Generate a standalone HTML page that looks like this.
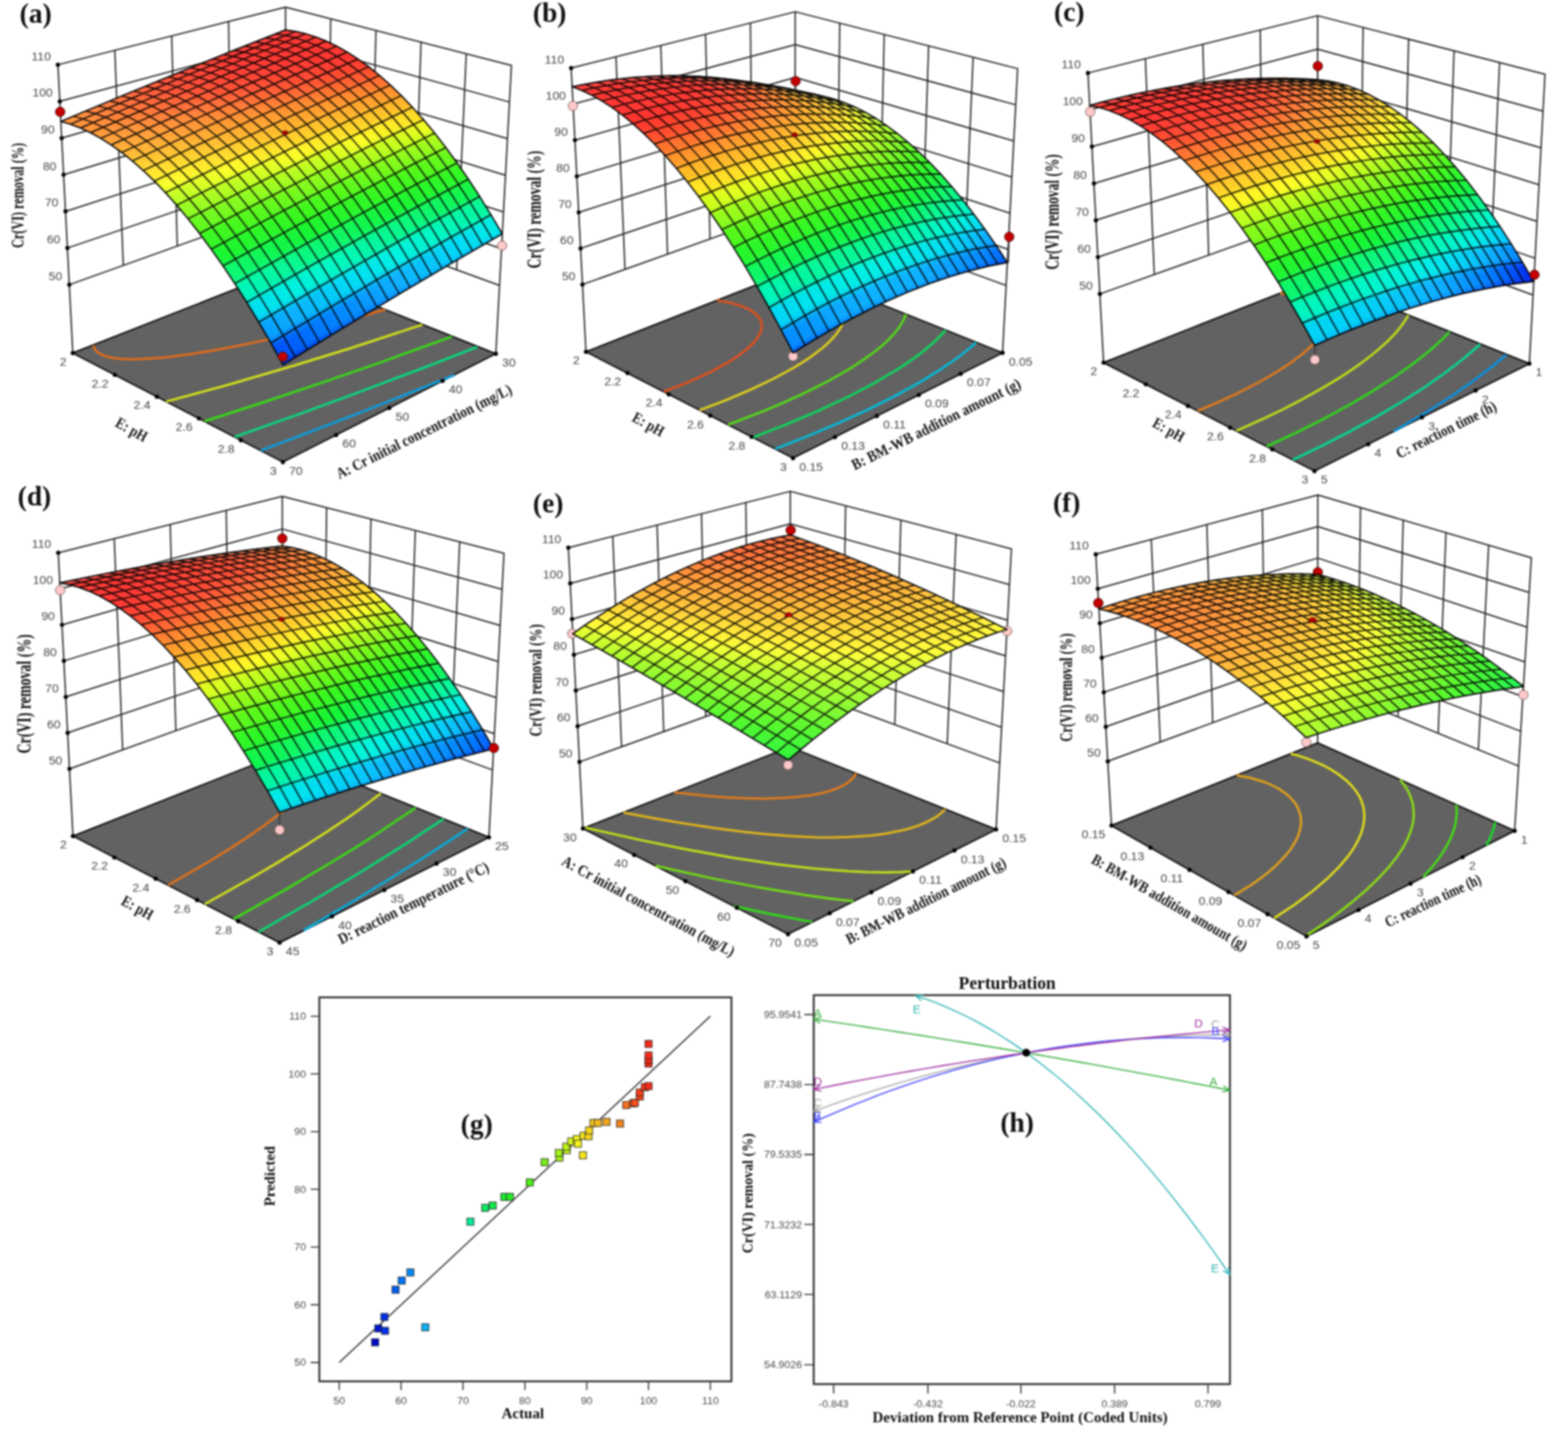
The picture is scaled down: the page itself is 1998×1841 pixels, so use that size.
<!DOCTYPE html>
<html lang="en"><head><meta charset="utf-8"><title>Response surface plots</title>
<style>html,body{margin:0;padding:0;background:#fff}body{width:1998px;height:1841px;overflow:hidden}svg{display:block}</style>
</head><body>
<svg xmlns="http://www.w3.org/2000/svg" width="1998" height="1841" viewBox="0 0 1998 1841">
<defs><filter id="sm" x="-5%" y="-5%" width="110%" height="110%" color-interpolation-filters="sRGB"><feGaussianBlur stdDeviation="4.6"/></filter><filter id="gb" x="0" y="0" width="100%" height="100%" filterUnits="userSpaceOnUse" color-interpolation-filters="sRGB"><feGaussianBlur stdDeviation="0.8"/></filter></defs>
<rect width="1998" height="1841" fill="#fff"/>
<g filter="url(#gb)">
<rect width="1998" height="1841" fill="#fff"/>
<g id="p_a">
<path d="M88.3 362.7L363.4 264.2M363.4 264.2L636.5 363.6M85.9 316L363.5 221.7M363.5 221.7L639 316.9M83.5 269.3L363.5 179.2M363.5 179.2L641.6 270.2M81 222.6L363.6 136.7M363.6 136.7L644.1 223.4M78.6 175.9L363.7 94.2M363.7 94.2L646.6 176.7M76.2 129.2L363.7 51.7M363.7 51.7L649.2 130M73.8 82.5L363.8 9.2M363.8 9.2L651.7 83.3M157.1 338.1L146.3 64.2M225.9 313.5L218.8 45.9M294.6 288.9L291.3 27.5M418 284.1L421.4 24M472.7 304L479 38.8M527.3 323.8L536.5 53.7M581.9 343.7L594.1 68.5M92.8 449.8L73.8 82.5M363.3 343.5L363.8 9.2M631.8 450.7L651.7 83.3" fill="none" stroke="#262626" stroke-width="1.75" stroke-linecap="round"/>
<polygon points="92.8,449.8 360.5,588.7 631.8,450.7 363.3,343.5" fill="#626262" stroke="#111" stroke-width="2" stroke-linejoin="round"/>
<path d="M119 439.9L120.2 443.9L121.2 445.4L122.7 447.4L126.6 450.4L132.1 453L138.2 454.8L145.9 456.3L154.9 457.2L165.2 457.7L176.6 457.6L203.2 456L218.2 454.5L246.6 450.6L270.1 446.8L302.4 440.8L332.1 434.6L368.7 426.3L403.9 417.7L457.3 403.7L490.9 394.4" fill="none" stroke="#e06c1b" stroke-width="3" stroke-linecap="butt" stroke-linejoin="round"/>
<path d="M211.8 511.6L288.1 491L373.1 466.3L446.3 443.7L538.3 413.6" fill="none" stroke="#d3e01a" stroke-width="3" stroke-linecap="butt" stroke-linejoin="round"/>
<path d="M260.6 536.7L333.6 513.2L415.9 485.7L488.9 460.3L575.8 428.8" fill="none" stroke="#38da17" stroke-width="3" stroke-linecap="butt" stroke-linejoin="round"/>
<path d="M299.2 556.6L384.6 526.3L451.4 501.9L538.8 469L608.3 441.9" fill="none" stroke="#06da7e" stroke-width="3" stroke-linecap="butt" stroke-linejoin="round"/>
<path d="M332.7 573.8L403.3 547.2L464.2 523.7L579.1 477.9" fill="none" stroke="#0a9ee0" stroke-width="3" stroke-linecap="butt" stroke-linejoin="round"/>
<g fill="#000"><circle cx="88.3" cy="362.7" r="2.7"/><circle cx="85.9" cy="316" r="2.7"/><circle cx="83.5" cy="269.3" r="2.7"/><circle cx="81" cy="222.6" r="2.7"/><circle cx="78.6" cy="175.9" r="2.7"/><circle cx="76.2" cy="129.2" r="2.7"/><circle cx="73.8" cy="82.5" r="2.7"/><circle cx="92.8" cy="449.8" r="2.7"/><circle cx="146.3" cy="477.6" r="2.7"/><circle cx="199.9" cy="505.4" r="2.7"/><circle cx="253.4" cy="533.1" r="2.7"/><circle cx="307" cy="560.9" r="2.7"/><circle cx="360.5" cy="588.7" r="2.7"/><circle cx="428.3" cy="554.2" r="2.7"/><circle cx="496.1" cy="519.7" r="2.7"/><circle cx="564" cy="485.2" r="2.7"/><circle cx="631.8" cy="450.7" r="2.7"/></g>
<line x1="639.7" y1="313" x2="639.7" y2="296" stroke="#333" stroke-width="1.4"/><circle cx="639.7" cy="313" r="6" fill="#ffc9c9" stroke="#7d6060" stroke-width="1"/>
<clipPath id="cp_a"><path d="M77.5 154.7L89.9 158.3L102.5 163.1L115.3 169.1L128.4 176.2L141.6 184.6L155.1 194.2L168.7 205.1L182.6 217.3L196.6 230.7L210.8 245.4L225.1 261.4L239.6 278.8L254.3 297.4L269.1 317.4L284.1 338.7L299.2 361.3L314.4 385.2L329.7 410.5L345.2 437.1L360.7 465L437.1 417.9L508.9 374.6L576.4 334.7L640 298L625.6 273.6L611.2 250.3L596.8 228.3L582.4 207.5L568.1 187.9L553.8 169.5L539.6 152.4L525.4 136.5L511.4 121.8L497.4 108.3L483.5 96.1L469.7 85L456 75.1L442.5 66.4L429 58.8L415.7 52.4L402.5 47.2L389.5 43L376.6 40L363.8 38.1L298 64.1L228.6 92.1L155.2 122.2Z"/></clipPath>
<g clip-path="url(#cp_a)"><g filter="url(#sm)">
<path d="M351.2 37.2l12.6 0.9 12.7 -5 -12.6 -0.8z" fill="#ff332e"/>
<path d="M338.3 42.2l12.6 0.9 12.9 -5 -12.6 -0.9z" fill="#ff332e"/>
<path d="M363.8 38.1l12.8 1.9 12.7 -5 -12.8 -1.9z" fill="#ff332e"/>
<path d="M325.3 47.2l12.6 1 13 -5.1 -12.6 -0.9z" fill="#ff332e"/>
<path d="M376.6 40l12.9 3 12.7 -5.1 -12.9 -2.9z" fill="#ff332e"/>
<path d="M312.2 52.4l12.6 1 13.1 -5.2 -12.6 -1z" fill="#ff332e"/>
<path d="M389.5 43l13 4.2 12.8 -5.2 -13.1 -4.1z" fill="#ff332e"/>
<path d="M298.9 57.6l12.6 1.1 13.3 -5.3 -12.6 -1z" fill="#ff332e"/>
<path d="M402.5 47.2l13.2 5.2 12.8 -5.2 -13.2 -5.2z" fill="#ff332e"/>
<path d="M285.5 62.9l12.5 1.2 13.5 -5.4 -12.6 -1.1z" fill="#ff332e"/>
<path d="M415.7 52.4l13.3 6.4 12.8 -5.3 -13.3 -6.3z" fill="#ff332e"/>
<path d="M271.9 68.2l12.5 1.3 13.6 -5.4 -12.5 -1.2z" fill="#ff352f"/>
<path d="M429 58.8l13.5 7.6 12.7 -5.5 -13.4 -7.4z" fill="#ff332e"/>
<path d="M258.2 73.7l12.5 1.3 13.7 -5.5 -12.5 -1.3z" fill="#ff392f"/>
<path d="M442.5 66.4l13.6 8.7 12.7 -5.5 -13.6 -8.7z" fill="#ff312c"/>
<path d="M244.3 79.2l12.5 1.4 13.9 -5.6 -12.5 -1.3z" fill="#ff3e30"/>
<path d="M456.1 75.1l13.6 9.9 12.7 -5.7 -13.6 -9.7z" fill="#ff382b"/>
<path d="M469.7 85l13.8 11.1 12.7 -5.8 -13.8 -11z" fill="#ff462b"/>
<path d="M230.3 84.8l12.5 1.5 14 -5.7 -12.5 -1.4z" fill="#ff4231"/>
<path d="M483.5 96.1l13.9 12.2 12.7 -5.8 -13.9 -12.2z" fill="#ff682d"/>
<path d="M216.1 90.5l12.5 1.6 14.2 -5.8 -12.5 -1.5z" fill="#ff4631"/>
<path d="M497.4 108.3l14 13.5 12.6 -5.9 -13.9 -13.4z" fill="#ff8e2a"/>
<path d="M201.8 96.3l12.4 1.7 14.4 -5.9 -12.5 -1.6z" fill="#ff4b32"/>
<path d="M511.4 121.8l14 14.7 12.7 -6 -14.1 -14.6z" fill="#ffae27"/>
<path d="M525.4 136.5l14.2 15.9 12.6 -6.1 -14.1 -15.8z" fill="#ffd524"/>
<path d="M187.3 102.1l12.4 1.8 14.5 -5.9 -12.4 -1.7z" fill="#ff5133"/>
<path d="M539.6 152.4l14.2 17.1 12.5 -6.2 -14.1 -17z" fill="#faff20"/>
<path d="M172.7 108.1l12.4 1.8 14.6 -6 -12.4 -1.8z" fill="#ff5a34"/>
<path d="M553.8 169.5l14.3 18.4 12.5 -6.4 -14.3 -18.2z" fill="#acfc1a"/>
<path d="M568.1 187.9l14.3 19.6 12.5 -6.5 -14.3 -19.5z" fill="#6ef91a"/>
<path d="M157.8 114.1l12.4 1.9 14.9 -6.1 -12.4 -1.8z" fill="#ff6336"/>
<path d="M582.4 207.5l14.4 20.8 12.4 -6.6 -14.3 -20.7z" fill="#36f71f"/>
<path d="M596.8 228.3l14.4 22 12.3 -6.7 -14.3 -21.9z" fill="#13f53d"/>
<path d="M142.9 120.2l12.3 2 15 -6.2 -12.4 -1.9z" fill="#ff6c37"/>
<path d="M611.2 250.3l14.4 23.3 12.3 -6.9 -14.4 -23.1z" fill="#07f792"/>
<path d="M625.6 273.6l14.4 24.4 12.3 -7 -14.4 -24.3z" fill="#00efe3"/>
<path d="M127.7 126.4l12.3 2.2 15.2 -6.4 -12.3 -2z" fill="#ff7537"/>
<path d="M640 298l14.5 25.7 12.2 -7.1 -14.4 -25.6z" fill="#0dafff"/>
<path d="M112.4 132.8l12.2 2.1 15.4 -6.3 -12.3 -2.2z" fill="#ff7e37"/>
<path d="M627.6 305.1l14.5 25.9 12.4 -7.3 -14.5 -25.7z" fill="#0ba9ff"/>
<path d="M96.9 139.2l12.2 2.2 15.5 -6.5 -12.2 -2.1z" fill="#ff8737"/>
<path d="M615.1 312.3l14.5 26 12.5 -7.3 -14.5 -25.9z" fill="#0aa3ff"/>
<path d="M81.2 145.7l12.2 2.3 15.7 -6.6 -12.2 -2.2z" fill="#ff9037"/>
<path d="M602.3 319.7l14.7 26.1 12.6 -7.5 -14.5 -26z" fill="#089cff"/>
<path d="M65.3 152.3l12.2 2.4 15.9 -6.7 -12.2 -2.3z" fill="#ff9637"/>
<path d="M589.5 327.1l14.7 26.3 12.8 -7.6 -14.7 -26.1z" fill="#0796ff"/>
<path d="M49.2 159l12.2 2.5 16.1 -6.8 -12.2 -2.4z" fill="#ff9d37"/>
<path d="M576.4 334.7l14.8 26.4 13 -7.7 -14.7 -26.3z" fill="#058fff"/>
<path d="M61.4 161.5l12.4 3.7 16.1 -6.9 -12.4 -3.6z" fill="#ff9837"/>
<path d="M563.3 342.4l14.8 26.6 13.1 -7.9 -14.8 -26.4z" fill="#0489ff"/>
<path d="M73.8 165.2l12.6 4.9 16.1 -7 -12.6 -4.8z" fill="#ff9737"/>
<path d="M549.9 350.3l14.9 26.7 13.3 -8 -14.8 -26.6z" fill="#0282ff"/>
<path d="M86.4 170.1l12.8 6.1 16.1 -7.1 -12.8 -6z" fill="#ff9937"/>
<path d="M536.4 358.2l14.9 26.9 13.5 -8.1 -14.9 -26.7z" fill="#017bff"/>
<path d="M99.2 176.2l13 7.2 16.2 -7.2 -13.1 -7.1z" fill="#ff9f37"/>
<path d="M522.7 366.4l15 27 13.6 -8.3 -14.9 -26.9z" fill="#0071fe"/>
<path d="M112.2 183.4l13.2 8.5 16.2 -7.3 -13.2 -8.4z" fill="#ffa837"/>
<path d="M508.9 374.6l15 27.2 13.8 -8.4 -15 -27z" fill="#0066fc"/>
<path d="M125.4 191.9l13.5 9.8 16.2 -7.5 -13.5 -9.6z" fill="#ffb436"/>
<path d="M494.9 383l15.1 27.4 13.9 -8.6 -15 -27.2z" fill="#005afa"/>
<path d="M138.9 201.7l13.6 11 16.2 -7.6 -13.6 -10.9z" fill="#ffc234"/>
<path d="M480.7 391.5l15.2 27.6 14.1 -8.7 -15.1 -27.4z" fill="#004ff8"/>
<path d="M152.5 212.7l13.8 12.3 16.3 -7.7 -13.9 -12.2z" fill="#ffd631"/>
<path d="M466.4 400.1l15.2 27.8 14.3 -8.8 -15.2 -27.6z" fill="#0043f6"/>
<path d="M166.3 225l14.1 13.6 16.2 -7.9 -14 -13.4z" fill="#ffee2e"/>
<path d="M451.8 408.9l15.3 28 14.5 -9 -15.2 -27.8z" fill="#0036f3"/>
<path d="M180.4 238.6l14.2 14.8 16.2 -8 -14.2 -14.7z" fill="#eaff29"/>
<path d="M437.1 417.9l15.3 28.2 14.7 -9.2 -15.3 -28z" fill="#0029e7"/>
<path d="M194.6 253.4l14.3 16.2 16.2 -8.2 -14.3 -16z" fill="#b8fd24"/>
<path d="M208.9 269.6l14.6 17.5 16.1 -8.3 -14.5 -17.4z" fill="#8afa21"/>
<path d="M422.2 427l15.4 28.4 14.8 -9.3 -15.3 -28.2z" fill="#001bdc"/>
<path d="M223.5 287.1l14.7 18.8 16.1 -8.5 -14.7 -18.6z" fill="#5cf81e"/>
<path d="M407.1 436.3l15.5 28.5 15 -9.4 -15.4 -28.4z" fill="#000ed0"/>
<path d="M238.2 305.9l14.8 20.2 16.1 -8.7 -14.8 -20z" fill="#33f724"/>
<path d="M253 326.1l15 21.4 16.1 -8.8 -15 -21.3z" fill="#14f538"/>
<path d="M391.8 445.7l15.5 28.7 15.3 -9.6 -15.5 -28.5z" fill="#0007c7"/>
<path d="M268 347.5l15.1 22.8 16.1 -9 -15.1 -22.6z" fill="#0af77d"/>
<path d="M376.4 455.2l15.5 29 15.4 -9.8 -15.5 -28.7z" fill="#0000bf"/>
<path d="M283.1 370.3l15.3 24.2 16 -9.3 -15.2 -23.9z" fill="#00f6c4"/>
<path d="M298.4 394.5l15.4 25.4 15.9 -9.4 -15.3 -25.3z" fill="#01d8f5"/>
<path d="M360.7 465l15.6 29.2 15.6 -10 -15.5 -29z" fill="#0000bb"/>
<path d="M313.8 419.9l15.4 26.8 16 -9.6 -15.5 -26.6z" fill="#0899ff"/>
<path d="M329.2 446.7l15.6 28.1 15.9 -9.8 -15.5 -27.9z" fill="#0047f7"/>
<path d="M344.8 474.8l15.7 29.5 15.8 -10.1 -15.6 -29.2z" fill="#0000b6"/>
<path d="M350.9 43.1l12.8 2 12.9 -5.1 -12.8 -1.9z" fill="#ff332e"/>
<path d="M337.9 48.2l12.8 2.1 13 -5.2 -12.8 -2z" fill="#ff332e"/>
<path d="M363.7 45.1l12.9 3.1 12.9 -5.2 -12.9 -3z" fill="#ff332e"/>
<path d="M324.8 53.4l12.7 2.2 13.2 -5.3 -12.8 -2.1z" fill="#ff332e"/>
<path d="M350.7 50.3l12.9 3.2 13 -5.3 -12.9 -3.1z" fill="#ff332e"/>
<path d="M376.6 48.2l13 4.3 12.9 -5.3 -13 -4.2z" fill="#ff332e"/>
<path d="M311.5 58.7l12.7 2.3 13.3 -5.4 -12.7 -2.2z" fill="#ff332e"/>
<path d="M337.5 55.6l12.9 3.3 13.2 -5.4 -12.9 -3.2z" fill="#ff332e"/>
<path d="M363.6 53.5l13 4.3 13 -5.3 -13 -4.3z" fill="#ff332e"/>
<path d="M389.6 52.5l13.2 5.3 12.9 -5.4 -13.2 -5.2z" fill="#ff332e"/>
<path d="M298 64.1l12.7 2.3 13.5 -5.4 -12.7 -2.3z" fill="#ff332e"/>
<path d="M324.2 61l12.9 3.3 13.3 -5.4 -12.9 -3.3z" fill="#ff332e"/>
<path d="M350.4 58.9l13 4.4 13.2 -5.5 -13 -4.3z" fill="#ff332e"/>
<path d="M402.8 57.8l13.4 6.5 12.8 -5.5 -13.3 -6.4z" fill="#ff332e"/>
<path d="M376.6 57.8l13.2 5.4 13 -5.4 -13.2 -5.3z" fill="#ff332e"/>
<path d="M284.4 69.5l12.8 2.4 13.5 -5.5 -12.7 -2.3z" fill="#ff332e"/>
<path d="M310.7 66.4l12.9 3.4 13.5 -5.5 -12.9 -3.3z" fill="#ff332e"/>
<path d="M416.2 64.3l13.4 7.6 12.9 -5.5 -13.5 -7.6z" fill="#ff332e"/>
<path d="M337.1 64.3l13 4.5 13.3 -5.5 -13 -4.4z" fill="#ff332e"/>
<path d="M389.8 63.2l13.3 6.6 13.1 -5.5 -13.4 -6.5z" fill="#ff332e"/>
<path d="M363.4 63.3l13.2 5.5 13.2 -5.6 -13.2 -5.4z" fill="#ff332e"/>
<path d="M270.7 75l12.7 2.5 13.8 -5.6 -12.8 -2.4z" fill="#ff352f"/>
<path d="M429.6 71.9l13.6 8.8 12.9 -5.6 -13.6 -8.7z" fill="#ff322c"/>
<path d="M297.2 71.9l12.8 3.5 13.6 -5.6 -12.9 -3.4z" fill="#ff332e"/>
<path d="M403.1 69.8l13.5 7.7 13 -5.6 -13.4 -7.6z" fill="#ff332e"/>
<path d="M323.6 69.8l13.1 4.6 13.4 -5.6 -13 -4.5z" fill="#ff332e"/>
<path d="M376.6 68.8l13.4 6.6 13.1 -5.6 -13.3 -6.6z" fill="#ff332e"/>
<path d="M350.1 68.8l13.2 5.6 13.3 -5.6 -13.2 -5.5z" fill="#ff332e"/>
<path d="M443.2 80.7l13.7 10 12.8 -5.7 -13.6 -9.9z" fill="#ff3d2c"/>
<path d="M256.8 80.6l12.7 2.6 13.9 -5.7 -12.7 -2.5z" fill="#ff392f"/>
<path d="M416.6 77.5l13.6 8.9 13 -5.7 -13.6 -8.8z" fill="#ff372d"/>
<path d="M283.4 77.5l12.9 3.6 13.7 -5.7 -12.8 -3.5z" fill="#ff332e"/>
<path d="M390 75.4l13.4 7.8 13.2 -5.7 -13.5 -7.7z" fill="#ff332e"/>
<path d="M310 75.4l13 4.7 13.7 -5.7 -13.1 -4.6z" fill="#ff332e"/>
<path d="M363.3 74.4l13.3 6.7 13.4 -5.7 -13.4 -6.6z" fill="#ff332e"/>
<path d="M336.7 74.4l13.1 5.7 13.5 -5.7 -13.2 -5.6z" fill="#ff332e"/>
<path d="M456.9 90.7l13.8 11.2 12.8 -5.8 -13.8 -11.1z" fill="#ff4e2c"/>
<path d="M430.2 86.4l13.7 10.1 13 -5.8 -13.7 -10z" fill="#ff412c"/>
<path d="M242.8 86.3l12.7 2.7 14 -5.8 -12.7 -2.6z" fill="#ff3e30"/>
<path d="M403.4 83.2l13.6 9 13.2 -5.8 -13.6 -8.9z" fill="#ff3b2e"/>
<path d="M269.5 83.2l12.9 3.7 13.9 -5.8 -12.9 -3.6z" fill="#ff382f"/>
<path d="M376.6 81.1l13.5 7.9 13.3 -5.8 -13.4 -7.8z" fill="#ff372f"/>
<path d="M296.3 81.1l13 4.7 13.7 -5.7 -13 -4.7z" fill="#ff342e"/>
<path d="M349.8 80.1l13.4 6.8 13.4 -5.8 -13.3 -6.7z" fill="#ff342e"/>
<path d="M323 80.1l13.2 5.7 13.6 -5.7 -13.1 -5.7z" fill="#ff332e"/>
<path d="M470.7 101.9l13.9 12.3 12.8 -5.9 -13.9 -12.2z" fill="#ff712d"/>
<path d="M443.9 96.5l13.8 11.3 13 -5.9 -13.8 -11.2z" fill="#ff572d"/>
<path d="M417 92.2l13.7 10.2 13.2 -5.9 -13.7 -10.1z" fill="#ff462d"/>
<path d="M228.6 92.1l12.6 2.7 14.3 -5.8 -12.7 -2.7z" fill="#ff4231"/>
<path d="M390.1 89l13.6 9.1 13.3 -5.9 -13.6 -9z" fill="#ff402e"/>
<path d="M255.5 89l12.8 3.7 14.1 -5.8 -12.9 -3.7z" fill="#ff3c30"/>
<path d="M363.2 86.9l13.5 8 13.4 -5.9 -13.5 -7.9z" fill="#ff3c30"/>
<path d="M282.4 86.9l13 4.8 13.9 -5.9 -13 -4.7z" fill="#ff382f"/>
<path d="M336.2 85.8l13.4 6.9 13.6 -5.8 -13.4 -6.8z" fill="#ff382f"/>
<path d="M309.3 85.8l13.2 5.9 13.7 -5.9 -13.2 -5.7z" fill="#ff372f"/>
<path d="M484.6 114.2l14 13.6 12.8 -6 -14 -13.5z" fill="#ff942a"/>
<path d="M457.7 107.8l13.9 12.4 13 -6 -13.9 -12.3z" fill="#ff7a2d"/>
<path d="M430.7 102.4l13.9 11.4 13.1 -6 -13.8 -11.3z" fill="#ff602e"/>
<path d="M403.7 98.1l13.8 10.3 13.2 -6 -13.7 -10.2z" fill="#ff4c2e"/>
<path d="M214.2 98l12.7 2.8 14.3 -6 -12.6 -2.7z" fill="#ff4732"/>
<path d="M376.7 94.9l13.6 9.2 13.4 -6 -13.6 -9.1z" fill="#ff442f"/>
<path d="M241.2 94.8l12.9 3.9 14.2 -6 -12.8 -3.7z" fill="#ff4131"/>
<path d="M498.6 127.8l14.1 14.8 12.7 -6.1 -14 -14.7z" fill="#ffb527"/>
<path d="M349.6 92.7l13.5 8.1 13.6 -5.9 -13.5 -8z" fill="#ff4030"/>
<path d="M268.3 92.7l13 4.9 14.1 -5.9 -13 -4.8z" fill="#ff3d30"/>
<path d="M322.5 91.7l13.3 7 13.8 -6 -13.4 -6.9z" fill="#ff3d30"/>
<path d="M295.4 91.7l13.1 5.9 14 -5.9 -13.2 -5.9z" fill="#ff3c30"/>
<path d="M471.6 120.2l14.1 13.7 12.9 -6.1 -14 -13.6z" fill="#ff9a2a"/>
<path d="M444.6 113.8l13.9 12.5 13.1 -6.1 -13.9 -12.4z" fill="#ff832c"/>
<path d="M417.5 108.4l13.8 11.4 13.3 -6 -13.9 -11.4z" fill="#ff692f"/>
<path d="M512.7 142.6l14.2 16 12.7 -6.2 -14.2 -15.9z" fill="#ffdc24"/>
<path d="M390.3 104.1l13.7 10.3 13.5 -6 -13.8 -10.3z" fill="#ff552f"/>
<path d="M199.7 103.9l12.6 2.9 14.6 -6 -12.7 -2.8z" fill="#ff4b32"/>
<path d="M363.1 100.8l13.6 9.3 13.6 -6 -13.6 -9.2z" fill="#ff4930"/>
<path d="M226.9 100.8l12.8 3.9 14.4 -6 -12.9 -3.9z" fill="#ff4531"/>
<path d="M485.7 133.9l14.1 14.9 12.9 -6.2 -14.1 -14.8z" fill="#ffbb27"/>
<path d="M335.8 98.7l13.5 8.2 13.8 -6.1 -13.5 -8.1z" fill="#ff4531"/>
<path d="M254.1 98.7l13 4.9 14.2 -6 -13 -4.9z" fill="#ff4231"/>
<path d="M308.5 97.6l13.4 7.1 13.9 -6 -13.3 -7z" fill="#ff4131"/>
<path d="M281.3 97.6l13.2 6 14 -6 -13.1 -5.9z" fill="#ff4030"/>
<path d="M458.5 126.3l14.1 13.8 13.1 -6.2 -14.1 -13.7z" fill="#ffa12a"/>
<path d="M526.9 158.6l14.2 17.3 12.7 -6.4 -14.2 -17.1z" fill="#edff1f"/>
<path d="M431.3 119.8l14 12.7 13.2 -6.2 -13.9 -12.5z" fill="#ff8b2c"/>
<path d="M404 114.4l13.9 11.6 13.4 -6.2 -13.8 -11.4z" fill="#ff732f"/>
<path d="M499.8 148.8l14.2 16.2 12.9 -6.4 -14.2 -16z" fill="#ffe324"/>
<path d="M376.7 110.1l13.7 10.5 13.6 -6.2 -13.7 -10.3z" fill="#ff5e30"/>
<path d="M185.1 109.9l12.5 3 14.7 -6.1 -12.6 -2.9z" fill="#ff5233"/>
<path d="M349.3 106.9l13.6 9.4 13.8 -6.2 -13.6 -9.3z" fill="#ff4f31"/>
<path d="M212.3 106.8l12.8 4 14.6 -6.1 -12.8 -3.9z" fill="#ff4a32"/>
<path d="M472.6 140.1l14.1 15 13.1 -6.3 -14.1 -14.9z" fill="#ffc227"/>
<path d="M321.9 104.7l13.5 8.3 13.9 -6.1 -13.5 -8.2z" fill="#ff4a32"/>
<path d="M541.1 175.9l14.3 18.4 12.7 -6.4 -14.3 -18.4z" fill="#a4fc1a"/>
<path d="M239.7 104.7l13 5 14.4 -6.1 -13 -4.9z" fill="#ff4631"/>
<path d="M294.5 103.6l13.3 7.3 14.1 -6.2 -13.4 -7.1z" fill="#ff4631"/>
<path d="M267.1 103.6l13.1 6.2 14.3 -6.2 -13.2 -6z" fill="#ff4531"/>
<path d="M445.3 132.5l14 13.9 13.3 -6.3 -14.1 -13.8z" fill="#ffa82a"/>
<path d="M514 165l14.3 17.3 12.8 -6.4 -14.2 -17.3z" fill="#dfff1e"/>
<path d="M417.9 126l14 12.8 13.4 -6.3 -14 -12.7z" fill="#ff922c"/>
<path d="M555.4 194.3l14.4 19.7 12.6 -6.5 -14.3 -19.6z" fill="#66f91a"/>
<path d="M390.4 120.6l13.9 11.7 13.6 -6.3 -13.9 -11.6z" fill="#ff7c2f"/>
<path d="M486.7 155.1l14.2 16.3 13.1 -6.4 -14.2 -16.2z" fill="#ffea24"/>
<path d="M362.9 116.3l13.8 10.5 13.7 -6.2 -13.7 -10.5z" fill="#ff6832"/>
<path d="M170.2 116l12.6 3.1 14.8 -6.2 -12.5 -3z" fill="#ff5b35"/>
<path d="M335.4 113l13.6 9.5 13.9 -6.2 -13.6 -9.4z" fill="#ff5932"/>
<path d="M197.6 112.9l12.8 4.1 14.7 -6.2 -12.8 -4z" fill="#ff4f33"/>
<path d="M459.3 146.4l14.2 15.1 13.2 -6.4 -14.1 -15z" fill="#ffc927"/>
<path d="M307.8 110.9l13.5 8.3 14.1 -6.2 -13.5 -8.3z" fill="#ff4f33"/>
<path d="M528.3 182.3l14.3 18.6 12.8 -6.6 -14.3 -18.4z" fill="#9bfb1a"/>
<path d="M225.1 110.8l13 5.2 14.6 -6.3 -13 -5z" fill="#ff4b32"/>
<path d="M280.2 109.8l13.4 7.3 14.2 -6.2 -13.3 -7.3z" fill="#ff4b32"/>
<path d="M252.7 109.7l13.1 6.3 14.4 -6.2 -13.1 -6.2z" fill="#ff4a32"/>
<path d="M569.8 214l14.4 21 12.6 -6.7 -14.4 -20.8z" fill="#32f722"/>
<path d="M431.9 138.8l14.1 14 13.3 -6.4 -14 -13.9z" fill="#ffae2a"/>
<path d="M500.9 171.4l14.4 17.5 13 -6.6 -14.3 -17.3z" fill="#d1ff1c"/>
<path d="M404.3 132.3l14 12.9 13.6 -6.4 -14 -12.8z" fill="#ff982c"/>
<path d="M542.6 200.9l14.4 19.8 12.8 -6.7 -14.4 -19.7z" fill="#5ff81a"/>
<path d="M376.7 126.8l13.9 11.8 13.7 -6.3 -13.9 -11.7z" fill="#ff862f"/>
<path d="M584.2 235l14.4 22.1 12.6 -6.8 -14.4 -22z" fill="#12f546"/>
<path d="M473.5 161.5l14.3 16.4 13.1 -6.5 -14.2 -16.3z" fill="#fff124"/>
<path d="M349 122.5l13.8 10.7 13.9 -6.4 -13.8 -10.5z" fill="#ff7132"/>
<path d="M155.2 122.2l12.5 3.2 15.1 -6.3 -12.6 -3.1z" fill="#ff6436"/>
<path d="M321.3 119.2l13.6 9.6 14.1 -6.3 -13.6 -9.5z" fill="#ff6233"/>
<path d="M182.8 119.1l12.7 4.2 14.9 -6.3 -12.8 -4.1z" fill="#ff5834"/>
<path d="M293.6 117.1l13.4 8.5 14.3 -6.4 -13.5 -8.3z" fill="#ff5834"/>
<path d="M446 152.8l14.2 15.3 13.3 -6.6 -14.2 -15.1z" fill="#ffd027"/>
<path d="M515.3 188.9l14.3 18.7 13 -6.7 -14.3 -18.6z" fill="#92fa1a"/>
<path d="M210.4 117l13 5.3 14.7 -6.3 -13 -5.2z" fill="#ff5133"/>
<path d="M265.8 116l13.3 7.4 14.5 -6.3 -13.4 -7.3z" fill="#ff5133"/>
<path d="M238.1 116l13.1 6.3 14.6 -6.3 -13.1 -6.3z" fill="#ff4f33"/>
<path d="M557 220.7l14.5 21.1 12.7 -6.8 -14.4 -21z" fill="#2df624"/>
<path d="M598.6 257.1l14.5 23.4 12.5 -6.9 -14.4 -23.3z" fill="#05f79a"/>
<path d="M418.3 145.2l14.1 14.1 13.6 -6.5 -14.1 -14z" fill="#ffb52a"/>
<path d="M487.8 177.9l14.3 17.6 13.2 -6.6 -14.4 -17.5z" fill="#c6ff1c"/>
<path d="M390.6 138.6l14 13 13.7 -6.4 -14 -12.9z" fill="#ff9f2c"/>
<path d="M529.6 207.6l14.5 19.9 12.9 -6.8 -14.4 -19.8z" fill="#57f81a"/>
<path d="M613.1 280.5l14.5 24.6 12.4 -7.1 -14.4 -24.4z" fill="#00eae7"/>
<path d="M362.8 133.2l13.9 11.9 13.9 -6.5 -13.9 -11.8z" fill="#ff8d2f"/>
<path d="M571.5 241.8l14.5 22.3 12.6 -7 -14.4 -22.1z" fill="#10f64f"/>
<path d="M460.2 168.1l14.2 16.4 13.4 -6.6 -14.3 -16.4z" fill="#fff824"/>
<path d="M334.9 128.8l13.8 10.8 14.1 -6.4 -13.8 -10.7z" fill="#ff7b32"/>
<path d="M140 128.6l12.5 3.2 15.2 -6.4 -12.5 -3.2z" fill="#ff6e37"/>
<path d="M307 125.6l13.7 9.7 14.2 -6.5 -13.6 -9.6z" fill="#ff6c34"/>
<path d="M167.7 125.4l12.8 4.3 15 -6.4 -12.7 -4.2z" fill="#ff6236"/>
<path d="M279.1 123.4l13.5 8.6 14.4 -6.4 -13.4 -8.5z" fill="#ff6235"/>
<path d="M432.4 159.3l14.2 15.4 13.6 -6.6 -14.2 -15.3z" fill="#ffd827"/>
<path d="M502.1 195.5l14.4 18.8 13.1 -6.7 -14.3 -18.7z" fill="#8afa1a"/>
<path d="M195.5 123.3l13 5.3 14.9 -6.3 -13 -5.3z" fill="#ff5b35"/>
<path d="M251.2 122.3l13.4 7.5 14.5 -6.4 -13.3 -7.4z" fill="#ff5b35"/>
<path d="M223.4 122.3l13.1 6.4 14.7 -6.4 -13.1 -6.3z" fill="#ff5834"/>
<path d="M544.1 227.5l14.5 21.2 12.9 -6.9 -14.5 -21.1z" fill="#29f627"/>
<path d="M586 264.1l14.5 23.5 12.6 -7.1 -14.5 -23.4z" fill="#04f7a3"/>
<path d="M404.6 151.6l14.1 14.3 13.7 -6.6 -14.1 -14.1z" fill="#ffbc2a"/>
<path d="M474.4 184.5l14.4 17.8 13.3 -6.8 -14.3 -17.6z" fill="#bdfe1c"/>
<path d="M376.7 145.1l14 13.1 13.9 -6.6 -14 -13z" fill="#ffa62c"/>
<path d="M516.5 214.3l14.5 20.1 13.1 -6.9 -14.5 -19.9z" fill="#4ff81a"/>
<path d="M600.5 287.6l14.6 24.7 12.5 -7.2 -14.5 -24.6z" fill="#00e6eb"/>
<path d="M348.7 139.6l13.9 12 14.1 -6.5 -13.9 -11.9z" fill="#ff942f"/>
<path d="M558.6 248.7l14.5 22.4 12.9 -7 -14.5 -22.3z" fill="#0ff658"/>
<path d="M446.6 174.7l14.4 16.6 13.4 -6.8 -14.2 -16.4z" fill="#fdff24"/>
<path d="M320.7 135.3l13.8 10.9 14.2 -6.6 -13.8 -10.8z" fill="#ff8432"/>
<path d="M124.6 134.9l12.5 3.4 15.4 -6.5 -12.5 -3.2z" fill="#ff7737"/>
<path d="M292.6 132l13.7 9.8 14.4 -6.5 -13.7 -9.7z" fill="#ff7534"/>
<path d="M152.5 131.8l12.7 4.4 15.3 -6.5 -12.8 -4.3z" fill="#ff6b37"/>
<path d="M264.6 129.8l13.5 8.7 14.5 -6.5 -13.5 -8.6z" fill="#ff6b37"/>
<path d="M418.7 165.9l14.3 15.5 13.6 -6.7 -14.2 -15.4z" fill="#ffdf27"/>
<path d="M488.8 202.3l14.5 18.9 13.2 -6.9 -14.4 -18.8z" fill="#81fa1a"/>
<path d="M180.5 129.7l12.9 5.4 15.1 -6.5 -13 -5.3z" fill="#ff6436"/>
<path d="M236.5 128.7l13.3 7.6 14.8 -6.5 -13.4 -7.5z" fill="#ff6436"/>
<path d="M208.5 128.6l13.1 6.6 14.9 -6.5 -13.1 -6.4z" fill="#ff6236"/>
<path d="M531 234.4l14.6 21.3 13 -7 -14.5 -21.2z" fill="#24f62a"/>
<path d="M573.1 271.1l14.6 23.7 12.8 -7.2 -14.5 -23.5z" fill="#02f7ac"/>
<path d="M390.7 158.2l14.2 14.4 13.8 -6.7 -14.1 -14.3z" fill="#ffc329"/>
<path d="M461 191.3l14.4 17.8 13.4 -6.8 -14.4 -17.8z" fill="#b4fd1c"/>
<path d="M362.6 151.6l14.1 13.3 14 -6.7 -14 -13.1z" fill="#ffad2c"/>
<path d="M503.3 221.2l14.5 20.2 13.2 -7 -14.5 -20.1z" fill="#46f81a"/>
<path d="M587.7 294.8l14.6 24.9 12.8 -7.4 -14.6 -24.7z" fill="#00e1ef"/>
<path d="M334.5 146.2l13.9 12.1 14.2 -6.7 -13.9 -12z" fill="#ff9b2f"/>
<path d="M433 181.4l14.3 16.7 13.7 -6.8 -14.4 -16.6z" fill="#efff22"/>
<path d="M545.6 255.7l14.6 22.6 12.9 -7.2 -14.5 -22.4z" fill="#0ef661"/>
<path d="M306.3 141.8l13.8 11 14.4 -6.6 -13.8 -10.9z" fill="#ff8d32"/>
<path d="M109.1 141.4l12.5 3.5 15.5 -6.6 -12.5 -3.4z" fill="#ff8037"/>
<path d="M278.1 138.5l13.6 9.9 14.6 -6.6 -13.7 -9.8z" fill="#ff7f34"/>
<path d="M137.1 138.3l12.7 4.5 15.4 -6.6 -12.7 -4.4z" fill="#ff7537"/>
<path d="M249.8 136.3l13.5 8.8 14.8 -6.6 -13.5 -8.7z" fill="#ff7437"/>
<path d="M404.9 172.6l14.2 15.6 13.9 -6.8 -14.3 -15.5z" fill="#ffe727"/>
<path d="M475.4 209.1l14.5 19.1 13.4 -7 -14.5 -18.9z" fill="#79f91a"/>
<path d="M165.2 136.2l13 5.5 15.2 -6.6 -12.9 -5.4z" fill="#ff6e37"/>
<path d="M221.6 135.2l13.3 7.7 14.9 -6.6 -13.3 -7.6z" fill="#ff6e37"/>
<path d="M193.4 135.1l13.1 6.7 15.1 -6.6 -13.1 -6.6z" fill="#ff6b37"/>
<path d="M517.8 241.4l14.6 21.5 13.2 -7.2 -14.6 -21.3z" fill="#20f52c"/>
<path d="M560.2 278.3l14.6 23.8 12.9 -7.3 -14.6 -23.7z" fill="#01f7b5"/>
<path d="M376.7 164.9l14.2 14.5 14 -6.8 -14.2 -14.4z" fill="#ffcb29"/>
<path d="M447.3 198.1l14.5 18 13.6 -7 -14.4 -17.8z" fill="#abfc1c"/>
<path d="M348.4 158.3l14.1 13.4 14.2 -6.8 -14.1 -13.3z" fill="#ffb42c"/>
<path d="M489.9 228.2l14.5 20.4 13.4 -7.2 -14.5 -20.2z" fill="#3ff71a"/>
<path d="M320.1 152.8l13.9 12.2 14.4 -6.7 -13.9 -12.1z" fill="#ffa22f"/>
<path d="M574.8 302.1l14.7 25 12.8 -7.4 -14.6 -24.9z" fill="#00ddf4"/>
<path d="M419.1 188.2l14.4 16.9 13.8 -7 -14.3 -16.7z" fill="#e0ff21"/>
<path d="M532.4 262.9l14.6 22.7 13.2 -7.3 -14.6 -22.6z" fill="#0cf66b"/>
<path d="M291.7 148.4l13.8 11.1 14.6 -6.7 -13.8 -11z" fill="#ff9432"/>
<path d="M93.4 148l12.4 3.5 15.8 -6.6 -12.5 -3.5z" fill="#ff8a37"/>
<path d="M263.3 145.1l13.7 10 14.7 -6.7 -13.6 -9.9z" fill="#ff8834"/>
<path d="M121.6 144.9l12.6 4.5 15.6 -6.6 -12.7 -4.5z" fill="#ff7e37"/>
<path d="M234.9 142.9l13.5 8.9 14.9 -6.7 -13.5 -8.8z" fill="#ff7e37"/>
<path d="M390.9 179.4l14.2 15.7 14 -6.9 -14.2 -15.6z" fill="#ffee27"/>
<path d="M149.8 142.8l12.9 5.6 15.5 -6.7 -13 -5.5z" fill="#ff7737"/>
<path d="M461.8 216.1l14.5 19.2 13.6 -7.1 -14.5 -19.1z" fill="#71f91a"/>
<path d="M206.5 141.8l13.3 7.8 15.1 -6.7 -13.3 -7.7z" fill="#ff7737"/>
<path d="M178.2 141.7l13.1 6.7 15.2 -6.6 -13.1 -6.7z" fill="#ff7537"/>
<path d="M504.4 248.6l14.7 21.6 13.3 -7.3 -14.6 -21.5z" fill="#1bf52f"/>
<path d="M547 285.6l14.7 23.9 13.1 -7.4 -14.6 -23.8z" fill="#00f7bd"/>
<path d="M362.5 171.7l14.2 14.6 14.2 -6.9 -14.2 -14.5z" fill="#ffd229"/>
<path d="M433.5 205.1l14.5 18.1 13.8 -7.1 -14.5 -18z" fill="#a2fc1c"/>
<path d="M334 165l14.1 13.5 14.4 -6.8 -14.1 -13.4z" fill="#ffbb2c"/>
<path d="M476.3 235.3l14.6 20.5 13.5 -7.2 -14.5 -20.4z" fill="#3af71d"/>
<path d="M305.5 159.5l14 12.4 14.5 -6.9 -13.9 -12.2z" fill="#ffa92f"/>
<path d="M561.7 309.5l14.7 25.2 13.1 -7.6 -14.7 -25z" fill="#01d6f6"/>
<path d="M405.1 195.1l14.4 17 14 -7 -14.4 -16.9z" fill="#d1ff1f"/>
<path d="M519.1 270.2l14.6 22.8 13.3 -7.4 -14.6 -22.7z" fill="#0bf774"/>
<path d="M277 155.1l13.8 11.3 14.7 -6.9 -13.8 -11.1z" fill="#ff9b32"/>
<path d="M77.5 154.7l12.4 3.6 15.9 -6.8 -12.4 -3.5z" fill="#ff9237"/>
<path d="M248.4 151.8l13.6 10.1 15 -6.8 -13.7 -10z" fill="#ff9034"/>
<path d="M105.8 151.5l12.7 4.7 15.7 -6.8 -12.6 -4.5z" fill="#ff8837"/>
<path d="M219.8 149.6l13.5 9 15.1 -6.8 -13.5 -8.9z" fill="#ff8837"/>
<path d="M376.7 186.3l14.3 15.8 14.1 -7 -14.2 -15.7z" fill="#fff627"/>
<path d="M134.2 149.4l12.9 5.8 15.6 -6.8 -12.9 -5.6z" fill="#ff8137"/>
<path d="M448 223.2l14.5 19.3 13.8 -7.2 -14.5 -19.2z" fill="#68f91a"/>
<path d="M191.3 148.4l13.3 8 15.2 -6.8 -13.3 -7.8z" fill="#ff8137"/>
<path d="M162.7 148.4l13.1 6.8 15.5 -6.8 -13.1 -6.7z" fill="#ff7f37"/>
<path d="M490.9 255.8l14.7 21.7 13.5 -7.3 -14.7 -21.6z" fill="#16f532"/>
<path d="M533.7 293l14.8 24.1 13.2 -7.6 -14.7 -23.9z" fill="#00f6c6"/>
<path d="M348.1 178.5l14.2 14.8 14.4 -7 -14.2 -14.6z" fill="#ffda29"/>
<path d="M419.5 212.1l14.5 18.3 14 -7.2 -14.5 -18.1z" fill="#98fb1c"/>
<path d="M319.5 171.9l14.1 13.6 14.5 -7 -14.1 -13.5z" fill="#ffc22c"/>
<path d="M462.5 242.5l14.7 20.7 13.7 -7.4 -14.6 -20.5z" fill="#35f720"/>
<path d="M290.8 166.4l13.9 12.5 14.8 -7 -14 -12.4z" fill="#ffb02f"/>
<path d="M548.5 317.1l14.8 25.3 13.1 -7.7 -14.7 -25.2z" fill="#04cff8"/>
<path d="M391 202.1l14.4 17.2 14.1 -7.2 -14.4 -17z" fill="#c6fe1f"/>
<path d="M505.6 277.5l14.7 23 13.4 -7.5 -14.6 -22.8z" fill="#0af77e"/>
<path d="M262 161.9l13.9 11.4 14.9 -6.9 -13.8 -11.3z" fill="#ffa232"/>
<path d="M233.3 158.6l13.7 10.3 15 -7 -13.6 -10.1z" fill="#ff9734"/>
<path d="M89.9 158.3l12.6 4.8 16 -6.9 -12.7 -4.7z" fill="#ff9037"/>
<path d="M204.6 156.4l13.4 9.1 15.3 -6.9 -13.5 -9z" fill="#ff9037"/>
<path d="M362.3 193.3l14.4 16 14.3 -7.2 -14.3 -15.8z" fill="#fffe27"/>
<path d="M118.5 156.2l12.8 5.9 15.8 -6.9 -12.9 -5.8z" fill="#ff8b37"/>
<path d="M434 230.4l14.6 19.5 13.9 -7.4 -14.5 -19.3z" fill="#5ff81a"/>
<path d="M175.8 155.2l13.3 8.1 15.5 -6.9 -13.3 -8z" fill="#ff8b37"/>
<path d="M147.1 155.2l13.1 6.9 15.6 -6.9 -13.1 -6.8z" fill="#ff8837"/>
<path d="M477.2 263.2l14.7 21.9 13.7 -7.6 -14.7 -21.7z" fill="#14f539"/>
<path d="M520.3 300.5l14.8 24.3 13.4 -7.7 -14.8 -24.1z" fill="#00f4cf"/>
<path d="M333.6 185.5l14.2 14.9 14.5 -7.1 -14.2 -14.8z" fill="#ffe129"/>
<path d="M405.4 219.3l14.5 18.4 14.1 -7.3 -14.5 -18.3z" fill="#8efa1c"/>
<path d="M304.7 178.9l14.2 13.7 14.7 -7.1 -14.1 -13.6z" fill="#ffca2c"/>
<path d="M448.6 249.9l14.7 20.7 13.9 -7.4 -14.7 -20.7z" fill="#30f623"/>
<path d="M275.9 173.3l13.9 12.6 14.9 -7 -13.9 -12.5z" fill="#ffb72f"/>
<path d="M535.1 324.8l14.8 25.5 13.4 -7.9 -14.8 -25.3z" fill="#06c7f9"/>
<path d="M376.7 209.3l14.4 17.2 14.3 -7.2 -14.4 -17.2z" fill="#bdfe1f"/>
<path d="M491.9 285.1l14.8 23.1 13.6 -7.7 -14.7 -23z" fill="#08f788"/>
<path d="M247 168.9l13.8 11.5 15.1 -7.1 -13.9 -11.4z" fill="#ffa931"/>
<path d="M218 165.5l13.7 10.4 15.3 -7 -13.7 -10.3z" fill="#ff9e34"/>
<path d="M189.1 163.3l13.5 9.2 15.4 -7 -13.4 -9.1z" fill="#ff9737"/>
<path d="M347.8 200.4l14.4 16.1 14.5 -7.2 -14.4 -16z" fill="#f2ff25"/>
<path d="M102.5 163.1l12.8 6 16 -7 -12.8 -5.9z" fill="#ff9237"/>
<path d="M419.9 237.7l14.7 19.6 14 -7.4 -14.6 -19.5z" fill="#57f81a"/>
<path d="M160.2 162.1l13.3 8.2 15.6 -7 -13.3 -8.1z" fill="#ff9337"/>
<path d="M131.3 162.1l13.1 7 15.8 -7 -13.1 -6.9z" fill="#ff9137"/>
<path d="M463.3 270.6l14.8 22.1 13.8 -7.6 -14.7 -21.9z" fill="#12f543"/>
<path d="M506.7 308.2l14.8 24.4 13.6 -7.8 -14.8 -24.3z" fill="#00f3d8"/>
<path d="M318.9 192.6l14.2 15 14.7 -7.2 -14.2 -14.9z" fill="#ffe929"/>
<path d="M391.1 226.5l14.6 18.6 14.2 -7.4 -14.5 -18.4z" fill="#86fa1c"/>
<path d="M289.8 185.9l14.2 13.9 14.9 -7.2 -14.2 -13.7z" fill="#ffd22c"/>
<path d="M434.6 257.3l14.7 20.9 14 -7.6 -14.7 -20.7z" fill="#2bf625"/>
<path d="M260.8 180.4l14 12.7 15 -7.2 -13.9 -12.6z" fill="#ffbf2f"/>
<path d="M521.5 332.6l14.9 25.6 13.5 -7.9 -14.8 -25.5z" fill="#08c0fb"/>
<path d="M362.2 216.5l14.4 17.4 14.5 -7.4 -14.4 -17.2z" fill="#b3fd1f"/>
<path d="M478.1 292.7l14.8 23.3 13.8 -7.8 -14.8 -23.1z" fill="#07f792"/>
<path d="M231.7 175.9l13.8 11.6 15.3 -7.1 -13.8 -11.5z" fill="#ffb031"/>
<path d="M202.6 172.5l13.6 10.5 15.5 -7.1 -13.7 -10.4z" fill="#ffa534"/>
<path d="M173.5 170.3l13.4 9.4 15.7 -7.2 -13.5 -9.2z" fill="#ff9e37"/>
<path d="M333.1 207.6l14.4 16.3 14.7 -7.4 -14.4 -16.1z" fill="#e3ff24"/>
<path d="M405.7 245.1l14.6 19.8 14.3 -7.6 -14.7 -19.6z" fill="#4ef81a"/>
<path d="M144.4 169.1l13.2 8.3 15.9 -7.1 -13.3 -8.2z" fill="#ff9a37"/>
<path d="M115.3 169.1l13.1 7.1 16 -7.1 -13.1 -7z" fill="#ff9837"/>
<path d="M449.3 278.2l14.8 22.2 14 -7.7 -14.8 -22.1z" fill="#11f64d"/>
<path d="M492.9 316l14.9 24.5 13.7 -7.9 -14.8 -24.4z" fill="#00f2e1"/>
<path d="M304 199.8l14.2 15.2 14.9 -7.4 -14.2 -15z" fill="#fff129"/>
<path d="M376.6 233.9l14.6 18.7 14.5 -7.5 -14.6 -18.6z" fill="#7df91c"/>
<path d="M274.8 193.1l14.1 14 15.1 -7.3 -14.2 -13.9z" fill="#ffd92c"/>
<path d="M420.3 264.9l14.8 21.1 14.2 -7.8 -14.7 -20.9z" fill="#26f628"/>
<path d="M245.5 187.5l14 12.9 15.3 -7.3 -14 -12.7z" fill="#ffc62f"/>
<path d="M507.8 340.5l14.9 25.9 13.7 -8.2 -14.9 -25.6z" fill="#0ab8fd"/>
<path d="M347.5 223.9l14.5 17.5 14.6 -7.5 -14.4 -17.4z" fill="#a9fc1f"/>
<path d="M464.1 300.4l14.9 23.5 13.9 -7.9 -14.8 -23.3z" fill="#05f79c"/>
<path d="M216.2 183l13.9 11.8 15.4 -7.3 -13.8 -11.6z" fill="#ffb731"/>
<path d="M186.9 179.7l13.7 10.6 15.6 -7.3 -13.6 -10.5z" fill="#ffac34"/>
<path d="M157.6 177.4l13.5 9.5 15.8 -7.2 -13.4 -9.4z" fill="#ffa537"/>
<path d="M318.2 215l14.4 16.4 14.9 -7.5 -14.4 -16.3z" fill="#d3ff22"/>
<path d="M391.2 252.6l14.7 20 14.4 -7.7 -14.6 -19.8z" fill="#45f81a"/>
<path d="M128.4 176.2l13.2 8.4 16 -7.2 -13.2 -8.3z" fill="#ffa137"/>
<path d="M435.1 286l14.8 22.3 14.2 -7.9 -14.8 -22.2z" fill="#0ff658"/>
<path d="M479 323.9l14.9 24.7 13.9 -8.1 -14.9 -24.5z" fill="#00ede5"/>
<path d="M288.9 207.1l14.3 15.3 15 -7.4 -14.2 -15.2z" fill="#fff929"/>
<path d="M362 241.4l14.6 18.9 14.6 -7.7 -14.6 -18.7z" fill="#74f91c"/>
<path d="M259.5 200.4l14.1 14.1 15.3 -7.4 -14.1 -14z" fill="#ffe12c"/>
<path d="M405.9 272.6l14.8 21.2 14.4 -7.8 -14.8 -21.1z" fill="#21f62b"/>
<path d="M230.1 194.8l13.9 13 15.5 -7.4 -14 -12.9z" fill="#ffce2f"/>
<path d="M493.9 348.6l15 26 13.8 -8.2 -14.9 -25.9z" fill="#0db0ff"/>
<path d="M332.6 231.4l14.6 17.7 14.8 -7.7 -14.5 -17.5z" fill="#9ffb1f"/>
<path d="M449.9 308.3l15 23.6 14.1 -8 -14.9 -23.5z" fill="#03f7a6"/>
<path d="M200.6 190.3l13.8 11.9 15.7 -7.4 -13.9 -11.8z" fill="#ffbf31"/>
<path d="M171.1 186.9l13.7 10.7 15.8 -7.3 -13.7 -10.6z" fill="#ffb434"/>
<path d="M141.6 184.6l13.5 9.6 16 -7.3 -13.5 -9.5z" fill="#ffac36"/>
<path d="M303.2 222.4l14.4 16.6 15 -7.6 -14.4 -16.4z" fill="#c7fe21"/>
<path d="M376.6 260.3l14.8 20.1 14.5 -7.8 -14.7 -20z" fill="#3ef71b"/>
<path d="M420.7 293.8l14.9 22.5 14.3 -8 -14.8 -22.3z" fill="#0ef662"/>
<path d="M464.9 331.9l15 24.9 14 -8.2 -14.9 -24.7z" fill="#00e7ea"/>
<path d="M273.6 214.5l14.3 15.5 15.3 -7.6 -14.3 -15.3z" fill="#fbff29"/>
<path d="M347.2 249.1l14.6 18.9 14.8 -7.7 -14.6 -18.9z" fill="#6bf91c"/>
<path d="M244 207.8l14.2 14.3 15.4 -7.6 -14.1 -14.1z" fill="#ffe92c"/>
<path d="M391.4 280.4l14.8 21.4 14.5 -8 -14.8 -21.2z" fill="#1cf52e"/>
<path d="M214.4 202.2l14 13.1 15.6 -7.5 -13.9 -13z" fill="#ffd62f"/>
<path d="M479.9 356.8l15 26.2 14 -8.4 -15 -26z" fill="#0ba9ff"/>
<path d="M317.6 239l14.6 17.8 15 -7.7 -14.6 -17.7z" fill="#95fb1f"/>
<path d="M435.6 316.3l15 23.8 14.3 -8.2 -15 -23.6z" fill="#01f7b0"/>
<path d="M184.8 197.6l13.8 12.1 15.8 -7.5 -13.8 -11.9z" fill="#ffc631"/>
<path d="M155.1 194.2l13.6 10.9 16.1 -7.5 -13.7 -10.7z" fill="#ffbb34"/>
<path d="M287.9 230l14.5 16.7 15.2 -7.7 -14.4 -16.6z" fill="#bdfe21"/>
<path d="M361.8 268l14.8 20.3 14.8 -7.9 -14.8 -20.1z" fill="#38f71e"/>
<path d="M406.2 301.8l14.9 22.6 14.5 -8.1 -14.9 -22.5z" fill="#0cf66d"/>
<path d="M450.6 340.1l15 25.1 14.3 -8.4 -15 -24.9z" fill="#00e2ef"/>
<path d="M258.2 222.1l14.3 15.6 15.4 -7.7 -14.3 -15.5z" fill="#ebff27"/>
<path d="M332.2 256.8l14.6 19.1 15 -7.9 -14.6 -18.9z" fill="#61f81c"/>
<path d="M228.4 215.3l14.2 14.4 15.6 -7.6 -14.2 -14.3z" fill="#fff12c"/>
<path d="M376.6 288.3l14.9 21.6 14.7 -8.1 -14.8 -21.4z" fill="#17f531"/>
<path d="M198.6 209.7l14 13.2 15.8 -7.6 -14 -13.1z" fill="#ffdd2e"/>
<path d="M465.6 365.2l15.1 26.3 14.2 -8.5 -15 -26.2z" fill="#09a2ff"/>
<path d="M302.4 246.7l14.6 18 15.2 -7.9 -14.6 -17.8z" fill="#8bfa1f"/>
<path d="M421.1 324.4l15 24 14.5 -8.3 -15 -23.8z" fill="#00f7ba"/>
<path d="M168.7 205.1l13.9 12.2 16 -7.6 -13.8 -12.1z" fill="#ffce31"/>
<path d="M272.5 237.7l14.5 16.8 15.4 -7.8 -14.5 -16.7z" fill="#b3fd21"/>
<path d="M346.8 275.9l14.8 20.5 15 -8.1 -14.8 -20.3z" fill="#33f721"/>
<path d="M391.5 309.9l14.9 22.8 14.7 -8.3 -14.9 -22.6z" fill="#0bf777"/>
<path d="M436.1 348.4l15.1 25.2 14.4 -8.4 -15 -25.1z" fill="#00ddf4"/>
<path d="M242.6 229.7l14.3 15.8 15.6 -7.8 -14.3 -15.6z" fill="#dbff25"/>
<path d="M317 264.7l14.7 19.3 15.1 -8.1 -14.6 -19.1z" fill="#58f81c"/>
<path d="M212.6 222.9l14.2 14.6 15.8 -7.8 -14.2 -14.4z" fill="#fff92c"/>
<path d="M361.6 296.4l15 21.7 14.9 -8.2 -14.9 -21.6z" fill="#14f539"/>
<path d="M182.6 217.3l14 13.4 16 -7.8 -14 -13.2z" fill="#ffe62e"/>
<path d="M451.2 373.6l15.2 26.5 14.3 -8.6 -15.1 -26.3z" fill="#089aff"/>
<path d="M287 254.5l14.6 18.2 15.4 -8 -14.6 -18z" fill="#82fa1e"/>
<path d="M406.4 332.7l15.1 24.1 14.6 -8.4 -15 -24z" fill="#00f6c4"/>
<path d="M256.9 245.5l14.5 17 15.6 -8 -14.5 -16.8z" fill="#a9fc21"/>
<path d="M331.7 284l14.8 20.6 15.1 -8.2 -14.8 -20.5z" fill="#2ef624"/>
<path d="M376.6 318.1l15 23 14.8 -8.4 -14.9 -22.8z" fill="#09f782"/>
<path d="M421.5 356.8l15.1 25.5 14.6 -8.7 -15.1 -25.2z" fill="#02d5f6"/>
<path d="M226.8 237.5l14.3 15.9 15.8 -7.9 -14.3 -15.8z" fill="#ccff24"/>
<path d="M301.6 272.7l14.7 19.4 15.4 -8.1 -14.7 -19.3z" fill="#4ff81c"/>
<path d="M196.6 230.7l14.2 14.7 16 -7.9 -14.2 -14.6z" fill="#faff2b"/>
<path d="M346.5 304.6l15 21.9 15.1 -8.4 -15 -21.7z" fill="#12f544"/>
<path d="M436.6 382.3l15.2 26.6 14.6 -8.8 -15.2 -26.5z" fill="#0692ff"/>
<path d="M271.4 262.5l14.6 18.3 15.6 -8.1 -14.6 -18.2z" fill="#79f91e"/>
<path d="M391.6 341.1l15.1 24.3 14.8 -8.6 -15.1 -24.1z" fill="#00f5ce"/>
<path d="M241.1 253.4l14.5 17.2 15.8 -8.1 -14.5 -17z" fill="#9ffb21"/>
<path d="M316.3 292.1l14.9 20.8 15.3 -8.3 -14.8 -20.6z" fill="#28f627"/>
<path d="M361.5 326.5l15 23.1 15.1 -8.5 -15 -23z" fill="#07f78d"/>
<path d="M406.7 365.4l15.2 25.6 14.7 -8.7 -15.1 -25.5z" fill="#04cdf8"/>
<path d="M210.8 245.4l14.3 16 16 -8 -14.3 -15.9z" fill="#c2fe24"/>
<path d="M286 280.8l14.8 19.6 15.5 -8.3 -14.7 -19.4z" fill="#45f81c"/>
<path d="M331.2 312.9l15 22.1 15.3 -8.5 -15 -21.9z" fill="#10f64f"/>
<path d="M421.9 391l15.2 26.9 14.7 -9 -15.2 -26.6z" fill="#048aff"/>
<path d="M255.6 270.6l14.7 18.4 15.7 -8.2 -14.6 -18.3z" fill="#6ff91e"/>
<path d="M376.5 349.6l15.2 24.5 15 -8.7 -15.1 -24.3z" fill="#00f3d8"/>
<path d="M225.1 261.4l14.5 17.4 16 -8.2 -14.5 -17.2z" fill="#94fa21"/>
<path d="M300.8 300.4l14.9 20.9 15.5 -8.4 -14.9 -20.8z" fill="#23f62b"/>
<path d="M346.2 335l15.1 23.3 15.2 -8.7 -15 -23.1z" fill="#06f798"/>
<path d="M391.7 374.1l15.2 25.8 15 -8.9 -15.2 -25.6z" fill="#07c4fa"/>
<path d="M270.3 289l14.8 19.8 15.7 -8.4 -14.8 -19.6z" fill="#3ef71e"/>
<path d="M315.7 321.3l15 22.3 15.5 -8.6 -15 -22.1z" fill="#0ff65a"/>
<path d="M239.6 278.8l14.7 18.6 16 -8.4 -14.7 -18.4z" fill="#65f91e"/>
<path d="M406.9 399.9l15.3 27.1 14.9 -9.1 -15.2 -26.9z" fill="#0282ff"/>
<path d="M361.3 358.3l15.2 24.7 15.2 -8.9 -15.2 -24.5z" fill="#00f1e1"/>
<path d="M285.1 308.8l14.9 21.1 15.7 -8.6 -14.9 -20.9z" fill="#1df52e"/>
<path d="M330.7 343.6l15.2 23.5 15.4 -8.8 -15.1 -23.3z" fill="#04f7a3"/>
<path d="M376.5 383l15.3 26 15.1 -9.1 -15.2 -25.8z" fill="#09bbfc"/>
<path d="M254.3 297.4l14.8 20 16 -8.6 -14.8 -19.8z" fill="#38f721"/>
<path d="M300 329.9l15.1 22.5 15.6 -8.8 -15 -22.3z" fill="#0df665"/>
<path d="M391.8 409l15.3 27.3 15.1 -9.3 -15.3 -27.1z" fill="#017aff"/>
<path d="M345.9 367.1l15.2 24.9 15.4 -9 -15.2 -24.7z" fill="#00ebe6"/>
<path d="M269.1 317.4l15 21.3 15.9 -8.8 -14.9 -21.1z" fill="#18f531"/>
<path d="M315.1 352.4l15.1 23.7 15.7 -9 -15.2 -23.5z" fill="#02f7ae"/>
<path d="M361.1 392l15.3 26.2 15.4 -9.2 -15.3 -26z" fill="#0cb2fe"/>
<path d="M284.1 338.7l15.1 22.6 15.9 -8.9 -15.1 -22.5z" fill="#0cf771"/>
<path d="M376.4 418.2l15.4 27.5 15.3 -9.4 -15.3 -27.3z" fill="#006ffe"/>
<path d="M330.2 376.1l15.3 25.1 15.6 -9.2 -15.2 -24.9z" fill="#00e6ec"/>
<path d="M299.2 361.3l15.2 23.9 15.8 -9.1 -15.1 -23.7z" fill="#00f7b9"/>
<path d="M345.5 401.2l15.4 26.3 15.5 -9.3 -15.3 -26.2z" fill="#0baaff"/>
<path d="M360.9 427.5l15.5 27.7 15.4 -9.5 -15.4 -27.5z" fill="#0062fb"/>
<path d="M314.4 385.2l15.3 25.3 15.8 -9.3 -15.3 -25.1z" fill="#00e0f1"/>
<path d="M329.7 410.5l15.5 26.6 15.7 -9.6 -15.4 -26.3z" fill="#09a2ff"/>
<path d="M345.2 437.1l15.5 27.9 15.7 -9.8 -15.5 -27.7z" fill="#0054f9"/>
</g></g>
<path d="M77.5 154.7L155.2 122.2L228.6 92.1L298 64.1L363.8 38.1M89.9 158.3L167.7 125.4L241.2 94.8L310.7 66.4L376.6 40M102.5 163.1L180.5 129.7L254.1 98.7L323.6 69.8L389.5 43M115.3 169.1L193.4 135.1L267.1 103.6L336.7 74.4L402.5 47.2M128.4 176.2L206.5 141.8L280.2 109.8L349.8 80.1L415.7 52.4M141.6 184.6L219.8 149.6L293.6 117.1L363.2 86.9L429 58.8M155.1 194.2L233.3 158.6L307 125.6L376.7 94.9L442.5 66.4M168.7 205.1L247 168.9L320.7 135.3L390.3 104.1L456.1 75.1M182.6 217.3L260.8 180.4L334.5 146.2L404 114.4L469.7 85M196.6 230.7L274.8 193.1L348.4 158.3L417.9 126L483.5 96.1M210.8 245.4L288.9 207.1L362.5 171.7L431.9 138.8L497.4 108.3M225.1 261.4L303.2 222.4L376.7 186.3L446 152.8L511.4 121.8M239.6 278.8L317.6 239L391 202.1L460.2 168.1L525.4 136.5M254.3 297.4L332.2 256.8L405.4 219.3L474.4 184.5L539.6 152.4M269.1 317.4L346.8 275.9L419.9 237.7L488.8 202.3L553.8 169.5M284.1 338.7L361.6 296.4L434.6 257.3L503.3 221.2L568.1 187.9M299.2 361.3L376.6 318.1L449.3 278.2L517.8 241.4L582.4 207.5M314.4 385.2L391.6 341.1L464.1 300.4L532.4 262.9L596.8 228.3M329.7 410.5L406.7 365.4L479 323.9L547 285.6L611.2 250.3M345.2 437.1L421.9 391L493.9 348.6L561.7 309.5L625.6 273.6M360.7 465L437.1 417.9L508.9 374.6L576.4 334.7L640 298M77.5 154.7L89.9 158.3L102.5 163.1L115.3 169.1L128.4 176.2L141.6 184.6L155.1 194.2L168.7 205.1L182.6 217.3L196.6 230.7L210.8 245.4L225.1 261.4L239.6 278.8L254.3 297.4L269.1 317.4L284.1 338.7L299.2 361.3L314.4 385.2L329.7 410.5L345.2 437.1L360.7 465M93.4 148L105.8 151.5L118.5 156.2L131.3 162.1L144.4 169.1L157.6 177.4L171.1 186.9L184.8 197.6L198.6 209.7L212.6 222.9L226.8 237.5L241.1 253.4L255.6 270.6L270.3 289L285.1 308.8L300 329.9L315.1 352.4L330.2 376.1L345.5 401.2L360.9 427.5L376.4 455.2M109.1 141.4L121.6 144.9L134.2 149.4L147.1 155.2L160.2 162.1L173.5 170.3L186.9 179.7L200.6 190.3L214.4 202.2L228.4 215.3L242.6 229.7L256.9 245.5L271.4 262.5L286 280.8L300.8 300.4L315.7 321.3L330.7 343.6L345.9 367.1L361.1 392L376.4 418.2L391.8 445.7M124.6 134.9L137.1 138.3L149.8 142.8L162.7 148.4L175.8 155.2L189.1 163.3L202.6 172.5L216.2 183L230.1 194.8L244 207.8L258.2 222.1L272.5 237.7L287 254.5L301.6 272.7L316.3 292.1L331.2 312.9L346.2 335L361.3 358.3L376.5 383L391.8 409L407.1 436.3M140 128.6L152.5 131.8L165.2 136.2L178.2 141.7L191.3 148.4L204.6 156.4L218 165.5L231.7 175.9L245.5 187.5L259.5 200.4L273.6 214.5L287.9 230L302.4 246.7L317 264.7L331.7 284L346.5 304.6L361.5 326.5L376.5 349.6L391.7 374.1L406.9 399.9L422.2 427M155.2 122.2L167.7 125.4L180.5 129.7L193.4 135.1L206.5 141.8L219.8 149.6L233.3 158.6L247 168.9L260.8 180.4L274.8 193.1L288.9 207.1L303.2 222.4L317.6 239L332.2 256.8L346.8 275.9L361.6 296.4L376.6 318.1L391.6 341.1L406.7 365.4L421.9 391L437.1 417.9M170.2 116L182.8 119.1L195.5 123.3L208.5 128.6L221.6 135.2L234.9 142.9L248.4 151.8L262 161.9L275.9 173.3L289.8 185.9L304 199.8L318.2 215L332.6 231.4L347.2 249.1L361.8 268L376.6 288.3L391.5 309.9L406.4 332.7L421.5 356.8L436.6 382.3L451.8 408.9M185.1 109.9L197.6 112.9L210.4 117L223.4 122.3L236.5 128.7L249.8 136.3L263.3 145.1L277 155.1L290.8 166.4L304.7 178.9L318.9 192.6L333.1 207.6L347.5 223.9L362 241.4L376.6 260.3L391.4 280.4L406.2 301.8L421.1 324.4L436.1 348.4L451.2 373.6L466.4 400.1M199.7 103.9L212.3 106.8L225.1 110.8L238.1 116L251.2 122.3L264.6 129.8L278.1 138.5L291.7 148.4L305.5 159.5L319.5 171.9L333.6 185.5L347.8 200.4L362.2 216.5L376.6 233.9L391.2 252.6L405.9 272.6L420.7 293.8L435.6 316.3L450.6 340.1L465.6 365.2L480.7 391.5M214.2 98L226.9 100.8L239.7 104.7L252.7 109.7L265.8 116L279.1 123.4L292.6 132L306.3 141.8L320.1 152.8L334 165L348.1 178.5L362.3 193.3L376.7 209.3L391.1 226.5L405.7 245.1L420.3 264.9L435.1 286L449.9 308.3L464.9 331.9L479.9 356.8L494.9 383M228.6 92.1L241.2 94.8L254.1 98.7L267.1 103.6L280.2 109.8L293.6 117.1L307 125.6L320.7 135.3L334.5 146.2L348.4 158.3L362.5 171.7L376.7 186.3L391 202.1L405.4 219.3L419.9 237.7L434.6 257.3L449.3 278.2L464.1 300.4L479 323.9L493.9 348.6L508.9 374.6M242.8 86.3L255.5 89L268.3 92.7L281.3 97.6L294.5 103.6L307.8 110.9L321.3 119.2L334.9 128.8L348.7 139.6L362.6 151.6L376.7 164.9L390.9 179.4L405.1 195.1L419.5 212.1L434 230.4L448.6 249.9L463.3 270.6L478.1 292.7L492.9 316L507.8 340.5L522.7 366.4M256.8 80.6L269.5 83.2L282.4 86.9L295.4 91.7L308.5 97.6L321.9 104.7L335.4 113L349 122.5L362.8 133.2L376.7 145.1L390.7 158.2L404.9 172.6L419.1 188.2L433.5 205.1L448 223.2L462.5 242.5L477.2 263.2L491.9 285.1L506.7 308.2L521.5 332.6L536.4 358.2M270.7 75L283.4 77.5L296.3 81.1L309.3 85.8L322.5 91.7L335.8 98.7L349.3 106.9L362.9 116.3L376.7 126.8L390.6 138.6L404.6 151.6L418.7 165.9L433 181.4L447.3 198.1L461.8 216.1L476.3 235.3L490.9 255.8L505.6 277.5L520.3 300.5L535.1 324.8L549.9 350.3M284.4 69.5L297.2 71.9L310 75.4L323 80.1L336.2 85.8L349.6 92.7L363.1 100.8L376.7 110.1L390.4 120.6L404.3 132.3L418.3 145.2L432.4 159.3L446.6 174.7L461 191.3L475.4 209.1L489.9 228.2L504.4 248.6L519.1 270.2L533.7 293L548.5 317.1L563.3 342.4M298 64.1L310.7 66.4L323.6 69.8L336.7 74.4L349.8 80.1L363.2 86.9L376.7 94.9L390.3 104.1L404 114.4L417.9 126L431.9 138.8L446 152.8L460.2 168.1L474.4 184.5L488.8 202.3L503.3 221.2L517.8 241.4L532.4 262.9L547 285.6L561.7 309.5L576.4 334.7M311.5 58.7L324.2 61L337.1 64.3L350.1 68.8L363.3 74.4L376.6 81.1L390.1 89L403.7 98.1L417.5 108.4L431.3 119.8L445.3 132.5L459.3 146.4L473.5 161.5L487.8 177.9L502.1 195.5L516.5 214.3L531 234.4L545.6 255.7L560.2 278.3L574.8 302.1L589.5 327.1M324.8 53.4L337.5 55.6L350.4 58.9L363.4 63.3L376.6 68.8L390 75.4L403.4 83.2L417 92.2L430.7 102.4L444.6 113.8L458.5 126.3L472.6 140.1L486.7 155.1L500.9 171.4L515.3 188.9L529.6 207.6L544.1 227.5L558.6 248.7L573.1 271.1L587.7 294.8L602.3 319.7M337.9 48.2L350.7 50.3L363.6 53.5L376.6 57.8L389.8 63.2L403.1 69.8L416.6 77.5L430.2 86.4L443.9 96.5L457.7 107.8L471.6 120.2L485.7 133.9L499.8 148.8L514 165L528.3 182.3L542.6 200.9L557 220.7L571.5 241.8L586 264.1L600.5 287.6L615.1 312.3M350.9 43.1L363.7 45.1L376.6 48.2L389.6 52.5L402.8 57.8L416.2 64.3L429.6 71.9L443.2 80.7L456.9 90.7L470.7 101.9L484.6 114.2L498.6 127.8L512.7 142.6L526.9 158.6L541.1 175.9L555.4 194.3L569.8 214L584.2 235L598.6 257.1L613.1 280.5L627.6 305.1M363.8 38.1L376.6 40L389.5 43L402.5 47.2L415.7 52.4L429 58.8L442.5 66.4L456.1 75.1L469.7 85L483.5 96.1L497.4 108.3L511.4 121.8L525.4 136.5L539.6 152.4L553.8 169.5L568.1 187.9L582.4 207.5L596.8 228.3L611.2 250.3L625.6 273.6L640 298" fill="none" stroke="#000" stroke-opacity="0.9" stroke-width="1.7" stroke-linejoin="round" stroke-linecap="round"/>
<path d="M77.5 154.7L89.9 158.3L102.5 163.1L115.3 169.1L128.4 176.2L141.6 184.6L155.1 194.2L168.7 205.1L182.6 217.3L196.6 230.7L210.8 245.4L225.1 261.4L239.6 278.8L254.3 297.4L269.1 317.4L284.1 338.7L299.2 361.3L314.4 385.2L329.7 410.5L345.2 437.1L360.7 465L437.1 417.9L508.9 374.6L576.4 334.7L640 298L625.6 273.6L611.2 250.3L596.8 228.3L582.4 207.5L568.1 187.9L553.8 169.5L539.6 152.4L525.4 136.5L511.4 121.8L497.4 108.3L483.5 96.1L469.7 85L456 75.1L442.5 66.4L429 58.8L415.7 52.4L402.5 47.2L389.5 43L376.6 40L363.8 38.1L298 64.1L228.6 92.1L155.2 122.2Z" fill="none" stroke="#000" stroke-opacity="0.7" stroke-width="1.3" stroke-linejoin="round"/>
<circle cx="76.7" cy="142.5" r="6" fill="#c40000" stroke="#4a0808" stroke-width="1"/>
<ellipse cx="363.5" cy="169.2" rx="3.6" ry="2.6" fill="#b00000" stroke="#4a0808" stroke-width="0.8"/>
<circle cx="360.5" cy="454.5" r="6" fill="#c40000" stroke="#4a0808" stroke-width="1"/>
<g font-family="'Liberation Sans',sans-serif" font-size="15.5" fill="#484848">
<text x="79.3" y="356.7" text-anchor="end">50</text>
<text x="76.9" y="310" text-anchor="end">60</text>
<text x="74.5" y="263.3" text-anchor="end">70</text>
<text x="72" y="216.6" text-anchor="end">80</text>
<text x="69.6" y="169.9" text-anchor="end">90</text>
<text x="67.2" y="123.2" text-anchor="end">100</text>
<text x="64.8" y="76.5" text-anchor="end">110</text>
<text x="84.8" y="465.8" text-anchor="end">2</text>
<text x="138.3" y="493.6" text-anchor="end">2.2</text>
<text x="191.9" y="521.4" text-anchor="end">2.4</text>
<text x="245.4" y="549.1" text-anchor="end">2.6</text>
<text x="299" y="576.9" text-anchor="end">2.8</text>
<text x="352.5" y="604.7" text-anchor="end">3</text>
<text x="368.5" y="604.7" text-anchor="start">70</text>
<text x="436.3" y="570.2" text-anchor="start">60</text>
<text x="504.1" y="535.7" text-anchor="start">50</text>
<text x="572" y="501.2" text-anchor="start">40</text>
<text x="639.8" y="466.7" text-anchor="start">30</text>
</g>
<g font-family="'Liberation Serif',serif" font-weight="bold" fill="#111" text-anchor="middle">
<text x="25" y="28.5" font-size="35" text-anchor="start">(a)</text>
<text transform="translate(23.5 249) rotate(-90)" font-size="22.5" textLength="134" lengthAdjust="spacingAndGlyphs" y="6.8">Cr(VI) removal (%)</text>
<text transform="translate(167.5 547.8) rotate(29)" font-size="20" textLength="43" lengthAdjust="spacingAndGlyphs" y="6">E: pH</text>
<text transform="translate(540.5 550.3) rotate(-26.4)" font-size="20" textLength="247" lengthAdjust="spacingAndGlyphs" y="6">A: Cr initial concentration (mg/L)</text>
</g>
</g>
<g id="p_b">
<path d="M742.2 362.5L1013.1 265.8M1013.1 265.8L1282.1 363.7M739.8 316.5L1013.1 224M1013.1 224L1284.5 317.6M737.4 270.6L1013.1 182.2M1013.1 182.2L1286.9 271.6M735 224.6L1013.2 140.4M1013.2 140.4L1289.4 225.6M732.6 178.6L1013.2 98.6M1013.2 98.6L1291.8 179.6M730.2 132.7L1013.3 56.8M1013.3 56.8L1294.3 133.5M727.8 86.7L1013.3 15M1013.3 15L1296.7 87.5M796.4 343.1L784.9 72.4M850.6 323.8L842 58M904.7 304.5L899.1 43.7M958.9 285.1L956.2 29.3M1066.9 285.3L1070 29.5M1120.7 304.9L1126.7 44M1174.5 324.5L1183.3 58.5M1228.3 344.1L1240 73M746.7 448.2L727.8 86.7M1013 343.7L1013.3 15M1277.5 449.5L1296.7 87.5" fill="none" stroke="#262626" stroke-width="1.75" stroke-linecap="round"/>
<polygon points="746.7,448.2 1010.5,583.7 1277.5,449.5 1013,343.7" fill="#626262" stroke="#111" stroke-width="2" stroke-linejoin="round"/>
<path d="M913.9 382.5L934 386.6L946.1 390.4L955.9 395L962.8 399.8L966.9 404.3L968.7 407.1L970.2 411.3L970.7 415.2L970.1 420L968.3 425L967 427.4L964.3 431.6L960.8 435.9L952.5 444.1L941.9 452.4L928 461.5L909.8 471.6L890 481.2L869.7 489.9L845.7 499.1" fill="none" stroke="#e0501b" stroke-width="3" stroke-linecap="butt" stroke-linejoin="round"/>
<path d="M988.5 353L1003 355.2L1013.7 357.4L1022.8 359.5L1034.6 362.9L1042.2 365.6L1050.2 369.1L1055.6 371.9L1062.8 376.6L1067.1 380.4L1071.8 385.9L1073.9 389.5L1075.9 395.6L1076.3 402L1075.6 406.8L1073.7 412.4L1070.8 418.2L1066 425.2L1062 429.9L1056.9 435.3L1048.9 442.6L1033.3 454.5L1022.5 461.7L1010.1 469.3L984.7 483L956 496.7L925 509.9L891.5 522.6" fill="none" stroke="#e0d01b" stroke-width="3" stroke-linecap="butt" stroke-linejoin="round"/>
<path d="M1154.3 400.2L1151.7 407L1146.4 416.1L1139.8 424.6L1132.5 432.5L1123.7 440.6L1112.8 449.4L1098.9 459.3L1086.3 467.6L1071.9 476.2L1056 485L1035.4 495.7L1017.8 504.1L994.1 514.8L974.9 522.9L927.9 541.2" fill="none" stroke="#53db16" stroke-width="3" stroke-linecap="butt" stroke-linejoin="round"/>
<path d="M1205 420.6L1196.2 430.1L1188.5 437.4L1179 445.5L1167.4 454.5L1154.8 463.3L1141.3 472L1114.4 487.8L1079.8 506L1042.6 523.4L1002.1 540.7L959.4 557.3" fill="none" stroke="#0bd95c" stroke-width="3" stroke-linecap="butt" stroke-linejoin="round"/>
<path d="M1243.9 436.3L1236.8 442.6L1224.8 452.2L1214 460.1L1199.9 469.8L1173.6 486.1L1141.1 504.1L1108.1 520.8L1070.9 537.9L1029.3 555.6L987.9 571.9" fill="none" stroke="#02bbd9" stroke-width="3" stroke-linecap="butt" stroke-linejoin="round"/>
<g fill="#000"><circle cx="742.2" cy="362.5" r="2.7"/><circle cx="739.8" cy="316.5" r="2.7"/><circle cx="737.4" cy="270.6" r="2.7"/><circle cx="735" cy="224.6" r="2.7"/><circle cx="732.6" cy="178.6" r="2.7"/><circle cx="730.2" cy="132.7" r="2.7"/><circle cx="727.8" cy="86.7" r="2.7"/><circle cx="746.7" cy="448.2" r="2.7"/><circle cx="799.5" cy="475.3" r="2.7"/><circle cx="852.2" cy="502.4" r="2.7"/><circle cx="905" cy="529.5" r="2.7"/><circle cx="957.7" cy="556.6" r="2.7"/><circle cx="1010.5" cy="583.7" r="2.7"/><circle cx="1063.9" cy="556.9" r="2.7"/><circle cx="1117.3" cy="530" r="2.7"/><circle cx="1170.7" cy="503.2" r="2.7"/><circle cx="1224.1" cy="476.3" r="2.7"/><circle cx="1277.5" cy="449.5" r="2.7"/></g>
<circle cx="730" cy="135" r="6" fill="#ffc9c9" stroke="#7d6060" stroke-width="1"/>
<line x1="1013.8" y1="103.3" x2="1013.8" y2="116" stroke="#333" stroke-width="1.4"/><circle cx="1013.8" cy="103.3" r="6" fill="#c40000" stroke="#4a0808" stroke-width="1"/>
<line x1="1010.5" y1="454" x2="1010.5" y2="447" stroke="#333" stroke-width="1.4"/><circle cx="1010.5" cy="454" r="6" fill="#ffc9c9" stroke="#7d6060" stroke-width="1"/>
<line x1="1286" y1="301.7" x2="1285" y2="335" stroke="#333" stroke-width="1.4"/>
<clipPath id="cp_b"><path d="M729.1 110.5L741.5 115.3L754.1 121.3L766.9 128.5L779.9 136.9L793.1 146.6L806.5 157.6L820.1 169.9L833.9 183.4L847.8 198.3L861.9 214.5L876.2 232L890.6 250.8L905.2 271L919.9 292.6L934.7 315.4L949.7 339.6L964.7 365.1L979.9 392L995.2 420.2L1010.5 449.7L1041.2 430.7L1056.3 421.9L1085.8 405.7L1114.6 391.1L1128.7 384.4L1156.3 372.3L1183.2 361.8L1196.4 357.1L1222.2 348.9L1247.3 342.1L1259.6 339.2L1283.6 334.5L1269.3 312.8L1255.1 292.2L1240.9 272.9L1226.8 254.7L1212.7 237.7L1198.7 221.8L1184.8 207.2L1170.9 193.7L1157.1 181.3L1143.4 170.1L1129.9 160.1L1116.4 151.1L1103 143.3L1089.8 136.7L1076.7 131L1063.7 126.5L1050.9 123.1L1038.4 120L1000.1 111.9L961.3 105.2L947.9 103.3L921.9 100L908.2 98.6L894.2 97.5L880.1 96.8L865.9 96.4L851.4 96.4L836.7 96.8L821.9 97.6L806.9 98.7L791.7 100.3L776.3 102.2L760.7 104.6L745 107.3Z"/></clipPath>
<g clip-path="url(#cp_b)"><g filter="url(#sm)">
<path d="M1000.9 119.5l12.3 -0.6 12.3 3.9 -12.2 0.8z" fill="#a1fb25"/>
<path d="M1013.2 118.9l12.4 0.4 12.3 3.7 -12.4 -0.2z" fill="#b5fd27"/>
<path d="M988.4 115.7l12.3 -0.4 12.5 3.6 -12.3 0.6z" fill="#c5fe26"/>
<path d="M1025.6 119.3l12.6 1.4 12.3 3.5 -12.6 -1.2z" fill="#c3fe28"/>
<path d="M975.7 112.2l12.3 -0.2 12.7 3.3 -12.3 0.4z" fill="#f6ff2b"/>
<path d="M1038.2 120.7l12.7 2.4 12.3 3.3 -12.7 -2.2z" fill="#ccff2a"/>
<path d="M962.8 109l12.3 -0.1 12.9 3.1 -12.3 0.2z" fill="#ffe92d"/>
<path d="M1050.9 123.1l12.8 3.4 12.3 3.1 -12.8 -3.2z" fill="#d2ff2b"/>
<path d="M949.8 106.1l12.3 0.1 13 2.7 -12.3 0.1z" fill="#ffd12e"/>
<path d="M1063.7 126.5l13 4.5 12.3 2.9 -13 -4.3z" fill="#d2ff2b"/>
<path d="M936.6 103.5l12.3 0.3 13.2 2.4 -12.3 -0.1z" fill="#ffba2f"/>
<path d="M1076.7 131l13.1 5.6 12.3 2.7 -13.1 -5.4z" fill="#cdff2b"/>
<path d="M1089.8 136.6l13.2 6.7 12.3 2.4 -13.2 -6.4z" fill="#c3fe2b"/>
<path d="M923.2 101.2l12.3 0.5 13.4 2.1 -12.3 -0.3z" fill="#ffa630"/>
<path d="M1103 143.3l13.4 7.8 12.2 2.2 -13.3 -7.6z" fill="#b5fd2a"/>
<path d="M909.6 99.3l12.3 0.7 13.6 1.7 -12.3 -0.5z" fill="#ff9232"/>
<path d="M1116.4 151.1l13.5 9 12.2 1.8 -13.5 -8.6z" fill="#a2fb29"/>
<path d="M895.9 97.7l12.3 0.9 13.7 1.4 -12.3 -0.7z" fill="#ff7c33"/>
<path d="M1129.9 160.1l13.5 10 12.2 1.6 -13.5 -9.8z" fill="#8bfa28"/>
<path d="M1143.4 170.1l13.7 11.2 12.1 1.3 -13.6 -10.9z" fill="#71f926"/>
<path d="M882 96.4l12.2 1.1 14 1.1 -12.3 -0.9z" fill="#ff6533"/>
<path d="M1157.1 181.3l13.8 12.4 12.1 0.9 -13.8 -12z" fill="#52f824"/>
<path d="M867.9 95.5l12.2 1.3 14.1 0.7 -12.2 -1.1z" fill="#ff4f31"/>
<path d="M1170.9 193.7l13.9 13.5 12 0.6 -13.8 -13.2z" fill="#38f72a"/>
<path d="M1184.8 207.2l13.9 14.6 12 0.3 -13.9 -14.3z" fill="#20f535"/>
<path d="M853.6 94.9l12.3 1.5 14.2 0.4 -12.2 -1.3z" fill="#ff4430"/>
<path d="M1198.7 221.8l14 15.9 12 -0.1 -14 -15.5z" fill="#12f65e"/>
<path d="M1212.7 237.7l14.1 17 11.9 -0.4 -14 -16.7z" fill="#07f795"/>
<path d="M839.1 94.7l12.3 1.7 14.5 0 -12.3 -1.5z" fill="#ff3b30"/>
<path d="M1226.8 254.7l14.1 18.2 11.9 -0.8 -14.1 -17.8z" fill="#00f4d0"/>
<path d="M824.5 94.9l12.2 1.9 14.7 -0.4 -12.3 -1.7z" fill="#ff332e"/>
<path d="M1240.9 272.9l14.2 19.3 11.9 -1.1 -14.2 -19z" fill="#01d7f6"/>
<path d="M1255.1 292.2l14.2 20.6 11.8 -1.5 -14.1 -20.2z" fill="#09a0ff"/>
<path d="M1269.3 312.8l14.3 21.7 11.8 -1.9 -14.3 -21.3z" fill="#005efb"/>
<path d="M809.7 95.4l12.2 2.2 14.8 -0.8 -12.2 -1.9z" fill="#ff332e"/>
<path d="M1283.6 334.5l14.3 22.9 11.7 -2.2 -14.2 -22.6z" fill="#0004c4"/>
<path d="M794.7 96.3l12.2 2.4 15 -1.1 -12.2 -2.2z" fill="#ff332e"/>
<path d="M1271.7 336.7l14.3 23.3 11.9 -2.6 -14.3 -22.9z" fill="#000fd1"/>
<path d="M779.5 97.6l12.2 2.7 15.2 -1.6 -12.2 -2.4z" fill="#ff332e"/>
<path d="M1259.6 339.2l14.4 23.7 12 -2.9 -14.3 -23.3z" fill="#0020e0"/>
<path d="M764.1 99.3l12.2 2.9 15.4 -1.9 -12.2 -2.7z" fill="#ff332e"/>
<path d="M1247.3 342.1l14.4 24.1 12.3 -3.3 -14.4 -23.7z" fill="#0030ee"/>
<path d="M748.5 101.5l12.2 3.1 15.6 -2.4 -12.2 -2.9z" fill="#ff332e"/>
<path d="M1234.9 345.3l14.4 24.5 12.4 -3.6 -14.4 -24.1z" fill="#003df6"/>
<path d="M732.8 104l12.2 3.3 15.7 -2.7 -12.2 -3.1z" fill="#ff332e"/>
<path d="M1222.2 348.9l14.6 24.9 12.5 -4 -14.4 -24.5z" fill="#0049f7"/>
<path d="M716.9 107l12.2 3.5 15.9 -3.2 -12.2 -3.3z" fill="#ff332e"/>
<path d="M1209.4 352.8l14.6 25.3 12.8 -4.3 -14.6 -24.9z" fill="#0052f9"/>
<path d="M700.8 110.3l12.1 3.9 16.2 -3.7 -12.2 -3.5z" fill="#ff332e"/>
<path d="M1196.4 357.1l14.7 25.7 12.9 -4.7 -14.6 -25.3z" fill="#005afa"/>
<path d="M712.9 114.2l12.4 5 16.2 -3.9 -12.4 -4.8z" fill="#ff332e"/>
<path d="M1183.2 361.8l14.8 26.1 13.1 -5.1 -14.7 -25.7z" fill="#0060fb"/>
<path d="M725.3 119.2l12.6 6.2 16.2 -4.1 -12.6 -6z" fill="#ff332e"/>
<path d="M1169.9 366.9l14.7 26.4 13.4 -5.4 -14.8 -26.1z" fill="#0064fc"/>
<path d="M737.9 125.4l12.8 7.5 16.2 -4.4 -12.8 -7.2z" fill="#ff332e"/>
<path d="M1156.3 372.3l14.9 26.9 13.4 -5.9 -14.7 -26.4z" fill="#0067fc"/>
<path d="M750.7 132.9l13 8.7 16.2 -4.7 -13 -8.4z" fill="#ff332e"/>
<path d="M1142.6 378.2l14.9 27.2 13.7 -6.2 -14.9 -26.9z" fill="#0068fc"/>
<path d="M763.7 141.6l13.3 10 16.1 -5 -13.2 -9.7z" fill="#ff322d"/>
<path d="M777 151.6l13.4 11.3 16.1 -5.3 -13.4 -11z" fill="#ff2f2a"/>
<path d="M1128.7 384.4l14.9 27.7 13.9 -6.7 -14.9 -27.2z" fill="#0068fc"/>
<path d="M790.4 162.9l13.6 12.5 16.1 -5.5 -13.6 -12.3z" fill="#ff3b2a"/>
<path d="M1114.6 391.1l15 28 14 -7 -14.9 -27.7z" fill="#0065fc"/>
<path d="M804 175.4l13.8 13.9 16.1 -5.9 -13.8 -13.5z" fill="#ff502a"/>
<path d="M1100.3 398.2l15 28.4 14.3 -7.5 -15 -28z" fill="#0061fb"/>
<path d="M817.8 189.3l13.9 15.2 16.1 -6.2 -13.9 -14.9z" fill="#ff782b"/>
<path d="M1085.8 405.7l15.1 28.8 14.4 -7.9 -15 -28.4z" fill="#005bfa"/>
<path d="M831.7 204.5l14.2 16.5 16 -6.5 -14.1 -16.2z" fill="#ff9c28"/>
<path d="M845.9 221l14.3 17.9 16 -6.9 -14.3 -17.5z" fill="#ffc025"/>
<path d="M1071.1 413.6l15.2 29.2 14.6 -8.3 -15.1 -28.8z" fill="#0054f9"/>
<path d="M860.2 238.9l14.4 19.2 16 -7.3 -14.4 -18.8z" fill="#ffeb22"/>
<path d="M1056.3 421.9l15.2 29.6 14.8 -8.7 -15.2 -29.2z" fill="#004af8"/>
<path d="M874.6 258.1l14.6 20.5 16 -7.6 -14.6 -20.2z" fill="#c9ff1a"/>
<path d="M889.2 278.6l14.8 21.9 15.9 -7.9 -14.7 -21.6z" fill="#89fa1a"/>
<path d="M1041.2 430.7l15.3 30 15 -9.2 -15.2 -29.6z" fill="#003ff6"/>
<path d="M904 300.5l14.8 23.2 15.9 -8.3 -14.8 -22.8z" fill="#4af81a"/>
<path d="M918.8 323.7l15 24.5 15.9 -8.6 -15 -24.2z" fill="#20f52c"/>
<path d="M1025.9 440l15.4 30.4 15.2 -9.7 -15.3 -30z" fill="#0032f0"/>
<path d="M933.8 348.2l15.1 25.9 15.8 -9 -15 -25.5z" fill="#0cf76f"/>
<path d="M948.9 374.1l15.3 27.3 15.7 -9.4 -15.2 -26.9z" fill="#00f6c4"/>
<path d="M1010.5 449.7l15.4 30.8 15.4 -10.1 -15.4 -30.4z" fill="#0023e2"/>
<path d="M964.2 401.4l15.3 28.5 15.7 -9.7 -15.3 -28.2z" fill="#04cdf8"/>
<path d="M979.5 429.9l15.4 29.9 15.6 -10.1 -15.3 -29.5z" fill="#0384ff"/>
<path d="M994.9 459.8l15.4 31.2 15.6 -10.5 -15.4 -30.8z" fill="#0012d3"/>
<path d="M1000.7 115.3l12.4 0.5 12.5 3.5 -12.4 -0.4z" fill="#dcff29"/>
<path d="M1013.1 115.8l12.6 1.6 12.5 3.3 -12.6 -1.4z" fill="#f1ff2d"/>
<path d="M988 112l12.4 0.7 12.7 3.1 -12.4 -0.5z" fill="#fff62e"/>
<path d="M1025.7 117.4l12.7 2.6 12.5 3.1 -12.7 -2.4z" fill="#feff2f"/>
<path d="M1000.4 112.7l12.6 1.8 12.7 2.9 -12.6 -1.6z" fill="#ffec2f"/>
<path d="M975.1 108.9l12.4 1 12.9 2.8 -12.4 -0.7z" fill="#ffdd2f"/>
<path d="M1038.4 120l12.8 3.7 12.5 2.8 -12.8 -3.4z" fill="#fffd30"/>
<path d="M1013 114.5l12.7 2.8 12.7 2.7 -12.7 -2.6z" fill="#ffe731"/>
<path d="M987.5 109.9l12.6 2 12.9 2.6 -12.6 -1.8z" fill="#ffd430"/>
<path d="M962.1 106.2l12.4 1.2 13 2.5 -12.4 -1z" fill="#ffc530"/>
<path d="M1051.2 123.7l13 4.8 12.5 2.5 -13 -4.5z" fill="#fffe31"/>
<path d="M1025.7 117.3l12.9 3.9 12.6 2.5 -12.8 -3.7z" fill="#ffe531"/>
<path d="M1000.1 111.9l12.8 3 12.8 2.4 -12.7 -2.8z" fill="#ffcf32"/>
<path d="M974.5 107.4l12.6 2.2 13 2.3 -12.6 -2z" fill="#ffbe31"/>
<path d="M948.9 103.8l12.4 1.4 13.2 2.2 -12.4 -1.2z" fill="#ffb031"/>
<path d="M1064.2 128.5l13.2 5.8 12.4 2.3 -13.1 -5.6z" fill="#f9ff30"/>
<path d="M1038.6 121.2l13 5 12.6 2.3 -13 -4.8z" fill="#ffe732"/>
<path d="M1012.9 114.9l12.9 4.2 12.8 2.1 -12.9 -3.9z" fill="#ffce32"/>
<path d="M987.1 109.6l12.8 3.2 13 2.1 -12.8 -3z" fill="#ffba33"/>
<path d="M961.3 105.2l12.6 2.4 13.2 2 -12.6 -2.2z" fill="#ffaa33"/>
<path d="M935.5 101.7l12.4 1.6 13.4 1.9 -12.4 -1.4z" fill="#ff9d32"/>
<path d="M1077.4 134.3l13.2 7 12.4 2 -13.2 -6.7z" fill="#e8ff2e"/>
<path d="M1051.6 126.2l13.2 6.1 12.6 2 -13.2 -5.8z" fill="#ffec32"/>
<path d="M1025.8 119.1l13 5.2 12.8 1.9 -13 -5z" fill="#ffd133"/>
<path d="M999.9 112.8l12.9 4.4 13 1.9 -12.9 -4.2z" fill="#ffba33"/>
<path d="M973.9 107.6l12.8 3.5 13.2 1.7 -12.8 -3.2z" fill="#ffa734"/>
<path d="M1090.6 141.3l13.4 8 12.4 1.8 -13.4 -7.8z" fill="#d1ff2b"/>
<path d="M947.9 103.3l12.6 2.6 13.4 1.7 -12.6 -2.4z" fill="#ff9734"/>
<path d="M921.9 100l12.5 1.8 13.5 1.5 -12.4 -1.6z" fill="#ff8a33"/>
<path d="M1064.8 132.3l13.2 7.2 12.6 1.8 -13.2 -7z" fill="#fff531"/>
<path d="M1038.8 124.3l13.2 6.3 12.8 1.7 -13.2 -6.1z" fill="#ffd732"/>
<path d="M1012.8 117.2l13 5.5 13 1.6 -13 -5.2z" fill="#ffbd33"/>
<path d="M1104 149.3l13.5 9.2 12.4 1.6 -13.5 -9z" fill="#bcfd2a"/>
<path d="M986.7 111.1l12.9 4.6 13.2 1.5 -12.9 -4.4z" fill="#ffa834"/>
<path d="M960.5 105.9l12.8 3.7 13.4 1.5 -12.8 -3.5z" fill="#ff9535"/>
<path d="M1078 139.5l13.4 8.4 12.6 1.4 -13.4 -8z" fill="#f9ff2f"/>
<path d="M934.4 101.8l12.6 2.8 13.5 1.3 -12.6 -2.6z" fill="#ff8335"/>
<path d="M908.2 98.6l12.4 2 13.8 1.2 -12.5 -1.8z" fill="#ff7235"/>
<path d="M1052 130.6l13.3 7.5 12.7 1.4 -13.2 -7.2z" fill="#ffe132"/>
<path d="M1117.5 158.5l13.6 10.4 12.3 1.2 -13.5 -10z" fill="#a4fc28"/>
<path d="M1025.8 122.7l13.2 6.6 13 1.3 -13.2 -6.3z" fill="#ffc433"/>
<path d="M999.6 115.7l13.1 5.7 13.1 1.3 -13 -5.5z" fill="#ffab34"/>
<path d="M1091.4 147.9l13.6 9.4 12.5 1.2 -13.5 -9.2z" fill="#d8ff2b"/>
<path d="M973.3 109.6l12.9 4.9 13.4 1.2 -12.9 -4.6z" fill="#ff9635"/>
<path d="M947 104.6l12.8 4 13.5 1 -12.8 -3.7z" fill="#ff8136"/>
<path d="M1065.3 138.1l13.4 8.6 12.7 1.2 -13.4 -8.4z" fill="#ffee30"/>
<path d="M920.6 100.6l12.6 3 13.8 1 -12.6 -2.8z" fill="#ff6c36"/>
<path d="M1131.1 168.9l13.7 11.5 12.3 0.9 -13.7 -11.2z" fill="#87fa26"/>
<path d="M894.2 97.5l12.5 2.2 13.9 0.9 -12.4 -2z" fill="#ff5b33"/>
<path d="M1039 129.3l13.3 7.7 13 1.1 -13.3 -7.5z" fill="#ffce32"/>
<path d="M1105 157.3l13.6 10.7 12.5 0.9 -13.6 -10.4z" fill="#bcfd28"/>
<path d="M1012.7 121.4l13.2 6.8 13.1 1.1 -13.2 -6.6z" fill="#ffb234"/>
<path d="M986.2 114.5l13.1 5.9 13.4 1 -13.1 -5.7z" fill="#ff9b35"/>
<path d="M1078.7 146.7l13.6 9.8 12.7 0.8 -13.6 -9.4z" fill="#feff2f"/>
<path d="M1144.8 180.4l13.8 12.6 12.3 0.7 -13.8 -12.4z" fill="#67f924"/>
<path d="M959.8 108.6l12.9 5 13.5 0.9 -12.9 -4.9z" fill="#ff8436"/>
<path d="M933.2 103.6l12.8 4.2 13.8 0.8 -12.8 -4z" fill="#ff6b36"/>
<path d="M1052.3 137l13.5 8.9 12.9 0.8 -13.4 -8.6z" fill="#ffdc31"/>
<path d="M906.7 99.7l12.6 3.3 13.9 0.6 -12.6 -3z" fill="#ff5734"/>
<path d="M1118.6 168l13.8 11.8 12.4 0.6 -13.7 -11.5z" fill="#9dfb26"/>
<path d="M880.1 96.8l12.5 2.4 14.1 0.5 -12.5 -2.2z" fill="#ff4a32"/>
<path d="M1025.9 128.2l13.3 8 13.1 0.8 -13.3 -7.7z" fill="#ffbd33"/>
<path d="M1158.6 193l13.9 13.9 12.3 0.3 -13.9 -13.5z" fill="#44f723"/>
<path d="M1092.3 156.5l13.6 10.9 12.7 0.6 -13.6 -10.7z" fill="#d3ff29"/>
<path d="M999.3 120.4l13.2 7.1 13.4 0.7 -13.2 -6.8z" fill="#ffa234"/>
<path d="M972.7 113.6l13.1 6.2 13.5 0.6 -13.1 -5.9z" fill="#ff8b36"/>
<path d="M1065.8 145.9l13.6 10 12.9 0.6 -13.6 -9.8z" fill="#ffee2f"/>
<path d="M1132.4 179.8l13.8 12.9 12.4 0.3 -13.8 -12.6z" fill="#7bf924"/>
<path d="M946 107.8l13 5.3 13.7 0.5 -12.9 -5z" fill="#ff6e37"/>
<path d="M919.3 103l12.8 4.4 13.9 0.4 -12.8 -4.2z" fill="#ff5634"/>
<path d="M1039.2 136.2l13.5 9.2 13.1 0.5 -13.5 -8.9z" fill="#ffcb31"/>
<path d="M1172.5 206.9l14 14.9 12.2 0 -13.9 -14.6z" fill="#2bf62e"/>
<path d="M892.6 99.2l12.6 3.5 14.1 0.3 -12.6 -3.3z" fill="#ff4832"/>
<path d="M1105.9 167.4l13.8 12.1 12.7 0.3 -13.8 -11.8z" fill="#b2fd26"/>
<path d="M865.9 96.4l12.4 2.7 14.3 0.1 -12.5 -2.4z" fill="#ff4131"/>
<path d="M1012.5 127.5l13.4 8.3 13.3 0.4 -13.3 -8z" fill="#ffad33"/>
<path d="M1146.2 192.7l13.9 14.2 12.4 0 -13.9 -13.9z" fill="#55f822"/>
<path d="M1079.4 155.9l13.7 11.2 12.8 0.3 -13.6 -10.9z" fill="#f5ff2c"/>
<path d="M985.8 119.8l13.2 7.4 13.5 0.3 -13.2 -7.1z" fill="#ff9335"/>
<path d="M1186.5 221.8l14.1 16.2 12.1 -0.3 -14 -15.9z" fill="#15f547"/>
<path d="M959 113.1l13.1 6.5 13.7 0.2 -13.1 -6.2z" fill="#ff7636"/>
<path d="M1052.7 145.4l13.6 10.3 13.1 0.2 -13.6 -10z" fill="#ffdd2f"/>
<path d="M1119.7 179.5l13.9 13.3 12.6 -0.1 -13.8 -12.9z" fill="#8efa24"/>
<path d="M932.1 107.4l13 5.6 13.9 0.1 -13 -5.3z" fill="#ff5b35"/>
<path d="M905.2 102.7l12.8 4.7 14.1 0 -12.8 -4.4z" fill="#ff4832"/>
<path d="M1025.9 135.8l13.5 9.4 13.3 0.2 -13.5 -9.2z" fill="#ffbc31"/>
<path d="M1160.1 206.9l14 15.3 12.4 -0.4 -14 -14.9z" fill="#35f728"/>
<path d="M878.3 99.1l12.6 3.7 14.3 -0.1 -12.6 -3.5z" fill="#ff3f30"/>
<path d="M851.4 96.4l12.4 2.9 14.5 -0.2 -12.4 -2.7z" fill="#ff372f"/>
<path d="M1093.1 167.1l13.8 12.4 12.8 0 -13.8 -12.1z" fill="#c6fe26"/>
<path d="M1200.6 238l14.1 17.4 12.1 -0.7 -14.1 -17z" fill="#0af780"/>
<path d="M999 127.2l13.4 8.5 13.5 0.1 -13.4 -8.3z" fill="#ff9f33"/>
<path d="M1133.6 192.8l13.9 14.4 12.6 -0.3 -13.9 -14.2z" fill="#67f921"/>
<path d="M1066.3 155.7l13.7 11.5 13.1 -0.1 -13.7 -11.2z" fill="#fff42d"/>
<path d="M972.1 119.6l13.2 7.6 13.7 0 -13.2 -7.4z" fill="#ff8335"/>
<path d="M1174.1 222.2l14.1 16.5 12.4 -0.7 -14.1 -16.2z" fill="#19f535"/>
<path d="M945.1 113l13.1 6.7 13.9 -0.1 -13.1 -6.5z" fill="#ff6335"/>
<path d="M1214.7 255.4l14.2 18.5 12 -1 -14.1 -18.2z" fill="#00f7bd"/>
<path d="M1039.4 145.2l13.6 10.7 13.3 -0.2 -13.6 -10.3z" fill="#ffce2f"/>
<path d="M1106.9 179.5l13.9 13.6 12.8 -0.3 -13.9 -13.3z" fill="#a0fb24"/>
<path d="M918 107.4l13 5.8 14.1 -0.2 -13 -5.6z" fill="#ff4b32"/>
<path d="M890.9 102.8l12.8 4.9 14.3 -0.3 -12.8 -4.7z" fill="#ff3f30"/>
<path d="M1012.4 135.7l13.5 9.7 13.5 -0.2 -13.5 -9.4z" fill="#ffae31"/>
<path d="M1147.5 207.2l14.1 15.7 12.5 -0.7 -14 -15.3z" fill="#3ff722"/>
<path d="M863.8 99.3l12.7 4 14.4 -0.5 -12.6 -3.7z" fill="#ff362f"/>
<path d="M836.7 96.8l12.5 3.1 14.6 -0.6 -12.4 -2.9z" fill="#ff332e"/>
<path d="M1080 167.2l13.9 12.7 13 -0.4 -13.8 -12.4z" fill="#dfff28"/>
<path d="M1188.2 238.7l14.2 17.7 12.3 -1 -14.1 -17.4z" fill="#0df66c"/>
<path d="M1228.9 273.9l14.2 19.8 12 -1.5 -14.2 -19.3z" fill="#00e3ee"/>
<path d="M985.3 127.2l13.4 8.8 13.7 -0.3 -13.4 -8.5z" fill="#ff9133"/>
<path d="M1120.8 193.1l14 14.8 12.7 -0.7 -13.9 -14.4z" fill="#78f921"/>
<path d="M1053 155.9l13.8 11.8 13.2 -0.5 -13.7 -11.5z" fill="#ffe62d"/>
<path d="M958.2 119.7l13.3 7.9 13.8 -0.4 -13.2 -7.6z" fill="#ff7135"/>
<path d="M1161.6 222.9l14.1 16.8 12.5 -1 -14.1 -16.5z" fill="#22f62f"/>
<path d="M931 113.2l13.1 7 14.1 -0.5 -13.1 -6.7z" fill="#ff5233"/>
<path d="M1243.1 293.7l14.3 20.9 11.9 -1.8 -14.2 -20.6z" fill="#0cadff"/>
<path d="M1202.4 256.4l14.2 18.9 12.3 -1.4 -14.2 -18.5z" fill="#02f7ab"/>
<path d="M1025.9 145.4l13.7 11 13.4 -0.5 -13.6 -10.7z" fill="#ffc02f"/>
<path d="M1093.9 179.9l13.9 13.9 13 -0.7 -13.9 -13.6z" fill="#b2fd23"/>
<path d="M903.7 107.7l13 6.1 14.3 -0.6 -13 -5.8z" fill="#ff4231"/>
<path d="M876.5 103.3l12.8 5.1 14.4 -0.7 -12.8 -4.9z" fill="#ff372f"/>
<path d="M998.7 136l13.6 10 13.6 -0.6 -13.5 -9.7z" fill="#ffa131"/>
<path d="M849.2 99.9l12.6 4.2 14.7 -0.8 -12.7 -4z" fill="#ff332e"/>
<path d="M1134.8 207.9l14.1 16 12.7 -1 -14.1 -15.7z" fill="#4bf81f"/>
<path d="M821.9 97.6l12.4 3.3 14.9 -1 -12.5 -3.1z" fill="#ff332e"/>
<path d="M1257.4 314.6l14.3 22.1 11.9 -2.2 -14.3 -21.7z" fill="#0072fe"/>
<path d="M1066.8 167.7l13.9 13 13.2 -0.8 -13.9 -12.7z" fill="#faff2a"/>
<path d="M1175.7 239.7l14.2 18.1 12.5 -1.4 -14.2 -17.7z" fill="#0ff659"/>
<path d="M1216.6 275.3l14.3 20.1 12.2 -1.7 -14.2 -19.8z" fill="#00ece6"/>
<path d="M971.5 127.6l13.4 9.1 13.8 -0.7 -13.4 -8.8z" fill="#ff8334"/>
<path d="M1107.8 193.8l14 15.2 13 -1.1 -14 -14.8z" fill="#87fa21"/>
<path d="M944.1 120.2l13.3 8.1 14.1 -0.7 -13.3 -7.9z" fill="#ff6034"/>
<path d="M1039.6 156.4l13.8 12.1 13.4 -0.8 -13.8 -11.8z" fill="#ffd82d"/>
<path d="M1148.9 223.9l14.2 17.2 12.6 -1.4 -14.1 -16.8z" fill="#2af62a"/>
<path d="M916.7 113.8l13.2 7.2 14.2 -0.8 -13.1 -7z" fill="#ff4832"/>
<path d="M1230.9 295.4l14.3 21.3 12.2 -2.1 -14.3 -20.9z" fill="#0abafd"/>
<path d="M1189.9 257.8l14.3 19.3 12.4 -1.8 -14.2 -18.9z" fill="#05f79a"/>
<path d="M1012.3 146l13.7 11.2 13.6 -0.8 -13.7 -11z" fill="#ffb42f"/>
<path d="M889.3 108.4l13 6.3 14.4 -0.9 -13 -6.1z" fill="#ff3b30"/>
<path d="M1080.7 180.7l13.9 14.2 13.2 -1.1 -13.9 -13.9z" fill="#c2fe23"/>
<path d="M861.8 104.1l12.8 5.4 14.7 -1.1 -12.8 -5.1z" fill="#ff332e"/>
<path d="M834.3 100.9l12.7 4.5 14.8 -1.3 -12.6 -4.2z" fill="#ff332e"/>
<path d="M984.9 136.7l13.6 10.2 13.8 -0.9 -13.6 -10z" fill="#ff9531"/>
<path d="M1121.8 209l14.2 16.3 12.9 -1.4 -14.1 -16z" fill="#59f81e"/>
<path d="M806.9 98.7l12.4 3.6 15 -1.4 -12.4 -3.3z" fill="#ff332e"/>
<path d="M1245.2 316.7l14.4 22.5 12.1 -2.5 -14.3 -22.1z" fill="#027fff"/>
<path d="M1053.4 168.5l13.9 13.3 13.4 -1.1 -13.9 -13z" fill="#fff52a"/>
<path d="M1163.1 241.1l14.2 18.4 12.6 -1.7 -14.2 -18.1z" fill="#11f548"/>
<path d="M1204.2 277.1l14.3 20.4 12.4 -2.1 -14.3 -20.1z" fill="#00f3dd"/>
<path d="M957.4 128.3l13.5 9.4 14 -1 -13.4 -9.1z" fill="#ff7334"/>
<path d="M1094.6 194.9l14.1 15.4 13.1 -1.3 -14 -15.2z" fill="#95fa21"/>
<path d="M929.9 121l13.3 8.4 14.2 -1.1 -13.3 -8.1z" fill="#ff5132"/>
<path d="M1026 157.2l13.8 12.4 13.6 -1.1 -13.8 -12.1z" fill="#ffcc2d"/>
<path d="M1136 225.3l14.2 17.5 12.9 -1.7 -14.2 -17.2z" fill="#32f725"/>
<path d="M902.3 114.7l13.1 7.5 14.5 -1.2 -13.2 -7.2z" fill="#ff4131"/>
<path d="M1218.5 297.5l14.4 21.7 12.3 -2.5 -14.3 -21.3z" fill="#06c5fa"/>
<path d="M1177.3 259.5l14.3 19.7 12.6 -2.1 -14.3 -19.3z" fill="#08f78b"/>
<path d="M998.5 146.9l13.7 11.5 13.8 -1.2 -13.7 -11.2z" fill="#ffa92f"/>
<path d="M874.6 109.5l13 6.6 14.7 -1.4 -13 -6.3z" fill="#ff342e"/>
<path d="M1067.3 181.8l14 14.5 13.3 -1.4 -13.9 -14.2z" fill="#d3ff24"/>
<path d="M847 105.4l12.8 5.6 14.8 -1.5 -12.8 -5.4z" fill="#ff332e"/>
<path d="M819.3 102.3l12.7 4.7 15 -1.6 -12.7 -4.5z" fill="#ff332e"/>
<path d="M970.9 137.7l13.5 10.5 14.1 -1.3 -13.6 -10.2z" fill="#ff8b31"/>
<path d="M1108.7 210.3l14.2 16.7 13.1 -1.7 -14.2 -16.3z" fill="#66f91e"/>
<path d="M791.7 100.3l12.4 3.7 15.2 -1.7 -12.4 -3.6z" fill="#ff332e"/>
<path d="M1232.9 319.2l14.4 22.9 12.3 -2.9 -14.4 -22.5z" fill="#0489ff"/>
<path d="M1039.8 169.6l13.9 13.7 13.6 -1.5 -13.9 -13.3z" fill="#ffe92a"/>
<path d="M1150.2 242.8l14.3 18.8 12.8 -2.1 -14.2 -18.4z" fill="#14f539"/>
<path d="M1191.6 279.2l14.4 20.8 12.5 -2.5 -14.3 -20.4z" fill="#00f4d0"/>
<path d="M943.2 129.4l13.4 9.7 14.3 -1.4 -13.5 -9.4z" fill="#ff6533"/>
<path d="M1081.3 196.3l14.1 15.8 13.3 -1.8 -14.1 -15.4z" fill="#a3fc20"/>
<path d="M915.4 122.2l13.3 8.7 14.5 -1.5 -13.3 -8.4z" fill="#ff4831"/>
<path d="M1012.2 158.4l13.8 12.8 13.8 -1.6 -13.8 -12.4z" fill="#ffc12d"/>
<path d="M1122.9 227l14.2 17.9 13.1 -2.1 -14.2 -17.5z" fill="#39f720"/>
<path d="M887.6 116.1l13.2 7.7 14.6 -1.6 -13.1 -7.5z" fill="#ff3a2f"/>
<path d="M1206 300l14.4 22.1 12.5 -2.9 -14.4 -21.7z" fill="#03d0f7"/>
<path d="M1164.5 261.6l14.3 20 12.8 -2.4 -14.3 -19.7z" fill="#0af77d"/>
<path d="M984.4 148.2l13.8 11.8 14 -1.6 -13.7 -11.5z" fill="#ff9f2f"/>
<path d="M859.8 111l13 6.8 14.8 -1.7 -13 -6.6z" fill="#ff332e"/>
<path d="M1053.7 183.3l14.1 14.8 13.5 -1.8 -14 -14.5z" fill="#e8ff25"/>
<path d="M832 107l12.8 5.9 15 -1.9 -12.8 -5.6z" fill="#ff332e"/>
<path d="M804.1 104l12.7 5 15.2 -2 -12.7 -4.7z" fill="#ff332e"/>
<path d="M956.6 139.1l13.6 10.8 14.2 -1.7 -13.5 -10.5z" fill="#ff7e31"/>
<path d="M776.3 102.2l12.4 4 15.4 -2.2 -12.4 -3.7z" fill="#ff332e"/>
<path d="M1095.4 212.1l14.2 17 13.3 -2.1 -14.2 -16.7z" fill="#72f91e"/>
<path d="M1220.4 322.1l14.5 23.2 12.4 -3.2 -14.4 -22.9z" fill="#0692ff"/>
<path d="M1026 171.2l14 13.9 13.7 -1.8 -13.9 -13.7z" fill="#ffde2a"/>
<path d="M1137.1 244.9l14.4 19.1 13 -2.4 -14.3 -18.8z" fill="#18f531"/>
<path d="M1178.8 281.6l14.5 21.2 12.7 -2.8 -14.4 -20.8z" fill="#00f6c4"/>
<path d="M928.7 130.9l13.5 10 14.4 -1.8 -13.4 -9.7z" fill="#ff5831"/>
<path d="M1067.8 198.1l14.1 16.1 13.5 -2.1 -14.1 -15.8z" fill="#b0fd20"/>
<path d="M900.8 123.8l13.3 9 14.6 -1.9 -13.3 -8.7z" fill="#ff4230"/>
<path d="M998.2 160l13.8 13.1 14 -1.9 -13.8 -12.8z" fill="#ffb82c"/>
<path d="M1109.6 229.1l14.3 18.2 13.2 -2.4 -14.2 -17.9z" fill="#3ff71c"/>
<path d="M872.8 117.8l13.2 8.1 14.8 -2.1 -13.2 -7.7z" fill="#ff352f"/>
<path d="M1193.3 302.8l14.4 22.4 12.7 -3.1 -14.4 -22.1z" fill="#01d9f5"/>
<path d="M1151.5 264l14.4 20.4 12.9 -2.8 -14.3 -20z" fill="#0cf770"/>
<path d="M970.2 149.9l13.8 12.1 14.2 -2 -13.8 -11.8z" fill="#ff962f"/>
<path d="M844.8 112.9l13 7.1 15 -2.2 -13 -6.8z" fill="#ff332e"/>
<path d="M1040 185.1l14 15.2 13.8 -2.2 -14.1 -14.8z" fill="#fbff27"/>
<path d="M816.8 109l12.8 6.1 15.2 -2.2 -12.8 -5.9z" fill="#ff332e"/>
<path d="M788.7 106.2l12.7 5.2 15.4 -2.4 -12.7 -5z" fill="#ff332e"/>
<path d="M760.7 104.6l12.5 4.2 15.5 -2.6 -12.4 -4z" fill="#ff332e"/>
<path d="M942.2 140.9l13.6 11.1 14.4 -2.1 -13.6 -10.8z" fill="#ff7231"/>
<path d="M1081.9 214.2l14.2 17.4 13.5 -2.5 -14.2 -17z" fill="#7cf91d"/>
<path d="M1207.7 325.2l14.5 23.7 12.7 -3.6 -14.5 -23.2z" fill="#089aff"/>
<path d="M1012 173.1l14 14.2 14 -2.2 -14 -13.9z" fill="#ffd52a"/>
<path d="M1123.9 247.3l14.4 19.5 13.2 -2.8 -14.4 -19.1z" fill="#1ef52d"/>
<path d="M1165.9 284.4l14.4 21.6 13 -3.2 -14.5 -21.2z" fill="#00f7b9"/>
<path d="M914.1 132.8l13.5 10.2 14.6 -2.1 -13.5 -10z" fill="#ff4d2f"/>
<path d="M886 125.9l13.3 9.2 14.8 -2.3 -13.3 -9z" fill="#ff3d2f"/>
<path d="M1054 200.3l14.2 16.4 13.7 -2.5 -14.1 -16.1z" fill="#bbfd20"/>
<path d="M984 162l13.9 13.3 14.1 -2.2 -13.8 -13.1z" fill="#ffaf2c"/>
<path d="M857.8 120l13.2 8.3 15 -2.4 -13.2 -8.1z" fill="#ff332e"/>
<path d="M1096.1 231.6l14.4 18.6 13.4 -2.9 -14.3 -18.2z" fill="#47f81a"/>
<path d="M1180.3 306l14.6 22.8 12.8 -3.6 -14.4 -22.4z" fill="#00dff1"/>
<path d="M1138.3 266.8l14.4 20.8 13.2 -3.2 -14.4 -20.4z" fill="#0df665"/>
<path d="M829.6 115.1l13 7.4 15.2 -2.5 -13 -7.1z" fill="#ff332e"/>
<path d="M955.8 152l13.8 12.4 14.4 -2.4 -13.8 -12.1z" fill="#ff8f2f"/>
<path d="M1026 187.3l14.1 15.5 13.9 -2.5 -14 -15.2z" fill="#fff827"/>
<path d="M801.4 111.4l12.8 6.4 15.4 -2.7 -12.8 -6.1z" fill="#ff332e"/>
<path d="M773.2 108.8l12.6 5.5 15.6 -2.9 -12.7 -5.2z" fill="#ff332e"/>
<path d="M745 107.3l12.4 4.6 15.8 -3.1 -12.5 -4.2z" fill="#ff332e"/>
<path d="M927.6 143l13.7 11.5 14.5 -2.5 -13.6 -11.1z" fill="#ff6831"/>
<path d="M1068.2 216.7l14.3 17.7 13.6 -2.8 -14.2 -17.4z" fill="#85fa1d"/>
<path d="M1194.9 328.8l14.5 24 12.8 -3.9 -14.5 -23.7z" fill="#09a1ff"/>
<path d="M997.9 175.3l14 14.6 14.1 -2.6 -14 -14.2z" fill="#ffcd29"/>
<path d="M1110.5 250.2l14.4 19.8 13.4 -3.2 -14.4 -19.5z" fill="#23f62a"/>
<path d="M1152.7 287.6l14.5 21.9 13.1 -3.5 -14.4 -21.6z" fill="#01f7b0"/>
<path d="M899.3 135.1l13.5 10.5 14.8 -2.6 -13.5 -10.2z" fill="#ff472e"/>
<path d="M871 128.3l13.3 9.5 15 -2.7 -13.3 -9.2z" fill="#ff392e"/>
<path d="M1040.1 202.8l14.2 16.8 13.9 -2.9 -14.2 -16.4z" fill="#c4fe1f"/>
<path d="M969.6 164.4l13.9 13.6 14.4 -2.7 -13.9 -13.3z" fill="#ffa82c"/>
<path d="M842.6 122.5l13.2 8.6 15.2 -2.8 -13.2 -8.3z" fill="#ff332e"/>
<path d="M1082.5 234.4l14.4 19 13.6 -3.2 -14.4 -18.6z" fill="#4ff81a"/>
<path d="M1167.2 309.5l14.6 23.2 13.1 -3.9 -14.6 -22.8z" fill="#00e4ed"/>
<path d="M1124.9 270l14.5 21.1 13.3 -3.5 -14.4 -20.8z" fill="#0ff65c"/>
<path d="M814.2 117.8l13 7.7 15.4 -3 -13 -7.4z" fill="#ff332e"/>
<path d="M941.3 154.5l13.8 12.7 14.5 -2.8 -13.8 -12.4z" fill="#ff882e"/>
<path d="M1011.9 189.9l14.1 15.9 14.1 -3 -14.1 -15.5z" fill="#fff127"/>
<path d="M785.8 114.3l12.8 6.7 15.6 -3.2 -12.8 -6.4z" fill="#ff332e"/>
<path d="M757.4 111.9l12.6 5.7 15.8 -3.3 -12.6 -5.5z" fill="#ff332e"/>
<path d="M729.1 110.5l12.4 4.8 15.9 -3.4 -12.4 -4.6z" fill="#ff332e"/>
<path d="M912.8 145.6l13.7 11.7 14.8 -2.8 -13.7 -11.5z" fill="#ff5f2f"/>
<path d="M1054.3 219.6l14.4 18 13.8 -3.2 -14.3 -17.7z" fill="#8dfa1c"/>
<path d="M1181.8 332.7l14.6 24.4 13 -4.3 -14.5 -24z" fill="#0ba6ff"/>
<path d="M983.5 178l14.1 14.9 14.3 -3 -14 -14.6z" fill="#ffc629"/>
<path d="M1096.9 253.4l14.4 20.2 13.6 -3.6 -14.4 -19.8z" fill="#28f628"/>
<path d="M1139.4 291.1l14.6 22.3 13.2 -3.9 -14.5 -21.9z" fill="#03f7a7"/>
<path d="M884.3 137.8l13.5 10.8 15 -3 -13.5 -10.5z" fill="#ff432d"/>
<path d="M855.8 131.1l13.3 9.8 15.2 -3.1 -13.3 -9.5z" fill="#ff352d"/>
<path d="M1026 205.8l14.3 17.1 14 -3.3 -14.2 -16.8z" fill="#ccff1f"/>
<path d="M955.1 167.2l13.9 13.9 14.5 -3.1 -13.9 -13.6z" fill="#ffa22b"/>
<path d="M827.2 125.5l13.2 8.8 15.4 -3.2 -13.2 -8.6z" fill="#ff332e"/>
<path d="M1068.7 237.6l14.4 19.3 13.8 -3.5 -14.4 -19z" fill="#56f81a"/>
<path d="M1154 313.4l14.6 23.6 13.2 -4.3 -14.6 -23.2z" fill="#00e8ea"/>
<path d="M1111.3 273.6l14.6 21.4 13.5 -3.9 -14.5 -21.1z" fill="#10f654"/>
<path d="M798.6 121l13 7.9 15.6 -3.4 -13 -7.7z" fill="#ff332e"/>
<path d="M926.5 157.3l13.8 13 14.8 -3.1 -13.8 -12.7z" fill="#ff802e"/>
<path d="M997.6 192.9l14.2 16.2 14.2 -3.3 -14.1 -15.9z" fill="#ffeb26"/>
<path d="M770 117.6l12.8 6.9 15.8 -3.5 -12.8 -6.7z" fill="#ff332e"/>
<path d="M741.5 115.3l12.6 6 15.9 -3.7 -12.6 -5.7z" fill="#ff332e"/>
<path d="M897.8 148.6l13.7 12 15 -3.3 -13.7 -11.7z" fill="#ff582e"/>
<path d="M1040.3 222.9l14.4 18.3 14 -3.6 -14.4 -18z" fill="#94fa1c"/>
<path d="M1168.6 337l14.6 24.8 13.2 -4.7 -14.6 -24.4z" fill="#0cabff"/>
<path d="M969 181.1l14.1 15.2 14.5 -3.4 -14.1 -14.9z" fill="#ffc129"/>
<path d="M1083.1 256.9l14.5 20.6 13.7 -3.9 -14.4 -20.2z" fill="#2bf626"/>
<path d="M1125.9 295l14.6 22.7 13.5 -4.3 -14.6 -22.3z" fill="#04f7a1"/>
<path d="M869.1 140.9l13.6 11.1 15.1 -3.4 -13.5 -10.8z" fill="#ff402c"/>
<path d="M840.4 134.3l13.4 10.1 15.3 -3.5 -13.3 -9.8z" fill="#ff322c"/>
<path d="M1011.8 209.1l14.2 17.4 14.3 -3.6 -14.3 -17.1z" fill="#d6ff1f"/>
<path d="M940.3 170.3l14 14.3 14.7 -3.5 -13.9 -13.9z" fill="#ff9d2b"/>
<path d="M811.6 128.9l13.2 9.1 15.6 -3.7 -13.2 -8.8z" fill="#ff332e"/>
<path d="M1054.7 241.2l14.4 19.7 14 -4 -14.4 -19.3z" fill="#5cf81a"/>
<path d="M1140.5 317.7l14.7 24 13.4 -4.7 -14.6 -23.6z" fill="#00ebe7"/>
<path d="M1097.6 277.5l14.6 21.8 13.7 -4.3 -14.6 -21.4z" fill="#11f64d"/>
<path d="M782.8 124.5l13 8.2 15.8 -3.8 -13 -7.9z" fill="#ff332e"/>
<path d="M911.5 160.6l13.9 13.3 14.9 -3.6 -13.8 -13z" fill="#ff7a2e"/>
<path d="M754.1 121.3l12.8 7.2 15.9 -4 -12.8 -6.9z" fill="#ff332e"/>
<path d="M983.1 196.3l14.2 16.5 14.5 -3.7 -14.2 -16.2z" fill="#ffe626"/>
<path d="M882.7 152l13.7 12.3 15.1 -3.7 -13.7 -12z" fill="#ff532d"/>
<path d="M1155.2 341.7l14.7 25.2 13.3 -5.1 -14.6 -24.8z" fill="#0cafff"/>
<path d="M1026 226.5l14.4 18.8 14.3 -4.1 -14.4 -18.3z" fill="#9afb1b"/>
<path d="M954.3 184.6l14.1 15.5 14.7 -3.8 -14.1 -15.2z" fill="#ffbd28"/>
<path d="M1112.2 299.3l14.7 23.1 13.6 -4.7 -14.6 -22.7z" fill="#05f79b"/>
<path d="M1069.1 260.9l14.6 20.9 13.9 -4.3 -14.5 -20.6z" fill="#2ef624"/>
<path d="M853.8 144.4l13.5 11.4 15.4 -3.8 -13.6 -11.1z" fill="#ff3d2c"/>
<path d="M824.8 138l13.4 10.4 15.6 -4 -13.4 -10.1z" fill="#ff302c"/>
<path d="M997.3 212.8l14.3 17.8 14.4 -4.1 -14.2 -17.4z" fill="#deff20"/>
<path d="M925.4 173.9l14 14.6 14.9 -3.9 -14 -14.3z" fill="#ff9a2b"/>
<path d="M795.8 132.7l13.2 9.4 15.8 -4.1 -13.2 -9.1z" fill="#ff332e"/>
<path d="M1126.9 322.4l14.7 24.3 13.6 -5 -14.7 -24z" fill="#00ede5"/>
<path d="M1040.4 245.3l14.6 20 14.1 -4.4 -14.4 -19.7z" fill="#60f81a"/>
<path d="M1083.7 281.8l14.6 22.2 13.9 -4.7 -14.6 -21.8z" fill="#11f549"/>
<path d="M766.9 128.5l13 8.4 15.9 -4.2 -13 -8.2z" fill="#ff332e"/>
<path d="M896.4 164.3l13.8 13.6 15.2 -4 -13.9 -13.3z" fill="#ff752d"/>
<path d="M968.4 200.1l14.2 16.9 14.7 -4.2 -14.2 -16.5z" fill="#ffe225"/>
<path d="M867.3 155.8l13.7 12.6 15.4 -4.1 -13.7 -12.3z" fill="#ff4f2c"/>
<path d="M1141.6 346.7l14.7 25.6 13.6 -5.4 -14.7 -25.2z" fill="#0cb1ff"/>
<path d="M1011.6 230.6l14.5 19.1 14.3 -4.4 -14.4 -18.8z" fill="#9efb1b"/>
<path d="M939.4 188.5l14.1 15.9 14.9 -4.3 -14.1 -15.5z" fill="#ffba28"/>
<path d="M1098.3 304l14.7 23.5 13.9 -5.1 -14.7 -23.1z" fill="#06f798"/>
<path d="M1055 265.3l14.5 21.2 14.2 -4.7 -14.6 -20.9z" fill="#30f623"/>
<path d="M838.2 148.4l13.6 11.6 15.5 -4.2 -13.5 -11.4z" fill="#ff3b2b"/>
<path d="M809 142.1l13.4 10.7 15.8 -4.4 -13.4 -10.4z" fill="#ff302b"/>
<path d="M982.6 217l14.4 18.1 14.6 -4.5 -14.3 -17.8z" fill="#e4ff20"/>
<path d="M910.2 177.9l14.1 14.9 15.1 -4.3 -14 -14.6z" fill="#ff972a"/>
<path d="M779.9 136.9l13.2 9.7 15.9 -4.5 -13.2 -9.4z" fill="#ff322e"/>
<path d="M1113 327.5l14.8 24.7 13.8 -5.5 -14.7 -24.3z" fill="#00efe4"/>
<path d="M1026.1 249.7l14.5 20.3 14.4 -4.7 -14.6 -20z" fill="#63f91a"/>
<path d="M1069.5 286.5l14.7 22.6 14.1 -5.1 -14.6 -22.2z" fill="#12f545"/>
<path d="M881 168.4l13.9 14 15.3 -4.5 -13.8 -13.6z" fill="#ff732d"/>
<path d="M953.5 204.4l14.3 17.1 14.8 -4.5 -14.2 -16.9z" fill="#ffe025"/>
<path d="M851.8 160l13.7 13 15.5 -4.6 -13.7 -12.6z" fill="#ff4d2b"/>
<path d="M1127.8 352.2l14.8 26 13.7 -5.9 -14.7 -25.6z" fill="#0cb3fe"/>
<path d="M997 235.1l14.5 19.4 14.6 -4.8 -14.5 -19.1z" fill="#a0fb1a"/>
<path d="M924.3 192.8l14.1 16.2 15.1 -4.6 -14.1 -15.9z" fill="#ffb827"/>
<path d="M1084.2 309.1l14.8 23.8 14 -5.4 -14.7 -23.5z" fill="#06f795"/>
<path d="M1040.6 270l14.6 21.7 14.3 -5.2 -14.5 -21.2z" fill="#31f722"/>
<path d="M822.4 152.8l13.6 11.9 15.8 -4.7 -13.6 -11.6z" fill="#ff3a2a"/>
<path d="M793.1 146.6l13.4 11 15.9 -4.8 -13.4 -10.7z" fill="#ff2f2b"/>
<path d="M967.8 221.5l14.4 18.5 14.8 -4.9 -14.4 -18.1z" fill="#e7ff20"/>
<path d="M894.9 182.4l14.1 15.2 15.3 -4.8 -14.1 -14.9z" fill="#ff962a"/>
<path d="M1099 332.9l14.8 25.2 14 -5.9 -14.8 -24.7z" fill="#00efe3"/>
<path d="M1011.5 254.5l14.6 20.7 14.5 -5.2 -14.5 -20.3z" fill="#65f91a"/>
<path d="M1055.2 291.7l14.8 22.9 14.2 -5.5 -14.7 -22.6z" fill="#12f544"/>
<path d="M865.5 173l13.9 14.2 15.5 -4.8 -13.9 -14z" fill="#ff712c"/>
<path d="M938.4 209l14.3 17.5 15.1 -5 -14.3 -17.1z" fill="#ffde24"/>
<path d="M836 164.7l13.8 13.3 15.7 -5 -13.7 -13z" fill="#ff4c2b"/>
<path d="M1113.8 358.1l14.9 26.3 13.9 -6.2 -14.8 -26z" fill="#0cb3fe"/>
<path d="M982.2 240l14.5 19.8 14.8 -5.3 -14.5 -19.4z" fill="#a1fc1a"/>
<path d="M909 197.6l14.2 16.5 15.2 -5.1 -14.1 -16.2z" fill="#ffb727"/>
<path d="M1070 314.6l14.8 24.2 14.2 -5.9 -14.8 -23.8z" fill="#06f795"/>
<path d="M1026.1 275.2l14.6 22 14.5 -5.5 -14.6 -21.7z" fill="#32f722"/>
<path d="M806.5 157.6l13.6 12.3 15.9 -5.2 -13.6 -11.9z" fill="#ff3a2a"/>
<path d="M952.7 226.5l14.5 18.8 15 -5.3 -14.4 -18.5z" fill="#e8ff1f"/>
<path d="M879.4 187.2l14.1 15.6 15.5 -5.2 -14.1 -15.2z" fill="#ff9529"/>
<path d="M1084.8 338.8l14.9 25.5 14.1 -6.2 -14.8 -25.2z" fill="#00efe3"/>
<path d="M996.7 259.8l14.6 21 14.8 -5.6 -14.6 -20.7z" fill="#65f91a"/>
<path d="M1040.7 297.2l14.8 23.3 14.5 -5.9 -14.8 -22.9z" fill="#12f544"/>
<path d="M849.8 178l13.9 14.5 15.7 -5.3 -13.9 -14.2z" fill="#ff722c"/>
<path d="M923.2 214.1l14.3 17.8 15.2 -5.4 -14.3 -17.5z" fill="#ffdf24"/>
<path d="M820.1 169.9l13.8 13.5 15.9 -5.4 -13.8 -13.3z" fill="#ff4d2a"/>
<path d="M1099.7 364.3l14.9 26.8 14.1 -6.7 -14.9 -26.3z" fill="#0cb2ff"/>
<path d="M967.2 245.3l14.5 20.1 15 -5.6 -14.5 -19.8z" fill="#a1fc1a"/>
<path d="M893.5 202.8l14.2 16.8 15.5 -5.5 -14.2 -16.5z" fill="#ffb826"/>
<path d="M1055.5 320.5l14.9 24.6 14.4 -6.3 -14.8 -24.2z" fill="#06f796"/>
<path d="M1011.3 280.8l14.7 22.4 14.7 -6 -14.6 -22z" fill="#32f722"/>
<path d="M937.5 231.9l14.5 19.2 15.2 -5.8 -14.5 -18.8z" fill="#e6ff1e"/>
<path d="M863.7 192.5l14.1 15.9 15.7 -5.6 -14.1 -15.6z" fill="#ff9629"/>
<path d="M1070.4 345.1l14.9 25.9 14.4 -6.7 -14.9 -25.5z" fill="#00eee4"/>
<path d="M981.7 265.4l14.7 21.5 14.9 -6.1 -14.6 -21z" fill="#64f91a"/>
<path d="M1026 303.2l14.9 23.7 14.6 -6.4 -14.8 -23.3z" fill="#12f545"/>
<path d="M833.9 183.4l13.9 14.9 15.9 -5.8 -13.9 -14.5z" fill="#ff742b"/>
<path d="M907.7 219.6l14.4 18.2 15.4 -5.9 -14.3 -17.8z" fill="#ffe023"/>
<path d="M1085.3 371l15 27.2 14.3 -7.1 -14.9 -26.8z" fill="#0db0ff"/>
<path d="M952 251.1l14.6 20.4 15.1 -6.1 -14.5 -20.1z" fill="#9ffb1a"/>
<path d="M877.8 208.4l14.2 17.2 15.7 -6 -14.2 -16.8z" fill="#ffb926"/>
<path d="M1040.9 326.9l14.9 24.9 14.6 -6.7 -14.9 -24.6z" fill="#06f798"/>
<path d="M996.4 286.9l14.8 22.7 14.8 -6.4 -14.7 -22.4z" fill="#31f622"/>
<path d="M847.8 198.3l14.1 16.2 15.9 -6.1 -14.1 -15.9z" fill="#ff9828"/>
<path d="M922.1 237.8l14.5 19.5 15.4 -6.2 -14.5 -19.2z" fill="#e2ff1e"/>
<path d="M1055.8 351.8l15 26.3 14.5 -7.1 -14.9 -25.9z" fill="#00ede5"/>
<path d="M966.6 271.5l14.7 21.8 15.1 -6.4 -14.7 -21.5z" fill="#62f81a"/>
<path d="M1011.2 309.6l14.8 24 14.9 -6.7 -14.9 -23.7z" fill="#11f548"/>
<path d="M892 225.6l14.4 18.5 15.7 -6.3 -14.4 -18.2z" fill="#ffe223"/>
<path d="M1070.8 378.1l15 27.6 14.5 -7.5 -15 -27.2z" fill="#0cadff"/>
<path d="M936.6 257.3l14.6 20.8 15.4 -6.6 -14.6 -20.4z" fill="#9cfb1a"/>
<path d="M861.9 214.5l14.3 17.5 15.8 -6.4 -14.2 -17.2z" fill="#ffbc25"/>
<path d="M1026 333.6l15 25.4 14.8 -7.2 -14.9 -24.9z" fill="#05f79c"/>
<path d="M981.3 293.3l14.8 23.1 15.1 -6.8 -14.8 -22.7z" fill="#2ff624"/>
<path d="M906.4 244.1l14.6 19.8 15.6 -6.6 -14.5 -19.5z" fill="#dbff1c"/>
<path d="M1041 359l15 26.6 14.8 -7.5 -15 -26.3z" fill="#00eae8"/>
<path d="M951.2 278.1l14.7 22.1 15.4 -6.9 -14.7 -21.8z" fill="#5ef81a"/>
<path d="M996.1 316.4l14.9 24.4 15 -7.2 -14.8 -24z" fill="#11f64d"/>
<path d="M876.2 232l14.4 18.8 15.8 -6.7 -14.4 -18.5z" fill="#ffe622"/>
<path d="M1056 385.6l15.1 28 14.7 -7.9 -15 -27.6z" fill="#0ba9ff"/>
<path d="M921 263.9l14.6 21.2 15.6 -7 -14.6 -20.8z" fill="#97fb1a"/>
<path d="M1011 340.8l15 25.8 15 -7.6 -15 -25.4z" fill="#04f7a1"/>
<path d="M965.9 300.2l14.9 23.5 15.3 -7.3 -14.8 -23.1z" fill="#2cf625"/>
<path d="M890.6 250.8l14.6 20.2 15.8 -7.1 -14.6 -19.8z" fill="#d2ff1b"/>
<path d="M1026 366.6l15.1 27 14.9 -8 -15 -26.6z" fill="#00e7eb"/>
<path d="M935.6 285.1l14.8 22.5 15.5 -7.4 -14.7 -22.1z" fill="#59f81a"/>
<path d="M980.8 323.7l15 24.8 15.2 -7.7 -14.9 -24.4z" fill="#10f653"/>
<path d="M1041.1 393.6l15.2 28.3 14.8 -8.3 -15.1 -28z" fill="#0aa4ff"/>
<path d="M905.2 271l14.7 21.6 15.7 -7.5 -14.6 -21.2z" fill="#90fa1a"/>
<path d="M995.8 348.5l15 26.1 15.2 -8 -15 -25.8z" fill="#03f7a8"/>
<path d="M950.4 307.6l14.9 23.8 15.5 -7.7 -14.9 -23.5z" fill="#29f627"/>
<path d="M1010.8 374.6l15.2 27.4 15.1 -8.4 -15.1 -27z" fill="#00e3ee"/>
<path d="M919.9 292.6l14.8 22.8 15.7 -7.8 -14.8 -22.5z" fill="#52f81a"/>
<path d="M965.3 331.4l15.1 25.2 15.4 -8.1 -15 -24.8z" fill="#0ff65a"/>
<path d="M1026 402l15.2 28.7 15.1 -8.8 -15.2 -28.3z" fill="#099dff"/>
<path d="M980.4 356.6l15.1 26.5 15.3 -8.5 -15 -26.1z" fill="#01f7b0"/>
<path d="M934.7 315.4l15 24.2 15.6 -8.2 -14.9 -23.8z" fill="#25f629"/>
<path d="M995.5 383.1l15.2 27.8 15.3 -8.9 -15.2 -27.4z" fill="#00def2"/>
<path d="M949.7 339.6l15 25.5 15.7 -8.5 -15.1 -25.2z" fill="#0df664"/>
<path d="M1010.7 410.9l15.2 29.1 15.3 -9.3 -15.2 -28.7z" fill="#0796ff"/>
<path d="M964.7 365.1l15.2 26.9 15.6 -8.9 -15.1 -26.5z" fill="#00f7ba"/>
<path d="M979.9 392l15.3 28.2 15.5 -9.3 -15.2 -27.8z" fill="#01d7f6"/>
<path d="M995.2 420.2l15.3 29.5 15.4 -9.7 -15.2 -29.1z" fill="#058dff"/>
</g></g>
<path d="M729.1 110.5L745 107.3L760.7 104.6L776.3 102.2L791.7 100.3L806.9 98.7L821.9 97.6L836.7 96.8L851.4 96.4L865.9 96.4L880.1 96.8L894.2 97.5L908.2 98.6L921.9 100L935.5 101.7M741.5 115.3L757.4 111.9L773.2 108.8L788.7 106.2L804.1 104L819.3 102.3L834.3 100.9L849.2 99.9L863.8 99.3L878.3 99.1L892.6 99.2L906.7 99.7L920.6 100.6L934.4 101.8L947.9 103.3L961.3 105.2L974.5 107.4M754.1 121.3L770 117.6L785.8 114.3L801.4 111.4L816.8 109L832 107L847 105.4L861.8 104.1L876.5 103.3L890.9 102.8L905.2 102.7L919.3 103L933.2 103.6L947 104.6L960.5 105.9L973.9 107.6L987.1 109.6L1000.1 111.9L1013 114.5M766.9 128.5L782.8 124.5L798.6 121L814.2 117.8L829.6 115.1L844.8 112.9L859.8 111L874.6 109.5L889.3 108.4L903.7 107.7L918 107.4L932.1 107.4L946 107.8L959.8 108.6L973.3 109.6L986.7 111.1L999.9 112.8L1012.9 114.9L1025.7 117.3L1038.4 120L1050.9 123.1M779.9 136.9L795.8 132.7L811.6 128.9L827.2 125.5L842.6 122.5L857.8 120L872.8 117.8L887.6 116.1L902.3 114.7L916.7 113.8L931 113.2L945.1 113L959 113.1L972.7 113.6L986.2 114.5L999.6 115.7L1012.8 117.2L1025.8 119.1L1038.6 121.2L1051.2 123.7L1063.7 126.5M793.1 146.6L809 142.1L824.8 138L840.4 134.3L855.8 131.1L871 128.3L886 125.9L900.8 123.8L915.4 122.2L929.9 121L944.1 120.2L958.2 119.7L972.1 119.6L985.8 119.8L999.3 120.4L1012.7 121.4L1025.8 122.7L1038.8 124.3L1051.6 126.2L1064.2 128.5L1076.7 131M806.5 157.6L822.4 152.8L838.2 148.4L853.8 144.4L869.1 140.9L884.3 137.8L899.3 135.1L914.1 132.8L928.7 130.9L943.2 129.4L957.4 128.3L971.5 127.6L985.3 127.2L999 127.2L1012.5 127.5L1025.9 128.2L1039 129.3L1052 130.6L1064.8 132.3L1077.4 134.3L1089.8 136.6M820.1 169.9L836 164.7L851.8 160L867.3 155.8L882.7 152L897.8 148.6L912.8 145.6L927.6 143L942.2 140.9L956.6 139.1L970.9 137.7L984.9 136.7L998.7 136L1012.4 135.7L1025.9 135.8L1039.2 136.2L1052.3 137L1065.3 138.1L1078 139.5L1090.6 141.3L1103 143.3M833.9 183.4L849.8 178L865.5 173L881 168.4L896.4 164.3L911.5 160.6L926.5 157.3L941.3 154.5L955.8 152L970.2 149.9L984.4 148.2L998.5 146.9L1012.3 146L1025.9 145.4L1039.4 145.2L1052.7 145.4L1065.8 145.9L1078.7 146.7L1091.4 147.9L1104 149.3L1116.4 151.1M847.8 198.3L863.7 192.5L879.4 187.2L894.9 182.4L910.2 177.9L925.4 173.9L940.3 170.3L955.1 167.2L969.6 164.4L984 162L998.2 160L1012.2 158.4L1026 157.2L1039.6 156.4L1053 155.9L1066.3 155.7L1079.4 155.9L1092.3 156.5L1105 157.3L1117.5 158.5L1129.9 160.1M861.9 214.5L877.8 208.4L893.5 202.8L909 197.6L924.3 192.8L939.4 188.5L954.3 184.6L969 181.1L983.5 178L997.9 175.3L1012 173.1L1026 171.2L1039.8 169.6L1053.4 168.5L1066.8 167.7L1080 167.2L1093.1 167.1L1105.9 167.4L1118.6 168L1131.1 168.9L1143.4 170.1M876.2 232L892 225.6L907.7 219.6L923.2 214.1L938.4 209L953.5 204.4L968.4 200.1L983.1 196.3L997.6 192.9L1011.9 189.9L1026 187.3L1040 185.1L1053.7 183.3L1067.3 181.8L1080.7 180.7L1093.9 179.9L1106.9 179.5L1119.7 179.5L1132.4 179.8L1144.8 180.4L1157.1 181.3M890.6 250.8L906.4 244.1L922.1 237.8L937.5 231.9L952.7 226.5L967.8 221.5L982.6 217L997.3 212.8L1011.8 209.1L1026 205.8L1040.1 202.8L1054 200.3L1067.8 198.1L1081.3 196.3L1094.6 194.9L1107.8 193.8L1120.8 193.1L1133.6 192.8L1146.2 192.7L1158.6 193L1170.9 193.7M905.2 271L921 263.9L936.6 257.3L952 251.1L967.2 245.3L982.2 240L997 235.1L1011.6 230.6L1026 226.5L1040.3 222.9L1054.3 219.6L1068.2 216.7L1081.9 214.2L1095.4 212.1L1108.7 210.3L1121.8 209L1134.8 207.9L1147.5 207.2L1160.1 206.9L1172.5 206.9L1184.8 207.2M919.9 292.6L935.6 285.1L951.2 278.1L966.6 271.5L981.7 265.4L996.7 259.8L1011.5 254.5L1026.1 249.7L1040.4 245.3L1054.7 241.2L1068.7 237.6L1082.5 234.4L1096.1 231.6L1109.6 229.1L1122.9 227L1136 225.3L1148.9 223.9L1161.6 222.9L1174.1 222.2L1186.5 221.8L1198.7 221.8M934.7 315.4L950.4 307.6L965.9 300.2L981.3 293.3L996.4 286.9L1011.3 280.8L1026.1 275.2L1040.6 270L1055 265.3L1069.1 260.9L1083.1 256.9L1096.9 253.4L1110.5 250.2L1123.9 247.3L1137.1 244.9L1150.2 242.8L1163.1 241.1L1175.7 239.7L1188.2 238.7L1200.6 238L1212.7 237.7M949.7 339.6L965.3 331.4L980.8 323.7L996.1 316.4L1011.2 309.6L1026 303.2L1040.7 297.2L1055.2 291.7L1069.5 286.5L1083.7 281.8L1097.6 277.5L1111.3 273.6L1124.9 270L1138.3 266.8L1151.5 264L1164.5 261.6L1177.3 259.5L1189.9 257.8L1202.4 256.4L1214.7 255.4L1226.8 254.7M964.7 365.1L980.4 356.6L995.8 348.5L1011 340.8L1026 333.6L1040.9 326.9L1055.5 320.5L1070 314.6L1084.2 309.1L1098.3 304L1112.2 299.3L1125.9 295L1139.4 291.1L1152.7 287.6L1165.9 284.4L1178.8 281.6L1191.6 279.2L1204.2 277.1L1216.6 275.3L1228.9 273.9L1240.9 272.9M979.9 392L995.5 383.1L1010.8 374.6L1026 366.6L1041 359L1055.8 351.8L1070.4 345.1L1084.8 338.8L1099 332.9L1113 327.5L1126.9 322.4L1140.5 317.7L1154 313.4L1167.2 309.5L1180.3 306L1193.3 302.8L1206 300L1218.5 297.5L1230.9 295.4L1243.1 293.7L1255.1 292.2M995.2 420.2L1010.7 410.9L1026 402L1041.1 393.6L1056 385.6L1070.8 378.1L1085.3 371L1099.7 364.3L1113.8 358.1L1127.8 352.2L1141.6 346.7L1155.2 341.7L1168.6 337L1181.8 332.7L1194.9 328.8L1207.7 325.2L1220.4 322.1L1232.9 319.2L1245.2 316.7L1257.4 314.6L1269.3 312.8M1010.5 449.7L1025.9 440L1041.2 430.7L1056.3 421.9L1071.1 413.6L1085.8 405.7L1100.3 398.2L1114.6 391.1L1128.7 384.4L1142.6 378.2L1156.3 372.3L1169.9 366.9L1183.2 361.8L1196.4 357.1L1209.4 352.8L1222.2 348.9L1234.9 345.3L1247.3 342.1L1259.6 339.2L1271.7 336.7L1283.6 334.5M729.1 110.5L741.5 115.3L754.1 121.3L766.9 128.5L779.9 136.9L793.1 146.6L806.5 157.6L820.1 169.9L833.9 183.4L847.8 198.3L861.9 214.5L876.2 232L890.6 250.8L905.2 271L919.9 292.6L934.7 315.4L949.7 339.6L964.7 365.1L979.9 392L995.2 420.2L1010.5 449.7M745 107.3L757.4 111.9L770 117.6L782.8 124.5L795.8 132.7L809 142.1L822.4 152.8L836 164.7L849.8 178L863.7 192.5L877.8 208.4L892 225.6L906.4 244.1L921 263.9L935.6 285.1L950.4 307.6L965.3 331.4L980.4 356.6L995.5 383.1L1010.7 410.9L1025.9 440M760.7 104.6L773.2 108.8L785.8 114.3L798.6 121L811.6 128.9L824.8 138L838.2 148.4L851.8 160L865.5 173L879.4 187.2L893.5 202.8L907.7 219.6L922.1 237.8L936.6 257.3L951.2 278.1L965.9 300.2L980.8 323.7L995.8 348.5L1010.8 374.6L1026 402L1041.2 430.7M776.3 102.2L788.7 106.2L801.4 111.4L814.2 117.8L827.2 125.5L840.4 134.3L853.8 144.4L867.3 155.8L881 168.4L894.9 182.4L909 197.6L923.2 214.1L937.5 231.9L952 251.1L966.6 271.5L981.3 293.3L996.1 316.4L1011 340.8L1026 366.6L1041.1 393.6L1056.3 421.9M791.7 100.3L804.1 104L816.8 109L829.6 115.1L842.6 122.5L855.8 131.1L869.1 140.9L882.7 152L896.4 164.3L910.2 177.9L924.3 192.8L938.4 209L952.7 226.5L967.2 245.3L981.7 265.4L996.4 286.9L1011.2 309.6L1026 333.6L1041 359L1056 385.6L1071.1 413.6M806.9 98.7L819.3 102.3L832 107L844.8 112.9L857.8 120L871 128.3L884.3 137.8L897.8 148.6L911.5 160.6L925.4 173.9L939.4 188.5L953.5 204.4L967.8 221.5L982.2 240L996.7 259.8L1011.3 280.8L1026 303.2L1040.9 326.9L1055.8 351.8L1070.8 378.1L1085.8 405.7M821.9 97.6L834.3 100.9L847 105.4L859.8 111L872.8 117.8L886 125.9L899.3 135.1L912.8 145.6L926.5 157.3L940.3 170.3L954.3 184.6L968.4 200.1L982.6 217L997 235.1L1011.5 254.5L1026.1 275.2L1040.7 297.2L1055.5 320.5L1070.4 345.1L1085.3 371L1100.3 398.2M836.7 96.8L849.2 99.9L861.8 104.1L874.6 109.5L887.6 116.1L900.8 123.8L914.1 132.8L927.6 143L941.3 154.5L955.1 167.2L969 181.1L983.1 196.3L997.3 212.8L1011.6 230.6L1026.1 249.7L1040.6 270L1055.2 291.7L1070 314.6L1084.8 338.8L1099.7 364.3L1114.6 391.1M851.4 96.4L863.8 99.3L876.5 103.3L889.3 108.4L902.3 114.7L915.4 122.2L928.7 130.9L942.2 140.9L955.8 152L969.6 164.4L983.5 178L997.6 192.9L1011.8 209.1L1026 226.5L1040.4 245.3L1055 265.3L1069.5 286.5L1084.2 309.1L1099 332.9L1113.8 358.1L1128.7 384.4M865.9 96.4L878.3 99.1L890.9 102.8L903.7 107.7L916.7 113.8L929.9 121L943.2 129.4L956.6 139.1L970.2 149.9L984 162L997.9 175.3L1011.9 189.9L1026 205.8L1040.3 222.9L1054.7 241.2L1069.1 260.9L1083.7 281.8L1098.3 304L1113 327.5L1127.8 352.2L1142.6 378.2M880.1 96.8L892.6 99.2L905.2 102.7L918 107.4L931 113.2L944.1 120.2L957.4 128.3L970.9 137.7L984.4 148.2L998.2 160L1012 173.1L1026 187.3L1040.1 202.8L1054.3 219.6L1068.7 237.6L1083.1 256.9L1097.6 277.5L1112.2 299.3L1126.9 322.4L1141.6 346.7L1156.3 372.3M894.2 97.5L906.7 99.7L919.3 103L932.1 107.4L945.1 113L958.2 119.7L971.5 127.6L984.9 136.7L998.5 146.9L1012.2 158.4L1026 171.2L1040 185.1L1054 200.3L1068.2 216.7L1082.5 234.4L1096.9 253.4L1111.3 273.6L1125.9 295L1140.5 317.7L1155.2 341.7L1169.9 366.9M908.2 98.6L920.6 100.6L933.2 103.6L946 107.8L959 113.1L972.1 119.6L985.3 127.2L998.7 136L1012.3 146L1026 157.2L1039.8 169.6L1053.7 183.3L1067.8 198.1L1081.9 214.2L1096.1 231.6L1110.5 250.2L1124.9 270L1139.4 291.1L1154 313.4L1168.6 337L1183.2 361.8M921.9 100L934.4 101.8L947 104.6L959.8 108.6L972.7 113.6L985.8 119.8L999 127.2L1012.4 135.7L1025.9 145.4L1039.6 156.4L1053.4 168.5L1067.3 181.8L1081.3 196.3L1095.4 212.1L1109.6 229.1L1123.9 247.3L1138.3 266.8L1152.7 287.6L1167.2 309.5L1181.8 332.7L1196.4 357.1M935.5 101.7L947.9 103.3L960.5 105.9L973.3 109.6L986.2 114.5L999.3 120.4L1012.5 127.5L1025.9 135.8L1039.4 145.2L1053 155.9L1066.8 167.7L1080.7 180.7L1094.6 194.9L1108.7 210.3L1122.9 227L1137.1 244.9L1151.5 264L1165.9 284.4L1180.3 306L1194.9 328.8L1209.4 352.8M961.3 105.2L973.9 107.6L986.7 111.1L999.6 115.7L1012.7 121.4L1025.9 128.2L1039.2 136.2L1052.7 145.4L1066.3 155.7L1080 167.2L1093.9 179.9L1107.8 193.8L1121.8 209L1136 225.3L1150.2 242.8L1164.5 261.6L1178.8 281.6L1193.3 302.8L1207.7 325.2L1222.2 348.9M974.5 107.4L987.1 109.6L999.9 112.8L1012.8 117.2L1025.8 122.7L1039 129.3L1052.3 137L1065.8 145.9L1079.4 155.9L1093.1 167.1L1106.9 179.5L1120.8 193.1L1134.8 207.9L1148.9 223.9L1163.1 241.1L1177.3 259.5L1191.6 279.2L1206 300L1220.4 322.1L1234.9 345.3M1000.1 111.9L1012.9 114.9L1025.8 119.1L1038.8 124.3L1052 130.6L1065.3 138.1L1078.7 146.7L1092.3 156.5L1105.9 167.4L1119.7 179.5L1133.6 192.8L1147.5 207.2L1161.6 222.9L1175.7 239.7L1189.9 257.8L1204.2 277.1L1218.5 297.5L1232.9 319.2L1247.3 342.1M1013 114.5L1025.7 117.3L1038.6 121.2L1051.6 126.2L1064.8 132.3L1078 139.5L1091.4 147.9L1105 157.3L1118.6 168L1132.4 179.8L1146.2 192.7L1160.1 206.9L1174.1 222.2L1188.2 238.7L1202.4 256.4L1216.6 275.3L1230.9 295.4L1245.2 316.7L1259.6 339.2M1038.4 120L1051.2 123.7L1064.2 128.5L1077.4 134.3L1090.6 141.3L1104 149.3L1117.5 158.5L1131.1 168.9L1144.8 180.4L1158.6 193L1172.5 206.9L1186.5 221.8L1200.6 238L1214.7 255.4L1228.9 273.9L1243.1 293.7L1257.4 314.6L1271.7 336.7M1050.9 123.1L1063.7 126.5L1076.7 131L1089.8 136.6L1103 143.3L1116.4 151.1L1129.9 160.1L1143.4 170.1L1157.1 181.3L1170.9 193.7L1184.8 207.2L1198.7 221.8L1212.7 237.7L1226.8 254.7L1240.9 272.9L1255.1 292.2L1269.3 312.8L1283.6 334.5" fill="none" stroke="#000" stroke-opacity="0.9" stroke-width="1.7" stroke-linejoin="round" stroke-linecap="round"/>
<path d="M729.1 110.5L741.5 115.3L754.1 121.3L766.9 128.5L779.9 136.9L793.1 146.6L806.5 157.6L820.1 169.9L833.9 183.4L847.8 198.3L861.9 214.5L876.2 232L890.6 250.8L905.2 271L919.9 292.6L934.7 315.4L949.7 339.6L964.7 365.1L979.9 392L995.2 420.2L1010.5 449.7L1041.2 430.7L1056.3 421.9L1085.8 405.7L1114.6 391.1L1128.7 384.4L1156.3 372.3L1183.2 361.8L1196.4 357.1L1222.2 348.9L1247.3 342.1L1259.6 339.2L1283.6 334.5L1269.3 312.8L1255.1 292.2L1240.9 272.9L1226.8 254.7L1212.7 237.7L1198.7 221.8L1184.8 207.2L1170.9 193.7L1157.1 181.3L1143.4 170.1L1129.9 160.1L1116.4 151.1L1103 143.3L1089.8 136.7L1076.7 131L1063.7 126.5L1050.9 123.1L1038.4 120L1000.1 111.9L961.3 105.2L947.9 103.3L921.9 100L908.2 98.6L894.2 97.5L880.1 96.8L865.9 96.4L851.4 96.4L836.7 96.8L821.9 97.6L806.9 98.7L791.7 100.3L776.3 102.2L760.7 104.6L745 107.3Z" fill="none" stroke="#000" stroke-opacity="0.7" stroke-width="1.3" stroke-linejoin="round"/>
<ellipse cx="1012.5" cy="171.7" rx="3.6" ry="2.6" fill="#b00000" stroke="#4a0808" stroke-width="0.8"/>
<circle cx="1286" cy="301.7" r="6" fill="#c40000" stroke="#4a0808" stroke-width="1"/>
<g font-family="'Liberation Sans',sans-serif" font-size="15.5" fill="#484848">
<text x="733.2" y="356.5" text-anchor="end">50</text>
<text x="730.8" y="310.5" text-anchor="end">60</text>
<text x="728.4" y="264.6" text-anchor="end">70</text>
<text x="726" y="218.6" text-anchor="end">80</text>
<text x="723.6" y="172.6" text-anchor="end">90</text>
<text x="721.2" y="126.7" text-anchor="end">100</text>
<text x="718.8" y="80.7" text-anchor="end">110</text>
<text x="738.7" y="464.2" text-anchor="end">2</text>
<text x="791.5" y="491.3" text-anchor="end">2.2</text>
<text x="844.2" y="518.4" text-anchor="end">2.4</text>
<text x="897" y="545.5" text-anchor="end">2.6</text>
<text x="949.7" y="572.6" text-anchor="end">2.8</text>
<text x="1002.5" y="599.7" text-anchor="end">3</text>
<text x="1018.5" y="599.7" text-anchor="start">0.15</text>
<text x="1071.9" y="572.9" text-anchor="start">0.13</text>
<text x="1125.3" y="546" text-anchor="start">0.11</text>
<text x="1178.7" y="519.2" text-anchor="start">0.09</text>
<text x="1232.1" y="492.3" text-anchor="start">0.07</text>
<text x="1285.5" y="465.5" text-anchor="start">0.05</text>
</g>
<g font-family="'Liberation Serif',serif" font-weight="bold" fill="#111" text-anchor="middle">
<text x="679" y="27.5" font-size="35" text-anchor="start">(b)</text>
<text transform="translate(681 267) rotate(-90)" font-size="25.2" textLength="150" lengthAdjust="spacingAndGlyphs" y="7.6">Cr(VI) removal (%)</text>
<text transform="translate(826 541) rotate(29)" font-size="20" textLength="43" lengthAdjust="spacingAndGlyphs" y="6">E: pH</text>
<text transform="translate(1193 541) rotate(-26.4)" font-size="20" textLength="238" lengthAdjust="spacingAndGlyphs" y="6">B: BM-WB addition amount (g)</text>
</g>
</g>
<g id="p_c">
<path d="M1401.5 374.5L1678.6 275.6M1678.6 275.6L1953.5 375.9M1399 327.6L1678.7 233M1678.7 233L1956 329M1396.4 280.7L1678.7 190.4M1678.7 190.4L1958.6 282.2M1393.9 233.8L1678.8 147.8M1678.8 147.8L1961.1 235.3M1391.4 186.8L1678.9 105.2M1678.9 105.2L1963.6 188.4M1388.8 139.9L1678.9 62.6M1678.9 62.6L1966.2 141.6M1386.3 93L1679 20M1679 20L1968.7 94.7M1470.8 349.8L1459.5 74.8M1540.1 325L1532.7 56.5M1609.3 300.3L1605.8 38.2M1733.6 295.6L1736.9 34.9M1788.6 315.7L1794.9 49.9M1843.6 335.8L1852.8 64.8M1898.5 355.8L1910.8 79.8M1406.2 462L1386.3 93M1678.5 355L1679 20M1948.8 463.3L1968.7 94.7" fill="none" stroke="#262626" stroke-width="1.75" stroke-linecap="round"/>
<polygon points="1406.2,462 1675,600.2 1948.8,463.3 1678.5,355" fill="#626262" stroke="#111" stroke-width="2" stroke-linejoin="round"/>
<path d="M1631.1 373.5L1647.5 375.3L1658.1 377.4L1667.1 379.9L1677.3 384.3L1681.4 386.9L1684.9 389.7L1687.8 392.9L1690 396.4L1691.3 400.2L1691.9 404.5L1691.6 409.1L1690.3 414.2L1687.8 419.9L1683.9 426.1L1678.3 433.2L1673.5 438.3L1660.3 450.4L1644.7 462.2L1624.8 475.2L1604.2 487L1576.1 501.4L1551.8 512.6L1525.9 523.5" fill="none" stroke="#e07a1b" stroke-width="3" stroke-linecap="butt" stroke-linejoin="round"/>
<path d="M1794.5 401.5L1790.6 408.2L1785.7 415.2L1777.5 425.2L1768 434.9L1757.5 444.4L1746.9 453.1L1734 462.9L1720.6 472.3L1706.7 481.4L1686.9 493.4L1654.9 511.2L1631.9 523L1613.8 531.7L1575.5 548.9" fill="none" stroke="#bae017" stroke-width="3" stroke-linecap="butt" stroke-linejoin="round"/>
<path d="M1847 422.7L1839.8 430.1L1829.3 440L1816.8 450.8L1805.1 460L1779.8 478.4L1751.9 496.6L1721.3 514.8L1688.2 532.8L1652.4 550.8L1614.2 568.7" fill="none" stroke="#2fd91c" stroke-width="3" stroke-linecap="butt" stroke-linejoin="round"/>
<path d="M1886.2 438.5L1864.9 456.9L1841 475.3L1814.7 493.7L1786 512L1755 530.4L1721.5 548.9L1685.7 567.3L1647.4 585.8" fill="none" stroke="#03da8f" stroke-width="3" stroke-linecap="butt" stroke-linejoin="round"/>
<path d="M1919.5 451.9L1904.8 464.2L1889.1 476.4L1872.5 488.7L1854.8 501L1836.1 513.4L1816.5 525.8L1775.9 549.8" fill="none" stroke="#0991e0" stroke-width="3" stroke-linecap="butt" stroke-linejoin="round"/>
<g fill="#000"><circle cx="1401.5" cy="374.5" r="2.7"/><circle cx="1399" cy="327.6" r="2.7"/><circle cx="1396.4" cy="280.7" r="2.7"/><circle cx="1393.9" cy="233.8" r="2.7"/><circle cx="1391.4" cy="186.8" r="2.7"/><circle cx="1388.8" cy="139.9" r="2.7"/><circle cx="1386.3" cy="93" r="2.7"/><circle cx="1406.2" cy="462" r="2.7"/><circle cx="1460" cy="489.6" r="2.7"/><circle cx="1513.7" cy="517.3" r="2.7"/><circle cx="1567.5" cy="544.9" r="2.7"/><circle cx="1621.2" cy="572.6" r="2.7"/><circle cx="1675" cy="600.2" r="2.7"/><circle cx="1743.5" cy="566" r="2.7"/><circle cx="1811.9" cy="531.8" r="2.7"/><circle cx="1880.3" cy="497.5" r="2.7"/><circle cx="1948.8" cy="463.3" r="2.7"/></g>
<circle cx="1389.2" cy="142.5" r="6" fill="#ffc9c9" stroke="#7d6060" stroke-width="1"/>
<line x1="1679.2" y1="84.2" x2="1679.2" y2="103" stroke="#333" stroke-width="1.4"/><circle cx="1679.2" cy="84.2" r="6" fill="#c40000" stroke="#4a0808" stroke-width="1"/>
<line x1="1675.5" y1="458.3" x2="1675.5" y2="439" stroke="#333" stroke-width="1.4"/><circle cx="1675.5" cy="458.3" r="6" fill="#ffc9c9" stroke="#7d6060" stroke-width="1"/>
<clipPath id="cp_c"><path d="M1388.5 134.3L1401 137L1413.8 141L1426.7 146.2L1439.9 152.6L1453.3 160.4L1466.9 169.5L1480.7 179.9L1494.7 191.6L1508.9 204.7L1523.3 219.1L1537.9 235L1552.6 252.2L1567.5 270.8L1582.5 290.8L1597.7 312.2L1612.9 335L1628.4 359.2L1643.9 384.8L1659.5 411.8L1675.3 440.1L1706.8 426.3L1722.3 419.9L1752.6 408.1L1782 397.6L1796.4 392.8L1824.7 384.3L1852.1 376.9L1865.5 373.7L1891.8 368.1L1917.4 363.5L1929.9 361.7L1954.3 358.7L1939.9 334L1925.6 310.6L1911.2 288.4L1896.9 267.5L1882.7 247.9L1868.5 229.5L1854.3 212.4L1840.2 196.5L1826.2 181.9L1812.2 168.5L1798.4 156.4L1784.6 145.6L1771 135.9L1757.4 127.5L1744 120.2L1730.7 114.2L1717.6 109.3L1704.5 105.6L1691.6 103L1678.9 101.5L1653 100.1L1626.4 99.6L1599.1 100.1L1585.3 100.7L1557 102.7L1528 105.9L1498.2 110.1L1483.1 112.6L1452.3 118.6L1436.6 122.1L1404.7 129.9Z"/></clipPath>
<g clip-path="url(#cp_c)"><g filter="url(#sm)">
<path d="M1666.3 101.2l12.6 0.3 12.7 1.1 -12.6 -0.3z" fill="#ffda33"/>
<path d="M1678.9 101.5l12.8 1.5 12.7 1 -12.8 -1.4z" fill="#ffd035"/>
<path d="M1653.5 100.3l12.5 0.4 12.9 0.8 -12.6 -0.3z" fill="#ffc934"/>
<path d="M1691.7 103l12.8 2.6 12.7 0.9 -12.8 -2.5z" fill="#ffca36"/>
<path d="M1640.4 99.6l12.6 0.5 13 0.6 -12.5 -0.4z" fill="#ffba34"/>
<path d="M1704.5 105.6l13.1 3.7 12.7 0.9 -13.1 -3.7z" fill="#ffc837"/>
<path d="M1627.2 99.2l12.6 0.5 13.2 0.4 -12.6 -0.5z" fill="#ffad35"/>
<path d="M1717.6 109.3l13.1 4.9 12.7 0.8 -13.1 -4.8z" fill="#ffca36"/>
<path d="M1613.8 99l12.6 0.6 13.4 0.1 -12.6 -0.5z" fill="#ffa036"/>
<path d="M1730.7 114.2l13.3 6 12.7 0.8 -13.3 -6z" fill="#ffcf35"/>
<path d="M1600.3 99.1l12.6 0.6 13.5 -0.1 -12.6 -0.6z" fill="#ff9436"/>
<path d="M1744 120.2l13.4 7.3 12.7 0.6 -13.4 -7.1z" fill="#ffd834"/>
<path d="M1586.6 99.4l12.5 0.7 13.8 -0.4 -12.6 -0.6z" fill="#ff8637"/>
<path d="M1757.4 127.5l13.6 8.4 12.6 0.6 -13.5 -8.4z" fill="#ffe532"/>
<path d="M1771 135.9l13.6 9.7 12.6 0.4 -13.6 -9.5z" fill="#fff730"/>
<path d="M1572.7 100l12.6 0.7 13.8 -0.6 -12.5 -0.7z" fill="#ff7737"/>
<path d="M1784.6 145.6l13.8 10.8 12.5 0.4 -13.7 -10.8z" fill="#e5ff2b"/>
<path d="M1558.6 100.8l12.6 0.8 14.1 -0.9 -12.6 -0.7z" fill="#ff6937"/>
<path d="M1798.4 156.4l13.8 12.1 12.5 0.3 -13.8 -12z" fill="#bcfe26"/>
<path d="M1812.2 168.5l14 13.4 12.5 0.2 -14 -13.3z" fill="#96fb23"/>
<path d="M1544.4 101.9l12.6 0.8 14.2 -1.1 -12.6 -0.8z" fill="#ff5c35"/>
<path d="M1826.2 181.9l14 14.6 12.4 0.1 -13.9 -14.5z" fill="#6df920"/>
<path d="M1530 103.3l12.5 0.9 14.5 -1.5 -12.6 -0.8z" fill="#ff5033"/>
<path d="M1840.2 196.5l14.1 15.9 12.4 -0.1 -14.1 -15.7z" fill="#41f71f"/>
<path d="M1854.3 212.4l14.2 17.1 12.3 -0.2 -14.1 -17z" fill="#23f62c"/>
<path d="M1515.4 104.9l12.6 1 14.5 -1.7 -12.5 -0.9z" fill="#ff4a32"/>
<path d="M1868.5 229.5l14.2 18.4 12.3 -0.4 -14.2 -18.2z" fill="#0ff657"/>
<path d="M1882.7 247.9l14.2 19.6 12.3 -0.5 -14.2 -19.5z" fill="#05f79b"/>
<path d="M1500.7 106.8l12.5 1 14.8 -1.9 -12.6 -1z" fill="#ff4531"/>
<path d="M1896.9 267.5l14.3 20.9 12.2 -0.6 -14.2 -20.8z" fill="#00f2e1"/>
<path d="M1911.2 288.4l14.4 22.2 12.1 -0.8 -14.3 -22z" fill="#08bffb"/>
<path d="M1485.8 109l12.4 1.1 15 -2.3 -12.5 -1z" fill="#ff4030"/>
<path d="M1925.6 310.6l14.3 23.4 12.1 -0.9 -14.3 -23.3z" fill="#0281ff"/>
<path d="M1939.9 334l14.4 24.7 12 -1.1 -14.3 -24.5z" fill="#001ddd"/>
<path d="M1954.3 358.7l14.4 25.9 11.8 -1.3 -14.2 -25.7z" fill="#0000aa"/>
<path d="M1470.7 111.5l12.4 1.1 15.1 -2.5 -12.4 -1.1z" fill="#ff3d30"/>
<path d="M1455.4 114.3l12.4 1.2 15.3 -2.9 -12.4 -1.1z" fill="#ff3a2f"/>
<path d="M1942.2 360.1l14.4 26 12.1 -1.5 -14.4 -25.9z" fill="#0000b1"/>
<path d="M1439.9 117.4l12.4 1.2 15.5 -3.1 -12.4 -1.2z" fill="#ff372f"/>
<path d="M1929.9 361.7l14.5 26.2 12.2 -1.8 -14.4 -26z" fill="#0000b8"/>
<path d="M1424.3 120.8l12.3 1.3 15.7 -3.5 -12.4 -1.2z" fill="#ff352f"/>
<path d="M1917.4 363.5l14.6 26.5 12.4 -2.1 -14.5 -26.2z" fill="#0000be"/>
<path d="M1408.4 124.5l12.4 1.3 15.8 -3.7 -12.3 -1.3z" fill="#ff342e"/>
<path d="M1904.7 365.7l14.7 26.6 12.6 -2.3 -14.6 -26.5z" fill="#0009ca"/>
<path d="M1392.4 128.5l12.3 1.4 16.1 -4.1 -12.4 -1.3z" fill="#ff332e"/>
<path d="M1891.8 368.1l14.8 26.8 12.8 -2.6 -14.7 -26.6z" fill="#0019d9"/>
<path d="M1376.2 132.8l12.3 1.5 16.2 -4.4 -12.3 -1.4z" fill="#ff332e"/>
<path d="M1878.8 370.7l14.8 27 13 -2.8 -14.8 -26.8z" fill="#002cea"/>
<path d="M1359.8 137.5l12.3 1.5 16.4 -4.7 -12.3 -1.5z" fill="#ff342e"/>
<path d="M1865.5 373.7l14.9 27.2 13.2 -3.2 -14.8 -27z" fill="#003cf6"/>
<path d="M1372.1 139l12.5 2.8 16.4 -4.8 -12.5 -2.7z" fill="#ff332e"/>
<path d="M1852.1 376.9l15 27.4 13.3 -3.4 -14.9 -27.2z" fill="#004bf8"/>
<path d="M1384.6 141.8l12.7 4.1 16.5 -4.9 -12.8 -4z" fill="#ff332e"/>
<path d="M1838.5 380.4l15 27.6 13.6 -3.7 -15 -27.4z" fill="#0059fa"/>
<path d="M1397.3 145.9l12.9 5.2 16.5 -4.9 -12.9 -5.2z" fill="#ff332e"/>
<path d="M1824.7 384.3l15.1 27.7 13.7 -4 -15 -27.6z" fill="#0065fc"/>
<path d="M1410.2 151.1l13.2 6.6 16.5 -5.1 -13.2 -6.4z" fill="#ff332e"/>
<path d="M1810.7 388.4l15.1 27.9 14 -4.3 -15.1 -27.7z" fill="#0070fe"/>
<path d="M1423.4 157.7l13.4 7.9 16.5 -5.2 -13.4 -7.8z" fill="#ff342e"/>
<path d="M1436.8 165.6l13.6 9.1 16.5 -5.2 -13.6 -9.1z" fill="#ff3c30"/>
<path d="M1796.4 392.8l15.3 28.2 14.1 -4.7 -15.1 -27.9z" fill="#0079ff"/>
<path d="M1450.4 174.7l13.8 10.5 16.5 -5.3 -13.8 -10.4z" fill="#ff4630"/>
<path d="M1782 397.6l15.3 28.3 14.4 -4.9 -15.3 -28.2z" fill="#017eff"/>
<path d="M1464.2 185.2l14 11.9 16.5 -5.5 -14 -11.7z" fill="#ff5630"/>
<path d="M1767.4 402.7l15.4 28.5 14.5 -5.3 -15.3 -28.3z" fill="#0283ff"/>
<path d="M1478.2 197.1l14.2 13.2 16.5 -5.6 -14.2 -13.1z" fill="#ff7330"/>
<path d="M1752.6 408.1l15.4 28.7 14.8 -5.6 -15.4 -28.5z" fill="#0386ff"/>
<path d="M1492.4 210.3l14.4 14.6 16.5 -5.8 -14.4 -14.4z" fill="#ff922d"/>
<path d="M1506.8 224.9l14.6 16 16.5 -5.9 -14.6 -15.9z" fill="#ffae2a"/>
<path d="M1737.5 413.8l15.6 28.9 14.9 -5.9 -15.4 -28.7z" fill="#0489ff"/>
<path d="M1521.4 240.9l14.7 17.3 16.5 -6 -14.7 -17.2z" fill="#ffd027"/>
<path d="M1722.3 419.9l15.6 29.1 15.2 -6.3 -15.6 -28.9z" fill="#048bff"/>
<path d="M1536.1 258.2l14.9 18.8 16.5 -6.2 -14.9 -18.6z" fill="#fff824"/>
<path d="M1551 277l15.1 20.2 16.4 -6.4 -15 -20z" fill="#bdfe1c"/>
<path d="M1706.8 426.3l15.7 29.3 15.4 -6.6 -15.6 -29.1z" fill="#058cff"/>
<path d="M1566.1 297.2l15.2 21.5 16.4 -6.5 -15.2 -21.4z" fill="#81fa1a"/>
<path d="M1581.3 318.7l15.3 23 16.3 -6.7 -15.2 -22.8z" fill="#45f81a"/>
<path d="M1691.1 433l15.8 29.5 15.6 -6.9 -15.7 -29.3z" fill="#058dff"/>
<path d="M1596.6 341.7l15.5 24.4 16.3 -6.9 -15.5 -24.2z" fill="#1ff52d"/>
<path d="M1612.1 366.1l15.6 25.8 16.2 -7.1 -15.5 -25.6z" fill="#0cf66e"/>
<path d="M1675.3 440.1l15.8 29.8 15.8 -7.4 -15.8 -29.5z" fill="#058cff"/>
<path d="M1627.7 391.9l15.7 27.1 16.1 -7.2 -15.6 -27z" fill="#00f6c1"/>
<path d="M1643.4 419l15.8 28.6 16.1 -7.5 -15.8 -28.3z" fill="#03d2f7"/>
<path d="M1659.2 447.6l15.8 29.9 16.1 -7.6 -15.8 -29.8z" fill="#048bff"/>
<path d="M1666 100.7l12.8 1.5 12.9 0.8 -12.8 -1.5z" fill="#ffc035"/>
<path d="M1678.8 102.2l12.9 2.7 12.8 0.7 -12.8 -2.6z" fill="#ffbb37"/>
<path d="M1653 100.1l12.7 1.6 13.1 0.5 -12.8 -1.5z" fill="#ffb236"/>
<path d="M1691.7 104.9l13 3.7 12.9 0.7 -13.1 -3.7z" fill="#ffb937"/>
<path d="M1665.7 101.7l12.9 2.7 13.1 0.5 -12.9 -2.7z" fill="#ffad37"/>
<path d="M1639.8 99.7l12.7 1.7 13.2 0.3 -12.7 -1.6z" fill="#ffa437"/>
<path d="M1704.7 108.6l13.2 5 12.8 0.6 -13.1 -4.9z" fill="#ffbb37"/>
<path d="M1678.6 104.4l13.1 3.8 13 0.4 -13 -3.7z" fill="#ffab37"/>
<path d="M1652.5 101.4l12.9 2.7 13.2 0.3 -12.9 -2.7z" fill="#ff9f37"/>
<path d="M1626.4 99.6l12.8 1.7 13.3 0.1 -12.7 -1.7z" fill="#ff9837"/>
<path d="M1717.9 113.6l13.3 6.1 12.8 0.5 -13.3 -6z" fill="#ffc036"/>
<path d="M1691.7 108.2l13.2 5 13 0.4 -13.2 -5z" fill="#ffad37"/>
<path d="M1665.4 104.1l13.1 3.9 13.2 0.2 -13.1 -3.8z" fill="#ff9e37"/>
<path d="M1639.2 101.3l12.9 2.8 13.3 0 -12.9 -2.7z" fill="#ff9237"/>
<path d="M1612.9 99.7l12.7 1.8 13.6 -0.2 -12.8 -1.7z" fill="#ff8b37"/>
<path d="M1731.2 119.7l13.4 7.3 12.8 0.5 -13.4 -7.3z" fill="#ffc834"/>
<path d="M1704.9 113.2l13.3 6.2 13 0.3 -13.3 -6.1z" fill="#ffb237"/>
<path d="M1678.5 108l13.2 5.1 13.2 0.1 -13.2 -5z" fill="#ff9f37"/>
<path d="M1652.1 104.1l13 4 13.4 -0.1 -13.1 -3.9z" fill="#ff9137"/>
<path d="M1625.6 101.5l12.9 2.8 13.6 -0.2 -12.9 -2.8z" fill="#ff8337"/>
<path d="M1599.1 100.1l12.8 1.8 13.7 -0.4 -12.7 -1.8z" fill="#ff7a37"/>
<path d="M1744.6 127l13.6 8.6 12.8 0.3 -13.6 -8.4z" fill="#ffd632"/>
<path d="M1718.2 119.4l13.5 7.4 12.9 0.2 -13.4 -7.3z" fill="#ffbb35"/>
<path d="M1691.7 113.1l13.3 6.3 13.2 0 -13.3 -6.2z" fill="#ffa537"/>
<path d="M1665.1 108.1l13.2 5.1 13.4 -0.1 -13.2 -5.1z" fill="#ff9337"/>
<path d="M1638.5 104.3l13.1 4.1 13.5 -0.3 -13 -4z" fill="#ff8137"/>
<path d="M1758.2 135.6l13.7 9.7 12.7 0.3 -13.6 -9.7z" fill="#ffe730"/>
<path d="M1611.9 101.9l12.9 2.9 13.7 -0.5 -12.9 -2.8z" fill="#ff7337"/>
<path d="M1585.3 100.7l12.7 1.9 13.9 -0.7 -12.8 -1.8z" fill="#ff6b37"/>
<path d="M1731.7 126.8l13.6 8.6 12.9 0.2 -13.6 -8.6z" fill="#ffc733"/>
<path d="M1705 119.4l13.5 7.5 13.2 -0.1 -13.5 -7.4z" fill="#ffad35"/>
<path d="M1678.3 113.2l13.4 6.4 13.3 -0.2 -13.3 -6.3z" fill="#ff9937"/>
<path d="M1771.9 145.3l13.8 11 12.7 0.1 -13.8 -10.8z" fill="#fffd2e"/>
<path d="M1651.6 108.4l13.2 5.2 13.5 -0.4 -13.2 -5.1z" fill="#ff8537"/>
<path d="M1624.8 104.8l13.1 4.1 13.7 -0.5 -13.1 -4.1z" fill="#ff7237"/>
<path d="M1598 102.6l12.9 3 13.9 -0.8 -12.9 -2.9z" fill="#ff6436"/>
<path d="M1745.3 135.4l13.7 9.9 12.9 0 -13.7 -9.7z" fill="#ffd830"/>
<path d="M1571.2 101.6l12.7 1.9 14.1 -0.9 -12.7 -1.9z" fill="#ff5d35"/>
<path d="M1718.5 126.9l13.6 8.7 13.2 -0.2 -13.6 -8.6z" fill="#ffba33"/>
<path d="M1785.7 156.3l13.9 12.2 12.6 0 -13.8 -12.1z" fill="#d0ff26"/>
<path d="M1691.7 119.6l13.5 7.6 13.3 -0.3 -13.5 -7.5z" fill="#ffa136"/>
<path d="M1664.8 113.6l13.4 6.5 13.5 -0.5 -13.4 -6.4z" fill="#ff8d37"/>
<path d="M1759 145.3l13.8 11.1 12.9 -0.1 -13.8 -11z" fill="#ffee2e"/>
<path d="M1637.9 108.9l13.2 5.4 13.7 -0.7 -13.2 -5.2z" fill="#ff7537"/>
<path d="M1610.9 105.6l13.1 4.2 13.9 -0.9 -13.1 -4.1z" fill="#ff6336"/>
<path d="M1583.9 103.5l12.9 3.1 14.1 -1 -12.9 -3z" fill="#ff5734"/>
<path d="M1557 102.7l12.7 2 14.2 -1.2 -12.7 -1.9z" fill="#ff5133"/>
<path d="M1732.1 135.6l13.8 9.9 13.1 -0.2 -13.7 -9.9z" fill="#ffca31"/>
<path d="M1799.6 168.5l13.9 13.5 12.7 -0.1 -14 -13.4z" fill="#aafc23"/>
<path d="M1705.2 127.2l13.6 8.8 13.3 -0.4 -13.6 -8.7z" fill="#ffad34"/>
<path d="M1772.8 156.4l13.9 12.3 12.9 -0.2 -13.9 -12.2z" fill="#eeff2a"/>
<path d="M1678.2 120.1l13.5 7.6 13.5 -0.5 -13.5 -7.6z" fill="#ff9636"/>
<path d="M1651.1 114.3l13.4 6.5 13.7 -0.7 -13.4 -6.5z" fill="#ff7d37"/>
<path d="M1813.5 182l14.1 14.7 12.6 -0.2 -14 -14.6z" fill="#7ffa20"/>
<path d="M1745.9 145.5l13.8 11.2 13.1 -0.3 -13.8 -11.1z" fill="#ffe02e"/>
<path d="M1624 109.8l13.2 5.3 13.9 -0.8 -13.2 -5.4z" fill="#ff6636"/>
<path d="M1596.8 106.6l13.1 4.2 14.1 -1 -13.1 -4.2z" fill="#ff5534"/>
<path d="M1569.7 104.7l12.9 3.2 14.2 -1.3 -12.9 -3.1z" fill="#ff4c32"/>
<path d="M1542.5 104.2l12.8 2 14.4 -1.5 -12.7 -2z" fill="#ff4932"/>
<path d="M1718.8 136l13.8 10 13.3 -0.5 -13.8 -9.9z" fill="#ffbe31"/>
<path d="M1786.7 168.7l14 13.6 12.8 -0.3 -13.9 -13.5z" fill="#bcfe24"/>
<path d="M1691.7 127.7l13.7 8.9 13.4 -0.6 -13.6 -8.8z" fill="#ffa234"/>
<path d="M1827.6 196.7l14.1 16 12.6 -0.3 -14.1 -15.9z" fill="#51f81e"/>
<path d="M1759.7 156.7l14 12.4 13 -0.4 -13.9 -12.3z" fill="#fffa2b"/>
<path d="M1664.5 120.8l13.5 7.7 13.7 -0.8 -13.5 -7.6z" fill="#ff8b37"/>
<path d="M1637.2 115.1l13.4 6.6 13.9 -0.9 -13.4 -6.5z" fill="#ff6f37"/>
<path d="M1800.7 182.3l14.1 14.8 12.8 -0.4 -14.1 -14.7z" fill="#90fa21"/>
<path d="M1732.6 146l13.9 11.3 13.2 -0.6 -13.8 -11.2z" fill="#ffd32e"/>
<path d="M1609.9 110.8l13.3 5.5 14 -1.2 -13.2 -5.3z" fill="#ff5934"/>
<path d="M1841.7 212.7l14.3 17.2 12.5 -0.4 -14.2 -17.1z" fill="#2df626"/>
<path d="M1582.6 107.9l13.1 4.3 14.2 -1.4 -13.1 -4.2z" fill="#ff4b32"/>
<path d="M1555.3 106.2l12.9 3.2 14.4 -1.5 -12.9 -3.2z" fill="#ff4631"/>
<path d="M1528 105.9l12.7 2.1 14.6 -1.8 -12.8 -2z" fill="#ff4431"/>
<path d="M1705.4 136.6l13.7 10.1 13.5 -0.7 -13.8 -10z" fill="#ffb231"/>
<path d="M1773.7 169.1l14 13.7 13 -0.5 -14 -13.6z" fill="#cdff24"/>
<path d="M1678 128.5l13.7 9 13.7 -0.9 -13.7 -8.9z" fill="#ff9734"/>
<path d="M1814.8 197.1l14.2 16.1 12.7 -0.5 -14.1 -16z" fill="#62f91e"/>
<path d="M1856 229.9l14.2 18.5 12.5 -0.5 -14.2 -18.4z" fill="#12f542"/>
<path d="M1746.5 157.3l14 12.5 13.2 -0.7 -14 -12.4z" fill="#ffed2c"/>
<path d="M1650.6 121.7l13.6 7.9 13.8 -1.1 -13.5 -7.7z" fill="#ff7d37"/>
<path d="M1623.2 116.3l13.4 6.7 14 -1.3 -13.4 -6.6z" fill="#ff6236"/>
<path d="M1787.7 182.8l14.2 15 12.9 -0.7 -14.1 -14.8z" fill="#a2fb21"/>
<path d="M1719.1 146.7l13.9 11.4 13.5 -0.8 -13.9 -11.3z" fill="#ffc62f"/>
<path d="M1595.7 112.2l13.2 5.5 14.3 -1.4 -13.3 -5.5z" fill="#ff4d33"/>
<path d="M1568.2 109.4l13 4.4 14.5 -1.6 -13.1 -4.3z" fill="#ff4531"/>
<path d="M1829 213.2l14.3 17.4 12.7 -0.7 -14.3 -17.2z" fill="#37f721"/>
<path d="M1870.2 248.4l14.4 19.8 12.3 -0.7 -14.2 -19.6z" fill="#08f787"/>
<path d="M1540.7 108l12.9 3.2 14.6 -1.8 -12.9 -3.2z" fill="#ff4131"/>
<path d="M1513.2 107.8l12.7 2.2 14.8 -2 -12.7 -2.1z" fill="#ff3f30"/>
<path d="M1691.7 137.5l13.8 10.2 13.6 -1 -13.7 -10.1z" fill="#ffa732"/>
<path d="M1760.5 169.8l14.1 13.8 13.1 -0.8 -14 -13.7z" fill="#e7ff26"/>
<path d="M1664.2 129.6l13.7 9 13.8 -1.1 -13.7 -9z" fill="#ff8e35"/>
<path d="M1801.9 197.8l14.2 16.2 12.9 -0.8 -14.2 -16.1z" fill="#72f91e"/>
<path d="M1884.6 268.2l14.3 21.1 12.3 -0.9 -14.3 -20.9z" fill="#00f5ce"/>
<path d="M1843.3 230.6l14.3 18.7 12.6 -0.9 -14.2 -18.5z" fill="#17f532"/>
<path d="M1733 158.1l14.1 12.7 13.4 -1 -14 -12.5z" fill="#ffe02c"/>
<path d="M1636.6 123l13.5 7.9 14.1 -1.3 -13.6 -7.9z" fill="#ff7037"/>
<path d="M1608.9 117.7l13.4 6.8 14.3 -1.5 -13.4 -6.7z" fill="#ff5634"/>
<path d="M1774.6 183.6l14.1 15.1 13.2 -0.9 -14.2 -15z" fill="#b2fd21"/>
<path d="M1581.2 113.8l13.3 5.6 14.4 -1.7 -13.2 -5.5z" fill="#ff4832"/>
<path d="M1705.5 147.7l13.9 11.5 13.6 -1.1 -13.9 -11.4z" fill="#ffbb2f"/>
<path d="M1898.9 289.3l14.4 22.3 12.3 -1 -14.4 -22.2z" fill="#03d0f8"/>
<path d="M1553.6 111.2l13 4.5 14.6 -1.9 -13 -4.4z" fill="#ff4030"/>
<path d="M1525.9 110l12.9 3.3 14.8 -2.1 -12.9 -3.2z" fill="#ff3c30"/>
<path d="M1498.2 110.1l12.7 2.2 15 -2.3 -12.7 -2.2z" fill="#ff3b30"/>
<path d="M1816.1 214l14.3 17.5 12.9 -0.9 -14.3 -17.4z" fill="#40f71b"/>
<path d="M1857.6 249.3l14.4 19.9 12.6 -1 -14.4 -19.8z" fill="#0bf773"/>
<path d="M1677.9 138.6l13.8 10.4 13.8 -1.3 -13.8 -10.2z" fill="#ff9d32"/>
<path d="M1747.1 170.8l14.1 13.9 13.4 -1.1 -14.1 -13.8z" fill="#ffff29"/>
<path d="M1913.3 311.6l14.4 23.6 12.2 -1.2 -14.3 -23.4z" fill="#0590ff"/>
<path d="M1650.1 130.9l13.7 9.2 14.1 -1.5 -13.7 -9z" fill="#ff8135"/>
<path d="M1788.7 198.7l14.3 16.4 13.1 -1.1 -14.2 -16.2z" fill="#81fa1e"/>
<path d="M1872 269.2l14.4 21.2 12.5 -1.1 -14.3 -21.1z" fill="#00f7bc"/>
<path d="M1830.4 231.5l14.4 18.8 12.8 -1 -14.3 -18.7z" fill="#20f52c"/>
<path d="M1622.3 124.5l13.6 8 14.2 -1.6 -13.5 -7.9z" fill="#ff6436"/>
<path d="M1719.4 159.2l14.1 12.8 13.6 -1.2 -14.1 -12.7z" fill="#ffd52c"/>
<path d="M1927.7 335.2l14.5 24.9 12.1 -1.4 -14.4 -24.7z" fill="#0036f3"/>
<path d="M1594.5 119.4l13.4 6.9 14.4 -1.8 -13.4 -6.8z" fill="#ff4c32"/>
<path d="M1566.6 115.7l13.3 5.7 14.6 -2 -13.3 -5.6z" fill="#ff4231"/>
<path d="M1761.2 184.7l14.2 15.2 13.3 -1.2 -14.1 -15.1z" fill="#c1fe21"/>
<path d="M1691.7 149l13.9 11.6 13.8 -1.4 -13.9 -11.5z" fill="#ffb12f"/>
<path d="M1538.8 113.3l13 4.6 14.8 -2.2 -13 -4.5z" fill="#ff3c30"/>
<path d="M1886.4 290.4l14.5 22.5 12.4 -1.3 -14.4 -22.3z" fill="#00def3"/>
<path d="M1510.9 112.3l12.9 3.4 15 -2.4 -12.9 -3.3z" fill="#ff382f"/>
<path d="M1483.1 112.6l12.7 2.3 15.1 -2.6 -12.7 -2.2z" fill="#ff372f"/>
<path d="M1803 215.1l14.4 17.6 13 -1.2 -14.3 -17.5z" fill="#4ef81b"/>
<path d="M1844.8 250.3l14.4 20.1 12.8 -1.2 -14.4 -19.9z" fill="#0ef660"/>
<path d="M1663.8 140.1l13.9 10.4 14 -1.5 -13.8 -10.4z" fill="#ff9432"/>
<path d="M1733.5 172l14.2 14 13.5 -1.3 -14.1 -13.9z" fill="#fff329"/>
<path d="M1900.9 312.9l14.5 23.7 12.3 -1.4 -14.4 -23.6z" fill="#099eff"/>
<path d="M1635.9 132.5l13.7 9.3 14.2 -1.7 -13.7 -9.2z" fill="#ff7635"/>
<path d="M1775.4 199.9l14.3 16.5 13.3 -1.3 -14.3 -16.4z" fill="#8ffa1e"/>
<path d="M1859.2 270.4l14.5 21.4 12.7 -1.4 -14.4 -21.2z" fill="#02f7aa"/>
<path d="M1607.9 126.3l13.6 8.1 14.4 -1.9 -13.6 -8z" fill="#ff5934"/>
<path d="M1817.4 232.7l14.4 19 13 -1.4 -14.4 -18.8z" fill="#28f627"/>
<path d="M1705.6 160.6l14.1 12.8 13.8 -1.4 -14.1 -12.8z" fill="#ffca2c"/>
<path d="M1915.4 336.6l14.5 25.1 12.3 -1.6 -14.5 -24.9z" fill="#004df8"/>
<path d="M1579.9 121.4l13.4 6.9 14.6 -2 -13.4 -6.9z" fill="#ff4732"/>
<path d="M1551.8 117.9l13.3 5.8 14.8 -2.3 -13.3 -5.7z" fill="#ff3e30"/>
<path d="M1677.7 150.5l14 11.7 13.9 -1.6 -13.9 -11.6z" fill="#ffa82f"/>
<path d="M1523.8 115.7l13.1 4.7 14.9 -2.5 -13 -4.6z" fill="#ff382f"/>
<path d="M1747.7 186l14.2 15.3 13.5 -1.4 -14.2 -15.2z" fill="#d1ff22"/>
<path d="M1467.8 115.5l12.7 2.3 15.3 -2.9 -12.7 -2.3z" fill="#ff342e"/>
<path d="M1495.8 114.9l12.8 3.5 15.2 -2.7 -12.9 -3.4z" fill="#ff342e"/>
<path d="M1873.7 291.8l14.5 22.6 12.7 -1.5 -14.5 -22.5z" fill="#00e7ea"/>
<path d="M1789.7 216.4l14.5 17.8 13.2 -1.5 -14.4 -17.6z" fill="#5cf81b"/>
<path d="M1831.8 251.7l14.5 20.2 12.9 -1.5 -14.4 -20.1z" fill="#10f64f"/>
<path d="M1649.6 141.8l13.9 10.5 14.2 -1.8 -13.9 -10.4z" fill="#ff8c32"/>
<path d="M1719.7 173.4l14.2 14.2 13.8 -1.6 -14.2 -14z" fill="#ffe829"/>
<path d="M1621.5 134.4l13.7 9.3 14.4 -1.9 -13.7 -9.3z" fill="#ff6b35"/>
<path d="M1888.2 314.4l14.6 23.9 12.6 -1.7 -14.5 -23.7z" fill="#0cacff"/>
<path d="M1761.9 201.3l14.4 16.7 13.4 -1.6 -14.3 -16.5z" fill="#9efb1e"/>
<path d="M1593.3 128.3l13.6 8.2 14.6 -2.1 -13.6 -8.1z" fill="#ff4f33"/>
<path d="M1846.3 271.9l14.5 21.5 12.9 -1.6 -14.5 -21.4z" fill="#05f799"/>
<path d="M1691.7 162.2l14.1 13 13.9 -1.8 -14.1 -12.8z" fill="#ffc12c"/>
<path d="M1804.2 234.2l14.4 19.1 13.2 -1.6 -14.4 -19z" fill="#30f622"/>
<path d="M1565.1 123.7l13.4 7 14.8 -2.4 -13.4 -6.9z" fill="#ff4331"/>
<path d="M1902.8 338.3l14.6 25.2 12.5 -1.8 -14.5 -25.1z" fill="#0062fc"/>
<path d="M1536.9 120.4l13.2 5.8 15 -2.5 -13.3 -5.8z" fill="#ff3a2f"/>
<path d="M1508.6 118.4l13.1 4.7 15.2 -2.7 -13.1 -4.7z" fill="#ff342e"/>
<path d="M1452.3 118.6l12.6 2.4 15.6 -3.2 -12.7 -2.3z" fill="#ff332e"/>
<path d="M1663.5 152.3l14 11.8 14.2 -1.9 -14 -11.7z" fill="#ffa02f"/>
<path d="M1480.5 117.8l12.8 3.6 15.3 -3 -12.8 -3.5z" fill="#ff332e"/>
<path d="M1733.9 187.6l14.3 15.4 13.7 -1.7 -14.2 -15.3z" fill="#e6ff24"/>
<path d="M1860.8 293.4l14.6 22.8 12.8 -1.8 -14.5 -22.6z" fill="#00f0e2"/>
<path d="M1776.3 218l14.4 17.9 13.5 -1.7 -14.5 -17.8z" fill="#6af91b"/>
<path d="M1818.6 253.3l14.6 20.3 13.1 -1.7 -14.5 -20.2z" fill="#13f53e"/>
<path d="M1635.2 143.7l13.9 10.7 14.4 -2.1 -13.9 -10.5z" fill="#ff8232"/>
<path d="M1705.8 175.2l14.2 14.3 13.9 -1.9 -14.2 -14.2z" fill="#ffdf2a"/>
<path d="M1606.9 136.5l13.8 9.5 14.5 -2.3 -13.7 -9.3z" fill="#ff6134"/>
<path d="M1875.4 316.2l14.6 24.1 12.8 -2 -14.6 -23.9z" fill="#0ab9fd"/>
<path d="M1748.2 203l14.4 16.8 13.7 -1.8 -14.4 -16.7z" fill="#abfc1e"/>
<path d="M1578.5 130.7l13.6 8.3 14.8 -2.5 -13.6 -8.2z" fill="#ff4a32"/>
<path d="M1833.2 273.6l14.6 21.7 13 -1.9 -14.5 -21.5z" fill="#08f789"/>
<path d="M1677.5 164.1l14.2 13.1 14.1 -2 -14.1 -13z" fill="#ffb82d"/>
<path d="M1790.7 235.9l14.6 19.2 13.3 -1.8 -14.4 -19.1z" fill="#38f71e"/>
<path d="M1550.1 126.2l13.4 7.1 15 -2.6 -13.4 -7z" fill="#ff3f30"/>
<path d="M1521.7 123.1l13.2 6 15.2 -2.9 -13.2 -5.8z" fill="#ff362f"/>
<path d="M1890 340.3l14.7 25.4 12.7 -2.2 -14.6 -25.2z" fill="#0076ff"/>
<path d="M1493.3 121.4l13 4.8 15.4 -3.1 -13.1 -4.7z" fill="#ff332e"/>
<path d="M1436.6 122.1l12.6 2.5 15.7 -3.6 -12.6 -2.4z" fill="#ff332e"/>
<path d="M1464.9 121l12.9 3.7 15.5 -3.3 -12.8 -3.6z" fill="#ff332e"/>
<path d="M1649.1 154.4l14.1 11.9 14.3 -2.2 -14 -11.8z" fill="#ff9830"/>
<path d="M1720 189.5l14.4 15.5 13.8 -2 -14.3 -15.4z" fill="#f9ff26"/>
<path d="M1847.8 295.3l14.6 23 13 -2.1 -14.6 -22.8z" fill="#00f4d5"/>
<path d="M1762.6 219.8l14.5 18.1 13.6 -2 -14.4 -17.9z" fill="#76f91b"/>
<path d="M1620.7 146l13.9 10.7 14.5 -2.3 -13.9 -10.7z" fill="#ff7833"/>
<path d="M1805.3 255.1l14.6 20.5 13.3 -2 -14.6 -20.3z" fill="#16f532"/>
<path d="M1691.7 177.2l14.2 14.4 14.1 -2.1 -14.2 -14.3z" fill="#ffd62a"/>
<path d="M1592.1 139l13.8 9.5 14.8 -2.5 -13.8 -9.5z" fill="#ff5933"/>
<path d="M1862.4 318.3l14.7 24.2 12.9 -2.2 -14.6 -24.1z" fill="#06c6fa"/>
<path d="M1563.5 133.3l13.6 8.4 15 -2.7 -13.6 -8.3z" fill="#ff4631"/>
<path d="M1734.4 205l14.4 16.9 13.8 -2.1 -14.4 -16.8z" fill="#b7fd1f"/>
<path d="M1663.2 166.3l14.1 13.2 14.4 -2.3 -14.2 -13.1z" fill="#ffb02d"/>
<path d="M1819.9 275.6l14.6 21.9 13.3 -2.2 -14.6 -21.7z" fill="#0af779"/>
<path d="M1777.1 237.9l14.6 19.3 13.6 -2.1 -14.6 -19.2z" fill="#3ff71a"/>
<path d="M1534.9 129.1l13.5 7.2 15.1 -3 -13.4 -7.1z" fill="#ff3b30"/>
<path d="M1506.3 126.2l13.3 6 15.3 -3.1 -13.2 -6z" fill="#ff342e"/>
<path d="M1420.8 125.8l12.6 2.6 15.8 -3.8 -12.6 -2.5z" fill="#ff332e"/>
<path d="M1477.8 124.7l13 4.9 15.5 -3.4 -13 -4.8z" fill="#ff332e"/>
<path d="M1449.2 124.6l12.9 3.7 15.7 -3.6 -12.9 -3.7z" fill="#ff332e"/>
<path d="M1877.1 342.5l14.7 25.6 12.9 -2.4 -14.7 -25.4z" fill="#0283ff"/>
<path d="M1634.6 156.7l14 12 14.6 -2.4 -14.1 -11.9z" fill="#ff9230"/>
<path d="M1705.9 191.6l14.4 15.7 14.1 -2.3 -14.4 -15.5z" fill="#fff927"/>
<path d="M1834.5 297.5l14.7 23.1 13.2 -2.3 -14.6 -23z" fill="#00f5c7"/>
<path d="M1748.8 221.9l14.6 18.2 13.7 -2.2 -14.5 -18.1z" fill="#81fa1c"/>
<path d="M1605.9 148.5l13.9 10.9 14.8 -2.7 -13.9 -10.7z" fill="#ff7033"/>
<path d="M1791.7 257.2l14.7 20.7 13.5 -2.3 -14.6 -20.5z" fill="#1df52e"/>
<path d="M1677.3 179.5l14.3 14.5 14.3 -2.4 -14.2 -14.4z" fill="#ffce2a"/>
<path d="M1577.1 141.7l13.8 9.7 15 -2.9 -13.8 -9.5z" fill="#ff5232"/>
<path d="M1849.2 320.6l14.8 24.4 13.1 -2.5 -14.7 -24.2z" fill="#03d1f7"/>
<path d="M1548.4 136.3l13.6 8.4 15.1 -3 -13.6 -8.4z" fill="#ff4331"/>
<path d="M1720.3 207.3l14.5 17 14 -2.4 -14.4 -16.9z" fill="#c3fe1f"/>
<path d="M1648.6 168.7l14.2 13.4 14.5 -2.6 -14.1 -13.2z" fill="#ffaa2d"/>
<path d="M1519.6 132.2l13.4 7.3 15.4 -3.2 -13.5 -7.2z" fill="#ff392f"/>
<path d="M1806.4 277.9l14.7 22 13.4 -2.4 -14.6 -21.9z" fill="#0cf66b"/>
<path d="M1763.4 240.1l14.6 19.5 13.7 -2.4 -14.6 -19.3z" fill="#49f81a"/>
<path d="M1490.8 129.6l13.2 6.1 15.6 -3.5 -13.3 -6z" fill="#ff332e"/>
<path d="M1404.7 129.9l12.6 2.7 16.1 -4.2 -12.6 -2.6z" fill="#ff332e"/>
<path d="M1462.1 128.3l13 4.9 15.7 -3.6 -13 -4.9z" fill="#ff332e"/>
<path d="M1433.4 128.4l12.7 3.8 16 -3.9 -12.9 -3.7z" fill="#ff332e"/>
<path d="M1864 345l14.8 25.7 13 -2.6 -14.7 -25.6z" fill="#058eff"/>
<path d="M1619.8 159.4l14.1 12.1 14.7 -2.8 -14 -12z" fill="#ff8c30"/>
<path d="M1691.6 194l14.4 15.9 14.3 -2.6 -14.4 -15.7z" fill="#fff127"/>
<path d="M1821.1 299.9l14.8 23.3 13.3 -2.6 -14.7 -23.1z" fill="#00f7ba"/>
<path d="M1590.9 151.4l14 10.9 14.9 -2.9 -13.9 -10.9z" fill="#ff6833"/>
<path d="M1734.8 224.3l14.6 18.4 14 -2.6 -14.6 -18.2z" fill="#8bfa1c"/>
<path d="M1778 259.6l14.7 20.9 13.7 -2.6 -14.7 -20.7z" fill="#24f62a"/>
<path d="M1662.8 182.1l14.3 14.6 14.5 -2.7 -14.3 -14.5z" fill="#ffc62a"/>
<path d="M1562 144.7l13.8 9.8 15.1 -3.1 -13.8 -9.7z" fill="#ff4c31"/>
<path d="M1533 139.5l13.6 8.6 15.4 -3.4 -13.6 -8.4z" fill="#ff4030"/>
<path d="M1835.9 323.2l14.8 24.6 13.3 -2.8 -14.8 -24.4z" fill="#00dcf4"/>
<path d="M1706 209.9l14.6 17.1 14.2 -2.7 -14.5 -17z" fill="#cdff1f"/>
<path d="M1504 135.7l13.5 7.3 15.5 -3.5 -13.4 -7.3z" fill="#ff362f"/>
<path d="M1633.9 171.5l14.2 13.5 14.7 -2.9 -14.2 -13.4z" fill="#ffa42d"/>
<path d="M1792.7 280.5l14.8 22.1 13.6 -2.7 -14.7 -22z" fill="#0ef65e"/>
<path d="M1475.1 133.2l13.2 6.2 15.7 -3.7 -13.2 -6.1z" fill="#ff332e"/>
<path d="M1388.5 134.3l12.5 2.7 16.3 -4.4 -12.6 -2.7z" fill="#ff332e"/>
<path d="M1749.4 242.7l14.7 19.6 13.9 -2.7 -14.6 -19.5z" fill="#53f81a"/>
<path d="M1446.1 132.2l13.1 5 15.9 -4 -13 -4.9z" fill="#ff332e"/>
<path d="M1417.3 132.6l12.8 3.8 16 -4.2 -12.7 -3.8z" fill="#ff332e"/>
<path d="M1604.9 162.3l14.1 12.3 14.9 -3.1 -14.1 -12.1z" fill="#ff8530"/>
<path d="M1850.7 347.8l14.8 25.9 13.3 -3 -14.8 -25.7z" fill="#0798ff"/>
<path d="M1677.1 196.7l14.5 16 14.4 -2.8 -14.4 -15.9z" fill="#ffe927"/>
<path d="M1575.8 154.5l13.9 11 15.2 -3.2 -14 -10.9z" fill="#ff6232"/>
<path d="M1807.5 302.6l14.8 23.5 13.6 -2.9 -14.8 -23.3z" fill="#02f7ad"/>
<path d="M1720.6 227l14.6 18.5 14.2 -2.8 -14.6 -18.4z" fill="#95fb1c"/>
<path d="M1764.1 262.3l14.7 21 13.9 -2.8 -14.7 -20.9z" fill="#29f627"/>
<path d="M1648.1 185l14.4 14.7 14.6 -3 -14.3 -14.6z" fill="#ffc02a"/>
<path d="M1546.6 148.1l13.8 9.8 15.4 -3.4 -13.8 -9.8z" fill="#ff4931"/>
<path d="M1517.5 143l13.6 8.7 15.5 -3.6 -13.6 -8.6z" fill="#ff3e30"/>
<path d="M1822.3 326.1l14.9 24.8 13.5 -3.1 -14.8 -24.6z" fill="#00e3ee"/>
<path d="M1488.3 139.4l13.4 7.5 15.8 -3.9 -13.5 -7.3z" fill="#ff352f"/>
<path d="M1691.6 212.7l14.6 17.3 14.4 -3 -14.6 -17.1z" fill="#dbff20"/>
<path d="M1619 174.6l14.2 13.5 14.9 -3.1 -14.2 -13.5z" fill="#ff9e2d"/>
<path d="M1459.2 137.2l13.2 6.3 15.9 -4.1 -13.2 -6.2z" fill="#ff332e"/>
<path d="M1401 137l12.8 4 16.3 -4.6 -12.8 -3.8z" fill="#ff332e"/>
<path d="M1430.1 136.4l12.9 5.1 16.2 -4.3 -13.1 -5z" fill="#ff332e"/>
<path d="M1778.8 283.3l14.9 22.3 13.8 -3 -14.8 -22.1z" fill="#10f653"/>
<path d="M1735.2 245.5l14.7 19.8 14.2 -3 -14.7 -19.6z" fill="#5df81a"/>
<path d="M1589.7 165.5l14.1 12.4 15.2 -3.3 -14.1 -12.3z" fill="#ff7f30"/>
<path d="M1837.2 350.9l14.9 26 13.4 -3.2 -14.8 -25.9z" fill="#09a1ff"/>
<path d="M1662.5 199.7l14.5 16.1 14.6 -3.1 -14.5 -16z" fill="#ffe327"/>
<path d="M1560.4 157.9l14 11.2 15.3 -3.6 -13.9 -11z" fill="#ff5d31"/>
<path d="M1793.7 305.6l14.9 23.7 13.7 -3.2 -14.8 -23.5z" fill="#04f7a2"/>
<path d="M1706.2 230l14.6 18.6 14.4 -3.1 -14.6 -18.5z" fill="#9efb1c"/>
<path d="M1749.9 265.3l14.9 21.2 14 -3.2 -14.7 -21z" fill="#2ef624"/>
<path d="M1531.1 151.7l13.8 10 15.5 -3.8 -13.8 -9.8z" fill="#ff4731"/>
<path d="M1633.2 188.1l14.4 14.9 14.9 -3.3 -14.4 -14.7z" fill="#ffbb2a"/>
<path d="M1501.7 146.9l13.6 8.8 15.8 -4 -13.6 -8.7z" fill="#ff3d30"/>
<path d="M1472.4 143.5l13.4 7.6 15.9 -4.2 -13.4 -7.5z" fill="#ff342e"/>
<path d="M1808.6 329.3l14.9 24.9 13.7 -3.3 -14.9 -24.8z" fill="#00e9e9"/>
<path d="M1677 215.8l14.6 17.5 14.6 -3.3 -14.6 -17.3z" fill="#e7ff22"/>
<path d="M1603.8 177.9l14.3 13.7 15.1 -3.5 -14.2 -13.5z" fill="#ff9a2d"/>
<path d="M1443 141.5l13.2 6.4 16.2 -4.4 -13.2 -6.3z" fill="#ff332e"/>
<path d="M1413.8 141l12.9 5.2 16.3 -4.7 -12.9 -5.1z" fill="#ff332e"/>
<path d="M1764.8 286.5l14.8 22.4 14.1 -3.3 -14.9 -22.3z" fill="#11f548"/>
<path d="M1720.8 248.6l14.8 20 14.3 -3.3 -14.7 -19.8z" fill="#65f91a"/>
<path d="M1574.4 169.1l14.1 12.5 15.3 -3.7 -14.1 -12.4z" fill="#ff7a30"/>
<path d="M1647.6 203l14.5 16.3 14.9 -3.5 -14.5 -16.1z" fill="#ffdd27"/>
<path d="M1823.5 354.2l15 26.2 13.6 -3.5 -14.9 -26z" fill="#0baaff"/>
<path d="M1544.9 161.7l14 11.2 15.5 -3.8 -14 -11.2z" fill="#ff5931"/>
<path d="M1691.6 233.3l14.7 18.7 14.5 -3.4 -14.6 -18.6z" fill="#a6fc1c"/>
<path d="M1779.6 308.9l15 23.8 14 -3.4 -14.9 -23.7z" fill="#06f798"/>
<path d="M1735.6 268.6l14.9 21.3 14.3 -3.4 -14.9 -21.2z" fill="#33f721"/>
<path d="M1515.3 155.7l13.9 10 15.7 -4 -13.8 -10z" fill="#ff4630"/>
<path d="M1618.1 191.6l14.4 15 15.1 -3.6 -14.4 -14.9z" fill="#ffb72a"/>
<path d="M1485.8 151.1l13.6 8.8 15.9 -4.2 -13.6 -8.8z" fill="#ff3c30"/>
<path d="M1456.2 147.9l13.5 7.7 16.1 -4.5 -13.4 -7.6z" fill="#ff332e"/>
<path d="M1426.7 146.2l13.2 6.4 16.3 -4.7 -13.2 -6.4z" fill="#ff332e"/>
<path d="M1662.1 219.3l14.7 17.5 14.8 -3.5 -14.6 -17.5z" fill="#f2ff23"/>
<path d="M1588.5 181.6l14.3 13.8 15.3 -3.8 -14.3 -13.7z" fill="#ff972d"/>
<path d="M1794.6 332.7l15 25.1 13.9 -3.6 -14.9 -24.9z" fill="#00eee4"/>
<path d="M1706.3 252l14.8 20.2 14.5 -3.6 -14.8 -20z" fill="#6cf91a"/>
<path d="M1750.5 289.9l14.9 22.6 14.2 -3.6 -14.8 -22.4z" fill="#13f53e"/>
<path d="M1558.9 172.9l14.1 12.6 15.5 -3.9 -14.1 -12.5z" fill="#ff7630"/>
<path d="M1632.5 206.6l14.6 16.4 15 -3.7 -14.5 -16.3z" fill="#ffd927"/>
<path d="M1809.6 357.8l15.1 26.5 13.8 -3.9 -15 -26.2z" fill="#0cb1ff"/>
<path d="M1529.2 165.7l13.9 11.4 15.8 -4.2 -14 -11.2z" fill="#ff5630"/>
<path d="M1676.8 236.8l14.7 19 14.8 -3.8 -14.7 -18.7z" fill="#adfc1c"/>
<path d="M1765.4 312.5l15 24 14.2 -3.8 -15 -23.8z" fill="#07f78e"/>
<path d="M1499.4 159.9l13.8 10.2 16 -4.4 -13.9 -10z" fill="#ff4530"/>
<path d="M1721.1 272.2l14.9 21.4 14.5 -3.7 -14.9 -21.3z" fill="#37f71f"/>
<path d="M1602.8 195.4l14.5 15.1 15.2 -3.9 -14.4 -15z" fill="#ffb32a"/>
<path d="M1469.7 155.6l13.6 8.9 16.1 -4.6 -13.6 -8.8z" fill="#ff3b30"/>
<path d="M1439.9 152.6l13.4 7.8 16.4 -4.8 -13.5 -7.7z" fill="#ff342e"/>
<path d="M1573 185.5l14.3 14 15.5 -4.1 -14.3 -13.8z" fill="#ff942d"/>
<path d="M1647.1 223l14.7 17.7 15 -3.9 -14.7 -17.5z" fill="#fbff24"/>
<path d="M1780.4 336.5l15.1 25.3 14.1 -4 -15 -25.1z" fill="#00f2df"/>
<path d="M1691.5 255.8l14.9 20.2 14.7 -3.8 -14.8 -20.2z" fill="#72f91a"/>
<path d="M1736 293.6l15 22.8 14.4 -3.9 -14.9 -22.6z" fill="#14f536"/>
<path d="M1543.1 177.1l14.2 12.7 15.7 -4.3 -14.1 -12.6z" fill="#ff7330"/>
<path d="M1617.3 210.5l14.5 16.6 15.3 -4.1 -14.6 -16.4z" fill="#ffd527"/>
<path d="M1795.5 361.8l15.2 26.6 14 -4.1 -15.1 -26.5z" fill="#0ab9fd"/>
<path d="M1513.2 170.1l14 11.5 15.9 -4.5 -13.9 -11.4z" fill="#ff5430"/>
<path d="M1661.8 240.7l14.8 19.1 14.9 -4 -14.7 -19z" fill="#b3fd1c"/>
<path d="M1483.3 164.5l13.8 10.3 16.1 -4.7 -13.8 -10.2z" fill="#ff4530"/>
<path d="M1751 316.4l15.1 24.2 14.3 -4.1 -15 -24z" fill="#09f786"/>
<path d="M1706.4 276l15 21.7 14.6 -4.1 -14.9 -21.4z" fill="#3bf71c"/>
<path d="M1587.3 199.5l14.5 15.3 15.5 -4.3 -14.5 -15.1z" fill="#ffb02a"/>
<path d="M1453.3 160.4l13.6 9.1 16.4 -5 -13.6 -8.9z" fill="#ff3b30"/>
<path d="M1557.3 189.8l14.3 14.1 15.7 -4.4 -14.3 -14z" fill="#ff922d"/>
<path d="M1631.8 227.1l14.8 17.8 15.2 -4.2 -14.7 -17.7z" fill="#fffd24"/>
<path d="M1766.1 340.6l15.1 25.4 14.3 -4.2 -15.1 -25.3z" fill="#00f3d7"/>
<path d="M1676.6 259.8l14.9 20.4 14.9 -4.2 -14.9 -20.2z" fill="#77f91a"/>
<path d="M1721.4 297.7l15 22.9 14.6 -4.2 -15 -22.8z" fill="#16f532"/>
<path d="M1527.2 181.6l14.2 12.9 15.9 -4.7 -14.2 -12.7z" fill="#ff7130"/>
<path d="M1601.8 214.8l14.6 16.6 15.4 -4.3 -14.5 -16.6z" fill="#ffd227"/>
<path d="M1497.1 174.8l14 11.6 16.1 -4.8 -14 -11.5z" fill="#ff5430"/>
<path d="M1781.2 366l15.2 26.8 14.3 -4.4 -15.2 -26.6z" fill="#08bffb"/>
<path d="M1466.9 169.5l13.8 10.4 16.4 -5.1 -13.8 -10.3z" fill="#ff4530"/>
<path d="M1646.6 244.9l14.8 19.2 15.2 -4.3 -14.8 -19.1z" fill="#b7fd1c"/>
<path d="M1736.4 320.6l15.1 24.3 14.6 -4.3 -15.1 -24.2z" fill="#0af77f"/>
<path d="M1571.6 203.9l14.5 15.4 15.7 -4.5 -14.5 -15.3z" fill="#ffae2a"/>
<path d="M1691.5 280.2l15 21.8 14.9 -4.3 -15 -21.7z" fill="#3ef71b"/>
<path d="M1541.4 194.5l14.3 14.2 15.9 -4.8 -14.3 -14.1z" fill="#ff912d"/>
<path d="M1616.4 231.4l14.7 18 15.5 -4.5 -14.8 -17.8z" fill="#fffa24"/>
<path d="M1751.5 344.9l15.3 25.7 14.4 -4.6 -15.1 -25.4z" fill="#00f4d0"/>
<path d="M1661.4 264.1l15 20.6 15.1 -4.5 -14.9 -20.4z" fill="#7cf91a"/>
<path d="M1511.1 186.4l14.2 13 16.1 -4.9 -14.2 -12.9z" fill="#ff7130"/>
<path d="M1706.5 302l15.1 23.2 14.8 -4.6 -15 -22.9z" fill="#19f530"/>
<path d="M1586.1 219.3l14.7 16.8 15.6 -4.7 -14.6 -16.6z" fill="#ffd027"/>
<path d="M1480.7 179.9l14 11.7 16.4 -5.2 -14 -11.6z" fill="#ff5430"/>
<path d="M1766.8 370.6l15.2 27 14.4 -4.8 -15.2 -26.8z" fill="#07c5fa"/>
<path d="M1631.1 249.4l14.9 19.4 15.4 -4.7 -14.8 -19.2z" fill="#bbfe1c"/>
<path d="M1721.6 325.2l15.2 24.4 14.7 -4.7 -15.1 -24.3z" fill="#0af779"/>
<path d="M1555.7 208.7l14.5 15.5 15.9 -4.9 -14.5 -15.4z" fill="#ffad2a"/>
<path d="M1676.4 284.7l15 22 15.1 -4.7 -15 -21.8z" fill="#40f71a"/>
<path d="M1525.3 199.4l14.3 14.3 16.1 -5 -14.3 -14.2z" fill="#ff902d"/>
<path d="M1600.8 236.1l14.7 18.2 15.6 -4.9 -14.7 -18z" fill="#fff824"/>
<path d="M1736.8 349.6l15.3 25.9 14.7 -4.9 -15.3 -25.7z" fill="#00f5cb"/>
<path d="M1494.7 191.6l14.2 13.1 16.4 -5.3 -14.2 -13z" fill="#ff7130"/>
<path d="M1646 268.8l15 20.8 15.4 -4.9 -15 -20.6z" fill="#7ff91a"/>
<path d="M1691.4 306.7l15.2 23.3 15 -4.8 -15.1 -23.2z" fill="#1cf52f"/>
<path d="M1570.2 224.2l14.7 16.9 15.9 -5 -14.7 -16.8z" fill="#ffcf27"/>
<path d="M1752.1 375.5l15.3 27.2 14.6 -5.1 -15.2 -27z" fill="#05caf9"/>
<path d="M1615.5 254.3l15 19.5 15.5 -5 -14.9 -19.4z" fill="#befe1c"/>
<path d="M1539.6 213.7l14.6 15.7 16 -5.2 -14.5 -15.5z" fill="#ffad2a"/>
<path d="M1706.6 330l15.2 24.7 15 -5.1 -15.2 -24.4z" fill="#0bf774"/>
<path d="M1661 289.6l15.1 22.1 15.3 -5 -15 -22z" fill="#44f71a"/>
<path d="M1508.9 204.7l14.4 14.4 16.3 -5.4 -14.3 -14.3z" fill="#ff912d"/>
<path d="M1584.9 241.1l14.8 18.3 15.8 -5.1 -14.7 -18.2z" fill="#fff724"/>
<path d="M1721.8 354.7l15.4 26 14.9 -5.2 -15.3 -25.9z" fill="#00f6c6"/>
<path d="M1630.5 273.8l15 20.9 15.5 -5.1 -15 -20.8z" fill="#81fa1a"/>
<path d="M1676.1 311.7l15.3 23.5 15.2 -5.2 -15.2 -23.3z" fill="#1ef52e"/>
<path d="M1554.2 229.4l14.6 17.1 16.1 -5.4 -14.7 -16.9z" fill="#ffce27"/>
<path d="M1737.2 380.7l15.4 27.4 14.8 -5.4 -15.3 -27.2z" fill="#04cef8"/>
<path d="M1599.7 259.4l15 19.7 15.8 -5.3 -15 -19.5z" fill="#bffe1c"/>
<path d="M1523.3 219.1l14.6 15.9 16.3 -5.6 -14.6 -15.7z" fill="#ffad2a"/>
<path d="M1691.4 335.2l15.3 24.8 15.1 -5.3 -15.2 -24.7z" fill="#0cf770"/>
<path d="M1645.5 294.7l15.2 22.3 15.4 -5.3 -15.1 -22.1z" fill="#46f81a"/>
<path d="M1568.8 246.5l14.9 18.4 16 -5.5 -14.8 -18.3z" fill="#fff624"/>
<path d="M1706.7 360l15.4 26.2 15.1 -5.5 -15.4 -26z" fill="#00f6c3"/>
<path d="M1614.7 279.1l15.1 21.1 15.7 -5.5 -15 -20.9z" fill="#83fa1a"/>
<path d="M1660.7 317l15.2 23.7 15.5 -5.5 -15.3 -23.5z" fill="#1ff52d"/>
<path d="M1537.9 235l14.7 17.2 16.2 -5.7 -14.6 -17.1z" fill="#ffcf27"/>
<path d="M1722.1 386.2l15.4 27.6 15.1 -5.7 -15.4 -27.4z" fill="#03d1f7"/>
<path d="M1583.7 264.9l15 19.9 16 -5.7 -15 -19.7z" fill="#bffe1c"/>
<path d="M1675.9 340.7l15.4 25 15.4 -5.7 -15.3 -24.8z" fill="#0cf66d"/>
<path d="M1629.8 300.2l15.2 22.5 15.7 -5.7 -15.2 -22.3z" fill="#47f81a"/>
<path d="M1552.6 252.2l14.9 18.6 16.2 -5.9 -14.9 -18.4z" fill="#fff724"/>
<path d="M1691.3 365.7l15.5 26.4 15.3 -5.9 -15.4 -26.2z" fill="#00f6c0"/>
<path d="M1598.7 284.8l15.1 21.2 16 -5.8 -15.1 -21.1z" fill="#83fa1a"/>
<path d="M1645 322.7l15.3 23.8 15.6 -5.8 -15.2 -23.7z" fill="#20f52c"/>
<path d="M1706.8 392.1l15.5 27.8 15.2 -6.1 -15.4 -27.6z" fill="#02d3f7"/>
<path d="M1567.5 270.8l15 20 16.2 -6 -15 -19.9z" fill="#bffe1c"/>
<path d="M1660.3 346.5l15.4 25.2 15.6 -6 -15.4 -25z" fill="#0cf66c"/>
<path d="M1613.8 306l15.3 22.6 15.9 -5.9 -15.2 -22.5z" fill="#47f81a"/>
<path d="M1675.7 371.7l15.5 26.6 15.6 -6.2 -15.5 -26.4z" fill="#00f6bf"/>
<path d="M1582.5 290.8l15.2 21.4 16.1 -6.2 -15.1 -21.2z" fill="#82fa1a"/>
<path d="M1629.1 328.6l15.3 24.1 15.9 -6.2 -15.3 -23.8z" fill="#20f52c"/>
<path d="M1691.2 398.3l15.6 28 15.5 -6.4 -15.5 -27.8z" fill="#02d4f7"/>
<path d="M1644.4 352.7l15.5 25.4 15.8 -6.4 -15.4 -25.2z" fill="#0cf66b"/>
<path d="M1597.7 312.2l15.2 22.8 16.2 -6.4 -15.3 -22.6z" fill="#47f81a"/>
<path d="M1659.9 378.1l15.6 26.8 15.7 -6.6 -15.5 -26.6z" fill="#00f6bf"/>
<path d="M1612.9 335l15.5 24.2 16 -6.5 -15.3 -24.1z" fill="#20f52c"/>
<path d="M1675.5 404.9l15.6 28.1 15.7 -6.7 -15.6 -28z" fill="#02d4f6"/>
<path d="M1628.4 359.2l15.5 25.6 16 -6.7 -15.5 -25.4z" fill="#0cf66c"/>
<path d="M1643.9 384.8l15.6 27 16 -6.9 -15.6 -26.8z" fill="#00f6bf"/>
<path d="M1659.5 411.8l15.8 28.3 15.8 -7.1 -15.6 -28.1z" fill="#02d4f7"/>
</g></g>
<path d="M1388.5 134.3L1404.7 129.9L1420.8 125.8L1436.6 122.1L1452.3 118.6L1467.8 115.5L1483.1 112.6L1498.2 110.1L1513.2 107.8L1528 105.9L1542.5 104.2L1557 102.7L1571.2 101.6L1585.3 100.7L1599.1 100.1L1612.9 99.7L1626.4 99.6L1639.8 99.7L1653 100.1L1666 100.7L1678.9 101.5M1401 137L1417.3 132.6L1433.4 128.4L1449.2 124.6L1464.9 121L1480.5 117.8L1495.8 114.9L1510.9 112.3L1525.9 110L1540.7 108L1555.3 106.2L1569.7 104.7L1583.9 103.5L1598 102.6L1611.9 101.9L1625.6 101.5L1639.2 101.3L1652.5 101.4L1665.7 101.7L1678.8 102.2L1691.7 103M1413.8 141L1430.1 136.4L1446.1 132.2L1462.1 128.3L1477.8 124.7L1493.3 121.4L1508.6 118.4L1523.8 115.7L1538.8 113.3L1553.6 111.2L1568.2 109.4L1582.6 107.9L1596.8 106.6L1610.9 105.6L1624.8 104.8L1638.5 104.3L1652.1 104.1L1665.4 104.1L1678.6 104.4L1691.7 104.9L1704.5 105.6M1426.7 146.2L1443 141.5L1459.2 137.2L1475.1 133.2L1490.8 129.6L1506.3 126.2L1521.7 123.1L1536.9 120.4L1551.8 117.9L1566.6 115.7L1581.2 113.8L1595.7 112.2L1609.9 110.8L1624 109.8L1637.9 108.9L1651.6 108.4L1665.1 108.1L1678.5 108L1691.7 108.2L1704.7 108.6L1717.6 109.3M1439.9 152.6L1456.2 147.9L1472.4 143.5L1488.3 139.4L1504 135.7L1519.6 132.2L1534.9 129.1L1550.1 126.2L1565.1 123.7L1579.9 121.4L1594.5 119.4L1608.9 117.7L1623.2 116.3L1637.2 115.1L1651.1 114.3L1664.8 113.6L1678.3 113.2L1691.7 113.1L1704.9 113.2L1717.9 113.6L1730.7 114.2M1453.3 160.4L1469.7 155.6L1485.8 151.1L1501.7 146.9L1517.5 143L1533 139.5L1548.4 136.3L1563.5 133.3L1578.5 130.7L1593.3 128.3L1607.9 126.3L1622.3 124.5L1636.6 123L1650.6 121.7L1664.5 120.8L1678.2 120.1L1691.7 119.6L1705 119.4L1718.2 119.4L1731.2 119.7L1744 120.2M1466.9 169.5L1483.3 164.5L1499.4 159.9L1515.3 155.7L1531.1 151.7L1546.6 148.1L1562 144.7L1577.1 141.7L1592.1 139L1606.9 136.5L1621.5 134.4L1635.9 132.5L1650.1 130.9L1664.2 129.6L1678 128.5L1691.7 127.7L1705.2 127.2L1718.5 126.9L1731.7 126.8L1744.6 127L1757.4 127.5M1480.7 179.9L1497.1 174.8L1513.2 170.1L1529.2 165.7L1544.9 161.7L1560.4 157.9L1575.8 154.5L1590.9 151.4L1605.9 148.5L1620.7 146L1635.2 143.7L1649.6 141.8L1663.8 140.1L1677.9 138.6L1691.7 137.5L1705.4 136.6L1718.8 136L1732.1 135.6L1745.3 135.4L1758.2 135.6L1771 135.9M1494.7 191.6L1511.1 186.4L1527.2 181.6L1543.1 177.1L1558.9 172.9L1574.4 169.1L1589.7 165.5L1604.9 162.3L1619.8 159.4L1634.6 156.7L1649.1 154.4L1663.5 152.3L1677.7 150.5L1691.7 149L1705.5 147.7L1719.1 146.7L1732.6 146L1745.9 145.5L1759 145.3L1771.9 145.3L1784.6 145.6M1508.9 204.7L1525.3 199.4L1541.4 194.5L1557.3 189.8L1573 185.5L1588.5 181.6L1603.8 177.9L1619 174.6L1633.9 171.5L1648.6 168.7L1663.2 166.3L1677.5 164.1L1691.7 162.2L1705.6 160.6L1719.4 159.2L1733 158.1L1746.5 157.3L1759.7 156.7L1772.8 156.4L1785.7 156.3L1798.4 156.4M1523.3 219.1L1539.6 213.7L1555.7 208.7L1571.6 203.9L1587.3 199.5L1602.8 195.4L1618.1 191.6L1633.2 188.1L1648.1 185L1662.8 182.1L1677.3 179.5L1691.7 177.2L1705.8 175.2L1719.7 173.4L1733.5 172L1747.1 170.8L1760.5 169.8L1773.7 169.1L1786.7 168.7L1812.2 168.5M1537.9 235L1554.2 229.4L1570.2 224.2L1586.1 219.3L1601.8 214.8L1617.3 210.5L1632.5 206.6L1647.6 203L1662.5 199.7L1677.1 196.7L1691.6 194L1705.9 191.6L1720 189.5L1733.9 187.6L1747.7 186L1761.2 184.7L1774.6 183.6L1787.7 182.8L1800.7 182.3L1826.2 181.9M1552.6 252.2L1568.8 246.5L1584.9 241.1L1600.8 236.1L1616.4 231.4L1631.8 227.1L1647.1 223L1662.1 219.3L1677 215.8L1691.6 212.7L1706 209.9L1720.3 207.3L1734.4 205L1748.2 203L1761.9 201.3L1775.4 199.9L1788.7 198.7L1801.9 197.8L1814.8 197.1L1840.2 196.5M1567.5 270.8L1583.7 264.9L1599.7 259.4L1615.5 254.3L1631.1 249.4L1646.6 244.9L1661.8 240.7L1676.8 236.8L1691.6 233.3L1706.2 230L1720.6 227L1734.8 224.3L1748.8 221.9L1762.6 219.8L1776.3 218L1789.7 216.4L1803 215.1L1816.1 214L1829 213.2L1854.3 212.4M1582.5 290.8L1598.7 284.8L1614.7 279.1L1630.5 273.8L1646 268.8L1661.4 264.1L1676.6 259.8L1691.5 255.8L1706.3 252L1720.8 248.6L1735.2 245.5L1749.4 242.7L1763.4 240.1L1777.1 237.9L1790.7 235.9L1804.2 234.2L1817.4 232.7L1830.4 231.5L1843.3 230.6L1868.5 229.5M1597.7 312.2L1613.8 306L1629.8 300.2L1645.5 294.7L1661 289.6L1676.4 284.7L1691.5 280.2L1706.4 276L1721.1 272.2L1735.6 268.6L1749.9 265.3L1764.1 262.3L1778 259.6L1791.7 257.2L1805.3 255.1L1818.6 253.3L1844.8 250.3L1857.6 249.3L1882.7 247.9M1612.9 335L1629.1 328.6L1645 322.7L1660.7 317L1676.1 311.7L1691.4 306.7L1706.5 302L1721.4 297.7L1736 293.6L1750.5 289.9L1764.8 286.5L1778.8 283.3L1792.7 280.5L1806.4 277.9L1819.9 275.6L1833.2 273.6L1859.2 270.4L1872 269.2L1896.9 267.5M1628.4 359.2L1644.4 352.7L1660.3 346.5L1675.9 340.7L1691.4 335.2L1706.6 330L1721.6 325.2L1736.4 320.6L1751 316.4L1765.4 312.5L1779.6 308.9L1793.7 305.6L1807.5 302.6L1821.1 299.9L1847.8 295.3L1873.7 291.8L1886.4 290.4L1911.2 288.4M1643.9 384.8L1659.9 378.1L1675.7 371.7L1691.3 365.7L1706.7 360L1721.8 354.7L1736.8 349.6L1751.5 344.9L1766.1 340.6L1780.4 336.5L1794.6 332.7L1822.3 326.1L1835.9 323.2L1862.4 318.3L1888.2 314.4L1900.9 312.9L1925.6 310.6M1659.5 411.8L1675.5 404.9L1691.2 398.3L1706.8 392.1L1722.1 386.2L1737.2 380.7L1766.8 370.6L1781.2 366L1809.6 357.8L1837.2 350.9L1850.7 347.8L1877.1 342.5L1902.8 338.3L1915.4 336.6L1939.9 334M1675.3 440.1L1706.8 426.3L1722.3 419.9L1752.6 408.1L1782 397.6L1796.4 392.8L1824.7 384.3L1852.1 376.9L1865.5 373.7L1891.8 368.1L1917.4 363.5L1929.9 361.7L1954.3 358.7M1388.5 134.3L1401 137L1413.8 141L1426.7 146.2L1439.9 152.6L1453.3 160.4L1466.9 169.5L1480.7 179.9L1494.7 191.6L1508.9 204.7L1523.3 219.1L1537.9 235L1552.6 252.2L1567.5 270.8L1582.5 290.8L1597.7 312.2L1612.9 335L1628.4 359.2L1643.9 384.8L1659.5 411.8L1675.3 440.1M1404.7 129.9L1417.3 132.6L1430.1 136.4L1443 141.5L1456.2 147.9L1469.7 155.6L1483.3 164.5L1497.1 174.8L1511.1 186.4L1525.3 199.4L1539.6 213.7L1554.2 229.4L1568.8 246.5L1583.7 264.9L1598.7 284.8L1613.8 306L1629.1 328.6L1644.4 352.7L1659.9 378.1L1675.5 404.9L1691.1 433M1420.8 125.8L1433.4 128.4L1446.1 132.2L1459.2 137.2L1472.4 143.5L1485.8 151.1L1499.4 159.9L1513.2 170.1L1527.2 181.6L1541.4 194.5L1555.7 208.7L1570.2 224.2L1584.9 241.1L1599.7 259.4L1614.7 279.1L1629.8 300.2L1645 322.7L1660.3 346.5L1675.7 371.7L1691.2 398.3L1706.8 426.3M1436.6 122.1L1449.2 124.6L1462.1 128.3L1475.1 133.2L1488.3 139.4L1501.7 146.9L1515.3 155.7L1529.2 165.7L1543.1 177.1L1557.3 189.8L1571.6 203.9L1586.1 219.3L1600.8 236.1L1615.5 254.3L1630.5 273.8L1645.5 294.7L1660.7 317L1675.9 340.7L1691.3 365.7L1706.8 392.1L1722.3 419.9M1452.3 118.6L1464.9 121L1477.8 124.7L1490.8 129.6L1504 135.7L1517.5 143L1531.1 151.7L1544.9 161.7L1558.9 172.9L1573 185.5L1587.3 199.5L1601.8 214.8L1616.4 231.4L1631.1 249.4L1646 268.8L1661 289.6L1676.1 311.7L1691.4 335.2L1706.7 360L1722.1 386.2L1737.5 413.8M1467.8 115.5L1480.5 117.8L1493.3 121.4L1506.3 126.2L1519.6 132.2L1533 139.5L1546.6 148.1L1560.4 157.9L1574.4 169.1L1588.5 181.6L1602.8 195.4L1617.3 210.5L1631.8 227.1L1646.6 244.9L1661.4 264.1L1676.4 284.7L1691.4 306.7L1706.6 330L1721.8 354.7L1737.2 380.7L1752.6 408.1M1483.1 112.6L1495.8 114.9L1508.6 118.4L1521.7 123.1L1534.9 129.1L1548.4 136.3L1562 144.7L1575.8 154.5L1589.7 165.5L1603.8 177.9L1618.1 191.6L1632.5 206.6L1647.1 223L1661.8 240.7L1676.6 259.8L1691.5 280.2L1706.5 302L1721.6 325.2L1736.8 349.6L1752.1 375.5L1767.4 402.7M1498.2 110.1L1510.9 112.3L1523.8 115.7L1536.9 120.4L1550.1 126.2L1563.5 133.3L1577.1 141.7L1590.9 151.4L1604.9 162.3L1619 174.6L1633.2 188.1L1647.6 203L1662.1 219.3L1676.8 236.8L1691.5 255.8L1706.4 276L1721.4 297.7L1736.4 320.6L1751.5 344.9L1766.8 370.6L1782 397.6M1513.2 107.8L1525.9 110L1538.8 113.3L1551.8 117.9L1565.1 123.7L1578.5 130.7L1592.1 139L1605.9 148.5L1619.8 159.4L1633.9 171.5L1648.1 185L1662.5 199.7L1677 215.8L1691.6 233.3L1706.3 252L1721.1 272.2L1736 293.6L1751 316.4L1766.1 340.6L1781.2 366L1796.4 392.8M1528 105.9L1540.7 108L1553.6 111.2L1566.6 115.7L1579.9 121.4L1593.3 128.3L1606.9 136.5L1620.7 146L1634.6 156.7L1648.6 168.7L1662.8 182.1L1677.1 196.7L1691.6 212.7L1706.2 230L1720.8 248.6L1735.6 268.6L1750.5 289.9L1765.4 312.5L1780.4 336.5L1795.5 361.8L1810.7 388.4M1542.5 104.2L1555.3 106.2L1568.2 109.4L1581.2 113.8L1594.5 119.4L1607.9 126.3L1621.5 134.4L1635.2 143.7L1649.1 154.4L1663.2 166.3L1677.3 179.5L1691.6 194L1706 209.9L1720.6 227L1735.2 245.5L1749.9 265.3L1764.8 286.5L1779.6 308.9L1794.6 332.7L1809.6 357.8L1824.7 384.3M1557 102.7L1569.7 104.7L1582.6 107.9L1595.7 112.2L1608.9 117.7L1622.3 124.5L1635.9 132.5L1649.6 141.8L1663.5 152.3L1677.5 164.1L1691.7 177.2L1705.9 191.6L1720.3 207.3L1734.8 224.3L1749.4 242.7L1764.1 262.3L1778.8 283.3L1793.7 305.6L1808.6 329.3L1823.5 354.2L1838.5 380.4M1571.2 101.6L1583.9 103.5L1596.8 106.6L1609.9 110.8L1623.2 116.3L1636.6 123L1650.1 130.9L1663.8 140.1L1677.7 150.5L1691.7 162.2L1705.8 175.2L1720 189.5L1734.4 205L1748.8 221.9L1763.4 240.1L1778 259.6L1792.7 280.5L1807.5 302.6L1822.3 326.1L1837.2 350.9L1852.1 376.9M1585.3 100.7L1598 102.6L1610.9 105.6L1624 109.8L1637.2 115.1L1650.6 121.7L1664.2 129.6L1677.9 138.6L1691.7 149L1705.6 160.6L1719.7 173.4L1733.9 187.6L1748.2 203L1762.6 219.8L1777.1 237.9L1791.7 257.2L1806.4 277.9L1821.1 299.9L1835.9 323.2L1850.7 347.8L1865.5 373.7M1599.1 100.1L1611.9 101.9L1624.8 104.8L1637.9 108.9L1651.1 114.3L1664.5 120.8L1678 128.5L1691.7 137.5L1705.5 147.7L1719.4 159.2L1733.5 172L1747.7 186L1761.9 201.3L1776.3 218L1790.7 235.9L1805.3 255.1L1819.9 275.6L1834.5 297.5L1849.2 320.6L1864 345L1878.8 370.7M1612.9 99.7L1625.6 101.5L1638.5 104.3L1651.6 108.4L1664.8 113.6L1678.2 120.1L1691.7 127.7L1705.4 136.6L1719.1 146.7L1733 158.1L1747.1 170.8L1761.2 184.7L1775.4 199.9L1789.7 216.4L1804.2 234.2L1818.6 253.3L1833.2 273.6L1847.8 295.3L1862.4 318.3L1877.1 342.5L1891.8 368.1M1626.4 99.6L1639.2 101.3L1652.1 104.1L1665.1 108.1L1678.3 113.2L1691.7 119.6L1705.2 127.2L1718.8 136L1732.6 146L1746.5 157.3L1760.5 169.8L1774.6 183.6L1788.7 198.7L1803 215.1L1817.4 232.7L1831.8 251.7L1846.3 271.9L1860.8 293.4L1875.4 316.2L1890 340.3L1904.7 365.7M1639.8 99.7L1652.5 101.4L1665.4 104.1L1678.5 108L1691.7 113.1L1705 119.4L1718.5 126.9L1732.1 135.6L1745.9 145.5L1759.7 156.7L1773.7 169.1L1787.7 182.8L1801.9 197.8L1816.1 214L1830.4 231.5L1844.8 250.3L1859.2 270.4L1873.7 291.8L1888.2 314.4L1902.8 338.3L1917.4 363.5M1653 100.1L1665.7 101.7L1678.6 104.4L1691.7 108.2L1704.9 113.2L1718.2 119.4L1731.7 126.8L1745.3 135.4L1759 145.3L1772.8 156.4L1786.7 168.7L1800.7 182.3L1814.8 197.1L1829 213.2L1843.3 230.6L1857.6 249.3L1872 269.2L1886.4 290.4L1900.9 312.9L1915.4 336.6L1929.9 361.7M1666 100.7L1678.8 102.2L1691.7 104.9L1704.7 108.6L1717.9 113.6L1731.2 119.7L1744.6 127L1758.2 135.6L1771.9 145.3L1785.7 156.3L1799.6 168.5L1813.5 182L1827.6 196.7L1841.7 212.7L1856 229.9L1870.2 248.4L1884.6 268.2L1898.9 289.3L1913.3 311.6L1927.7 335.2L1942.2 360.1M1678.9 101.5L1691.7 103L1704.5 105.6L1717.6 109.3L1730.7 114.2L1744 120.2L1757.4 127.5L1771 135.9L1784.6 145.6L1798.4 156.4L1812.2 168.5L1826.2 181.9L1840.2 196.5L1854.3 212.4L1868.5 229.5L1882.7 247.9L1896.9 267.5L1911.2 288.4L1925.6 310.6L1939.9 334L1954.3 358.7" fill="none" stroke="#000" stroke-opacity="0.9" stroke-width="1.7" stroke-linejoin="round" stroke-linecap="round"/>
<path d="M1388.5 134.3L1401 137L1413.8 141L1426.7 146.2L1439.9 152.6L1453.3 160.4L1466.9 169.5L1480.7 179.9L1494.7 191.6L1508.9 204.7L1523.3 219.1L1537.9 235L1552.6 252.2L1567.5 270.8L1582.5 290.8L1597.7 312.2L1612.9 335L1628.4 359.2L1643.9 384.8L1659.5 411.8L1675.3 440.1L1706.8 426.3L1722.3 419.9L1752.6 408.1L1782 397.6L1796.4 392.8L1824.7 384.3L1852.1 376.9L1865.5 373.7L1891.8 368.1L1917.4 363.5L1929.9 361.7L1954.3 358.7L1939.9 334L1925.6 310.6L1911.2 288.4L1896.9 267.5L1882.7 247.9L1868.5 229.5L1854.3 212.4L1840.2 196.5L1826.2 181.9L1812.2 168.5L1798.4 156.4L1784.6 145.6L1771 135.9L1757.4 127.5L1744 120.2L1730.7 114.2L1717.6 109.3L1704.5 105.6L1691.6 103L1678.9 101.5L1653 100.1L1626.4 99.6L1599.1 100.1L1585.3 100.7L1557 102.7L1528 105.9L1498.2 110.1L1483.1 112.6L1452.3 118.6L1436.6 122.1L1404.7 129.9Z" fill="none" stroke="#000" stroke-opacity="0.7" stroke-width="1.3" stroke-linejoin="round"/>
<ellipse cx="1678.3" cy="180" rx="3.6" ry="2.6" fill="#b00000" stroke="#4a0808" stroke-width="0.8"/>
<circle cx="1955.3" cy="350" r="6" fill="#c40000" stroke="#4a0808" stroke-width="1"/>
<g font-family="'Liberation Sans',sans-serif" font-size="15.5" fill="#484848">
<text x="1392.5" y="368.5" text-anchor="end">50</text>
<text x="1390" y="321.6" text-anchor="end">60</text>
<text x="1387.4" y="274.7" text-anchor="end">70</text>
<text x="1384.9" y="227.8" text-anchor="end">80</text>
<text x="1382.4" y="180.8" text-anchor="end">90</text>
<text x="1379.8" y="133.9" text-anchor="end">100</text>
<text x="1377.3" y="87" text-anchor="end">110</text>
<text x="1398.2" y="478" text-anchor="end">2</text>
<text x="1452" y="505.6" text-anchor="end">2.2</text>
<text x="1505.7" y="533.3" text-anchor="end">2.4</text>
<text x="1559.5" y="560.9" text-anchor="end">2.6</text>
<text x="1613.2" y="588.6" text-anchor="end">2.8</text>
<text x="1667" y="616.2" text-anchor="end">3</text>
<text x="1683" y="616.2" text-anchor="start">5</text>
<text x="1751.5" y="582" text-anchor="start">4</text>
<text x="1819.9" y="547.8" text-anchor="start">3</text>
<text x="1888.3" y="513.5" text-anchor="start">2</text>
<text x="1956.8" y="479.3" text-anchor="start">1</text>
</g>
<g font-family="'Liberation Serif',serif" font-weight="bold" fill="#111" text-anchor="middle">
<text x="1343" y="26.7" font-size="35" text-anchor="start">(c)</text>
<text transform="translate(1342 270) rotate(-90)" font-size="24.7" textLength="147" lengthAdjust="spacingAndGlyphs" y="7.4">Cr(VI) removal (%)</text>
<text transform="translate(1489 548) rotate(29)" font-size="20" textLength="43" lengthAdjust="spacingAndGlyphs" y="6">E: pH</text>
<text transform="translate(1843 548) rotate(-26.4)" font-size="20" textLength="140" lengthAdjust="spacingAndGlyphs" y="6">C: reaction time (h)</text>
</g>
</g>
<g id="p_d">
<path d="M88.5 979.6L359.5 882.2M359.5 882.2L627.6 981M86.2 933.7L359.6 840.6M359.6 840.6L630 934.9M83.8 887.9L359.6 798.9M359.6 798.9L632.4 888.9M81.4 842L359.6 757.3M359.6 757.3L634.9 842.9M79 796.1L359.6 715.6M359.6 715.6L637.3 796.9M76.6 750.2L359.7 674M359.7 674L639.8 750.8M74.2 704.3L359.7 632.3M359.7 632.3L642.2 704.8M156.3 955.3L145.6 686.3M224 930.9L216.9 668.3M291.8 906.6L288.3 650.3M413.1 902L416.2 646.8M466.7 921.7L472.7 661.3M520.4 941.5L529.2 675.8M574 961.2L585.7 690.3M93 1065.2L74.2 704.3M359.5 959.9L359.7 632.3M623 1066.8L642.2 704.8" fill="none" stroke="#262626" stroke-width="1.75" stroke-linecap="round"/>
<polygon points="93,1065.2 356.3,1201 623,1066.8 359.5,959.9" fill="#626262" stroke="#111" stroke-width="2" stroke-linejoin="round"/>
<path d="M351.8 962.8L369.1 963.8M396.3 974.8L397.7 976.7L398.9 980.4L399.1 984.5L398.1 989.2L395.6 995.2L392.7 1000.1L388.9 1005.2L381.8 1013.5L374 1021.3L364.3 1030L352.5 1039.7L338.1 1050.6L320.7 1063L299.4 1077.1L262.4 1100L214.1 1127.8" fill="none" stroke="#e0721b" stroke-width="3" stroke-linecap="butt" stroke-linejoin="round"/>
<path d="M485.3 1010.8L459.3 1030.4L439.4 1044.4L416.9 1059.5L390.1 1076.7L357.6 1096.6L327 1114.7L261 1152" fill="none" stroke="#d3e01a" stroke-width="3" stroke-linecap="butt" stroke-linejoin="round"/>
<path d="M529.8 1028.9L484.9 1059.3L458.4 1076.4L424.2 1097.6L364.7 1132.9L297.8 1170.9" fill="none" stroke="#3cda16" stroke-width="3" stroke-linecap="butt" stroke-linejoin="round"/>
<path d="M565.3 1043.3L518 1074.5L458.6 1111.7L397 1148.5L329.5 1187.3" fill="none" stroke="#08d973" stroke-width="3" stroke-linecap="butt" stroke-linejoin="round"/>
<path d="M596 1055.7L549 1086.7L502.6 1116L452.5 1146.7L387 1185.4" fill="none" stroke="#06acdc" stroke-width="3" stroke-linecap="butt" stroke-linejoin="round"/>
<g fill="#000"><circle cx="88.5" cy="979.6" r="2.7"/><circle cx="86.2" cy="933.7" r="2.7"/><circle cx="83.8" cy="887.9" r="2.7"/><circle cx="81.4" cy="842" r="2.7"/><circle cx="79" cy="796.1" r="2.7"/><circle cx="76.6" cy="750.2" r="2.7"/><circle cx="74.2" cy="704.3" r="2.7"/><circle cx="93" cy="1065.2" r="2.7"/><circle cx="145.7" cy="1092.4" r="2.7"/><circle cx="198.3" cy="1119.5" r="2.7"/><circle cx="251" cy="1146.7" r="2.7"/><circle cx="303.6" cy="1173.8" r="2.7"/><circle cx="356.3" cy="1201" r="2.7"/><circle cx="423" cy="1167.5" r="2.7"/><circle cx="489.6" cy="1133.9" r="2.7"/><circle cx="556.3" cy="1100.3" r="2.7"/><circle cx="623" cy="1066.8" r="2.7"/></g>
<circle cx="76.7" cy="752" r="6" fill="#ffc9c9" stroke="#7d6060" stroke-width="1"/>
<line x1="359.7" y1="686" x2="359.7" y2="698" stroke="#333" stroke-width="1.4"/><circle cx="359.7" cy="686" r="6" fill="#c40000" stroke="#4a0808" stroke-width="1"/>
<line x1="356.3" y1="1057.3" x2="356.3" y2="1034" stroke="#333" stroke-width="1.4"/><circle cx="356.3" cy="1057.3" r="6" fill="#ffc9c9" stroke="#7d6060" stroke-width="1"/>
<clipPath id="cp_d"><path d="M76.3 742.6L88.5 744.9L100.9 748.4L113.5 753.1L126.3 759.1L139.4 766.4L152.6 774.9L166.1 784.7L179.7 795.8L193.6 808.2L207.6 822L221.8 837.2L236.2 853.6L250.7 871.5L265.3 890.7L280.2 911.3L295.1 933.3L310.2 956.7L325.4 981.4L340.7 1007.5L356.1 1035L386.9 1024.6L431.6 1010.1L460.3 1001.1L502 988.6L528.8 980.8L567.7 969.9L592.8 963.3L629.1 954L615 929.8L600.9 906.8L586.9 885L572.8 864.3L558.9 844.9L545 826.7L531.1 809.8L517.3 794L503.6 779.4L489.9 766L476.4 753.8L462.9 742.7L449.6 732.9L436.4 724.2L423.2 716.6L410.2 710.2L397.4 704.9L384.6 700.7L372 697.6L359.6 695.6L347 697L308.3 701.9L281.7 705.6L240.6 711.8L212.4 716.4L168.7 724.2L138.6 729.9Z"/></clipPath>
<g clip-path="url(#cp_d)"><g filter="url(#sm)">
<path d="M347.3 694.6l12.3 1 12.4 -1.4 -12.3 -1z" fill="#ff9c37"/>
<path d="M334.7 696l12.3 1 12.6 -1.4 -12.3 -1z" fill="#ff9537"/>
<path d="M359.6 695.6l12.4 2 12.5 -1.4 -12.5 -2z" fill="#ff9537"/>
<path d="M372 697.6l12.6 3.1 12.5 -1.4 -12.6 -3.1z" fill="#ff9237"/>
<path d="M321.9 697.5l12.3 1 12.8 -1.5 -12.3 -1z" fill="#ff8e37"/>
<path d="M384.6 700.7l12.8 4.2 12.4 -1.4 -12.7 -4.2z" fill="#ff9237"/>
<path d="M309 699.2l12.3 1 12.9 -1.7 -12.3 -1z" fill="#ff8537"/>
<path d="M397.4 704.9l12.8 5.3 12.5 -1.4 -12.9 -5.3z" fill="#ff9637"/>
<path d="M296 700.9l12.3 1 13 -1.7 -12.3 -1z" fill="#ff7b37"/>
<path d="M410.2 710.2l13 6.4 12.4 -1.5 -12.9 -6.3z" fill="#ff9d37"/>
<path d="M282.8 702.6l12.3 1.1 13.2 -1.8 -12.3 -1z" fill="#ff7237"/>
<path d="M423.2 716.6l13.2 7.6 12.3 -1.5 -13.1 -7.6z" fill="#ffa837"/>
<path d="M269.4 704.5l12.3 1.1 13.4 -1.9 -12.3 -1.1z" fill="#ff6a37"/>
<path d="M436.4 724.2l13.2 8.7 12.4 -1.6 -13.3 -8.6z" fill="#ffb535"/>
<path d="M255.9 706.5l12.3 1 13.5 -1.9 -12.3 -1.1z" fill="#ff6236"/>
<path d="M449.6 732.9l13.3 9.8 12.4 -1.6 -13.3 -9.8z" fill="#ffc632"/>
<path d="M462.9 742.7l13.5 11.1 12.3 -1.7 -13.4 -11z" fill="#ffdd2f"/>
<path d="M242.2 708.6l12.3 1 13.7 -2.1 -12.3 -1z" fill="#ff5a34"/>
<path d="M476.4 753.8l13.5 12.2 12.3 -1.8 -13.5 -12.1z" fill="#fff82c"/>
<path d="M228.4 710.7l12.2 1.1 13.9 -2.2 -12.3 -1z" fill="#ff5233"/>
<path d="M489.9 766l13.7 13.4 12.2 -1.9 -13.6 -13.3z" fill="#ceff24"/>
<path d="M214.3 713l12.3 1.1 14 -2.3 -12.2 -1.1z" fill="#ff4c32"/>
<path d="M503.6 779.4l13.7 14.6 12.2 -2 -13.7 -14.5z" fill="#a1fb21"/>
<path d="M517.3 794l13.8 15.8 12.2 -2.1 -13.8 -15.7z" fill="#71f91e"/>
<path d="M200.2 715.4l12.2 1 14.2 -2.3 -12.3 -1.1z" fill="#ff4932"/>
<path d="M531.1 809.8l13.9 16.9 12.1 -2.1 -13.8 -16.9z" fill="#3ff71d"/>
<path d="M545 826.7l13.9 18.2 12.1 -2.2 -13.9 -18.1z" fill="#1ef52d"/>
<path d="M185.8 717.8l12.2 1.1 14.4 -2.5 -12.2 -1z" fill="#ff4531"/>
<path d="M558.9 844.9l13.9 19.4 12.1 -2.3 -13.9 -19.3z" fill="#0df665"/>
<path d="M572.8 864.3l14.1 20.7 11.9 -2.5 -13.9 -20.5z" fill="#02f7af"/>
<path d="M171.3 720.4l12.1 1.1 14.6 -2.6 -12.2 -1.1z" fill="#ff4231"/>
<path d="M586.9 885l14 21.8 11.9 -2.6 -14 -21.7z" fill="#00e4ed"/>
<path d="M600.9 906.8l14.1 23 11.9 -2.7 -14.1 -22.9z" fill="#0ba7ff"/>
<path d="M156.5 723.1l12.2 1.1 14.7 -2.7 -12.1 -1.1z" fill="#ff3f30"/>
<path d="M615 929.8l14.1 24.2 11.8 -2.9 -14 -24z" fill="#005bfa"/>
<path d="M629.1 954l14.1 25.4 11.7 -3 -14 -25.3z" fill="#0000bc"/>
<path d="M141.6 725.9l12.1 1.1 15 -2.8 -12.2 -1.1z" fill="#ff3c30"/>
<path d="M617.1 957l14.2 25.5 11.9 -3.1 -14.1 -25.4z" fill="#0001c1"/>
<path d="M126.5 728.7l12.1 1.2 15.1 -2.9 -12.1 -1.1z" fill="#ff3a2f"/>
<path d="M605 960.1l14.3 25.7 12 -3.3 -14.2 -25.5z" fill="#000aca"/>
<path d="M111.3 731.7l12 1.2 15.3 -3 -12.1 -1.2z" fill="#ff372f"/>
<path d="M592.8 963.3l14.3 25.8 12.2 -3.3 -14.3 -25.7z" fill="#0013d4"/>
<path d="M95.8 734.9l12 1.1 15.5 -3.1 -12 -1.2z" fill="#ff352f"/>
<path d="M580.3 966.5l14.4 26.1 12.4 -3.5 -14.3 -25.8z" fill="#0021e0"/>
<path d="M80.2 738.1l12 1.1 15.6 -3.2 -12 -1.1z" fill="#ff332e"/>
<path d="M567.7 969.9l14.4 26.2 12.6 -3.5 -14.4 -26.1z" fill="#002eec"/>
<path d="M64.3 741.4l12 1.2 15.9 -3.4 -12 -1.1z" fill="#ff332e"/>
<path d="M554.9 973.4l14.5 26.4 12.7 -3.7 -14.4 -26.2z" fill="#003bf5"/>
<path d="M48.3 744.9l11.9 1.1 16.1 -3.4 -12 -1.2z" fill="#ff332e"/>
<path d="M541.9 977l14.6 26.6 12.9 -3.8 -14.5 -26.4z" fill="#0047f7"/>
<path d="M60.2 746l12.1 2.4 16.2 -3.5 -12.2 -2.3z" fill="#ff332e"/>
<path d="M528.8 980.8l14.7 26.7 13 -3.9 -14.6 -26.6z" fill="#0053f9"/>
<path d="M72.3 748.4l12.4 3.5 16.2 -3.5 -12.4 -3.5z" fill="#ff332e"/>
<path d="M515.5 984.6l14.7 26.9 13.3 -4 -14.7 -26.7z" fill="#005efb"/>
<path d="M84.7 751.9l12.6 4.8 16.2 -3.6 -12.6 -4.7z" fill="#ff332e"/>
<path d="M502 988.6l14.8 27 13.4 -4.1 -14.7 -26.9z" fill="#0069fd"/>
<path d="M97.3 756.7l12.9 6 16.1 -3.6 -12.8 -6z" fill="#ff332e"/>
<path d="M110.2 762.7l13 7.3 16.2 -3.6 -13.1 -7.3z" fill="#ff332e"/>
<path d="M488.3 992.6l14.9 27.2 13.6 -4.2 -14.8 -27z" fill="#0073fe"/>
<path d="M123.2 770l13.2 8.6 16.2 -3.7 -13.2 -8.5z" fill="#ff332e"/>
<path d="M474.4 996.8l14.9 27.4 13.9 -4.4 -14.9 -27.2z" fill="#017bff"/>
<path d="M136.4 778.6l13.5 9.8 16.2 -3.7 -13.5 -9.8z" fill="#ff3c2f"/>
<path d="M460.3 1001.1l15 27.6 14 -4.5 -14.9 -27.4z" fill="#0281ff"/>
<path d="M149.9 788.4l13.6 11.2 16.3 -3.8 -13.7 -11.1z" fill="#ff452e"/>
<path d="M446.1 1005.6l15 27.7 14.2 -4.6 -15 -27.6z" fill="#0487ff"/>
<path d="M163.5 799.6l13.9 12.5 16.2 -3.9 -13.8 -12.4z" fill="#ff5b2f"/>
<path d="M177.4 812.1l14 13.9 16.2 -4 -14 -13.8z" fill="#ff7c2e"/>
<path d="M431.6 1010.1l15.1 27.9 14.4 -4.7 -15 -27.7z" fill="#058dff"/>
<path d="M191.4 826l14.2 15.2 16.2 -4 -14.2 -15.2z" fill="#ff9b2b"/>
<path d="M416.9 1014.8l15.2 28.1 14.6 -4.9 -15.1 -27.9z" fill="#0693ff"/>
<path d="M205.6 841.2l14.4 16.6 16.2 -4.2 -14.4 -16.4z" fill="#ffbb28"/>
<path d="M220 857.8l14.6 18 16.1 -4.3 -14.5 -17.9z" fill="#ffe125"/>
<path d="M402 1019.7l15.3 28.2 14.8 -5 -15.2 -28.1z" fill="#0798ff"/>
<path d="M234.6 875.8l14.7 19.4 16 -4.5 -14.6 -19.2z" fill="#e6ff1f"/>
<path d="M386.9 1024.6l15.4 28.5 15 -5.2 -15.3 -28.2z" fill="#089dff"/>
<path d="M249.3 895.2l14.8 20.7 16.1 -4.6 -14.9 -20.6z" fill="#a1fc1a"/>
<path d="M264.1 915.9l15 22.1 16 -4.7 -14.9 -22z" fill="#64f91a"/>
<path d="M371.6 1029.7l15.4 28.7 15.3 -5.3 -15.4 -28.5z" fill="#0aa2ff"/>
<path d="M279.1 938l15.1 23.5 16 -4.8 -15.1 -23.4z" fill="#31f622"/>
<path d="M294.2 961.5l15.3 24.9 15.9 -5 -15.2 -24.7z" fill="#12f546"/>
<path d="M356.1 1035l15.4 28.8 15.5 -5.4 -15.4 -28.7z" fill="#0ba7ff"/>
<path d="M309.5 986.4l15.3 26.3 15.9 -5.2 -15.3 -26.1z" fill="#05f799"/>
<path d="M324.8 1012.7l15.5 27.7 15.8 -5.4 -15.4 -27.5z" fill="#00ece6"/>
<path d="M340.3 1040.4l15.5 29 15.7 -5.6 -15.4 -28.8z" fill="#0cabff"/>
<path d="M347 697l12.4 2.1 12.6 -1.5 -12.4 -2z" fill="#ff8e37"/>
<path d="M359.4 699.1l12.6 3.1 12.6 -1.5 -12.6 -3.1z" fill="#ff8937"/>
<path d="M334.2 698.5l12.5 2.1 12.7 -1.5 -12.4 -2.1z" fill="#ff8437"/>
<path d="M372 702.2l12.8 4.2 12.6 -1.5 -12.8 -4.2z" fill="#ff8937"/>
<path d="M346.7 700.6l12.6 3.1 12.7 -1.5 -12.6 -3.1z" fill="#ff7f37"/>
<path d="M321.3 700.2l12.5 2 12.9 -1.6 -12.5 -2.1z" fill="#ff7b37"/>
<path d="M384.8 706.4l12.9 5.3 12.5 -1.5 -12.8 -5.3z" fill="#ff8e37"/>
<path d="M359.3 703.7l12.7 4.3 12.8 -1.6 -12.8 -4.2z" fill="#ff7f37"/>
<path d="M333.8 702.2l12.6 3.2 12.9 -1.7 -12.6 -3.1z" fill="#ff7637"/>
<path d="M308.3 701.9l12.4 2.1 13.1 -1.8 -12.5 -2z" fill="#ff7137"/>
<path d="M397.7 711.7l13 6.5 12.5 -1.6 -13 -6.4z" fill="#ff9637"/>
<path d="M372 708l12.9 5.4 12.8 -1.7 -12.9 -5.3z" fill="#ff8537"/>
<path d="M346.4 705.4l12.7 4.3 12.9 -1.7 -12.7 -4.3z" fill="#ff7637"/>
<path d="M320.7 704l12.6 3.1 13.1 -1.7 -12.6 -3.2z" fill="#ff6c37"/>
<path d="M295.1 703.7l12.4 2.1 13.2 -1.8 -12.4 -2.1z" fill="#ff6837"/>
<path d="M410.7 718.2l13.1 7.6 12.6 -1.6 -13.2 -7.6z" fill="#ffa037"/>
<path d="M384.9 713.4l13 6.4 12.8 -1.6 -13 -6.5z" fill="#ff8e37"/>
<path d="M359.1 709.7l12.9 5.4 12.9 -1.7 -12.9 -5.4z" fill="#ff7b37"/>
<path d="M333.3 707.1l12.8 4.3 13 -1.7 -12.7 -4.3z" fill="#ff6c37"/>
<path d="M307.5 705.8l12.6 3.2 13.2 -1.9 -12.6 -3.1z" fill="#ff6336"/>
<path d="M281.7 705.6l12.4 2.1 13.4 -1.9 -12.4 -2.1z" fill="#ff6035"/>
<path d="M423.8 725.8l13.3 8.7 12.5 -1.6 -13.2 -8.7z" fill="#ffad35"/>
<path d="M397.9 719.8l13.2 7.7 12.7 -1.7 -13.1 -7.6z" fill="#ff9937"/>
<path d="M372 715.1l13.1 6.5 12.8 -1.8 -13 -6.4z" fill="#ff8537"/>
<path d="M346.1 711.4l12.9 5.5 13 -1.8 -12.9 -5.4z" fill="#ff7137"/>
<path d="M320.1 709l12.8 4.3 13.2 -1.9 -12.8 -4.3z" fill="#ff6336"/>
<path d="M294.1 707.7l12.6 3.2 13.4 -1.9 -12.6 -3.2z" fill="#ff5b35"/>
<path d="M268.2 707.5l12.4 2.2 13.5 -2 -12.4 -2.1z" fill="#ff5734"/>
<path d="M437.1 734.5l13.3 10 12.5 -1.8 -13.3 -9.8z" fill="#ffbf32"/>
<path d="M411.1 727.5l13.3 8.8 12.7 -1.8 -13.3 -8.7z" fill="#ffa635"/>
<path d="M385.1 721.6l13.1 7.7 12.9 -1.8 -13.2 -7.7z" fill="#ff9237"/>
<path d="M359 716.9l13 6.5 13.1 -1.8 -13.1 -6.5z" fill="#ff7c37"/>
<path d="M332.9 713.3l12.9 5.4 13.2 -1.8 -12.9 -5.5z" fill="#ff6836"/>
<path d="M306.7 710.9l12.8 4.3 13.4 -1.9 -12.8 -4.3z" fill="#ff5a35"/>
<path d="M450.4 744.5l13.5 11.1 12.5 -1.8 -13.5 -11.1z" fill="#ffd52f"/>
<path d="M280.6 709.7l12.6 3.2 13.5 -2 -12.6 -3.2z" fill="#ff5233"/>
<path d="M254.5 709.6l12.4 2.2 13.7 -2.1 -12.4 -2.2z" fill="#ff4f33"/>
<path d="M424.4 736.3l13.4 10 12.6 -1.8 -13.3 -10z" fill="#ffb732"/>
<path d="M398.2 729.3l13.3 8.8 12.9 -1.8 -13.3 -8.8z" fill="#ff9f35"/>
<path d="M372 723.4l13.2 7.8 13 -1.9 -13.1 -7.7z" fill="#ff8b37"/>
<path d="M463.9 755.6l13.6 12.2 12.4 -1.8 -13.5 -12.2z" fill="#fff02c"/>
<path d="M345.8 718.7l13 6.6 13.2 -1.9 -13 -6.5z" fill="#ff7237"/>
<path d="M319.5 715.2l12.9 5.5 13.4 -2 -12.9 -5.4z" fill="#ff5f35"/>
<path d="M293.2 712.9l12.7 4.4 13.6 -2.1 -12.8 -4.3z" fill="#ff5233"/>
<path d="M437.8 746.3l13.5 11.1 12.6 -1.8 -13.5 -11.1z" fill="#ffcd2f"/>
<path d="M266.9 711.8l12.6 3.2 13.7 -2.1 -12.6 -3.2z" fill="#ff4c32"/>
<path d="M240.6 711.8l12.4 2.1 13.9 -2.1 -12.4 -2.2z" fill="#ff4b32"/>
<path d="M411.5 738.1l13.5 10.1 12.8 -1.9 -13.4 -10z" fill="#ffb032"/>
<path d="M477.5 767.8l13.7 13.5 12.4 -1.9 -13.7 -13.4z" fill="#dfff26"/>
<path d="M385.2 731.2l13.3 8.9 13 -2 -13.3 -8.8z" fill="#ff9935"/>
<path d="M358.8 725.3l13.2 7.8 13.2 -1.9 -13.2 -7.8z" fill="#ff8237"/>
<path d="M451.3 757.4l13.6 12.4 12.6 -2 -13.6 -12.2z" fill="#ffe82c"/>
<path d="M332.4 720.7l13.1 6.7 13.3 -2.1 -13 -6.6z" fill="#ff6a37"/>
<path d="M305.9 717.3l13 5.5 13.5 -2.1 -12.9 -5.5z" fill="#ff5734"/>
<path d="M279.5 715l12.7 4.4 13.7 -2.1 -12.7 -4.4z" fill="#ff4c32"/>
<path d="M253 713.9l12.6 3.3 13.9 -2.2 -12.6 -3.2z" fill="#ff4832"/>
<path d="M226.6 714.1l12.4 2.1 14 -2.3 -12.4 -2.1z" fill="#ff4732"/>
<path d="M425 748.2l13.5 11.2 12.8 -2 -13.5 -11.1z" fill="#ffc52f"/>
<path d="M491.2 781.3l13.7 14.7 12.4 -2 -13.7 -14.6z" fill="#acfc21"/>
<path d="M398.5 740.1l13.5 10.1 13 -2 -13.5 -10.1z" fill="#ffa932"/>
<path d="M464.9 769.8l13.7 13.5 12.6 -2 -13.7 -13.5z" fill="#efff28"/>
<path d="M372 733.1l13.4 9 13.1 -2 -13.3 -8.9z" fill="#ff9235"/>
<path d="M345.5 727.4l13.2 7.8 13.3 -2.1 -13.2 -7.8z" fill="#ff7937"/>
<path d="M504.9 796l13.9 15.9 12.3 -2.1 -13.8 -15.8z" fill="#7bf91e"/>
<path d="M438.5 759.4l13.6 12.4 12.8 -2 -13.6 -12.4z" fill="#ffe02c"/>
<path d="M318.9 722.8l13 6.7 13.6 -2.1 -13.1 -6.7z" fill="#ff6135"/>
<path d="M292.2 719.4l13 5.6 13.7 -2.2 -13 -5.5z" fill="#ff4f33"/>
<path d="M265.6 717.2l12.7 4.4 13.9 -2.2 -12.7 -4.4z" fill="#ff4832"/>
<path d="M212.4 716.4l12.3 2.2 14.3 -2.4 -12.4 -2.1z" fill="#ff4331"/>
<path d="M239 716.2l12.5 3.3 14.1 -2.3 -12.6 -3.3z" fill="#ff4431"/>
<path d="M412 750.2l13.5 11.2 13 -2 -13.5 -11.2z" fill="#ffbe2f"/>
<path d="M478.6 783.3l13.8 14.8 12.5 -2.1 -13.7 -14.7z" fill="#b6fd21"/>
<path d="M385.4 742.1l13.4 10.1 13.2 -2 -13.5 -10.1z" fill="#ffa332"/>
<path d="M518.8 811.9l13.9 17.1 12.3 -2.3 -13.9 -16.9z" fill="#47f81b"/>
<path d="M452.1 771.8l13.8 13.6 12.7 -2.1 -13.7 -13.5z" fill="#feff29"/>
<path d="M358.7 735.2l13.3 9 13.4 -2.1 -13.4 -9z" fill="#ff8c35"/>
<path d="M331.9 729.5l13.3 7.8 13.5 -2.1 -13.2 -7.8z" fill="#ff7037"/>
<path d="M492.4 798.1l13.9 16 12.5 -2.2 -13.9 -15.9z" fill="#84fa1e"/>
<path d="M425.5 761.4l13.7 12.5 12.9 -2.1 -13.6 -12.4z" fill="#ffd82c"/>
<path d="M305.2 725l13 6.7 13.7 -2.2 -13 -6.7z" fill="#ff5934"/>
<path d="M532.7 829l13.9 18.3 12.3 -2.4 -13.9 -18.2z" fill="#24f62a"/>
<path d="M278.3 721.6l13 5.6 13.9 -2.2 -13 -5.6z" fill="#ff4a32"/>
<path d="M251.5 719.5l12.8 4.5 14 -2.4 -12.7 -4.4z" fill="#ff4431"/>
<path d="M198 718.9l12.3 2.2 14.4 -2.5 -12.3 -2.2z" fill="#ff4030"/>
<path d="M224.7 718.6l12.6 3.3 14.2 -2.4 -12.5 -3.3z" fill="#ff4131"/>
<path d="M398.8 752.2l13.6 11.4 13.1 -2.2 -13.5 -11.2z" fill="#ffb72f"/>
<path d="M465.9 785.4l13.8 14.9 12.7 -2.2 -13.8 -14.8z" fill="#c0fe21"/>
<path d="M372 744.2l13.5 10.2 13.3 -2.2 -13.4 -10.1z" fill="#ff9c32"/>
<path d="M506.3 814.1l13.9 17.2 12.5 -2.3 -13.9 -17.1z" fill="#50f81b"/>
<path d="M546.6 847.3l14.1 19.5 12.1 -2.5 -13.9 -19.4z" fill="#0ff659"/>
<path d="M439.2 773.9l13.8 13.8 12.9 -2.3 -13.8 -13.6z" fill="#fff829"/>
<path d="M345.2 737.3l13.3 9.1 13.5 -2.2 -13.3 -9z" fill="#ff8335"/>
<path d="M318.2 731.7l13.3 7.9 13.7 -2.3 -13.3 -7.8z" fill="#ff6836"/>
<path d="M479.7 800.3l13.9 16.1 12.7 -2.3 -13.9 -16z" fill="#8dfa1e"/>
<path d="M412.4 763.6l13.7 12.6 13.1 -2.3 -13.7 -12.5z" fill="#ffd12c"/>
<path d="M291.3 727.2l13.1 6.8 13.8 -2.3 -13 -6.7z" fill="#ff5133"/>
<path d="M520.2 831.3l14 18.4 12.4 -2.4 -13.9 -18.3z" fill="#29f627"/>
<path d="M264.3 724l12.9 5.6 14.1 -2.4 -13 -5.6z" fill="#ff4631"/>
<path d="M560.7 866.8l14 20.7 12.2 -2.5 -14.1 -20.7z" fill="#04f7a3"/>
<path d="M237.3 721.9l12.8 4.5 14.2 -2.4 -12.8 -4.5z" fill="#ff4030"/>
<path d="M183.4 721.5l12.4 2.2 14.5 -2.6 -12.3 -2.2z" fill="#ff3d30"/>
<path d="M210.3 721.1l12.6 3.3 14.4 -2.5 -12.6 -3.3z" fill="#ff3d30"/>
<path d="M385.5 754.4l13.6 11.4 13.3 -2.2 -13.6 -11.4z" fill="#ffb12f"/>
<path d="M453 787.7l13.8 14.9 12.9 -2.3 -13.8 -14.9z" fill="#caff22"/>
<path d="M358.5 746.4l13.5 10.3 13.5 -2.3 -13.5 -10.2z" fill="#ff9632"/>
<path d="M493.6 816.4l14 17.3 12.6 -2.4 -13.9 -17.2z" fill="#5af81b"/>
<path d="M574.7 887.5l14.1 22 12.1 -2.7 -14 -21.8z" fill="#00ebe7"/>
<path d="M534.2 849.7l14.1 19.6 12.4 -2.5 -14.1 -19.5z" fill="#11f64e"/>
<path d="M426.1 776.2l13.8 13.8 13.1 -2.3 -13.8 -13.8z" fill="#fff02a"/>
<path d="M331.5 739.6l13.3 9.1 13.7 -2.3 -13.3 -9.1z" fill="#ff7a35"/>
<path d="M304.4 734l13.2 7.9 13.9 -2.3 -13.3 -7.9z" fill="#ff6035"/>
<path d="M466.8 802.6l14 16.2 12.8 -2.4 -13.9 -16.1z" fill="#97fb1f"/>
<path d="M399.1 765.8l13.7 12.7 13.3 -2.3 -13.7 -12.6z" fill="#ffca2d"/>
<path d="M277.2 729.6l13.1 6.8 14.1 -2.4 -13.1 -6.8z" fill="#ff4c32"/>
<path d="M588.8 909.5l14.2 23.1 12 -2.8 -14.1 -23z" fill="#0db0ff"/>
<path d="M250.1 726.4l12.9 5.7 14.2 -2.5 -12.9 -5.6z" fill="#ff4331"/>
<path d="M507.6 833.7l14.1 18.5 12.5 -2.5 -14 -18.4z" fill="#2ff624"/>
<path d="M548.3 869.3l14.1 20.9 12.3 -2.7 -14 -20.7z" fill="#06f798"/>
<path d="M222.9 724.4l12.7 4.5 14.5 -2.5 -12.8 -4.5z" fill="#ff3d30"/>
<path d="M168.7 724.2l12.3 2.2 14.8 -2.7 -12.4 -2.2z" fill="#ff3a2f"/>
<path d="M195.8 723.7l12.5 3.3 14.6 -2.6 -12.6 -3.3z" fill="#ff3a2f"/>
<path d="M372 756.7l13.6 11.5 13.5 -2.4 -13.6 -11.4z" fill="#ffaa30"/>
<path d="M439.9 790l13.9 15 13 -2.4 -13.8 -14.9z" fill="#d6ff22"/>
<path d="M603 932.6l14.1 24.4 12 -3 -14.1 -24.2z" fill="#0069fd"/>
<path d="M344.8 748.7l13.6 10.3 13.6 -2.3 -13.5 -10.3z" fill="#ff9033"/>
<path d="M480.8 818.8l14 17.4 12.8 -2.5 -14 -17.3z" fill="#63f91c"/>
<path d="M562.4 890.2l14.2 22.1 12.2 -2.8 -14.1 -22z" fill="#00f0e2"/>
<path d="M521.7 852.2l14.1 19.7 12.5 -2.6 -14.1 -19.6z" fill="#12f543"/>
<path d="M412.8 778.5l13.9 13.9 13.2 -2.4 -13.8 -13.8z" fill="#ffe92a"/>
<path d="M317.6 741.9l13.4 9.2 13.8 -2.4 -13.3 -9.1z" fill="#ff7235"/>
<path d="M290.3 736.4l13.2 8 14.1 -2.5 -13.2 -7.9z" fill="#ff5834"/>
<path d="M453.8 805l14 16.2 13 -2.4 -14 -16.2z" fill="#a1fb1f"/>
<path d="M385.6 768.2l13.8 12.7 13.4 -2.4 -13.7 -12.7z" fill="#ffc32d"/>
<path d="M263 732.1l13.1 6.8 14.2 -2.5 -13.1 -6.8z" fill="#ff4832"/>
<path d="M576.6 912.3l14.2 23.3 12.2 -3 -14.2 -23.1z" fill="#0ab9fd"/>
<path d="M235.6 728.9l13 5.7 14.4 -2.5 -12.9 -5.7z" fill="#ff3f30"/>
<path d="M494.8 836.2l14.1 18.6 12.8 -2.6 -14.1 -18.5z" fill="#34f721"/>
<path d="M208.3 727l12.7 4.6 14.6 -2.7 -12.7 -4.5z" fill="#ff3a2f"/>
<path d="M535.8 871.9l14.2 21 12.4 -2.7 -14.1 -20.9z" fill="#07f78d"/>
<path d="M153.7 727l12.4 2.2 14.9 -2.8 -12.3 -2.2z" fill="#ff372f"/>
<path d="M181 726.4l12.5 3.4 14.8 -2.8 -12.5 -3.3z" fill="#ff372f"/>
<path d="M358.4 759l13.6 11.6 13.6 -2.4 -13.6 -11.5z" fill="#ffa430"/>
<path d="M426.7 792.4l13.9 15.1 13.2 -2.5 -13.9 -15z" fill="#e4ff24"/>
<path d="M590.8 935.6l14.2 24.5 12.1 -3.1 -14.1 -24.4z" fill="#0076ff"/>
<path d="M331 751.1l13.5 10.4 13.9 -2.5 -13.6 -10.3z" fill="#ff8a33"/>
<path d="M467.8 821.2l14.1 17.6 12.9 -2.6 -14 -17.4z" fill="#6cf91c"/>
<path d="M550 892.9l14.2 22.3 12.4 -2.9 -14.2 -22.1z" fill="#00f3d9"/>
<path d="M508.9 854.8l14.2 19.9 12.7 -2.8 -14.1 -19.7z" fill="#14f538"/>
<path d="M399.4 780.9l13.9 14 13.4 -2.5 -13.9 -13.9z" fill="#ffe22a"/>
<path d="M303.5 744.4l13.4 9.2 14.1 -2.5 -13.4 -9.2z" fill="#ff6b35"/>
<path d="M276.1 738.9l13.2 8.1 14.2 -2.6 -13.2 -8z" fill="#ff5133"/>
<path d="M440.6 807.5l14 16.3 13.2 -2.6 -14 -16.2z" fill="#aafc1f"/>
<path d="M248.6 734.6l13 6.9 14.5 -2.6 -13.1 -6.8z" fill="#ff4431"/>
<path d="M372 770.6l13.8 12.8 13.6 -2.5 -13.8 -12.7z" fill="#ffbd2d"/>
<path d="M564.2 915.2l14.3 23.4 12.3 -3 -14.2 -23.3z" fill="#08c2fb"/>
<path d="M221 731.6l13 5.7 14.6 -2.7 -13 -5.7z" fill="#ff3c30"/>
<path d="M193.5 729.8l12.8 4.5 14.7 -2.7 -12.7 -4.6z" fill="#ff362f"/>
<path d="M481.9 838.8l14.1 18.7 12.9 -2.7 -14.1 -18.6z" fill="#39f71e"/>
<path d="M138.6 729.9l12.3 2.2 15.2 -2.9 -12.4 -2.2z" fill="#ff342e"/>
<path d="M166.1 729.2l12.5 3.4 14.9 -2.8 -12.5 -3.4z" fill="#ff342e"/>
<path d="M523.1 874.7l14.2 21.1 12.7 -2.9 -14.2 -21z" fill="#09f783"/>
<path d="M344.5 761.5l13.7 11.6 13.8 -2.5 -13.6 -11.6z" fill="#ff9e30"/>
<path d="M413.3 794.9l13.9 15.2 13.4 -2.6 -13.9 -15.1z" fill="#f2ff25"/>
<path d="M578.5 938.6l14.3 24.7 12.2 -3.2 -14.2 -24.5z" fill="#027fff"/>
<path d="M316.9 753.6l13.6 10.5 14 -2.6 -13.5 -10.4z" fill="#ff8233"/>
<path d="M454.6 823.8l14.2 17.6 13.1 -2.6 -14.1 -17.6z" fill="#74f91c"/>
<path d="M537.3 895.8l14.3 22.3 12.6 -2.9 -14.2 -22.3z" fill="#00f4cf"/>
<path d="M496 857.5l14.3 20 12.8 -2.8 -14.2 -19.9z" fill="#17f531"/>
<path d="M289.3 747l13.4 9.2 14.2 -2.6 -13.4 -9.2z" fill="#ff6334"/>
<path d="M385.8 783.4l13.9 14.1 13.6 -2.6 -13.9 -14z" fill="#ffdb2a"/>
<path d="M261.6 741.5l13.3 8.1 14.4 -2.6 -13.2 -8.1z" fill="#ff4c32"/>
<path d="M234 737.3l13 6.9 14.6 -2.7 -13 -6.9z" fill="#ff4131"/>
<path d="M427.2 810.1l14.1 16.4 13.3 -2.7 -14 -16.3z" fill="#b3fd1f"/>
<path d="M358.2 773.1l13.8 12.9 13.8 -2.6 -13.8 -12.8z" fill="#ffb72d"/>
<path d="M206.3 734.3l12.9 5.8 14.8 -2.8 -13 -5.7z" fill="#ff392f"/>
<path d="M551.6 918.1l14.4 23.6 12.5 -3.1 -14.3 -23.4z" fill="#05caf9"/>
<path d="M178.6 732.6l12.7 4.6 15 -2.9 -12.8 -4.5z" fill="#ff332e"/>
<path d="M123.3 732.9l12.3 2.2 15.3 -3 -12.3 -2.2z" fill="#ff332e"/>
<path d="M150.9 732.1l12.5 3.4 15.2 -2.9 -12.5 -3.4z" fill="#ff332e"/>
<path d="M468.8 841.4l14.2 18.9 13 -2.8 -14.1 -18.7z" fill="#3ef71b"/>
<path d="M510.3 877.5l14.3 21.3 12.7 -3 -14.2 -21.1z" fill="#0bf778"/>
<path d="M330.5 764.1l13.7 11.7 14 -2.7 -13.7 -11.6z" fill="#ff9930"/>
<path d="M399.7 797.5l14 15.3 13.5 -2.7 -13.9 -15.2z" fill="#fffe27"/>
<path d="M566 941.7l14.3 24.8 12.5 -3.2 -14.3 -24.7z" fill="#0387ff"/>
<path d="M302.7 756.2l13.6 10.6 14.2 -2.7 -13.6 -10.5z" fill="#ff7a33"/>
<path d="M441.3 826.5l14.2 17.7 13.3 -2.8 -14.2 -17.6z" fill="#7df91c"/>
<path d="M524.6 898.8l14.3 22.4 12.7 -3.1 -14.3 -22.3z" fill="#00f6c5"/>
<path d="M274.9 749.6l13.4 9.4 14.4 -2.8 -13.4 -9.2z" fill="#ff5c33"/>
<path d="M483 860.3l14.2 20.1 13.1 -2.9 -14.3 -20z" fill="#1cf52e"/>
<path d="M372 786l13.9 14.1 13.8 -2.6 -13.9 -14.1z" fill="#ffd42a"/>
<path d="M247 744.2l13.3 8.2 14.6 -2.8 -13.3 -8.1z" fill="#ff4832"/>
<path d="M219.2 740.1l13.1 6.9 14.7 -2.8 -13 -6.9z" fill="#ff3e30"/>
<path d="M344.2 775.8l13.8 12.9 14 -2.7 -13.8 -12.9z" fill="#ffb12d"/>
<path d="M413.7 812.8l14.1 16.5 13.5 -2.8 -14.1 -16.4z" fill="#bcfe1f"/>
<path d="M191.3 737.2l12.9 5.8 15 -2.9 -12.9 -5.8z" fill="#ff362f"/>
<path d="M538.9 921.2l14.4 23.8 12.7 -3.3 -14.4 -23.6z" fill="#03d3f7"/>
<path d="M107.8 736l12.3 2.3 15.5 -3.2 -12.3 -2.2z" fill="#ff332e"/>
<path d="M163.4 735.5l12.7 4.6 15.2 -2.9 -12.7 -4.6z" fill="#ff332e"/>
<path d="M135.6 735.1l12.5 3.5 15.3 -3.1 -12.5 -3.4z" fill="#ff332e"/>
<path d="M455.5 844.2l14.2 19 13.3 -2.9 -14.2 -18.9z" fill="#45f81a"/>
<path d="M497.2 880.4l14.4 21.4 13 -3 -14.3 -21.3z" fill="#0cf66e"/>
<path d="M316.3 766.8l13.7 11.7 14.2 -2.7 -13.7 -11.7z" fill="#ff9330"/>
<path d="M385.9 800.1l14.1 15.4 13.7 -2.7 -14 -15.3z" fill="#fff827"/>
<path d="M288.3 759l13.6 10.5 14.4 -2.7 -13.6 -10.6z" fill="#ff7333"/>
<path d="M553.3 945l14.4 24.9 12.6 -3.4 -14.3 -24.8z" fill="#058fff"/>
<path d="M427.8 829.3l14.2 17.8 13.5 -2.9 -14.2 -17.7z" fill="#85fa1c"/>
<path d="M511.6 901.8l14.4 22.6 12.9 -3.2 -14.3 -22.4z" fill="#00f7bc"/>
<path d="M260.3 752.4l13.4 9.4 14.6 -2.8 -13.4 -9.4z" fill="#ff5533"/>
<path d="M358 788.7l14 14.3 13.9 -2.9 -13.9 -14.1z" fill="#ffce2a"/>
<path d="M469.7 863.2l14.3 20.3 13.2 -3.1 -14.2 -20.1z" fill="#21f62c"/>
<path d="M232.3 747l13.2 8.3 14.8 -2.9 -13.3 -8.2z" fill="#ff4531"/>
<path d="M204.2 743l13.1 7 15 -3 -13.1 -6.9z" fill="#ff3a2f"/>
<path d="M330 778.5l13.9 13.1 14.1 -2.9 -13.8 -12.9z" fill="#ffab2d"/>
<path d="M400 815.5l14.1 16.7 13.7 -2.9 -14.1 -16.5z" fill="#c4fe1f"/>
<path d="M176.1 740.1l12.9 5.9 15.2 -3 -12.9 -5.8z" fill="#ff332e"/>
<path d="M92.2 739.2l12.2 2.3 15.7 -3.2 -12.3 -2.3z" fill="#ff332e"/>
<path d="M148.1 738.6l12.7 4.6 15.3 -3.1 -12.7 -4.6z" fill="#ff332e"/>
<path d="M526 924.4l14.4 23.9 12.9 -3.3 -14.4 -23.8z" fill="#00dbf5"/>
<path d="M120.1 738.3l12.4 3.4 15.6 -3.1 -12.5 -3.5z" fill="#ff332e"/>
<path d="M442 847.1l14.3 19.1 13.4 -3 -14.2 -19z" fill="#4df81a"/>
<path d="M484 883.5l14.4 21.5 13.2 -3.2 -14.4 -21.4z" fill="#0df664"/>
<path d="M301.9 769.5l13.7 11.9 14.4 -2.9 -13.7 -11.7z" fill="#ff8e30"/>
<path d="M372 803l14 15.4 14 -2.9 -14.1 -15.4z" fill="#fff127"/>
<path d="M273.7 761.8l13.6 10.6 14.6 -2.9 -13.6 -10.5z" fill="#ff6c33"/>
<path d="M540.4 948.3l14.5 25.1 12.8 -3.5 -14.4 -24.9z" fill="#0797ff"/>
<path d="M414.1 832.2l14.2 17.9 13.7 -3 -14.2 -17.8z" fill="#8cfa1c"/>
<path d="M245.5 755.3l13.5 9.4 14.7 -2.9 -13.4 -9.4z" fill="#ff4f32"/>
<path d="M498.4 905l14.5 22.7 13.1 -3.3 -14.4 -22.6z" fill="#01f7b2"/>
<path d="M343.9 791.6l13.9 14.3 14.2 -2.9 -14 -14.3z" fill="#ffc82a"/>
<path d="M456.3 866.2l14.4 20.4 13.3 -3.1 -14.3 -20.3z" fill="#26f629"/>
<path d="M217.3 750l13.2 8.2 15 -2.9 -13.2 -8.3z" fill="#ff4231"/>
<path d="M189 746l13.1 7 15.2 -3 -13.1 -7z" fill="#ff382f"/>
<path d="M315.6 781.4l13.9 13.1 14.4 -2.9 -13.9 -13.1z" fill="#ffa62d"/>
<path d="M386 818.4l14.2 16.8 13.9 -3 -14.1 -16.7z" fill="#ccff1f"/>
<path d="M160.8 743.2l12.8 5.9 15.4 -3.1 -12.9 -5.9z" fill="#ff332e"/>
<path d="M76.3 742.6l12.2 2.3 15.9 -3.4 -12.2 -2.3z" fill="#ff332e"/>
<path d="M132.5 741.7l12.7 4.7 15.6 -3.2 -12.7 -4.6z" fill="#ff332e"/>
<path d="M104.4 741.5l12.4 3.5 15.7 -3.3 -12.4 -3.4z" fill="#ff332e"/>
<path d="M512.9 927.7l14.5 24.1 13 -3.5 -14.4 -23.9z" fill="#00e0f0"/>
<path d="M428.3 850.1l14.4 19.3 13.6 -3.2 -14.3 -19.1z" fill="#55f81a"/>
<path d="M470.7 886.6l14.4 21.6 13.3 -3.2 -14.4 -21.5z" fill="#0ff65a"/>
<path d="M287.3 772.4l13.8 11.9 14.5 -2.9 -13.7 -11.9z" fill="#ff8930"/>
<path d="M357.8 805.9l14.1 15.5 14.1 -3 -14 -15.4z" fill="#ffeb27"/>
<path d="M259 764.7l13.6 10.7 14.7 -3 -13.6 -10.6z" fill="#ff6632"/>
<path d="M527.4 951.8l14.5 25.2 13 -3.6 -14.5 -25.1z" fill="#099eff"/>
<path d="M400.2 835.2l14.3 18.1 13.8 -3.2 -14.2 -17.9z" fill="#95fb1c"/>
<path d="M230.5 758.2l13.5 9.5 15 -3 -13.5 -9.4z" fill="#ff4b31"/>
<path d="M485.1 908.2l14.5 23 13.3 -3.5 -14.5 -22.7z" fill="#03f7a9"/>
<path d="M329.5 794.5l14 14.4 14.3 -3 -13.9 -14.3z" fill="#ffc22a"/>
<path d="M442.7 869.4l14.4 20.5 13.6 -3.3 -14.4 -20.4z" fill="#2af626"/>
<path d="M202.1 753l13.3 8.3 15.1 -3.1 -13.2 -8.2z" fill="#ff3f30"/>
<path d="M173.6 749.1l13.1 7.1 15.4 -3.2 -13.1 -7z" fill="#ff352f"/>
<path d="M301.1 784.3l13.9 13.2 14.5 -3 -13.9 -13.1z" fill="#ffa12d"/>
<path d="M371.9 821.4l14.3 16.9 14 -3.1 -14.2 -16.8z" fill="#d8ff20"/>
<path d="M145.2 746.4l12.9 5.9 15.5 -3.2 -12.8 -5.9z" fill="#ff332e"/>
<path d="M116.8 745l12.7 4.7 15.7 -3.3 -12.7 -4.7z" fill="#ff332e"/>
<path d="M88.5 744.9l12.4 3.5 15.9 -3.4 -12.4 -3.5z" fill="#ff332e"/>
<path d="M499.6 931.2l14.6 24.1 13.2 -3.5 -14.5 -24.1z" fill="#00e5ec"/>
<path d="M414.5 853.3l14.4 19.3 13.8 -3.2 -14.4 -19.3z" fill="#5cf81a"/>
<path d="M457.1 889.9l14.5 21.7 13.5 -3.4 -14.4 -21.6z" fill="#10f651"/>
<path d="M272.6 775.4l13.7 12 14.8 -3.1 -13.8 -11.9z" fill="#ff8230"/>
<path d="M343.5 808.9l14.2 15.7 14.2 -3.2 -14.1 -15.5z" fill="#ffe527"/>
<path d="M244 767.7l13.6 10.8 15 -3.1 -13.6 -10.7z" fill="#ff5f32"/>
<path d="M514.2 955.3l14.6 25.5 13.1 -3.8 -14.5 -25.2z" fill="#0aa5ff"/>
<path d="M386.2 838.3l14.3 18.2 14 -3.2 -14.3 -18.1z" fill="#9dfb1c"/>
<path d="M215.4 761.3l13.4 9.6 15.2 -3.2 -13.5 -9.5z" fill="#ff4831"/>
<path d="M315 797.5l14 14.5 14.5 -3.1 -14 -14.4z" fill="#ffbd2a"/>
<path d="M471.6 911.6l14.6 23.1 13.4 -3.5 -14.5 -23z" fill="#04f7a0"/>
<path d="M428.9 872.6l14.5 20.6 13.7 -3.3 -14.4 -20.5z" fill="#2ef624"/>
<path d="M186.7 756.2l13.3 8.3 15.4 -3.2 -13.3 -8.3z" fill="#ff3c30"/>
<path d="M158.1 752.3l13.1 7.2 15.5 -3.3 -13.1 -7.1z" fill="#ff332e"/>
<path d="M286.3 787.4l13.9 13.3 14.8 -3.2 -13.9 -13.2z" fill="#ff9c2d"/>
<path d="M129.5 749.7l12.8 6 15.8 -3.4 -12.9 -5.9z" fill="#ff332e"/>
<path d="M357.7 824.6l14.2 16.9 14.3 -3.2 -14.3 -16.9z" fill="#e4ff21"/>
<path d="M100.9 748.4l12.6 4.7 16 -3.4 -12.7 -4.7z" fill="#ff332e"/>
<path d="M486.2 934.7l14.6 24.3 13.4 -3.7 -14.6 -24.1z" fill="#00eae8"/>
<path d="M400.5 856.5l14.4 19.4 14 -3.3 -14.4 -19.3z" fill="#64f91a"/>
<path d="M443.4 893.2l14.5 21.9 13.7 -3.5 -14.5 -21.7z" fill="#11f548"/>
<path d="M257.6 778.5l13.8 12.1 14.9 -3.2 -13.7 -12z" fill="#ff7c30"/>
<path d="M329 812l14.2 15.8 14.5 -3.2 -14.2 -15.7z" fill="#ffdf27"/>
<path d="M228.8 770.9l13.6 10.8 15.2 -3.2 -13.6 -10.8z" fill="#ff5931"/>
<path d="M500.8 959l14.7 25.6 13.3 -3.8 -14.6 -25.5z" fill="#0cacff"/>
<path d="M371.9 841.5l14.4 18.3 14.2 -3.3 -14.3 -18.2z" fill="#a4fc1c"/>
<path d="M200 764.5l13.5 9.7 15.3 -3.3 -13.4 -9.6z" fill="#ff4530"/>
<path d="M300.2 800.7l14.1 14.5 14.7 -3.2 -14 -14.5z" fill="#ffb82a"/>
<path d="M457.9 915.1l14.7 23.2 13.6 -3.6 -14.6 -23.1z" fill="#06f797"/>
<path d="M414.9 875.9l14.6 20.8 13.9 -3.5 -14.5 -20.6z" fill="#33f721"/>
<path d="M171.2 759.5l13.2 8.4 15.6 -3.4 -13.3 -8.3z" fill="#ff392f"/>
<path d="M142.3 755.7l13.1 7.1 15.8 -3.3 -13.1 -7.2z" fill="#ff332e"/>
<path d="M113.5 753.1l12.8 6 16 -3.4 -12.8 -6z" fill="#ff332e"/>
<path d="M271.4 790.6l13.9 13.3 14.9 -3.2 -13.9 -13.3z" fill="#ff972d"/>
<path d="M343.2 827.8l14.3 17.1 14.4 -3.4 -14.2 -16.9z" fill="#efff23"/>
<path d="M472.6 938.3l14.6 24.5 13.6 -3.8 -14.6 -24.3z" fill="#00efe3"/>
<path d="M386.3 859.8l14.5 19.6 14.1 -3.5 -14.4 -19.4z" fill="#6bf91a"/>
<path d="M242.4 781.7l13.8 12.2 15.2 -3.3 -13.8 -12.1z" fill="#ff7530"/>
<path d="M429.5 896.7l14.6 22 13.8 -3.6 -14.5 -21.9z" fill="#13f53f"/>
<path d="M314.3 815.2l14.2 15.9 14.7 -3.3 -14.2 -15.8z" fill="#ffda27"/>
<path d="M213.5 774.2l13.6 10.9 15.3 -3.4 -13.6 -10.8z" fill="#ff5430"/>
<path d="M487.2 962.8l14.8 25.8 13.5 -4 -14.7 -25.6z" fill="#0cb3fe"/>
<path d="M357.5 844.9l14.4 18.4 14.4 -3.5 -14.4 -18.3z" fill="#acfc1c"/>
<path d="M184.4 767.9l13.5 9.6 15.6 -3.3 -13.5 -9.7z" fill="#ff4230"/>
<path d="M285.3 803.9l14.1 14.7 14.9 -3.4 -14.1 -14.5z" fill="#ffb32a"/>
<path d="M444.1 918.7l14.6 23.4 13.9 -3.8 -14.7 -23.2z" fill="#07f78e"/>
<path d="M400.8 879.4l14.5 20.9 14.2 -3.6 -14.6 -20.8z" fill="#37f71f"/>
<path d="M155.4 762.8l13.2 8.5 15.8 -3.4 -13.2 -8.4z" fill="#ff372f"/>
<path d="M126.3 759.1l13.1 7.3 16 -3.6 -13.1 -7.1z" fill="#ff332e"/>
<path d="M256.2 793.9l14 13.4 15.1 -3.4 -13.9 -13.3z" fill="#ff932d"/>
<path d="M328.5 831.1l14.3 17.2 14.7 -3.4 -14.3 -17.1z" fill="#faff24"/>
<path d="M458.7 942.1l14.8 24.6 13.7 -3.9 -14.6 -24.5z" fill="#00f3de"/>
<path d="M371.9 863.3l14.5 19.7 14.4 -3.6 -14.5 -19.6z" fill="#71f91a"/>
<path d="M227.1 785.1l13.8 12.2 15.3 -3.4 -13.8 -12.2z" fill="#ff6f30"/>
<path d="M415.3 900.3l14.7 22.2 14.1 -3.8 -14.6 -22z" fill="#14f536"/>
<path d="M299.4 818.6l14.2 16 14.9 -3.5 -14.2 -15.9z" fill="#ffd527"/>
<path d="M197.9 777.5l13.6 11 15.6 -3.4 -13.6 -10.9z" fill="#ff4e2f"/>
<path d="M473.5 966.7l14.8 25.9 13.7 -4 -14.8 -25.8z" fill="#0abafd"/>
<path d="M168.6 771.3l13.5 9.8 15.8 -3.6 -13.5 -9.6z" fill="#ff4030"/>
<path d="M342.8 848.3l14.5 18.5 14.6 -3.5 -14.4 -18.4z" fill="#b3fd1c"/>
<path d="M270.2 807.3l14.1 14.8 15.1 -3.5 -14.1 -14.7z" fill="#ffaf2a"/>
<path d="M430 922.5l14.7 23.4 14 -3.8 -14.6 -23.4z" fill="#09f786"/>
<path d="M386.4 883l14.6 21 14.3 -3.7 -14.5 -20.9z" fill="#3bf71d"/>
<path d="M139.4 766.4l13.2 8.5 16 -3.6 -13.2 -8.5z" fill="#ff352f"/>
<path d="M240.9 797.3l14 13.5 15.3 -3.5 -14 -13.4z" fill="#ff8f2d"/>
<path d="M313.6 834.6l14.4 17.3 14.8 -3.6 -14.3 -17.2z" fill="#fffc24"/>
<path d="M444.7 945.9l14.8 24.8 14 -4 -14.8 -24.6z" fill="#00f4d6"/>
<path d="M357.3 866.8l14.5 19.8 14.6 -3.6 -14.5 -19.7z" fill="#78f91a"/>
<path d="M211.5 788.5l13.8 12.3 15.6 -3.5 -13.8 -12.2z" fill="#ff6a31"/>
<path d="M401 904l14.7 22.3 14.3 -3.8 -14.7 -22.2z" fill="#17f532"/>
<path d="M284.3 822.1l14.3 16 15 -3.5 -14.2 -16z" fill="#ffd027"/>
<path d="M182.1 781.1l13.6 11 15.8 -3.6 -13.6 -11z" fill="#ff4a2f"/>
<path d="M459.5 970.7l14.9 26.1 13.9 -4.2 -14.8 -25.9z" fill="#08c1fb"/>
<path d="M152.6 774.9l13.5 9.8 16 -3.6 -13.5 -9.8z" fill="#ff3e2f"/>
<path d="M328 851.9l14.5 18.6 14.8 -3.7 -14.5 -18.5z" fill="#bafd1c"/>
<path d="M254.9 810.8l14.1 14.9 15.3 -3.6 -14.1 -14.8z" fill="#ffaa2b"/>
<path d="M415.7 926.3l14.8 23.6 14.2 -4 -14.7 -23.4z" fill="#0af77d"/>
<path d="M371.8 886.6l14.7 21.2 14.5 -3.8 -14.6 -21z" fill="#3ef71a"/>
<path d="M225.3 800.8l14 13.6 15.6 -3.6 -14 -13.5z" fill="#ff8b2e"/>
<path d="M298.6 838.1l14.3 17.4 15.1 -3.6 -14.4 -17.3z" fill="#fff724"/>
<path d="M430.5 949.9l14.9 25 14.1 -4.2 -14.8 -24.8z" fill="#00f5ce"/>
<path d="M342.5 870.5l14.6 19.9 14.7 -3.8 -14.5 -19.8z" fill="#7ef91a"/>
<path d="M195.7 792.1l13.9 12.4 15.7 -3.7 -13.8 -12.3z" fill="#ff6530"/>
<path d="M386.5 907.8l14.8 22.5 14.4 -4 -14.7 -22.3z" fill="#1bf52f"/>
<path d="M269 825.7l14.3 16.1 15.3 -3.7 -14.3 -16z" fill="#ffcb28"/>
<path d="M166.1 784.7l13.7 11.1 15.9 -3.7 -13.6 -11z" fill="#ff472e"/>
<path d="M445.4 974.9l14.9 26.2 14.1 -4.3 -14.9 -26.1z" fill="#06c8f9"/>
<path d="M312.9 855.5l14.6 18.8 15 -3.8 -14.5 -18.6z" fill="#c0fe1c"/>
<path d="M239.3 814.4l14.2 15 15.5 -3.7 -14.1 -14.9z" fill="#ffa62b"/>
<path d="M401.3 930.3l14.8 23.7 14.4 -4.1 -14.8 -23.6z" fill="#0bf775"/>
<path d="M357.1 890.4l14.7 21.3 14.7 -3.9 -14.7 -21.2z" fill="#44f71a"/>
<path d="M209.6 804.5l14 13.7 15.7 -3.8 -14 -13.6z" fill="#ff862e"/>
<path d="M283.3 841.8l14.4 17.5 15.2 -3.8 -14.3 -17.4z" fill="#fff225"/>
<path d="M416.1 954l15 25.1 14.3 -4.2 -14.9 -25z" fill="#00f5c7"/>
<path d="M179.8 795.8l13.8 12.4 16 -3.7 -13.9 -12.4z" fill="#ff602f"/>
<path d="M327.5 874.3l14.6 20.1 15 -4 -14.6 -19.9z" fill="#84fa1a"/>
<path d="M371.8 911.7l14.8 22.6 14.7 -4 -14.8 -22.5z" fill="#1ef52d"/>
<path d="M253.5 829.4l14.3 16.2 15.5 -3.8 -14.3 -16.1z" fill="#ffc628"/>
<path d="M431.1 979.1l15 26.5 14.2 -4.5 -14.9 -26.2z" fill="#04cef8"/>
<path d="M297.7 859.3l14.6 18.9 15.2 -3.9 -14.6 -18.8z" fill="#c6fe1d"/>
<path d="M223.6 818.2l14.1 15 15.8 -3.8 -14.2 -15z" fill="#ffa22b"/>
<path d="M386.6 934.3l14.9 24 14.6 -4.3 -14.8 -23.7z" fill="#0cf66e"/>
<path d="M342.1 894.4l14.8 21.4 14.9 -4.1 -14.7 -21.3z" fill="#4af81a"/>
<path d="M193.6 808.2l14 13.8 16 -3.8 -14 -13.7z" fill="#ff812e"/>
<path d="M267.8 845.6l14.4 17.7 15.5 -4 -14.4 -17.5z" fill="#ffed25"/>
<path d="M401.5 958.3l15 25.2 14.6 -4.4 -15 -25.1z" fill="#00f6c0"/>
<path d="M312.3 878.2l14.7 20.2 15.1 -4 -14.6 -20.1z" fill="#8afa1a"/>
<path d="M356.9 915.8l14.9 22.7 14.8 -4.2 -14.8 -22.6z" fill="#22f62b"/>
<path d="M237.7 833.2l14.4 16.4 15.7 -4 -14.3 -16.2z" fill="#ffc228"/>
<path d="M416.5 983.5l15.1 26.6 14.5 -4.5 -15 -26.5z" fill="#02d4f7"/>
<path d="M282.2 863.3l14.6 19 15.5 -4.1 -14.6 -18.9z" fill="#ccff1d"/>
<path d="M207.6 822l14.2 15.2 15.9 -4 -14.1 -15z" fill="#ff9e2b"/>
<path d="M371.8 938.5l14.9 24.1 14.8 -4.3 -14.9 -24z" fill="#0df666"/>
<path d="M327 898.4l14.8 21.6 15.1 -4.2 -14.8 -21.4z" fill="#50f81a"/>
<path d="M252.1 849.6l14.5 17.7 15.6 -4 -14.4 -17.7z" fill="#ffe925"/>
<path d="M386.7 962.6l15.1 25.5 14.7 -4.6 -15 -25.2z" fill="#00f7b9"/>
<path d="M296.8 882.3l14.8 20.3 15.4 -4.2 -14.7 -20.2z" fill="#90fa1a"/>
<path d="M341.8 920l14.9 22.9 15.1 -4.4 -14.9 -22.7z" fill="#25f629"/>
<path d="M221.8 837.2l14.4 16.4 15.9 -4 -14.4 -16.4z" fill="#ffbe28"/>
<path d="M401.8 988.1l15.1 26.7 14.7 -4.7 -15.1 -26.6z" fill="#00daf5"/>
<path d="M266.6 867.3l14.6 19.1 15.6 -4.1 -14.6 -19z" fill="#d5ff1e"/>
<path d="M356.7 942.9l15 24.2 15 -4.5 -14.9 -24.1z" fill="#0ef65f"/>
<path d="M311.6 902.6l14.8 21.7 15.4 -4.3 -14.8 -21.6z" fill="#55f81a"/>
<path d="M236.2 853.6l14.5 17.9 15.9 -4.2 -14.5 -17.7z" fill="#ffe425"/>
<path d="M281.2 886.4l14.8 20.5 15.6 -4.3 -14.8 -20.3z" fill="#96fb1a"/>
<path d="M371.7 967.1l15.1 25.6 15 -4.6 -15.1 -25.5z" fill="#01f7b2"/>
<path d="M326.4 924.3l15 23 15.3 -4.4 -14.9 -22.9z" fill="#28f627"/>
<path d="M250.7 871.5l14.6 19.2 15.9 -4.3 -14.6 -19.1z" fill="#ddff1f"/>
<path d="M386.8 992.7l15.2 27 14.9 -4.9 -15.1 -26.7z" fill="#00def2"/>
<path d="M296 906.9l14.9 21.8 15.5 -4.4 -14.8 -21.7z" fill="#5bf81a"/>
<path d="M341.4 947.3l15.1 24.5 15.2 -4.7 -15 -24.2z" fill="#0ff658"/>
<path d="M265.3 890.7l14.9 20.6 15.8 -4.4 -14.8 -20.5z" fill="#9bfb1a"/>
<path d="M356.5 971.8l15.2 25.7 15.1 -4.8 -15.1 -25.6z" fill="#02f7ab"/>
<path d="M310.9 928.7l15 23.2 15.5 -4.6 -15 -23z" fill="#2bf625"/>
<path d="M371.7 997.5l15.2 27.1 15.1 -4.9 -15.2 -27z" fill="#00e2ef"/>
<path d="M280.2 911.3l14.9 22 15.8 -4.6 -14.9 -21.8z" fill="#60f81a"/>
<path d="M325.9 951.9l15.1 24.6 15.5 -4.7 -15.1 -24.5z" fill="#10f652"/>
<path d="M341 976.5l15.3 25.9 15.4 -4.9 -15.2 -25.7z" fill="#03f7a5"/>
<path d="M295.1 933.3l15.1 23.4 15.7 -4.8 -15 -23.2z" fill="#2ef624"/>
<path d="M356.3 1002.4l15.3 27.3 15.3 -5.1 -15.2 -27.1z" fill="#00e5ec"/>
<path d="M310.2 956.7l15.2 24.7 15.6 -4.9 -15.1 -24.6z" fill="#11f64c"/>
<path d="M325.4 981.4l15.3 26.1 15.6 -5.1 -15.3 -25.9z" fill="#04f79f"/>
<path d="M340.7 1007.5l15.4 27.5 15.5 -5.3 -15.3 -27.3z" fill="#00e9e9"/>
</g></g>
<path d="M76.3 742.6L107.8 736L153.7 727L183.4 721.5L226.6 714.1L254.5 709.6L295.1 703.7L321.3 700.2L359.6 695.6M88.5 744.9L120.1 738.3L166.1 729.2L195.8 723.7L239 716.2L266.9 711.8L307.5 705.8L333.8 702.2L372 697.6M100.9 748.4L132.5 741.7L178.6 732.6L208.3 727L251.5 719.5L279.5 715L320.1 709L346.4 705.4L384.6 700.7M113.5 753.1L145.2 746.4L191.3 737.2L221 731.6L264.3 724L292.2 719.4L332.9 713.3L359.1 709.7L397.4 704.9M126.3 759.1L158.1 752.3L204.2 743L234 737.3L277.2 729.6L305.2 725L345.8 718.7L372 715.1L410.2 710.2M139.4 766.4L171.2 759.5L217.3 750L247 744.2L290.3 736.4L318.2 731.7L358.8 725.3L385.1 721.6L423.2 716.6M152.6 774.9L184.4 767.9L230.5 758.2L260.3 752.4L303.5 744.4L331.5 739.6L372 733.1L398.2 729.3L436.4 724.2M166.1 784.7L197.9 777.5L244 767.7L273.7 761.8L316.9 753.6L344.8 748.7L385.4 742.1L411.5 738.1L449.6 732.9M179.8 795.8L211.5 788.5L257.6 778.5L287.3 772.4L330.5 764.1L358.4 759L398.8 752.2L425 748.2L462.9 742.7M193.6 808.2L225.3 800.8L271.4 790.6L301.1 784.3L344.2 775.8L372 770.6L412.4 763.6L438.5 759.4L476.4 753.8M207.6 822L239.3 814.4L285.3 803.9L315 797.5L358 788.7L385.8 783.4L426.1 776.2L452.1 771.8L489.9 766M221.8 837.2L253.5 829.4L299.4 818.6L329 812L372 803L399.7 797.5L439.9 790L465.9 785.4L503.6 779.4M236.2 853.6L267.8 845.6L313.6 834.6L343.2 827.8L386 818.4L413.7 812.8L453.8 805L479.7 800.3L517.3 794M250.7 871.5L282.2 863.3L328 851.9L357.5 844.9L400.2 835.2L427.8 829.3L467.8 821.2L493.6 816.4L531.1 809.8M265.3 890.7L296.8 882.3L342.5 870.5L371.9 863.3L414.5 853.3L442 847.1L481.9 838.8L507.6 833.7L545 826.7M280.2 911.3L311.6 902.6L357.1 890.4L386.4 883L428.9 872.6L456.3 866.2L496 857.5L521.7 852.2L558.9 844.9M295.1 933.3L326.4 924.3L371.8 911.7L401 904L443.4 893.2L470.7 886.6L510.3 877.5L535.8 871.9L572.8 864.3M310.2 956.7L341.4 947.3L386.6 934.3L415.7 926.3L457.9 915.1L485.1 908.2L524.6 898.8L550 892.9L586.9 885M325.4 981.4L356.5 971.8L401.5 958.3L430.5 949.9L472.6 938.3L499.6 931.2L538.9 921.2L564.2 915.2L600.9 906.8M340.7 1007.5L371.7 997.5L416.5 983.5L445.4 974.9L487.2 962.8L514.2 955.3L553.3 945L578.5 938.6L615 929.8M356.1 1035L386.9 1024.6L431.6 1010.1L460.3 1001.1L502 988.6L528.8 980.8L567.7 969.9L592.8 963.3L629.1 954M76.3 742.6L88.5 744.9L100.9 748.4L113.5 753.1L126.3 759.1L139.4 766.4L152.6 774.9L166.1 784.7L179.8 795.8L193.6 808.2L207.6 822L221.8 837.2L236.2 853.6L250.7 871.5L265.3 890.7L280.2 911.3L295.1 933.3L310.2 956.7L325.4 981.4L340.7 1007.5L356.1 1035M92.2 739.2L104.4 741.5L116.8 745L129.5 749.7L142.3 755.7L155.4 762.8L168.6 771.3L182.1 781.1L195.7 792.1L209.6 804.5L223.6 818.2L237.7 833.2L252.1 849.6L266.6 867.3L281.2 886.4L296 906.9L310.9 928.7L325.9 951.9L341 976.5L356.3 1002.4L371.6 1029.7M107.8 736L120.1 738.3L132.5 741.7L145.2 746.4L158.1 752.3L171.2 759.5L184.4 767.9L197.9 777.5L211.5 788.5L225.3 800.8L239.3 814.4L253.5 829.4L267.8 845.6L282.2 863.3L296.8 882.3L311.6 902.6L326.4 924.3L341.4 947.3L356.5 971.8L371.7 997.5L386.9 1024.6M123.3 732.9L135.6 735.1L148.1 738.6L160.8 743.2L173.6 749.1L186.7 756.2L200 764.5L213.5 774.2L227.1 785.1L240.9 797.3L254.9 810.8L269 825.7L283.3 841.8L297.7 859.3L312.3 878.2L327 898.4L341.8 920L356.7 942.9L371.7 967.1L386.8 992.7L402 1019.7M138.6 729.9L150.9 732.1L163.4 735.5L176.1 740.1L189 746L202.1 753L215.4 761.3L228.8 770.9L242.4 781.7L256.2 793.9L270.2 807.3L284.3 822.1L298.6 838.1L312.9 855.5L327.5 874.3L342.1 894.4L356.9 915.8L371.8 938.5L386.7 962.6L401.8 988.1L416.9 1014.8M153.7 727L166.1 729.2L178.6 732.6L191.3 737.2L204.2 743L217.3 750L230.5 758.2L244 767.7L257.6 778.5L271.4 790.6L285.3 803.9L299.4 818.6L313.6 834.6L328 851.9L342.5 870.5L357.1 890.4L371.8 911.7L386.6 934.3L401.5 958.3L416.5 983.5L431.6 1010.1M168.7 724.2L181 726.4L193.5 729.8L206.3 734.3L219.2 740.1L232.3 747L245.5 755.3L259 764.7L272.6 775.4L286.3 787.4L300.2 800.7L314.3 815.2L328.5 831.1L342.8 848.3L357.3 866.8L371.8 886.6L386.5 907.8L401.3 930.3L416.1 954L431.1 979.1L446.1 1005.6M183.4 721.5L195.8 723.7L208.3 727L221 731.6L234 737.3L247 744.2L260.3 752.4L273.7 761.8L287.3 772.4L301.1 784.3L315 797.5L329 812L343.2 827.8L357.5 844.9L371.9 863.3L386.4 883L401 904L415.7 926.3L430.5 949.9L445.4 974.9L460.3 1001.1M198 718.9L210.3 721.1L222.9 724.4L235.6 728.9L248.6 734.6L261.6 741.5L274.9 749.6L288.3 759L301.9 769.5L315.6 781.4L329.5 794.5L343.5 808.9L357.7 824.6L371.9 841.5L386.3 859.8L400.8 879.4L415.3 900.3L430 922.5L444.7 945.9L459.5 970.7L474.4 996.8M212.4 716.4L224.7 718.6L237.3 721.9L250.1 726.4L263 732.1L276.1 738.9L289.3 747L302.7 756.2L316.3 766.8L330 778.5L343.9 791.6L357.8 805.9L371.9 821.4L386.2 838.3L400.5 856.5L414.9 875.9L429.5 896.7L444.1 918.7L458.7 942.1L473.5 966.7L488.3 992.6M226.6 714.1L239 716.2L251.5 719.5L264.3 724L277.2 729.6L290.3 736.4L303.5 744.4L316.9 753.6L330.5 764.1L344.2 775.8L358 788.7L372 803L386 818.4L400.2 835.2L414.5 853.3L428.9 872.6L443.4 893.2L457.9 915.1L472.6 938.3L487.2 962.8L502 988.6M240.6 711.8L253 713.9L265.6 717.2L278.3 721.6L291.3 727.2L304.4 734L317.6 741.9L331 751.1L344.5 761.5L358.2 773.1L372 786L385.9 800.1L400 815.5L414.1 832.2L428.3 850.1L442.7 869.4L457.1 889.9L471.6 911.6L486.2 934.7L500.8 959L515.5 984.6M254.5 709.6L266.9 711.8L279.5 715L292.2 719.4L305.2 725L318.2 731.7L331.5 739.6L344.8 748.7L358.4 759L372 770.6L385.8 783.4L399.7 797.5L413.7 812.8L427.8 829.3L442 847.1L456.3 866.2L470.7 886.6L485.1 908.2L499.6 931.2L514.2 955.3L528.8 980.8M268.2 707.5L280.6 709.7L293.2 712.9L305.9 717.3L318.9 722.8L331.9 729.5L345.2 737.3L358.5 746.4L372 756.7L385.6 768.2L399.4 780.9L413.3 794.9L427.2 810.1L441.3 826.5L455.5 844.2L469.7 863.2L484 883.5L498.4 905L512.9 927.7L527.4 951.8L541.9 977M281.7 705.6L294.1 707.7L306.7 710.9L319.5 715.2L332.4 720.7L345.5 727.4L358.7 735.2L372 744.2L385.5 754.4L399.1 765.8L412.8 778.5L426.7 792.4L440.6 807.5L454.6 823.8L468.8 841.4L483 860.3L497.2 880.4L511.6 901.8L526 924.4L540.4 948.3L554.9 973.4M295.1 703.7L307.5 705.8L320.1 709L332.9 713.3L345.8 718.7L358.8 725.3L372 733.1L385.4 742.1L398.8 752.2L412.4 763.6L426.1 776.2L439.9 790L453.8 805L467.8 821.2L481.9 838.8L496 857.5L510.3 877.5L524.6 898.8L538.9 921.2L553.3 945L567.7 969.9M308.3 701.9L320.7 704L333.3 707.1L346.1 711.4L359 716.9L372 723.4L385.2 731.2L398.5 740.1L412 750.2L425.5 761.4L439.2 773.9L453 787.7L466.8 802.6L480.8 818.8L494.8 836.2L508.9 854.8L523.1 874.7L537.3 895.8L551.6 918.1L566 941.7L580.3 966.5M321.3 700.2L333.8 702.2L346.4 705.4L359.1 709.7L372 715.1L385.1 721.6L398.2 729.3L411.5 738.1L425 748.2L438.5 759.4L452.1 771.8L465.9 785.4L479.7 800.3L493.6 816.4L507.6 833.7L521.7 852.2L535.8 871.9L550 892.9L564.2 915.2L578.5 938.6L592.8 963.3M334.2 698.5L346.7 700.6L359.3 703.7L372 708L384.9 713.4L397.9 719.8L411.1 727.5L424.4 736.3L437.8 746.3L451.3 757.4L464.9 769.8L478.6 783.3L492.4 798.1L506.3 814.1L520.2 831.3L534.2 849.7L548.3 869.3L562.4 890.2L576.6 912.3L590.8 935.6L605 960.1M347 697L359.4 699.1L372 702.2L384.8 706.4L397.7 711.7L410.7 718.2L423.8 725.8L437.1 734.5L450.4 744.5L463.9 755.6L477.5 767.8L491.2 781.3L504.9 796L518.8 811.9L532.7 829L546.6 847.3L560.7 866.8L574.7 887.5L588.8 909.5L603 932.6L617.1 957M359.6 695.6L372 697.6L384.6 700.7L397.4 704.9L410.2 710.2L423.2 716.6L436.4 724.2L449.6 732.9L462.9 742.7L476.4 753.8L489.9 766L503.6 779.4L517.3 794L531.1 809.8L545 826.7L558.9 844.9L572.8 864.3L586.9 885L600.9 906.8L615 929.8L629.1 954" fill="none" stroke="#000" stroke-opacity="0.9" stroke-width="1.7" stroke-linejoin="round" stroke-linecap="round"/>
<path d="M76.3 742.6L88.5 744.9L100.9 748.4L113.5 753.1L126.3 759.1L139.4 766.4L152.6 774.9L166.1 784.7L179.7 795.8L193.6 808.2L207.6 822L221.8 837.2L236.2 853.6L250.7 871.5L265.3 890.7L280.2 911.3L295.1 933.3L310.2 956.7L325.4 981.4L340.7 1007.5L356.1 1035L386.9 1024.6L431.6 1010.1L460.3 1001.1L502 988.6L528.8 980.8L567.7 969.9L592.8 963.3L629.1 954L615 929.8L600.9 906.8L586.9 885L572.8 864.3L558.9 844.9L545 826.7L531.1 809.8L517.3 794L503.6 779.4L489.9 766L476.4 753.8L462.9 742.7L449.6 732.9L436.4 724.2L423.2 716.6L410.2 710.2L397.4 704.9L384.6 700.7L372 697.6L359.6 695.6L347 697L308.3 701.9L281.7 705.6L240.6 711.8L212.4 716.4L168.7 724.2L138.6 729.9Z" fill="none" stroke="#000" stroke-opacity="0.7" stroke-width="1.3" stroke-linejoin="round"/>
<ellipse cx="358.8" cy="789" rx="3.6" ry="2.6" fill="#b00000" stroke="#4a0808" stroke-width="0.8"/>
<circle cx="629.3" cy="953" r="6" fill="#c40000" stroke="#4a0808" stroke-width="1"/>
<g font-family="'Liberation Sans',sans-serif" font-size="15.5" fill="#484848">
<text x="79.5" y="973.6" text-anchor="end">50</text>
<text x="77.2" y="927.7" text-anchor="end">60</text>
<text x="74.8" y="881.9" text-anchor="end">70</text>
<text x="72.4" y="836" text-anchor="end">80</text>
<text x="70" y="790.1" text-anchor="end">90</text>
<text x="67.6" y="744.2" text-anchor="end">100</text>
<text x="65.2" y="698.3" text-anchor="end">110</text>
<text x="85" y="1081.2" text-anchor="end">2</text>
<text x="137.7" y="1108.4" text-anchor="end">2.2</text>
<text x="190.3" y="1135.5" text-anchor="end">2.4</text>
<text x="243" y="1162.7" text-anchor="end">2.6</text>
<text x="295.6" y="1189.8" text-anchor="end">2.8</text>
<text x="348.3" y="1217" text-anchor="end">3</text>
<text x="364.3" y="1217" text-anchor="start">45</text>
<text x="431" y="1183.5" text-anchor="start">40</text>
<text x="497.6" y="1149.9" text-anchor="start">35</text>
<text x="564.3" y="1116.3" text-anchor="start">30</text>
<text x="631" y="1082.8" text-anchor="start">25</text>
</g>
<g font-family="'Liberation Serif',serif" font-weight="bold" fill="#111" text-anchor="middle">
<text x="22.5" y="644" font-size="35" text-anchor="start">(d)</text>
<text transform="translate(31.7 884) rotate(-90)" font-size="25.5" textLength="152" lengthAdjust="spacingAndGlyphs" y="7.7">Cr(VI) removal (%)</text>
<text transform="translate(175 1157) rotate(29)" font-size="20" textLength="43" lengthAdjust="spacingAndGlyphs" y="6">E: pH</text>
<text transform="translate(527 1151) rotate(-26.4)" font-size="20" textLength="212" lengthAdjust="spacingAndGlyphs" y="6">D: reaction temperature (°C)</text>
</g>
</g>
<g id="p_e">
<path d="M738.4 970.7L1006.6 874.4M1006.6 874.4L1273.8 972M736 925.2L1006.7 833M1006.7 833L1276.3 926.6M733.7 879.7L1006.7 791.6M1006.7 791.6L1278.8 881.1M731.3 834.2L1006.8 750.2M1006.8 750.2L1281.3 835.7M728.9 788.8L1006.9 708.8M1006.9 708.8L1283.8 790.2M726.6 743.3L1006.9 667.4M1006.9 667.4L1286.3 744.8M724.2 697.8L1007 626M1007 626L1288.8 699.3M792 951.4L780.8 683.4M845.7 932.2L837.3 669.1M899.3 912.9L893.9 654.7M953 893.7L950.4 640.4M1073.4 898.8L1077.5 644.3M1140.2 923.2L1147.9 662.6M1207 947.6L1218.3 681M742.8 1055.5L724.2 697.8M1006.5 951.6L1007 626M1269.2 1056.8L1288.8 699.3" fill="none" stroke="#262626" stroke-width="1.75" stroke-linecap="round"/>
<polygon points="742.8,1055.5 1004.2,1190.2 1269.2,1056.8 1006.5,951.6" fill="#626262" stroke="#111" stroke-width="2" stroke-linejoin="round"/>
<path d="M859.3 1009.5L901 1013.9L926.1 1015.9L949.6 1017L971.4 1017.4L988.6 1017.1L1001 1016.6L1018.5 1015.1L1034.3 1013L1046.1 1010.7L1054.8 1008.4L1066.3 1004.6L1075.8 1000L1083.5 994.7L1087.7 990.4L1091 985.3" fill="none" stroke="#e07a1b" stroke-width="3" stroke-linecap="butt" stroke-linejoin="round"/>
<path d="M794.4 1035.2L836.1 1043L869.6 1048.8L910 1054.9L947.1 1059.7L975.4 1062.7L1008.2 1065.3L1039 1066.7L1061.5 1066.9L1083.8 1066.3L1110.8 1064.4L1127.7 1062.2L1150.2 1057.8L1163.3 1054.2L1170.2 1051.8L1180.3 1047.7L1189.8 1042.7L1194 1040L1197.8 1037.2L1204.4 1031.2" fill="none" stroke="#e0b51b" stroke-width="3" stroke-linecap="butt" stroke-linejoin="round"/>
<path d="M745.7 1054.5L814.5 1069.9L871 1081.5L934.8 1092.9L990.8 1101.3L1036.2 1106.5L1082.3 1110.1L1103.1 1111L1126.9 1111.4L1149 1111L1163.3 1110.3" fill="none" stroke="#bee017" stroke-width="3" stroke-linecap="butt" stroke-linejoin="round"/>
<path d="M835.6 1103.3L910.1 1119.6L972.7 1131.6L1030.2 1141L1058.9 1144.9L1087.5 1148.3" fill="none" stroke="#70dc16" stroke-width="3" stroke-linecap="butt" stroke-linejoin="round"/>
<path d="M935.8 1154.7L990.5 1166.2L1034.9 1174.6" fill="none" stroke="#32d91a" stroke-width="3" stroke-linecap="butt" stroke-linejoin="round"/>
<g fill="#000"><circle cx="738.4" cy="970.7" r="2.7"/><circle cx="736" cy="925.2" r="2.7"/><circle cx="733.7" cy="879.7" r="2.7"/><circle cx="731.3" cy="834.2" r="2.7"/><circle cx="728.9" cy="788.8" r="2.7"/><circle cx="726.6" cy="743.3" r="2.7"/><circle cx="724.2" cy="697.8" r="2.7"/><circle cx="742.8" cy="1055.5" r="2.7"/><circle cx="808.1" cy="1089.2" r="2.7"/><circle cx="873.5" cy="1122.8" r="2.7"/><circle cx="938.9" cy="1156.5" r="2.7"/><circle cx="1004.2" cy="1190.2" r="2.7"/><circle cx="1057.2" cy="1163.5" r="2.7"/><circle cx="1110.2" cy="1136.8" r="2.7"/><circle cx="1163.2" cy="1110.2" r="2.7"/><circle cx="1216.2" cy="1083.5" r="2.7"/><circle cx="1269.2" cy="1056.8" r="2.7"/></g>
<circle cx="729.2" cy="807.3" r="6" fill="#ffc9c9" stroke="#7d6060" stroke-width="1"/>
<circle cx="1007.5" cy="675.5" r="6" fill="#c40000" stroke="#4a0808" stroke-width="1"/>
<line x1="1004.2" y1="974.7" x2="1004.2" y2="960" stroke="#333" stroke-width="1.4"/><circle cx="1004.2" cy="974.7" r="6" fill="#ffc9c9" stroke="#7d6060" stroke-width="1"/>
<circle cx="1283.3" cy="804" r="6" fill="#ffc9c9" stroke="#7d6060" stroke-width="1"/>
<clipPath id="cp_e"><path d="M729.8 807.5L792.4 843L858.9 881.5L929.5 923.1L1004.7 968.2L1020.3 955L1035.7 942.4L1051 930.3L1066 918.8L1080.9 907.8L1095.7 897.3L1110.2 887.3L1124.6 877.9L1138.7 868.9L1152.7 860.5L1166.6 852.5L1180.2 845L1193.7 838.1L1207 831.5L1220.1 825.5L1233.1 819.9L1245.8 814.8L1258.4 810.1L1270.8 805.8L1283.1 802L1252.7 786.7L1208.4 765.2L1179.6 751.8L1137.6 733.1L1110.4 721.4L1070.6 705.3L1044.7 695.3L1007 681.6L994.5 683.8L981.8 686.5L969 689.6L956.1 693L943 696.9L929.7 701.2L916.4 705.9L902.8 711L889.2 716.5L875.4 722.5L861.4 728.9L847.3 735.8L833.1 743.1L818.8 750.9L804.3 759.1L789.6 767.8L774.9 777L760 786.7L744.9 796.8Z"/></clipPath>
<g clip-path="url(#cp_e)"><g filter="url(#sm)">
<path d="M994.7 677.3l12.3 4.3 12.4 -1.9 -12.3 -4.2z" fill="#ff7437"/>
<path d="M1007 681.6l12.5 4.4 12.3 -2 -12.4 -4.3z" fill="#ff7837"/>
<path d="M982.2 679.4l12.3 4.4 12.5 -2.2 -12.3 -4.3z" fill="#ff6d37"/>
<path d="M1019.5 686l12.5 4.6 12.4 -2.1 -12.6 -4.5z" fill="#ff7d37"/>
<path d="M969.5 682l12.3 4.5 12.7 -2.7 -12.3 -4.4z" fill="#ff6836"/>
<path d="M1032 690.6l12.7 4.7 12.4 -2.2 -12.7 -4.6z" fill="#ff8237"/>
<path d="M956.7 684.9l12.3 4.7 12.8 -3.1 -12.3 -4.5z" fill="#ff6536"/>
<path d="M1044.7 695.3l12.9 4.9 12.3 -2.3 -12.8 -4.8z" fill="#ff8737"/>
<path d="M943.8 688.3l12.3 4.7 12.9 -3.4 -12.3 -4.7z" fill="#ff6336"/>
<path d="M1057.6 700.2l13 5.1 12.3 -2.4 -13 -5z" fill="#ff8e37"/>
<path d="M930.7 692l12.3 4.9 13.1 -3.9 -12.3 -4.7z" fill="#ff6336"/>
<path d="M1070.6 705.3l13.1 5.2 12.3 -2.5 -13.1 -5.1z" fill="#ff9237"/>
<path d="M917.4 696.2l12.3 5 13.3 -4.3 -12.3 -4.9z" fill="#ff6536"/>
<path d="M1083.7 710.5l13.3 5.4 12.3 -2.6 -13.3 -5.3z" fill="#ff9737"/>
<path d="M904.1 700.8l12.3 5.1 13.3 -4.7 -12.3 -5z" fill="#ff6937"/>
<path d="M1097 715.9l13.4 5.5 12.3 -2.6 -13.4 -5.5z" fill="#ff9c37"/>
<path d="M890.6 705.8l12.2 5.2 13.6 -5.1 -12.3 -5.1z" fill="#ff6e37"/>
<path d="M1110.4 721.4l13.5 5.8 12.3 -2.8 -13.5 -5.6z" fill="#ffa237"/>
<path d="M876.9 711.2l12.3 5.3 13.6 -5.5 -12.2 -5.2z" fill="#ff7537"/>
<path d="M1123.9 727.2l13.7 5.9 12.3 -2.9 -13.7 -5.8z" fill="#ffa837"/>
<path d="M863.1 717l12.3 5.5 13.8 -6 -12.3 -5.3z" fill="#ff7e37"/>
<path d="M1137.6 733.1l13.9 6 12.3 -2.9 -13.9 -6z" fill="#ffaf37"/>
<path d="M849.2 723.3l12.2 5.6 14 -6.4 -12.3 -5.5z" fill="#ff8937"/>
<path d="M1151.5 739.1l14 6.3 12.2 -3 -13.9 -6.2z" fill="#ffb537"/>
<path d="M835.1 730.1l12.2 5.7 14.1 -6.9 -12.2 -5.6z" fill="#ff9337"/>
<path d="M1165.5 745.4l14.1 6.4 12.3 -3 -14.2 -6.4z" fill="#ffbd37"/>
<path d="M820.9 737.3l12.2 5.8 14.2 -7.3 -12.2 -5.7z" fill="#ff9d37"/>
<path d="M1179.6 751.8l14.3 6.6 12.3 -3.1 -14.3 -6.5z" fill="#ffc437"/>
<path d="M806.6 744.9l12.2 6 14.3 -7.8 -12.2 -5.8z" fill="#ffa837"/>
<path d="M1193.9 758.4l14.5 6.8 12.2 -3.2 -14.4 -6.7z" fill="#ffcc37"/>
<path d="M792.1 753l12.2 6.1 14.5 -8.2 -12.2 -6z" fill="#ffb437"/>
<path d="M777.5 761.6l12.1 6.2 14.7 -8.7 -12.2 -6.1z" fill="#ffc237"/>
<path d="M1208.4 765.2l14.6 7 12.2 -3.3 -14.6 -6.9z" fill="#ffd537"/>
<path d="M762.7 770.6l12.2 6.4 14.7 -9.2 -12.1 -6.2z" fill="#ffd135"/>
<path d="M1223 772.2l14.8 7.1 12.1 -3.2 -14.7 -7.2z" fill="#ffde37"/>
<path d="M747.8 780.2l12.2 6.5 14.9 -9.7 -12.2 -6.4z" fill="#ffe234"/>
<path d="M1237.8 779.3l14.9 7.4 12.2 -3.3 -15 -7.3z" fill="#ffe737"/>
<path d="M732.8 790.2l12.1 6.6 15.1 -10.1 -12.2 -6.5z" fill="#fff433"/>
<path d="M1252.7 786.7l15.1 7.5 12.1 -3.3 -15 -7.5z" fill="#fff137"/>
<path d="M717.7 800.7l12.1 6.8 15.1 -10.7 -12.1 -6.6z" fill="#eeff31"/>
<path d="M1267.8 794.2l15.3 7.8 12.1 -3.4 -15.3 -7.7z" fill="#fffb37"/>
<path d="M702.4 811.7l12.1 6.9 15.3 -11.1 -12.1 -6.8z" fill="#c9fe2d"/>
<path d="M1283.1 802l15.4 7.9 12 -3.4 -15.3 -7.9z" fill="#f1ff36"/>
<path d="M714.5 818.6l12.2 7 15.3 -11.2 -12.2 -6.9z" fill="#c0fe2d"/>
<path d="M1270.8 805.8l15.5 8 12.2 -3.9 -15.4 -7.9z" fill="#f8ff37"/>
<path d="M726.7 825.6l12.4 7.2 15.3 -11.4 -12.4 -7z" fill="#b6fd2c"/>
<path d="M1258.4 810.1l15.5 8 12.4 -4.3 -15.5 -8z" fill="#fcff37"/>
<path d="M739.1 832.8l12.5 7.2 15.3 -11.5 -12.5 -7.1z" fill="#adfc2c"/>
<path d="M1245.8 814.8l15.5 8.1 12.6 -4.8 -15.5 -8z" fill="#fdff37"/>
<path d="M751.6 840l12.6 7.4 15.4 -11.7 -12.7 -7.2z" fill="#a4fb2c"/>
<path d="M1233.1 819.9l15.5 8.1 12.7 -5.1 -15.5 -8.1z" fill="#fcff37"/>
<path d="M764.2 847.4l12.8 7.5 15.4 -11.9 -12.8 -7.3z" fill="#9afb2c"/>
<path d="M1220.1 825.5l15.6 8.2 12.9 -5.7 -15.5 -8.1z" fill="#f9ff37"/>
<path d="M777 854.9l12.9 7.5 15.5 -11.9 -13 -7.5z" fill="#91fa2c"/>
<path d="M1207 831.5l15.6 8.3 13.1 -6.1 -15.6 -8.2z" fill="#f3ff36"/>
<path d="M789.9 862.4l13.2 7.8 15.4 -12.1 -13.1 -7.6z" fill="#88fa2c"/>
<path d="M1193.7 838.1l15.6 8.3 13.3 -6.6 -15.6 -8.3z" fill="#ebff35"/>
<path d="M803.1 870.2l13.2 7.8 15.5 -12.3 -13.3 -7.6z" fill="#7ffa2c"/>
<path d="M1180.2 845l15.6 8.4 13.5 -7 -15.6 -8.3z" fill="#e0ff34"/>
<path d="M816.3 878l13.5 7.9 15.5 -12.3 -13.5 -7.9z" fill="#76f92c"/>
<path d="M1166.6 852.5l15.6 8.5 13.6 -7.6 -15.6 -8.4z" fill="#d3ff33"/>
<path d="M829.8 885.9l13.5 8.1 15.6 -12.5 -13.6 -7.9z" fill="#6df92c"/>
<path d="M1152.7 860.5l15.7 8.5 13.8 -8 -15.6 -8.5z" fill="#c9fe33"/>
<path d="M843.3 894l13.8 8.2 15.6 -12.6 -13.8 -8.1z" fill="#64f92c"/>
<path d="M1138.7 868.9l15.7 8.6 14 -8.5 -15.7 -8.5z" fill="#befd33"/>
<path d="M857.1 902.2l13.9 8.3 15.6 -12.7 -13.9 -8.2z" fill="#5af82c"/>
<path d="M1124.5 877.9l15.7 8.6 14.2 -9 -15.7 -8.6z" fill="#b1fc33"/>
<path d="M871 910.5l14.1 8.5 15.7 -12.9 -14.2 -8.3z" fill="#51f82c"/>
<path d="M1110.2 887.3l15.6 8.8 14.4 -9.6 -15.7 -8.6z" fill="#a3fb32"/>
<path d="M885.1 919l14.3 8.5 15.7 -13 -14.3 -8.4z" fill="#4bf82e"/>
<path d="M1095.7 897.3l15.6 8.8 14.5 -10 -15.6 -8.8z" fill="#93fa32"/>
<path d="M899.4 927.5l14.5 8.8 15.6 -13.2 -14.4 -8.6z" fill="#45f731"/>
<path d="M1080.9 907.8l15.7 8.9 14.7 -10.6 -15.6 -8.8z" fill="#83fa31"/>
<path d="M913.9 936.3l14.6 8.8 15.7 -13.2 -14.7 -8.8z" fill="#40f734"/>
<path d="M1066 918.8l15.7 9 14.9 -11.1 -15.7 -8.9z" fill="#72f930"/>
<path d="M928.5 945.1l14.9 9 15.7 -13.4 -14.9 -8.8z" fill="#3af738"/>
<path d="M1051 930.3l15.6 9.1 15.1 -11.6 -15.7 -9z" fill="#5ef82f"/>
<path d="M943.4 954.1l15 9.1 15.7 -13.5 -15 -9z" fill="#34f63b"/>
<path d="M1035.7 942.4l15.7 9.2 15.2 -12.2 -15.6 -9.1z" fill="#4df831"/>
<path d="M958.4 963.2l15.2 9.3 15.7 -13.6 -15.2 -9.2z" fill="#2ff63e"/>
<path d="M1020.3 955l15.7 9.4 15.4 -12.8 -15.7 -9.2z" fill="#40f737"/>
<path d="M973.6 972.5l15.4 9.4 15.7 -13.7 -15.4 -9.3z" fill="#29f642"/>
<path d="M1004.7 968.2l15.7 9.5 15.6 -13.3 -15.7 -9.4z" fill="#32f63e"/>
<path d="M989 981.9l15.6 9.6 15.8 -13.8 -15.7 -9.5z" fill="#26f64a"/>
<path d="M994.5 683.8l12.4 4.6 12.6 -2.4 -12.5 -4.4z" fill="#ff7237"/>
<path d="M1006.9 688.4l12.6 4.7 12.5 -2.5 -12.5 -4.6z" fill="#ff7737"/>
<path d="M981.8 686.5l12.5 4.7 12.6 -2.8 -12.4 -4.6z" fill="#ff6d37"/>
<path d="M1019.5 693.1l12.7 4.8 12.5 -2.6 -12.7 -4.7z" fill="#ff7c37"/>
<path d="M994.3 691.2l12.6 4.8 12.6 -2.9 -12.6 -4.7z" fill="#ff7237"/>
<path d="M969 689.6l12.5 4.7 12.8 -3.1 -12.5 -4.7z" fill="#ff6a37"/>
<path d="M1032.2 697.9l12.9 5 12.5 -2.7 -12.9 -4.9z" fill="#ff8237"/>
<path d="M1006.9 696l12.7 4.9 12.6 -3 -12.7 -4.8z" fill="#ff7837"/>
<path d="M981.5 694.3l12.6 4.9 12.8 -3.2 -12.6 -4.8z" fill="#ff6f37"/>
<path d="M956.1 693l12.4 4.9 13 -3.6 -12.5 -4.7z" fill="#ff6937"/>
<path d="M1045.1 702.9l13 5.2 12.5 -2.8 -13 -5.1z" fill="#ff8837"/>
<path d="M1019.6 700.9l12.8 5.1 12.7 -3.1 -12.9 -5z" fill="#ff7e37"/>
<path d="M994.1 699.2l12.7 5.1 12.8 -3.4 -12.7 -4.9z" fill="#ff7537"/>
<path d="M968.5 697.9l12.6 5 13 -3.7 -12.6 -4.9z" fill="#ff6e37"/>
<path d="M943 696.9l12.4 5 13.1 -4 -12.4 -4.9z" fill="#ff6937"/>
<path d="M1058.1 708.1l13.1 5.3 12.5 -2.9 -13.1 -5.2z" fill="#ff8f37"/>
<path d="M1032.4 706l13 5.3 12.7 -3.2 -13 -5.2z" fill="#ff8537"/>
<path d="M1006.8 704.3l12.8 5.2 12.8 -3.5 -12.8 -5.1z" fill="#ff7c37"/>
<path d="M981.1 702.9l12.7 5.2 13 -3.8 -12.7 -5.1z" fill="#ff7537"/>
<path d="M955.4 701.9l12.6 5.1 13.1 -4.1 -12.6 -5z" fill="#ff6f37"/>
<path d="M929.7 701.2l12.5 5.1 13.2 -4.4 -12.4 -5z" fill="#ff6b37"/>
<path d="M1071.2 713.4l13.3 5.5 12.5 -3 -13.3 -5.4z" fill="#ff9437"/>
<path d="M1045.4 711.3l13.2 5.4 12.6 -3.3 -13.1 -5.3z" fill="#ff8c37"/>
<path d="M1019.6 709.5l13 5.3 12.8 -3.5 -13 -5.3z" fill="#ff8337"/>
<path d="M993.8 708.1l12.9 5.3 12.9 -3.9 -12.8 -5.2z" fill="#ff7b37"/>
<path d="M968 707l12.7 5.3 13.1 -4.2 -12.7 -5.2z" fill="#ff7637"/>
<path d="M942.2 706.3l12.6 5.2 13.2 -4.5 -12.6 -5.1z" fill="#ff7237"/>
<path d="M916.4 705.9l12.4 5.2 13.4 -4.8 -12.5 -5.1z" fill="#ff6f37"/>
<path d="M1084.5 718.9l13.4 5.6 12.5 -3.1 -13.4 -5.5z" fill="#ff9937"/>
<path d="M1058.6 716.7l13.2 5.5 12.7 -3.3 -13.3 -5.5z" fill="#ff9137"/>
<path d="M1032.6 714.8l13.2 5.5 12.8 -3.6 -13.2 -5.4z" fill="#ff8a37"/>
<path d="M1006.7 713.4l13 5.4 12.9 -4 -13 -5.3z" fill="#ff8237"/>
<path d="M980.7 712.3l12.9 5.4 13.1 -4.3 -12.9 -5.3z" fill="#ff7d37"/>
<path d="M902.8 711l12.5 5.3 13.5 -5.2 -12.4 -5.2z" fill="#ff7537"/>
<path d="M954.8 711.5l12.7 5.4 13.2 -4.6 -12.7 -5.3z" fill="#ff7837"/>
<path d="M928.8 711.1l12.6 5.3 13.4 -4.9 -12.6 -5.2z" fill="#ff7637"/>
<path d="M1097.9 724.5l13.6 5.8 12.4 -3.1 -13.5 -5.8z" fill="#ff9f37"/>
<path d="M1071.8 722.2l13.5 5.8 12.6 -3.5 -13.4 -5.6z" fill="#ff9737"/>
<path d="M1045.8 720.3l13.3 5.7 12.7 -3.8 -13.2 -5.5z" fill="#ff9037"/>
<path d="M1019.7 718.8l13.1 5.6 13 -4.1 -13.2 -5.5z" fill="#ff8a37"/>
<path d="M889.2 716.5l12.4 5.5 13.7 -5.7 -12.5 -5.3z" fill="#ff7c37"/>
<path d="M993.6 717.7l13 5.5 13.1 -4.4 -13 -5.4z" fill="#ff8437"/>
<path d="M915.3 716.3l12.5 5.5 13.6 -5.4 -12.6 -5.3z" fill="#ff7c37"/>
<path d="M967.5 716.9l12.8 5.5 13.3 -4.7 -12.9 -5.4z" fill="#ff8037"/>
<path d="M941.4 716.4l12.7 5.5 13.4 -5 -12.7 -5.4z" fill="#ff7d37"/>
<path d="M1111.5 730.3l13.7 6 12.4 -3.2 -13.7 -5.9z" fill="#ffa537"/>
<path d="M1085.3 728l13.6 5.8 12.6 -3.5 -13.6 -5.8z" fill="#ff9d37"/>
<path d="M1059.1 726l13.4 5.8 12.8 -3.8 -13.5 -5.8z" fill="#ff9637"/>
<path d="M1032.8 724.4l13.3 5.8 13 -4.2 -13.3 -5.7z" fill="#ff9137"/>
<path d="M875.4 722.5l12.4 5.6 13.8 -6.1 -12.4 -5.5z" fill="#ff8537"/>
<path d="M1006.6 723.2l13.1 5.7 13.1 -4.5 -13.1 -5.6z" fill="#ff8c37"/>
<path d="M901.6 722l12.6 5.6 13.6 -5.8 -12.5 -5.5z" fill="#ff8437"/>
<path d="M980.3 722.4l13 5.7 13.3 -4.9 -13 -5.5z" fill="#ff8737"/>
<path d="M927.8 721.8l12.7 5.6 13.6 -5.5 -12.7 -5.5z" fill="#ff8337"/>
<path d="M954.1 721.9l12.8 5.6 13.4 -5.1 -12.8 -5.5z" fill="#ff8437"/>
<path d="M1125.2 736.3l13.8 6.1 12.5 -3.3 -13.9 -6z" fill="#ffac37"/>
<path d="M1098.9 733.8l13.7 6.1 12.6 -3.6 -13.7 -6z" fill="#ffa337"/>
<path d="M1072.5 731.8l13.6 6 12.8 -4 -13.6 -5.8z" fill="#ff9c37"/>
<path d="M861.4 728.9l12.4 5.7 14 -6.5 -12.4 -5.6z" fill="#ff9037"/>
<path d="M1046.1 730.2l13.5 5.9 12.9 -4.3 -13.4 -5.8z" fill="#ff9637"/>
<path d="M887.8 728.1l12.5 5.7 13.9 -6.2 -12.6 -5.6z" fill="#ff8d37"/>
<path d="M1019.7 728.9l13.3 5.9 13.1 -4.6 -13.3 -5.8z" fill="#ff9237"/>
<path d="M914.2 727.6l12.7 5.7 13.6 -5.9 -12.7 -5.6z" fill="#ff8b37"/>
<path d="M993.3 728.1l13.2 5.8 13.2 -5 -13.1 -5.7z" fill="#ff8f37"/>
<path d="M940.5 727.4l12.9 5.7 13.5 -5.6 -12.8 -5.6z" fill="#ff8b37"/>
<path d="M966.9 727.5l13 5.8 13.4 -5.2 -13 -5.7z" fill="#ff8c37"/>
<path d="M1139 742.4l14.1 6.3 12.4 -3.3 -14 -6.3z" fill="#ffb337"/>
<path d="M1112.6 739.9l13.9 6.2 12.5 -3.7 -13.8 -6.1z" fill="#ffaa37"/>
<path d="M847.3 735.8l12.4 5.8 14.1 -7 -12.4 -5.7z" fill="#ff9837"/>
<path d="M1086.1 737.8l13.7 6.1 12.8 -4 -13.7 -6.1z" fill="#ffa337"/>
<path d="M873.8 734.6l12.6 5.8 13.9 -6.6 -12.5 -5.7z" fill="#ff9537"/>
<path d="M1059.6 736.1l13.6 6.1 12.9 -4.4 -13.6 -6z" fill="#ff9d37"/>
<path d="M900.3 733.8l12.7 5.8 13.9 -6.3 -12.7 -5.7z" fill="#ff9337"/>
<path d="M1033 734.8l13.5 6 13.1 -4.7 -13.5 -5.9z" fill="#ff9837"/>
<path d="M926.9 733.3l12.8 5.8 13.7 -6 -12.9 -5.7z" fill="#ff9137"/>
<path d="M1006.5 733.9l13.3 5.9 13.2 -5 -13.3 -5.9z" fill="#ff9437"/>
<path d="M953.4 733.1l13 5.9 13.5 -5.7 -13 -5.8z" fill="#ff9137"/>
<path d="M979.9 733.3l13.2 5.9 13.4 -5.3 -13.2 -5.8z" fill="#ff9237"/>
<path d="M1153.1 748.7l14.1 6.5 12.4 -3.4 -14.1 -6.4z" fill="#ffba37"/>
<path d="M833.1 743.1l12.4 6 14.2 -7.5 -12.4 -5.8z" fill="#ffa237"/>
<path d="M1126.5 746.1l14 6.4 12.6 -3.8 -14.1 -6.3z" fill="#ffb137"/>
<path d="M859.7 741.6l12.6 6 14.1 -7.2 -12.6 -5.8z" fill="#ff9e37"/>
<path d="M1099.8 743.9l13.9 6.3 12.8 -4.1 -13.9 -6.2z" fill="#ffa937"/>
<path d="M886.4 740.4l12.7 6 13.9 -6.8 -12.7 -5.8z" fill="#ff9b37"/>
<path d="M1073.2 742.2l13.7 6.2 12.9 -4.5 -13.7 -6.1z" fill="#ffa337"/>
<path d="M913 739.6l12.9 6 13.8 -6.5 -12.8 -5.8z" fill="#ff9837"/>
<path d="M1046.5 740.8l13.6 6.2 13.1 -4.8 -13.6 -6.1z" fill="#ff9e37"/>
<path d="M939.7 739.1l13 6 13.7 -6.1 -13 -5.9z" fill="#ff9737"/>
<path d="M1019.8 739.8l13.4 6.1 13.3 -5.1 -13.5 -6z" fill="#ff9b37"/>
<path d="M966.4 739l13.1 6 13.6 -5.8 -13.2 -5.9z" fill="#ff9737"/>
<path d="M993.1 739.2l13.3 6.1 13.4 -5.5 -13.3 -5.9z" fill="#ff9837"/>
<path d="M1167.2 755.2l14.4 6.7 12.3 -3.5 -14.3 -6.6z" fill="#ffc137"/>
<path d="M818.8 750.9l12.3 6.1 14.4 -7.9 -12.4 -6z" fill="#ffae37"/>
<path d="M1140.5 752.5l14.2 6.6 12.5 -3.9 -14.1 -6.5z" fill="#ffb837"/>
<path d="M845.5 749.1l12.5 6 14.3 -7.5 -12.6 -6z" fill="#ffa837"/>
<path d="M1113.7 750.2l14 6.5 12.8 -4.2 -14 -6.4z" fill="#ffb037"/>
<path d="M872.3 747.6l12.6 6 14.2 -7.2 -12.7 -6z" fill="#ffa437"/>
<path d="M899.1 746.4l12.8 6.1 14 -6.9 -12.9 -6z" fill="#ffa037"/>
<path d="M1086.9 748.4l13.9 6.4 12.9 -4.6 -13.9 -6.3z" fill="#ffaa37"/>
<path d="M925.9 745.6l13 6.1 13.8 -6.6 -13 -6z" fill="#ff9e37"/>
<path d="M1060.1 747l13.7 6.3 13.1 -4.9 -13.7 -6.2z" fill="#ffa537"/>
<path d="M952.7 745.1l13.1 6.1 13.7 -6.2 -13.1 -6z" fill="#ff9d37"/>
<path d="M1033.2 745.9l13.6 6.3 13.3 -5.2 -13.6 -6.2z" fill="#ffa137"/>
<path d="M979.5 745l13.3 6.2 13.6 -5.9 -13.3 -6.1z" fill="#ff9d37"/>
<path d="M1006.4 745.3l13.4 6.2 13.4 -5.6 -13.4 -6.1z" fill="#ff9e37"/>
<path d="M804.3 759.1l12.3 6.2 14.5 -8.3 -12.3 -6.1z" fill="#ffba37"/>
<path d="M1181.6 761.9l14.4 6.9 12.4 -3.6 -14.5 -6.8z" fill="#ffc937"/>
<path d="M831.1 757l12.5 6.2 14.4 -8.1 -12.5 -6z" fill="#ffb437"/>
<path d="M1154.7 759.1l14.3 6.7 12.6 -3.9 -14.4 -6.7z" fill="#ffc037"/>
<path d="M858 755.1l12.7 6.2 14.2 -7.7 -12.6 -6z" fill="#ffae37"/>
<path d="M1127.7 756.7l14.2 6.6 12.8 -4.2 -14.2 -6.6z" fill="#ffb737"/>
<path d="M884.9 753.6l12.9 6.2 14.1 -7.3 -12.8 -6.1z" fill="#ffaa37"/>
<path d="M1100.8 754.8l14 6.5 12.9 -4.6 -14 -6.5z" fill="#ffb137"/>
<path d="M911.9 752.5l13 6.2 14 -7 -13 -6.1z" fill="#ffa637"/>
<path d="M1073.8 753.3l13.9 6.4 13.1 -4.9 -13.9 -6.4z" fill="#ffab37"/>
<path d="M938.9 751.7l13.1 6.2 13.8 -6.7 -13.1 -6.1z" fill="#ffa437"/>
<path d="M1046.8 752.2l13.8 6.4 13.2 -5.3 -13.7 -6.3z" fill="#ffa837"/>
<path d="M965.8 751.2l13.3 6.3 13.7 -6.3 -13.3 -6.2z" fill="#ffa337"/>
<path d="M1019.8 751.5l13.6 6.3 13.4 -5.6 -13.6 -6.3z" fill="#ffa537"/>
<path d="M992.8 751.2l13.5 6.3 13.5 -6 -13.4 -6.2z" fill="#ffa337"/>
<path d="M789.6 767.8l12.4 6.4 14.6 -8.9 -12.3 -6.2z" fill="#ffc836"/>
<path d="M816.6 765.3l12.5 6.4 14.5 -8.5 -12.5 -6.2z" fill="#ffc037"/>
<path d="M1196 768.8l14.7 7 12.3 -3.6 -14.6 -7z" fill="#ffd237"/>
<path d="M843.6 763.2l12.7 6.3 14.4 -8.2 -12.7 -6.2z" fill="#ffba37"/>
<path d="M1169 765.8l14.5 6.9 12.5 -3.9 -14.4 -6.9z" fill="#ffc737"/>
<path d="M870.7 761.3l12.8 6.4 14.3 -7.9 -12.9 -6.2z" fill="#ffb437"/>
<path d="M1141.9 763.3l14.4 6.9 12.7 -4.4 -14.3 -6.7z" fill="#ffbf37"/>
<path d="M897.8 759.8l12.9 6.4 14.2 -7.5 -13 -6.2z" fill="#ffb037"/>
<path d="M1114.8 761.3l14.2 6.7 12.9 -4.7 -14.2 -6.6z" fill="#ffb837"/>
<path d="M924.9 758.7l13.1 6.3 14 -7.1 -13.1 -6.2z" fill="#ffad37"/>
<path d="M1087.7 759.7l14.1 6.7 13 -5.1 -14 -6.5z" fill="#ffb337"/>
<path d="M952 757.9l13.3 6.4 13.8 -6.8 -13.3 -6.3z" fill="#ffab37"/>
<path d="M1060.6 758.6l13.9 6.5 13.2 -5.4 -13.9 -6.4z" fill="#ffae37"/>
<path d="M979.1 757.5l13.5 6.4 13.7 -6.4 -13.5 -6.3z" fill="#ffaa37"/>
<path d="M1033.4 757.8l13.8 6.5 13.4 -5.7 -13.8 -6.4z" fill="#ffac37"/>
<path d="M1006.3 757.5l13.6 6.4 13.5 -6.1 -13.6 -6.3z" fill="#ffaa37"/>
<path d="M774.9 777l12.3 6.5 14.8 -9.3 -12.4 -6.4z" fill="#ffd735"/>
<path d="M802 774.2l12.4 6.4 14.7 -8.9 -12.5 -6.4z" fill="#ffce36"/>
<path d="M1210.7 775.8l14.8 7.2 12.3 -3.7 -14.8 -7.1z" fill="#ffdb37"/>
<path d="M829.1 771.7l12.6 6.4 14.6 -8.6 -12.7 -6.3z" fill="#ffc737"/>
<path d="M856.3 769.5l12.8 6.4 14.4 -8.2 -12.8 -6.4z" fill="#ffc037"/>
<path d="M1183.5 772.7l14.7 7.1 12.5 -4 -14.7 -7z" fill="#ffd037"/>
<path d="M883.5 767.7l12.9 6.4 14.3 -7.9 -12.9 -6.4z" fill="#ffbb37"/>
<path d="M1156.3 770.2l14.5 6.9 12.7 -4.4 -14.5 -6.9z" fill="#ffc737"/>
<path d="M910.7 766.2l13.1 6.4 14.2 -7.6 -13.1 -6.3z" fill="#ffb637"/>
<path d="M1129 768l14.4 6.9 12.9 -4.7 -14.4 -6.9z" fill="#ffc037"/>
<path d="M938 765l13.3 6.5 14 -7.2 -13.3 -6.4z" fill="#ffb337"/>
<path d="M1101.8 766.4l14.2 6.8 13 -5.2 -14.2 -6.7z" fill="#ffba37"/>
<path d="M965.3 764.3l13.4 6.5 13.9 -6.9 -13.5 -6.4z" fill="#ffb137"/>
<path d="M1074.5 765.1l14 6.7 13.3 -5.4 -14.1 -6.7z" fill="#ffb637"/>
<path d="M992.6 763.9l13.6 6.5 13.7 -6.5 -13.6 -6.4z" fill="#ffb037"/>
<path d="M1047.2 764.3l13.9 6.7 13.4 -5.9 -13.9 -6.5z" fill="#ffb237"/>
<path d="M1019.9 763.9l13.7 6.6 13.6 -6.2 -13.8 -6.5z" fill="#ffb137"/>
<path d="M760 786.7l12.3 6.6 14.9 -9.8 -12.3 -6.5z" fill="#ffe834"/>
<path d="M787.2 783.5l12.4 6.6 14.8 -9.5 -12.4 -6.4z" fill="#ffde35"/>
<path d="M814.4 780.6l12.6 6.6 14.7 -9.1 -12.6 -6.4z" fill="#ffd536"/>
<path d="M1225.5 783l14.9 7.4 12.3 -3.7 -14.9 -7.4z" fill="#ffe437"/>
<path d="M841.7 778.1l12.8 6.6 14.6 -8.8 -12.8 -6.4z" fill="#ffcd37"/>
<path d="M1198.2 779.8l14.8 7.3 12.5 -4.1 -14.8 -7.2z" fill="#ffd937"/>
<path d="M869.1 775.9l12.9 6.6 14.4 -8.4 -12.9 -6.4z" fill="#ffc637"/>
<path d="M1170.8 777.1l14.7 7.2 12.7 -4.5 -14.7 -7.1z" fill="#ffd037"/>
<path d="M896.4 774.1l13.1 6.6 14.3 -8.1 -13.1 -6.4z" fill="#ffc137"/>
<path d="M1143.4 774.9l14.5 7.1 12.9 -4.9 -14.5 -6.9z" fill="#ffc837"/>
<path d="M923.8 772.6l13.3 6.6 14.2 -7.7 -13.3 -6.5z" fill="#ffbd37"/>
<path d="M951.3 771.5l13.4 6.6 14 -7.3 -13.4 -6.5z" fill="#ffba37"/>
<path d="M1116 773.2l14.4 6.9 13 -5.2 -14.4 -6.9z" fill="#ffc237"/>
<path d="M978.7 770.8l13.6 6.6 13.9 -7 -13.6 -6.5z" fill="#ffb837"/>
<path d="M1088.5 771.8l14.3 6.9 13.2 -5.5 -14.2 -6.8z" fill="#ffbd37"/>
<path d="M1006.2 770.4l13.7 6.7 13.7 -6.6 -13.7 -6.6z" fill="#ffb737"/>
<path d="M1061.1 771l14.1 6.8 13.3 -6 -14 -6.7z" fill="#ffba37"/>
<path d="M1033.6 770.5l13.9 6.7 13.6 -6.2 -13.9 -6.7z" fill="#ffb837"/>
<path d="M744.9 796.8l12.3 6.8 15.1 -10.3 -12.3 -6.6z" fill="#fffb33"/>
<path d="M772.3 793.3l12.4 6.7 14.9 -9.9 -12.4 -6.6z" fill="#ffef34"/>
<path d="M799.6 790.1l12.6 6.7 14.8 -9.6 -12.6 -6.6z" fill="#ffe535"/>
<path d="M827 787.2l12.8 6.7 14.7 -9.2 -12.8 -6.6z" fill="#ffdc36"/>
<path d="M1240.4 790.4l15.2 7.6 12.2 -3.8 -15.1 -7.5z" fill="#ffee37"/>
<path d="M854.5 784.7l12.9 6.7 14.6 -8.9 -12.9 -6.6z" fill="#ffd437"/>
<path d="M1213 787.1l15 7.5 12.4 -4.2 -14.9 -7.4z" fill="#ffe337"/>
<path d="M882 782.5l13.1 6.7 14.4 -8.5 -13.1 -6.6z" fill="#ffcd37"/>
<path d="M1185.5 784.3l14.8 7.3 12.7 -4.5 -14.8 -7.3z" fill="#ffd937"/>
<path d="M909.5 780.7l13.3 6.7 14.3 -8.2 -13.3 -6.6z" fill="#ffc837"/>
<path d="M1157.9 782l14.7 7.2 12.9 -4.9 -14.7 -7.2z" fill="#ffd037"/>
<path d="M937.1 779.2l13.4 6.7 14.2 -7.8 -13.4 -6.6z" fill="#ffc337"/>
<path d="M1130.4 780.1l14.5 7.1 13 -5.2 -14.5 -7.1z" fill="#ffca37"/>
<path d="M964.7 778.1l13.6 6.8 14 -7.5 -13.6 -6.6z" fill="#ffc137"/>
<path d="M1102.8 778.7l14.4 7.1 13.2 -5.7 -14.4 -6.9z" fill="#ffc537"/>
<path d="M992.3 777.4l13.8 6.8 13.8 -7.1 -13.7 -6.7z" fill="#ffbf37"/>
<path d="M1075.2 777.8l14.2 6.9 13.4 -6 -14.3 -6.9z" fill="#ffc137"/>
<path d="M1019.9 777.1l13.9 6.9 13.7 -6.8 -13.9 -6.7z" fill="#ffbe37"/>
<path d="M1047.5 777.2l14.1 6.9 13.6 -6.3 -14.1 -6.8z" fill="#ffbf37"/>
<path d="M729.8 807.5l12.2 6.9 15.2 -10.8 -12.3 -6.8z" fill="#e0ff2f"/>
<path d="M757.2 803.6l12.4 6.8 15.1 -10.4 -12.4 -6.7z" fill="#f9ff33"/>
<path d="M784.7 800l12.6 6.9 14.9 -10.1 -12.6 -6.7z" fill="#fff734"/>
<path d="M812.2 796.8l12.8 6.8 14.8 -9.7 -12.8 -6.7z" fill="#ffec35"/>
<path d="M839.8 793.9l12.9 6.8 14.7 -9.3 -12.9 -6.7z" fill="#ffe336"/>
<path d="M1255.6 798l15.2 7.8 12.3 -3.8 -15.3 -7.8z" fill="#fff837"/>
<path d="M867.4 791.4l13.1 6.8 14.6 -9 -13.1 -6.7z" fill="#ffdb37"/>
<path d="M1228 794.6l15.1 7.6 12.5 -4.2 -15.2 -7.6z" fill="#ffec37"/>
<path d="M895.1 789.2l13.2 6.8 14.5 -8.6 -13.3 -6.7z" fill="#ffd437"/>
<path d="M1200.3 791.6l15 7.6 12.7 -4.6 -15 -7.5z" fill="#ffe237"/>
<path d="M922.8 787.4l13.4 6.8 14.3 -8.3 -13.4 -6.7z" fill="#ffcf37"/>
<path d="M1172.6 789.2l14.9 7.4 12.8 -5 -14.8 -7.3z" fill="#ffd937"/>
<path d="M950.5 785.9l13.6 6.9 14.2 -7.9 -13.6 -6.8z" fill="#ffca37"/>
<path d="M1144.9 787.2l14.7 7.3 13 -5.3 -14.7 -7.2z" fill="#ffd237"/>
<path d="M978.3 784.9l13.7 6.9 14.1 -7.6 -13.8 -6.8z" fill="#ffc837"/>
<path d="M1117.2 785.8l14.5 7.2 13.2 -5.8 -14.5 -7.1z" fill="#ffcd37"/>
<path d="M1006.1 784.2l13.9 7 13.8 -7.2 -13.9 -6.9z" fill="#ffc637"/>
<path d="M1089.4 784.7l14.4 7.1 13.4 -6 -14.4 -7.1z" fill="#ffc937"/>
<path d="M1033.8 784l14.1 7 13.7 -6.9 -14.1 -6.9z" fill="#ffc637"/>
<path d="M1061.6 784.1l14.3 7.1 13.5 -6.5 -14.2 -6.9z" fill="#ffc737"/>
<path d="M742 814.4l12.4 7 15.2 -11 -12.4 -6.8z" fill="#d1ff2e"/>
<path d="M769.6 810.4l12.6 7 15.1 -10.5 -12.6 -6.9z" fill="#eaff31"/>
<path d="M797.3 806.9l12.7 6.9 15 -10.2 -12.8 -6.8z" fill="#fffe34"/>
<path d="M825 803.6l12.9 7 14.8 -9.9 -12.9 -6.8z" fill="#fff335"/>
<path d="M852.7 800.7l13.1 7 14.7 -9.5 -13.1 -6.8z" fill="#ffea36"/>
<path d="M1243.1 802.2l15.3 7.9 12.4 -4.3 -15.2 -7.8z" fill="#fff637"/>
<path d="M880.5 798.2l13.2 6.9 14.6 -9.1 -13.2 -6.8z" fill="#ffe236"/>
<path d="M1215.3 799.2l15.2 7.7 12.6 -4.7 -15.1 -7.6z" fill="#ffec37"/>
<path d="M908.3 796l13.5 7 14.4 -8.8 -13.4 -6.8z" fill="#ffdc37"/>
<path d="M936.2 794.2l13.6 7 14.3 -8.4 -13.6 -6.9z" fill="#ffd637"/>
<path d="M1187.5 796.6l15 7.6 12.8 -5 -15 -7.6z" fill="#ffe337"/>
<path d="M964.1 792.8l13.8 7 14.1 -8 -13.7 -6.9z" fill="#ffd237"/>
<path d="M1159.6 794.5l14.9 7.5 13 -5.4 -14.9 -7.4z" fill="#ffdb37"/>
<path d="M992 791.8l13.9 7 14.1 -7.6 -13.9 -7z" fill="#ffcf37"/>
<path d="M1131.7 793l14.7 7.3 13.2 -5.8 -14.7 -7.3z" fill="#ffd537"/>
<path d="M1020 791.2l14 7 13.9 -7.2 -14.1 -7z" fill="#ffcd37"/>
<path d="M1103.8 791.8l14.5 7.3 13.4 -6.1 -14.5 -7.2z" fill="#ffd137"/>
<path d="M1047.9 791l14.2 7.1 13.8 -6.9 -14.3 -7.1z" fill="#ffcd37"/>
<path d="M1075.9 791.2l14.4 7.2 13.5 -6.6 -14.4 -7.1z" fill="#ffcf37"/>
<path d="M754.4 821.4l12.5 7.1 15.3 -11.1 -12.6 -7z" fill="#c8fe2d"/>
<path d="M782.2 817.4l12.7 7.1 15.1 -10.7 -12.7 -6.9z" fill="#dcff2f"/>
<path d="M810 813.8l12.8 7.1 15.1 -10.3 -12.9 -7z" fill="#f3ff33"/>
<path d="M837.9 810.6l13 7 14.9 -9.9 -13.1 -7z" fill="#fffb35"/>
<path d="M865.8 807.7l13.2 7 14.7 -9.6 -13.2 -6.9z" fill="#fff235"/>
<path d="M893.7 805.1l13.4 7.1 14.7 -9.2 -13.5 -7z" fill="#ffea36"/>
<path d="M1230.5 806.9l15.3 7.9 12.6 -4.7 -15.3 -7.9z" fill="#fff637"/>
<path d="M921.8 803l13.5 7 14.5 -8.8 -13.6 -7z" fill="#ffe337"/>
<path d="M1202.5 804.2l15.2 7.8 12.8 -5.1 -15.2 -7.7z" fill="#ffec37"/>
<path d="M949.8 801.2l13.7 7.1 14.4 -8.5 -13.8 -7z" fill="#ffde37"/>
<path d="M1174.5 802l15 7.7 13 -5.5 -15 -7.6z" fill="#ffe537"/>
<path d="M977.9 799.8l13.9 7.1 14.1 -8.1 -13.9 -7z" fill="#ffda37"/>
<path d="M1146.4 800.3l14.9 7.6 13.2 -5.9 -14.9 -7.5z" fill="#ffde37"/>
<path d="M1005.9 798.8l14.1 7.2 14 -7.8 -14 -7z" fill="#ffd737"/>
<path d="M1118.3 799.1l14.8 7.5 13.3 -6.3 -14.7 -7.3z" fill="#ffda37"/>
<path d="M1034 798.2l14.3 7.3 13.8 -7.4 -14.2 -7.1z" fill="#ffd537"/>
<path d="M1090.3 798.4l14.5 7.4 13.5 -6.7 -14.5 -7.3z" fill="#ffd737"/>
<path d="M1062.1 798.1l14.4 7.3 13.8 -7 -14.4 -7.2z" fill="#ffd637"/>
<path d="M766.9 828.5l12.7 7.2 15.3 -11.2 -12.7 -7.1z" fill="#bffe2d"/>
<path d="M794.9 824.5l12.8 7.2 15.1 -10.8 -12.8 -7.1z" fill="#cfff2e"/>
<path d="M822.8 820.9l13.1 7.2 15 -10.5 -13 -7z" fill="#e4ff31"/>
<path d="M850.9 817.6l13.2 7.2 14.9 -10.1 -13.2 -7z" fill="#f9ff34"/>
<path d="M879 814.7l13.4 7.2 14.7 -9.7 -13.4 -7.1z" fill="#fff935"/>
<path d="M907.1 812.2l13.6 7.2 14.6 -9.4 -13.5 -7z" fill="#fff136"/>
<path d="M935.3 810l13.7 7.3 14.5 -9 -13.7 -7.1z" fill="#ffeb37"/>
<path d="M1217.7 812l15.4 7.9 12.7 -5.1 -15.3 -7.9z" fill="#fff637"/>
<path d="M963.5 808.3l13.9 7.2 14.4 -8.6 -13.9 -7.1z" fill="#ffe537"/>
<path d="M1189.5 809.7l15.2 7.8 13 -5.5 -15.2 -7.8z" fill="#ffee37"/>
<path d="M991.8 806.9l14 7.3 14.2 -8.2 -14.1 -7.2z" fill="#ffe137"/>
<path d="M1161.3 807.9l15.1 7.7 13.1 -5.9 -15 -7.7z" fill="#ffe837"/>
<path d="M1020 806l14.2 7.3 14.1 -7.8 -14.3 -7.3z" fill="#ffdf37"/>
<path d="M1133.1 806.6l14.9 7.6 13.3 -6.3 -14.9 -7.6z" fill="#ffe337"/>
<path d="M1048.3 805.5l14.4 7.4 13.8 -7.5 -14.4 -7.3z" fill="#ffde37"/>
<path d="M1104.8 805.8l14.8 7.5 13.5 -6.7 -14.8 -7.5z" fill="#ffe037"/>
<path d="M1076.5 805.4l14.6 7.4 13.7 -7 -14.5 -7.4z" fill="#ffde37"/>
<path d="M779.6 835.7l12.8 7.3 15.3 -11.3 -12.8 -7.2z" fill="#b5fd2d"/>
<path d="M807.7 831.7l13 7.3 15.2 -10.9 -13.1 -7.2z" fill="#c5fe2e"/>
<path d="M835.9 828.1l13.1 7.3 15.1 -10.6 -13.2 -7.2z" fill="#d5ff2f"/>
<path d="M864.1 824.8l13.3 7.3 15 -10.2 -13.4 -7.2z" fill="#eaff32"/>
<path d="M892.4 821.9l13.5 7.3 14.8 -9.8 -13.6 -7.2z" fill="#fcff35"/>
<path d="M920.7 819.4l13.7 7.3 14.6 -9.4 -13.7 -7.3z" fill="#fff936"/>
<path d="M949 817.3l13.9 7.3 14.5 -9.1 -13.9 -7.2z" fill="#fff237"/>
<path d="M977.4 815.5l14.1 7.4 14.3 -8.7 -14 -7.3z" fill="#ffed37"/>
<path d="M1204.7 817.5l15.4 8 13 -5.6 -15.4 -7.9z" fill="#fff837"/>
<path d="M1005.8 814.2l14.3 7.4 14.1 -8.3 -14.2 -7.3z" fill="#ffea37"/>
<path d="M1176.4 815.6l15.2 7.9 13.1 -6 -15.2 -7.8z" fill="#fff137"/>
<path d="M1034.2 813.3l14.5 7.5 14 -7.9 -14.4 -7.4z" fill="#ffe737"/>
<path d="M1148 814.2l15 7.8 13.4 -6.4 -15.1 -7.7z" fill="#ffec37"/>
<path d="M1062.7 812.9l14.6 7.5 13.8 -7.6 -14.6 -7.4z" fill="#ffe637"/>
<path d="M1119.6 813.3l14.9 7.7 13.5 -6.8 -14.9 -7.6z" fill="#ffe937"/>
<path d="M1091.1 812.8l14.8 7.6 13.7 -7.1 -14.8 -7.5z" fill="#ffe737"/>
<path d="M792.4 843l13 7.5 15.3 -11.5 -13 -7.3z" fill="#acfc2d"/>
<path d="M820.7 839l13.2 7.5 15.1 -11.1 -13.1 -7.3z" fill="#bcfd2e"/>
<path d="M849 835.4l13.4 7.4 15 -10.7 -13.3 -7.3z" fill="#cafe2f"/>
<path d="M877.4 832.1l13.6 7.5 14.9 -10.4 -13.5 -7.3z" fill="#dbff31"/>
<path d="M905.9 829.2l13.7 7.5 14.8 -10 -13.7 -7.3z" fill="#ecff33"/>
<path d="M934.4 826.7l13.9 7.5 14.6 -9.6 -13.9 -7.3z" fill="#fbff36"/>
<path d="M962.9 824.6l14.1 7.5 14.5 -9.2 -14.1 -7.4z" fill="#fffa37"/>
<path d="M991.5 822.9l14.2 7.5 14.4 -8.8 -14.3 -7.4z" fill="#fff537"/>
<path d="M1191.6 823.5l15.4 8 13.1 -6 -15.4 -8z" fill="#fffb37"/>
<path d="M1020.1 821.6l14.4 7.6 14.2 -8.4 -14.5 -7.5z" fill="#fff237"/>
<path d="M1163 822l15.3 7.9 13.3 -6.4 -15.2 -7.9z" fill="#fff637"/>
<path d="M1048.7 820.8l14.5 7.6 14.1 -8 -14.6 -7.5z" fill="#fff037"/>
<path d="M1134.5 821l15 7.8 13.5 -6.8 -15 -7.8z" fill="#fff237"/>
<path d="M1077.3 820.4l14.7 7.7 13.9 -7.7 -14.8 -7.6z" fill="#ffef37"/>
<path d="M1105.9 820.4l14.9 7.8 13.7 -7.2 -14.9 -7.7z" fill="#ffef37"/>
<path d="M805.4 850.5l13.1 7.6 15.4 -11.6 -13.2 -7.5z" fill="#a2fb2d"/>
<path d="M833.9 846.5l13.3 7.5 15.2 -11.2 -13.4 -7.4z" fill="#b2fd2e"/>
<path d="M862.4 842.8l13.5 7.6 15.1 -10.8 -13.6 -7.5z" fill="#c1fe2f"/>
<path d="M891 839.6l13.6 7.5 15 -10.4 -13.7 -7.5z" fill="#cdff30"/>
<path d="M919.6 836.7l13.9 7.6 14.8 -10.1 -13.9 -7.5z" fill="#ddff32"/>
<path d="M948.3 834.2l14 7.6 14.7 -9.7 -14.1 -7.5z" fill="#ecff34"/>
<path d="M977 832.1l14.2 7.6 14.5 -9.3 -14.2 -7.5z" fill="#f8ff36"/>
<path d="M1005.7 830.4l14.4 7.7 14.4 -8.9 -14.4 -7.6z" fill="#fffe37"/>
<path d="M1034.5 829.2l14.5 7.7 14.2 -8.5 -14.5 -7.6z" fill="#fffa37"/>
<path d="M1178.3 829.9l15.4 8.2 13.3 -6.6 -15.4 -8z" fill="#feff37"/>
<path d="M1063.2 828.4l14.8 7.8 14 -8.1 -14.7 -7.7z" fill="#fff837"/>
<path d="M1149.5 828.8l15.3 8 13.5 -6.9 -15.3 -7.9z" fill="#fffb37"/>
<path d="M1092 828.1l14.9 7.8 13.9 -7.7 -14.9 -7.8z" fill="#fff837"/>
<path d="M1120.8 828.2l15.1 7.9 13.6 -7.3 -15 -7.8z" fill="#fff937"/>
<path d="M818.5 858.1l13.3 7.6 15.4 -11.7 -13.3 -7.5z" fill="#98fb2d"/>
<path d="M847.2 854l13.5 7.7 15.2 -11.3 -13.5 -7.6z" fill="#a8fc2e"/>
<path d="M875.9 850.4l13.6 7.7 15.1 -11 -13.6 -7.5z" fill="#b7fd2f"/>
<path d="M904.6 847.1l13.9 7.7 15 -10.5 -13.9 -7.6z" fill="#c3fe30"/>
<path d="M933.5 844.3l14 7.7 14.8 -10.2 -14 -7.6z" fill="#cfff30"/>
<path d="M962.3 841.8l14.2 7.7 14.7 -9.8 -14.2 -7.6z" fill="#dcff32"/>
<path d="M991.2 839.7l14.4 7.8 14.5 -9.4 -14.4 -7.7z" fill="#e8ff34"/>
<path d="M1020.1 838.1l14.6 7.8 14.3 -9 -14.5 -7.7z" fill="#f1ff36"/>
<path d="M1049 836.9l14.8 7.9 14.2 -8.6 -14.8 -7.8z" fill="#f7ff37"/>
<path d="M1078 836.2l14.9 7.9 14 -8.2 -14.9 -7.8z" fill="#fbff37"/>
<path d="M1164.8 836.8l15.4 8.2 13.5 -6.9 -15.4 -8.2z" fill="#f4ff36"/>
<path d="M1106.9 835.9l15.1 8 13.9 -7.8 -15.1 -7.9z" fill="#fcff37"/>
<path d="M1135.9 836.1l15.2 8.1 13.7 -7.4 -15.3 -8z" fill="#f9ff37"/>
<path d="M831.8 865.7l13.5 7.9 15.4 -11.9 -13.5 -7.7z" fill="#8ffa2d"/>
<path d="M860.7 861.7l13.6 7.8 15.2 -11.4 -13.6 -7.7z" fill="#9efb2e"/>
<path d="M889.5 858.1l13.9 7.8 15.1 -11.1 -13.9 -7.7z" fill="#adfc2f"/>
<path d="M918.5 854.8l14 7.8 15 -10.6 -14 -7.7z" fill="#b9fd2f"/>
<path d="M947.5 852l14.2 7.8 14.8 -10.3 -14.2 -7.7z" fill="#c4fe30"/>
<path d="M976.5 849.5l14.4 7.9 14.7 -9.9 -14.4 -7.8z" fill="#ceff31"/>
<path d="M1005.6 847.5l14.5 7.9 14.6 -9.5 -14.6 -7.8z" fill="#d7ff33"/>
<path d="M1034.7 845.9l14.7 8 14.4 -9.1 -14.8 -7.9z" fill="#e0ff34"/>
<path d="M1063.8 844.8l14.9 8 14.2 -8.7 -14.9 -7.9z" fill="#e6ff35"/>
<path d="M1092.9 844.1l15.1 8.1 14 -8.3 -15.1 -8z" fill="#e9ff35"/>
<path d="M1151.1 844.2l15.5 8.3 13.6 -7.5 -15.4 -8.2z" fill="#e7ff35"/>
<path d="M1122 843.9l15.3 8.2 13.8 -7.9 -15.2 -8.1z" fill="#eaff35"/>
<path d="M845.3 873.6l13.6 7.9 15.4 -12 -13.6 -7.8z" fill="#86fa2d"/>
<path d="M874.3 869.5l13.8 8 15.3 -11.6 -13.9 -7.8z" fill="#95fa2e"/>
<path d="M903.4 865.9l14 7.9 15.1 -11.2 -14 -7.8z" fill="#a3fb2f"/>
<path d="M932.5 862.6l14.2 8 15 -10.8 -14.2 -7.8z" fill="#affc2f"/>
<path d="M961.7 859.8l14.3 8 14.9 -10.4 -14.4 -7.9z" fill="#bafd30"/>
<path d="M990.9 857.4l14.5 8 14.7 -10 -14.5 -7.9z" fill="#c3fe31"/>
<path d="M1020.1 855.4l14.8 8.1 14.5 -9.6 -14.7 -8z" fill="#cbfe32"/>
<path d="M1049.4 853.9l14.9 8.1 14.4 -9.2 -14.9 -8z" fill="#d0ff33"/>
<path d="M1078.7 852.8l15.1 8.2 14.2 -8.8 -15.1 -8.1z" fill="#d5ff33"/>
<path d="M1108 852.2l15.3 8.3 14 -8.4 -15.3 -8.2z" fill="#d7ff33"/>
<path d="M1137.3 852.1l15.4 8.4 13.9 -8 -15.5 -8.3z" fill="#d7ff33"/>
<path d="M858.9 881.5l13.8 8.1 15.4 -12.1 -13.8 -8z" fill="#7df92d"/>
<path d="M888.1 877.5l14 8 15.3 -11.7 -14 -7.9z" fill="#8bfa2e"/>
<path d="M917.4 873.8l14.1 8.1 15.2 -11.3 -14.2 -8z" fill="#98fb2e"/>
<path d="M946.7 870.6l14.3 8.1 15 -10.9 -14.3 -8z" fill="#a5fb2f"/>
<path d="M976 867.8l14.6 8.1 14.8 -10.5 -14.5 -8z" fill="#b0fc30"/>
<path d="M1005.4 865.4l14.8 8.2 14.7 -10.1 -14.8 -8.1z" fill="#b9fd31"/>
<path d="M1034.9 863.5l14.9 8.2 14.5 -9.7 -14.9 -8.1z" fill="#c0fe32"/>
<path d="M1064.3 862l15.1 8.3 14.4 -9.3 -15.1 -8.2z" fill="#c5fe33"/>
<path d="M1093.8 861l15.3 8.3 14.2 -8.8 -15.3 -8.3z" fill="#c8fe33"/>
<path d="M1123.3 860.5l15.4 8.4 14 -8.4 -15.4 -8.4z" fill="#cafe33"/>
<path d="M872.7 889.6l13.9 8.2 15.5 -12.3 -14 -8z" fill="#74f92d"/>
<path d="M902.1 885.5l14.1 8.2 15.3 -11.8 -14.1 -8.1z" fill="#82fa2d"/>
<path d="M931.5 881.9l14.4 8.2 15.1 -11.4 -14.3 -8.1z" fill="#8ffa2e"/>
<path d="M961 878.7l14.6 8.2 15 -11 -14.6 -8.1z" fill="#9bfb2f"/>
<path d="M990.6 875.9l14.7 8.3 14.9 -10.6 -14.8 -8.2z" fill="#a5fb30"/>
<path d="M1020.2 873.6l14.9 8.3 14.7 -10.2 -14.9 -8.2z" fill="#aefc31"/>
<path d="M1049.8 871.7l15.1 8.4 14.5 -9.8 -15.1 -8.3z" fill="#b5fd32"/>
<path d="M1079.4 870.3l15.3 8.4 14.4 -9.4 -15.3 -8.3z" fill="#bafd33"/>
<path d="M1109.1 869.3l15.4 8.6 14.2 -9 -15.4 -8.4z" fill="#bdfd33"/>
<path d="M886.6 897.8l14.2 8.3 15.4 -12.4 -14.1 -8.2z" fill="#6af92d"/>
<path d="M916.2 893.7l14.3 8.4 15.4 -12 -14.4 -8.2z" fill="#79f92d"/>
<path d="M945.9 890.1l14.5 8.4 15.2 -11.6 -14.6 -8.2z" fill="#85fa2e"/>
<path d="M975.6 886.9l14.7 8.4 15 -11.1 -14.7 -8.3z" fill="#91fa2f"/>
<path d="M1005.3 884.2l14.9 8.4 14.9 -10.7 -14.9 -8.3z" fill="#9afb30"/>
<path d="M1035.1 881.9l15.1 8.5 14.7 -10.3 -15.1 -8.4z" fill="#a3fb31"/>
<path d="M1064.9 880.1l15.3 8.5 14.5 -9.9 -15.3 -8.4z" fill="#aafc32"/>
<path d="M1094.7 878.7l15.5 8.6 14.3 -9.4 -15.4 -8.6z" fill="#affc33"/>
<path d="M900.8 906.1l14.3 8.4 15.4 -12.4 -14.3 -8.4z" fill="#61f92d"/>
<path d="M930.5 902.1l14.5 8.4 15.4 -12 -14.5 -8.4z" fill="#6ff92d"/>
<path d="M960.4 898.5l14.7 8.5 15.2 -11.7 -14.7 -8.4z" fill="#7cf92e"/>
<path d="M990.3 895.3l14.9 8.5 15 -11.2 -14.9 -8.4z" fill="#87fa2f"/>
<path d="M1020.2 892.6l15.1 8.6 14.9 -10.8 -15.1 -8.5z" fill="#90fa30"/>
<path d="M1050.2 890.4l15.3 8.6 14.7 -10.4 -15.3 -8.5z" fill="#98fa31"/>
<path d="M1080.2 888.6l15.5 8.7 14.5 -10 -15.5 -8.6z" fill="#9efb32"/>
<path d="M915.1 914.5l14.4 8.6 15.5 -12.6 -14.5 -8.4z" fill="#57f82c"/>
<path d="M945 910.5l14.7 8.6 15.4 -12.1 -14.7 -8.5z" fill="#65f92d"/>
<path d="M975.1 907l14.9 8.6 15.2 -11.8 -14.9 -8.5z" fill="#72f92e"/>
<path d="M1005.2 903.8l15.1 8.7 15 -11.3 -15.1 -8.6z" fill="#7dfa2f"/>
<path d="M1035.3 901.2l15.3 8.7 14.9 -10.9 -15.3 -8.6z" fill="#86fa30"/>
<path d="M1065.5 899l15.4 8.8 14.8 -10.5 -15.5 -8.7z" fill="#8efa31"/>
<path d="M929.5 923.1l14.7 8.8 15.5 -12.8 -14.7 -8.6z" fill="#4ef82d"/>
<path d="M959.7 919.1l14.9 8.8 15.4 -12.3 -14.9 -8.6z" fill="#5cf82d"/>
<path d="M990 915.6l15 8.8 15.3 -11.9 -15.1 -8.7z" fill="#68f92e"/>
<path d="M1020.3 912.5l15.2 8.8 15.1 -11.4 -15.3 -8.7z" fill="#73f92f"/>
<path d="M1050.6 909.9l15.4 8.9 14.9 -11 -15.4 -8.8z" fill="#7cf930"/>
<path d="M944.2 931.9l14.9 8.8 15.5 -12.8 -14.9 -8.8z" fill="#49f830"/>
<path d="M974.6 927.9l15 8.9 15.4 -12.4 -15 -8.8z" fill="#52f82d"/>
<path d="M1005 924.4l15.3 8.9 15.2 -12 -15.2 -8.8z" fill="#5ef82e"/>
<path d="M1035.5 921.3l15.5 9 15 -11.5 -15.4 -8.9z" fill="#69f92f"/>
<path d="M959.1 940.7l15 9 15.5 -12.9 -15 -8.9z" fill="#43f734"/>
<path d="M989.6 936.8l15.3 9 15.4 -12.5 -15.3 -8.9z" fill="#4bf830"/>
<path d="M1020.3 933.3l15.4 9.1 15.3 -12.1 -15.5 -9z" fill="#54f82e"/>
<path d="M974.1 949.7l15.2 9.2 15.6 -13.1 -15.3 -9z" fill="#3ef737"/>
<path d="M1004.9 945.8l15.4 9.2 15.4 -12.6 -15.4 -9.1z" fill="#46f734"/>
<path d="M989.3 958.9l15.4 9.3 15.6 -13.2 -15.4 -9.2z" fill="#38f73a"/>
</g></g>
<path d="M729.8 807.5L744.9 796.8L760 786.7L774.9 777L789.6 767.8L804.3 759.1L818.8 750.9L833.1 743.1L847.3 735.8L861.4 728.9L875.4 722.5L889.2 716.5L902.8 711L916.4 705.9L929.7 701.2L943 696.9L956.1 693L969 689.6L981.8 686.5L994.5 683.8L1007 681.6M742 814.4L757.2 803.6L772.3 793.3L787.2 783.5L802 774.2L816.6 765.3L831.1 757L845.5 749.1L859.7 741.6L873.8 734.6L887.8 728.1L901.6 722L915.3 716.3L928.8 711.1L942.2 706.3L955.4 701.9L968.5 697.9L981.5 694.3L994.3 691.2L1006.9 688.4L1019.5 686M754.4 821.4L769.6 810.4L784.7 800L799.6 790.1L814.4 780.6L829.1 771.7L843.6 763.2L858 755.1L872.3 747.6L886.4 740.4L900.3 733.8L914.2 727.6L927.8 721.8L941.4 716.4L954.8 711.5L968 707L981.1 702.9L994.1 699.2L1006.9 696L1019.5 693.1L1032 690.6M766.9 828.5L782.2 817.4L797.3 806.9L812.2 796.8L827 787.2L841.7 778.1L856.3 769.5L870.7 761.3L884.9 753.6L899.1 746.4L913 739.6L926.9 733.3L940.5 727.4L954.1 721.9L967.5 716.9L980.7 712.3L993.8 708.1L1006.8 704.3L1019.6 700.9L1032.2 697.9L1044.7 695.3M779.6 835.7L794.9 824.5L810 813.8L825 803.6L839.8 793.9L854.5 784.7L869.1 775.9L883.5 767.7L897.8 759.8L911.9 752.5L925.9 745.6L939.7 739.1L953.4 733.1L966.9 727.5L980.3 722.4L993.6 717.7L1006.7 713.4L1019.6 709.5L1032.4 706L1045.1 702.9L1057.6 700.2M792.4 843L807.7 831.7L822.8 820.9L837.9 810.6L852.7 800.7L867.4 791.4L882 782.5L896.4 774.1L910.7 766.2L924.9 758.7L938.9 751.7L952.7 745.1L966.4 739L979.9 733.3L993.3 728.1L1006.6 723.2L1019.7 718.8L1032.6 714.8L1045.4 711.3L1058.1 708.1L1070.6 705.3M805.4 850.5L820.7 839L835.9 828.1L850.9 817.6L865.8 807.7L880.5 798.2L895.1 789.2L909.5 780.7L923.8 772.6L938 765L952 757.9L965.8 751.2L979.5 745L993.1 739.2L1006.5 733.9L1019.7 728.9L1032.8 724.4L1045.8 720.3L1058.6 716.7L1071.2 713.4L1083.7 710.5M818.5 858.1L833.9 846.5L849 835.4L864.1 824.8L879 814.7L893.7 805.1L908.3 796L922.8 787.4L937.1 779.2L951.3 771.5L965.3 764.3L979.1 757.5L992.8 751.2L1006.4 745.3L1019.8 739.8L1033 734.8L1046.1 730.2L1059.1 726L1071.8 722.2L1084.5 718.9L1097 715.9M831.8 865.7L847.2 854L862.4 842.8L877.4 832.1L892.4 821.9L907.1 812.2L921.8 803L936.2 794.2L950.5 785.9L964.7 778.1L978.7 770.8L992.6 763.9L1006.3 757.5L1019.8 751.5L1033.2 745.9L1046.5 740.8L1059.6 736.1L1072.5 731.8L1085.3 728L1097.9 724.5L1110.4 721.4M845.3 873.6L860.7 861.7L875.9 850.4L891 839.6L905.9 829.2L920.7 819.4L935.3 810L949.8 801.2L964.1 792.8L978.3 784.9L992.3 777.4L1006.2 770.4L1019.9 763.9L1033.4 757.8L1046.8 752.2L1060.1 747L1073.2 742.2L1086.1 737.8L1098.9 733.8L1111.5 730.3L1123.9 727.2M858.9 881.5L874.3 869.5L889.5 858.1L904.6 847.1L919.6 836.7L934.4 826.7L949 817.3L963.5 808.3L977.9 799.8L992 791.8L1006.1 784.2L1019.9 777.1L1033.6 770.5L1047.2 764.3L1060.6 758.6L1073.8 753.3L1086.9 748.4L1099.8 743.9L1112.6 739.9L1125.2 736.3L1137.6 733.1M872.7 889.6L888.1 877.5L903.4 865.9L918.5 854.8L933.5 844.3L948.3 834.2L962.9 824.6L977.4 815.5L991.8 806.9L1005.9 798.8L1020 791.2L1033.8 784L1047.5 777.2L1061.1 771L1074.5 765.1L1087.7 759.7L1100.8 754.8L1113.7 750.2L1126.5 746.1L1139 742.4L1151.5 739.1M886.6 897.8L902.1 885.5L917.4 873.8L932.5 862.6L947.5 852L962.3 841.8L977 832.1L991.5 822.9L1005.8 814.2L1020 806L1034 798.2L1047.9 791L1061.6 784.1L1075.2 777.8L1088.5 771.8L1101.8 766.4L1114.8 761.3L1127.7 756.7L1140.5 752.5L1153.1 748.7L1165.5 745.4M900.8 906.1L916.2 893.7L931.5 881.9L946.7 870.6L961.7 859.8L976.5 849.5L991.2 839.7L1005.7 830.4L1020.1 821.6L1034.2 813.3L1048.3 805.5L1062.1 798.1L1075.9 791.2L1089.4 784.7L1102.8 778.7L1116 773.2L1129 768L1141.9 763.3L1154.7 759.1L1167.2 755.2L1179.6 751.8M915.1 914.5L930.5 902.1L945.9 890.1L961 878.7L976 867.8L990.9 857.4L1005.6 847.5L1020.1 838.1L1034.5 829.2L1048.7 820.8L1062.7 812.9L1076.5 805.4L1090.3 798.4L1103.8 791.8L1117.2 785.8L1130.4 780.1L1143.4 774.9L1156.3 770.2L1169 765.8L1181.6 761.9L1193.9 758.4M929.5 923.1L945 910.5L960.4 898.5L975.6 886.9L990.6 875.9L1005.4 865.4L1020.1 855.4L1034.7 845.9L1049 836.9L1063.2 828.4L1077.3 820.4L1091.1 812.8L1104.8 805.8L1118.3 799.1L1131.7 793L1144.9 787.2L1157.9 782L1170.8 777.1L1183.5 772.7L1196 768.8L1208.4 765.2M944.2 931.9L959.7 919.1L975.1 907L990.3 895.3L1005.3 884.2L1020.2 873.6L1034.9 863.5L1049.4 853.9L1063.8 844.8L1078 836.2L1092 828.1L1105.9 820.4L1119.6 813.3L1133.1 806.6L1146.4 800.3L1159.6 794.5L1172.6 789.2L1185.5 784.3L1198.2 779.8L1210.7 775.8L1223 772.2M959.1 940.7L974.6 927.9L990 915.6L1005.2 903.8L1020.2 892.6L1035.1 881.9L1049.8 871.7L1064.3 862L1078.7 852.8L1092.9 844.1L1106.9 835.9L1120.8 828.2L1134.5 821L1148 814.2L1161.3 807.9L1174.5 802L1187.5 796.6L1200.3 791.6L1213 787.1L1225.5 783L1237.8 779.3M974.1 949.7L989.6 936.8L1005 924.4L1020.3 912.5L1035.3 901.2L1050.2 890.4L1064.9 880.1L1079.4 870.3L1093.8 861L1108 852.2L1122 843.9L1135.9 836.1L1149.5 828.8L1163 822L1176.4 815.6L1189.5 809.7L1202.5 804.2L1215.3 799.2L1228 794.6L1240.4 790.4L1252.7 786.7M989.3 958.9L1004.9 945.8L1020.3 933.3L1035.5 921.3L1050.6 909.9L1065.5 899L1080.2 888.6L1094.7 878.7L1109.1 869.3L1123.3 860.5L1137.3 852.1L1151.1 844.2L1164.8 836.8L1178.3 829.9L1191.6 823.5L1204.7 817.5L1217.7 812L1230.5 806.9L1243.1 802.2L1255.6 798L1267.8 794.2M1004.7 968.2L1020.3 955L1035.7 942.4L1051 930.3L1066 918.8L1080.9 907.8L1095.7 897.3L1110.2 887.3L1124.5 877.9L1138.7 868.9L1152.7 860.5L1166.6 852.5L1180.2 845L1193.7 838.1L1207 831.5L1220.1 825.5L1233.1 819.9L1245.8 814.8L1258.4 810.1L1270.8 805.8L1283.1 802M729.8 807.5L792.4 843L858.9 881.5L929.5 923.1L1004.7 968.2M744.9 796.8L807.7 831.7L874.3 869.5L945 910.5L1020.3 955M760 786.7L822.8 820.9L889.5 858.1L960.4 898.5L1035.7 942.4M774.9 777L837.9 810.6L904.6 847.1L975.6 886.9L1051 930.3M789.6 767.8L852.7 800.7L919.6 836.7L990.6 875.9L1066 918.8M804.3 759.1L867.4 791.4L907.1 812.2L934.4 826.7L976.5 849.5L1005.4 865.4L1050.2 890.4L1080.9 907.8M818.8 750.9L856.3 769.5L882 782.5L921.8 803L949 817.3L991.2 839.7L1020.1 855.4L1064.9 880.1L1095.7 897.3M833.1 743.1L870.7 761.3L896.4 774.1L936.2 794.2L963.5 808.3L1005.7 830.4L1034.7 845.9L1079.4 870.3L1110.2 887.3M847.3 735.8L884.9 753.6L910.7 766.2L950.5 785.9L977.9 799.8L1020.1 821.6L1049 836.9L1093.8 861L1124.5 877.9M861.4 728.9L899.1 746.4L924.9 758.7L964.7 778.1L992 791.8L1034.2 813.3L1063.2 828.4L1108 852.2L1138.7 868.9M875.4 722.5L913 739.6L938.9 751.7L978.7 770.8L1006.1 784.2L1048.3 805.5L1077.3 820.4L1122 843.9L1152.7 860.5M889.2 716.5L926.9 733.3L952.7 745.1L992.6 763.9L1019.9 777.1L1062.1 798.1L1091.1 812.8L1135.9 836.1L1166.6 852.5M902.8 711L940.5 727.4L966.4 739L1006.3 757.5L1033.6 770.5L1075.9 791.2L1104.8 805.8L1149.5 828.8L1180.2 845M916.4 705.9L954.1 721.9L979.9 733.3L1019.8 751.5L1047.2 764.3L1089.4 784.7L1118.3 799.1L1163 822L1193.7 838.1M929.7 701.2L967.5 716.9L993.3 728.1L1033.2 745.9L1060.6 758.6L1102.8 778.7L1131.7 793L1176.4 815.6L1207 831.5M943 696.9L980.7 712.3L1006.6 723.2L1046.5 740.8L1073.8 753.3L1116 773.2L1144.9 787.2L1189.5 809.7L1220.1 825.5M956.1 693L993.8 708.1L1019.7 718.8L1059.6 736.1L1086.9 748.4L1129 768L1157.9 782L1202.5 804.2L1233.1 819.9M969 689.6L1006.8 704.3L1032.6 714.8L1072.5 731.8L1099.8 743.9L1141.9 763.3L1170.8 777.1L1215.3 799.2L1245.8 814.8M981.8 686.5L1019.6 700.9L1045.4 711.3L1085.3 728L1112.6 739.9L1154.7 759.1L1183.5 772.7L1228 794.6L1258.4 810.1M994.5 683.8L1032.2 697.9L1058.1 708.1L1097.9 724.5L1125.2 736.3L1167.2 755.2L1196 768.8L1240.4 790.4L1270.8 805.8M1007 681.6L1044.7 695.3L1070.6 705.3L1110.4 721.4L1137.6 733.1L1179.6 751.8L1208.4 765.2L1252.7 786.7L1283.1 802" fill="none" stroke="#000" stroke-opacity="0.9" stroke-width="1.7" stroke-linejoin="round" stroke-linecap="round"/>
<path d="M729.8 807.5L792.4 843L858.9 881.5L929.5 923.1L1004.7 968.2L1020.3 955L1035.7 942.4L1051 930.3L1066 918.8L1080.9 907.8L1095.7 897.3L1110.2 887.3L1124.6 877.9L1138.7 868.9L1152.7 860.5L1166.6 852.5L1180.2 845L1193.7 838.1L1207 831.5L1220.1 825.5L1233.1 819.9L1245.8 814.8L1258.4 810.1L1270.8 805.8L1283.1 802L1252.7 786.7L1208.4 765.2L1179.6 751.8L1137.6 733.1L1110.4 721.4L1070.6 705.3L1044.7 695.3L1007 681.6L994.5 683.8L981.8 686.5L969 689.6L956.1 693L943 696.9L929.7 701.2L916.4 705.9L902.8 711L889.2 716.5L875.4 722.5L861.4 728.9L847.3 735.8L833.1 743.1L818.8 750.9L804.3 759.1L789.6 767.8L774.9 777L760 786.7L744.9 796.8Z" fill="none" stroke="#000" stroke-opacity="0.7" stroke-width="1.3" stroke-linejoin="round"/>
<path d="M1000 785.5a5 5 0 0 1 10 0z" fill="#c40000" stroke="#4a0808" stroke-width="0.9"/>
<g font-family="'Liberation Sans',sans-serif" font-size="15.5" fill="#484848">
<text x="729.4" y="964.7" text-anchor="end">50</text>
<text x="727" y="919.2" text-anchor="end">60</text>
<text x="724.7" y="873.7" text-anchor="end">70</text>
<text x="722.3" y="828.2" text-anchor="end">80</text>
<text x="719.9" y="782.8" text-anchor="end">90</text>
<text x="717.6" y="737.3" text-anchor="end">100</text>
<text x="715.2" y="691.8" text-anchor="end">110</text>
<text x="734.8" y="1071.5" text-anchor="end">30</text>
<text x="800.1" y="1105.2" text-anchor="end">40</text>
<text x="865.5" y="1138.8" text-anchor="end">50</text>
<text x="930.9" y="1172.5" text-anchor="end">60</text>
<text x="996.2" y="1206.2" text-anchor="end">70</text>
<text x="1012.2" y="1206.2" text-anchor="start">0.05</text>
<text x="1065.2" y="1179.5" text-anchor="start">0.07</text>
<text x="1118.2" y="1152.8" text-anchor="start">0.09</text>
<text x="1171.2" y="1126.2" text-anchor="start">0.11</text>
<text x="1224.2" y="1099.5" text-anchor="start">0.13</text>
<text x="1277.2" y="1072.8" text-anchor="start">0.15</text>
</g>
<g font-family="'Liberation Serif',serif" font-weight="bold" fill="#111" text-anchor="middle">
<text x="679" y="653" font-size="35" text-anchor="start">(e)</text>
<text transform="translate(682.7 866.7) rotate(-90)" font-size="24" textLength="143" lengthAdjust="spacingAndGlyphs" y="7.2">Cr(VI) removal (%)</text>
<text transform="translate(826 1155) rotate(28.5)" font-size="20" textLength="247" lengthAdjust="spacingAndGlyphs" y="6">A: Cr initial concentration (mg/L)</text>
<text transform="translate(1180 1148) rotate(-26.4)" font-size="20" textLength="225" lengthAdjust="spacingAndGlyphs" y="6">B: BM-WB addition amount (g)</text>
</g>
</g>
<g id="p_f">
<path d="M1411.6 969.9L1679 871.6M1679 871.6L1935.1 976M1409 925.9L1679.1 831.5M1679.1 831.5L1937.8 931.8M1406.5 882L1679.1 791.3M1679.1 791.3L1940.5 887.6M1403.9 838L1679.1 751.2M1679.1 751.2L1943.2 843.4M1401.4 794.1L1679.1 711M1679.1 711L1945.9 799.1M1398.8 750.1L1679.2 670.9M1679.2 670.9L1948.6 754.9M1396.3 706.2L1679.2 630.7M1679.2 630.7L1951.3 710.7M1478.4 945.3L1467 687.3M1545.3 920.7L1537.8 668.5M1612.2 896.2L1608.5 649.6M1730.2 892.5L1733.6 646.7M1781.4 913.4L1788 662.7M1832.6 934.3L1842.5 678.7M1883.8 955.2L1896.9 694.7M1416.3 1051.8L1396.3 706.2M1679 946.5L1679.2 630.7M1930 1058.5L1951.3 710.7" fill="none" stroke="#262626" stroke-width="1.75" stroke-linecap="round"/>
<polygon points="1416.3,1051.8 1664.8,1193 1930,1058.5 1679,946.5" fill="#626262" stroke="#111" stroke-width="2" stroke-linejoin="round"/>
<path d="M1576 987.8L1592.9 991L1608.6 995.5L1614 997.5L1624.1 1002L1628.6 1004.5L1636.9 1009.9L1644 1015.9L1649.7 1022.5L1652 1026L1654.6 1031L1656.6 1037L1657.6 1042.4L1657.8 1047.1L1657.4 1052.2L1656.4 1057.5L1654.6 1063.3L1652 1069.5L1646.2 1079.4L1643.3 1083.6L1636.5 1091.8L1625.8 1102.7L1617.6 1110.1L1608.7 1117.2L1594.2 1127.5L1572.8 1140.7" fill="none" stroke="#e09f1b" stroke-width="3" stroke-linecap="butt" stroke-linejoin="round"/>
<path d="M1644.7 960.1L1656.4 963.4L1667.4 967.2L1677.7 971.3L1687.3 975.7L1696.2 980.5L1704.4 985.7L1715.4 994.2L1721.8 1000.4L1727.4 1007.1L1732 1014.3L1733.9 1018.2L1736.8 1026.4L1737.7 1030.8L1738.4 1037L1738.2 1045.3L1737.3 1051.3L1734.9 1060.2L1731.4 1068.8L1727.8 1075.7L1723.2 1083.2L1717.4 1091.3L1706 1104.7L1690.9 1119.7L1673.8 1134.4L1650 1152.2L1623.7 1169.7" fill="none" stroke="#e0dc1b" stroke-width="3" stroke-linecap="butt" stroke-linejoin="round"/>
<path d="M1784.1 993.4L1790.8 1002.2L1794.4 1008.4L1796.9 1013.7L1799.9 1022.9L1800.8 1028L1801.4 1034.5L1801.3 1041.3L1800.7 1046.7L1798.3 1056.8L1793.9 1068.4L1787.7 1080.1L1779.4 1092.4L1769.6 1104.8L1756.3 1119.2L1740.6 1134.1L1723.5 1148.8L1704.9 1163.4L1685 1178L1663.8 1192.4" fill="none" stroke="#8add16" stroke-width="3" stroke-linecap="butt" stroke-linejoin="round"/>
<path d="M1855.6 1025.3L1856.3 1035.8L1855.2 1046.7L1852.5 1057.5L1848.6 1067.7L1842.1 1080.3L1834.9 1091.4L1825.2 1104.2L1813.5 1117.6" fill="none" stroke="#45da16" stroke-width="3" stroke-linecap="butt" stroke-linejoin="round"/>
<path d="M1905.3 1047.4L1903.3 1055.4L1901 1062.1L1898 1069.2L1894.1 1076.8" fill="none" stroke="#19d829" stroke-width="3" stroke-linecap="butt" stroke-linejoin="round"/>
<g fill="#000"><circle cx="1411.6" cy="969.9" r="2.7"/><circle cx="1409" cy="925.9" r="2.7"/><circle cx="1406.5" cy="882" r="2.7"/><circle cx="1403.9" cy="838" r="2.7"/><circle cx="1401.4" cy="794.1" r="2.7"/><circle cx="1398.8" cy="750.1" r="2.7"/><circle cx="1396.3" cy="706.2" r="2.7"/><circle cx="1416.3" cy="1051.8" r="2.7"/><circle cx="1466" cy="1080" r="2.7"/><circle cx="1515.7" cy="1108.3" r="2.7"/><circle cx="1565.4" cy="1136.5" r="2.7"/><circle cx="1615.1" cy="1164.8" r="2.7"/><circle cx="1664.8" cy="1193" r="2.7"/><circle cx="1731.1" cy="1159.4" r="2.7"/><circle cx="1797.4" cy="1125.8" r="2.7"/><circle cx="1863.7" cy="1092.1" r="2.7"/><circle cx="1930" cy="1058.5" r="2.7"/></g>
<circle cx="1679.2" cy="729" r="6" fill="#c40000" stroke="#4a0808" stroke-width="1"/>
<line x1="1664.5" y1="945.5" x2="1664.5" y2="936" stroke="#333" stroke-width="1.4"/><circle cx="1664.5" cy="945.5" r="6" fill="#ffc9c9" stroke="#7d6060" stroke-width="1"/>
<line x1="1941.2" y1="885.3" x2="1940.5" y2="871" stroke="#333" stroke-width="1.4"/><circle cx="1941.2" cy="885.3" r="6" fill="#ffc9c9" stroke="#7d6060" stroke-width="1"/>
<clipPath id="cp_f"><path d="M1400.3 775.7L1411.8 778.6L1423.4 781.9L1435.3 785.8L1447.3 790.2L1459.5 795.2L1471.9 800.7L1484.5 806.7L1497.3 813.3L1510.2 820.5L1523.3 828.3L1536.6 836.7L1550.1 845.6L1563.8 855.2L1577.6 865.4L1591.7 876.2L1605.9 887.6L1620.2 899.7L1634.8 912.4L1649.5 925.8L1664.4 939.8L1695.7 929.7L1741.1 916.2L1770.3 908.2L1812.6 897.8L1839.8 891.8L1879.2 884.1L1904.6 879.8L1941.3 874.6L1912.8 852.6L1898.7 842.2L1870.9 822.9L1857.2 813.9L1843.6 805.3L1830.2 797.2L1816.8 789.5L1803.6 782.2L1790.6 775.4L1777.7 769L1764.9 763L1752.2 757.3L1739.7 752.1L1727.3 747.3L1715.1 742.9L1703 738.8L1691 735.1L1679.2 731.8L1654.2 731.2L1641.5 731.2L1615.5 732.1L1589 734.1L1575.4 735.5L1547.9 739.1L1519.7 744L1505.3 746.8L1476.2 753.5L1446.3 761.4L1431.1 765.8Z"/></clipPath>
<g clip-path="url(#cp_f)"><g filter="url(#sm)">
<path d="M1667.5 728.9l11.7 2.9 12.2 0.7 -11.7 -2.9z" fill="#b1fc31"/>
<path d="M1679.2 731.8l11.8 3.3 12.3 0.7 -11.9 -3.3z" fill="#b5fd31"/>
<path d="M1655.1 728.5l11.7 2.9 12.4 0.4 -11.7 -2.9z" fill="#c5fe32"/>
<path d="M1691 735.1l12 3.7 12.2 0.7 -11.9 -3.7z" fill="#b8fd31"/>
<path d="M1642.5 728.3l11.7 2.9 12.6 0.2 -11.7 -2.9z" fill="#ddff34"/>
<path d="M1703 738.8l12.1 4.1 12.2 0.6 -12.1 -4z" fill="#b9fd31"/>
<path d="M1629.8 728.4l11.7 2.8 12.7 0 -11.7 -2.9z" fill="#f9ff37"/>
<path d="M1715.1 742.9l12.2 4.4 12.3 0.7 -12.3 -4.5z" fill="#b9fd31"/>
<path d="M1616.9 728.7l11.7 2.9 12.9 -0.4 -11.7 -2.8z" fill="#fff437"/>
<path d="M1727.3 747.3l12.4 4.8 12.2 0.6 -12.3 -4.7z" fill="#b7fd31"/>
<path d="M1603.8 729.3l11.7 2.8 13.1 -0.5 -11.7 -2.9z" fill="#ffe837"/>
<path d="M1739.7 752.1l12.5 5.2 12.2 0.6 -12.5 -5.2z" fill="#b3fd31"/>
<path d="M1590.6 730.2l11.7 2.8 13.2 -0.9 -11.7 -2.8z" fill="#ffdc37"/>
<path d="M1752.2 757.3l12.7 5.7 12.2 0.5 -12.7 -5.6z" fill="#aefc31"/>
<path d="M1577.3 731.3l11.7 2.8 13.3 -1.1 -11.7 -2.8z" fill="#ffd137"/>
<path d="M1764.9 763l12.8 6 12.2 0.4 -12.8 -5.9z" fill="#a8fc31"/>
<path d="M1563.8 732.7l11.6 2.8 13.6 -1.4 -11.7 -2.8z" fill="#ffc737"/>
<path d="M1777.7 769l12.9 6.4 12.2 0.4 -12.9 -6.4z" fill="#a0fb30"/>
<path d="M1550.1 734.5l11.6 2.7 13.7 -1.7 -11.6 -2.8z" fill="#ffbf37"/>
<path d="M1790.6 775.4l13 6.8 12.2 0.3 -13 -6.7z" fill="#96fa30"/>
<path d="M1803.6 782.2l13.2 7.3 12.2 0.2 -13.2 -7.2z" fill="#8cfa30"/>
<path d="M1536.3 736.4l11.6 2.7 13.8 -1.9 -11.6 -2.7z" fill="#ffb737"/>
<path d="M1816.8 789.5l13.4 7.7 12.1 0 -13.3 -7.5z" fill="#81fa2f"/>
<path d="M1522.3 738.7l11.6 2.7 14 -2.3 -11.6 -2.7z" fill="#ffb137"/>
<path d="M1830.2 797.2l13.4 8.1 12.1 -0.1 -13.4 -8z" fill="#74f92f"/>
<path d="M1508.1 741.3l11.6 2.7 14.2 -2.6 -11.6 -2.7z" fill="#ffab37"/>
<path d="M1843.6 805.3l13.6 8.6 12 -0.3 -13.5 -8.4z" fill="#66f92e"/>
<path d="M1493.8 744.2l11.5 2.6 14.4 -2.8 -11.6 -2.7z" fill="#ffa637"/>
<path d="M1857.2 813.9l13.7 9 12 -0.4 -13.7 -8.9z" fill="#56f82e"/>
<path d="M1479.3 747.4l11.5 2.6 14.5 -3.2 -11.5 -2.6z" fill="#ffa237"/>
<path d="M1870.9 822.9l13.8 9.4 12 -0.6 -13.8 -9.2z" fill="#4af831"/>
<path d="M1464.7 750.9l11.5 2.6 14.6 -3.5 -11.5 -2.6z" fill="#ff9f37"/>
<path d="M1884.7 832.3l14 9.9 12 -0.7 -14 -9.8z" fill="#3ff737"/>
<path d="M1449.9 754.7l11.4 2.5 14.9 -3.7 -11.5 -2.6z" fill="#ff9d37"/>
<path d="M1898.7 842.2l14.1 10.4 11.9 -1 -14 -10.1z" fill="#33f63d"/>
<path d="M1912.8 852.6l14.2 10.8 11.9 -1.2 -14.2 -10.6z" fill="#27f644"/>
<path d="M1434.9 758.9l11.4 2.5 15 -4.2 -11.4 -2.5z" fill="#ff9c37"/>
<path d="M1927 863.4l14.3 11.3 11.9 -1.5 -14.3 -11z" fill="#23f65e"/>
<path d="M1419.8 763.4l11.3 2.4 15.2 -4.4 -11.4 -2.5z" fill="#ff9b37"/>
<path d="M1941.3 874.7l14.5 11.7 11.8 -1.7 -14.4 -11.5z" fill="#1ef779"/>
<path d="M1404.5 768.2l11.3 2.4 15.3 -4.8 -11.3 -2.4z" fill="#ff9c37"/>
<path d="M1929.2 876.2l14.5 12 12.1 -1.8 -14.5 -11.7z" fill="#20f769"/>
<path d="M1389 773.3l11.3 2.4 15.5 -5.1 -11.3 -2.4z" fill="#ff9d37"/>
<path d="M1917 877.9l14.5 12.2 12.2 -1.9 -14.5 -12z" fill="#22f658"/>
<path d="M1373.4 778.8l11.2 2.4 15.7 -5.5 -11.3 -2.4z" fill="#ffa037"/>
<path d="M1904.6 879.8l14.5 12.4 12.4 -2.1 -14.5 -12.2z" fill="#24f649"/>
<path d="M1384.6 781.2l11.4 2.8 15.8 -5.4 -11.5 -2.9z" fill="#ff9837"/>
<path d="M1892 881.9l14.6 12.6 12.5 -2.3 -14.5 -12.4z" fill="#29f63f"/>
<path d="M1396 784l11.7 3.3 15.7 -5.4 -11.6 -3.3z" fill="#ff9337"/>
<path d="M1879.2 884.1l14.7 12.8 12.7 -2.4 -14.6 -12.6z" fill="#30f63b"/>
<path d="M1407.7 787.3l11.8 3.9 15.8 -5.4 -11.9 -3.9z" fill="#ff8e37"/>
<path d="M1866.3 886.5l14.6 13 13 -2.6 -14.7 -12.8z" fill="#36f737"/>
<path d="M1419.5 791.2l12 4.4 15.8 -5.4 -12 -4.4z" fill="#ff8b37"/>
<path d="M1853.2 889l14.6 13.2 13.1 -2.7 -14.6 -13z" fill="#3cf734"/>
<path d="M1431.5 795.6l12.1 4.9 15.9 -5.3 -12.2 -5z" fill="#ff8937"/>
<path d="M1839.8 891.8l14.7 13.3 13.3 -2.9 -14.6 -13.2z" fill="#42f730"/>
<path d="M1443.6 800.5l12.4 5.5 15.9 -5.3 -12.4 -5.5z" fill="#ff8937"/>
<path d="M1456 806l12.6 6 15.9 -5.3 -12.6 -6z" fill="#ff8b37"/>
<path d="M1826.3 894.7l14.8 13.5 13.4 -3.1 -14.7 -13.3z" fill="#48f82d"/>
<path d="M1468.6 812l12.7 6.6 16 -5.3 -12.8 -6.6z" fill="#ff8f37"/>
<path d="M1812.6 897.8l14.8 13.7 13.7 -3.3 -14.8 -13.5z" fill="#4df82a"/>
<path d="M1481.3 818.6l12.9 7.2 16 -5.3 -12.9 -7.2z" fill="#ff9437"/>
<path d="M1798.7 901.1l14.8 13.8 13.9 -3.4 -14.8 -13.7z" fill="#56f82a"/>
<path d="M1494.2 825.8l13.1 7.7 16 -5.2 -13.1 -7.8z" fill="#ff9a37"/>
<path d="M1784.6 904.6l14.9 13.9 14 -3.6 -14.8 -13.8z" fill="#5ff82a"/>
<path d="M1507.3 833.5l13.3 8.4 16 -5.2 -13.3 -8.4z" fill="#ffa137"/>
<path d="M1770.3 908.2l14.9 14.1 14.3 -3.8 -14.9 -13.9z" fill="#67f92a"/>
<path d="M1520.6 841.9l13.5 9 16 -5.3 -13.5 -8.9z" fill="#ffaa37"/>
<path d="M1755.8 912.1l14.9 14.2 14.5 -4 -14.9 -14.1z" fill="#6ff92a"/>
<path d="M1534.1 850.9l13.6 9.5 16.1 -5.2 -13.7 -9.6z" fill="#ffb537"/>
<path d="M1741.1 916.2l14.9 14.3 14.7 -4.2 -14.9 -14.2z" fill="#76f92a"/>
<path d="M1547.7 860.4l13.9 10.2 16 -5.2 -13.8 -10.2z" fill="#ffc137"/>
<path d="M1726.2 920.5l14.9 14.4 14.9 -4.4 -14.9 -14.3z" fill="#7cf92a"/>
<path d="M1561.6 870.6l14 10.8 16.1 -5.2 -14.1 -10.8z" fill="#ffcf37"/>
<path d="M1575.6 881.4l14.2 11.5 16.1 -5.3 -14.2 -11.4z" fill="#ffde36"/>
<path d="M1711.1 925l14.9 14.5 15.1 -4.6 -14.9 -14.4z" fill="#82fa2a"/>
<path d="M1589.8 892.9l14.4 12.1 16 -5.3 -14.3 -12.1z" fill="#fff035"/>
<path d="M1695.7 929.7l15 14.6 15.3 -4.8 -14.9 -14.5z" fill="#87fa2a"/>
<path d="M1604.2 905l14.5 12.7 16.1 -5.3 -14.6 -12.7z" fill="#f7ff33"/>
<path d="M1680.1 934.7l15.1 14.6 15.5 -5 -15 -14.6z" fill="#8cfa2b"/>
<path d="M1618.7 917.7l14.8 13.4 16 -5.3 -14.7 -13.4z" fill="#cfff2e"/>
<path d="M1664.4 939.8l15 14.7 15.8 -5.2 -15.1 -14.6z" fill="#91fa2b"/>
<path d="M1633.5 931.1l14.8 14.1 16.1 -5.4 -14.9 -14z" fill="#b3fd2c"/>
<path d="M1648.3 945.2l15.1 14.7 16 -5.4 -15 -14.7z" fill="#95fa2b"/>
<path d="M1666.8 731.4l11.8 3.3 12.4 0.4 -11.8 -3.3z" fill="#cafe32"/>
<path d="M1678.6 734.7l12 3.7 12.4 0.4 -12 -3.7z" fill="#ccff32"/>
<path d="M1654.2 731.2l11.8 3.3 12.6 0.2 -11.8 -3.3z" fill="#e4ff34"/>
<path d="M1690.6 738.4l12.1 4 12.4 0.5 -12.1 -4.1z" fill="#ceff32"/>
<path d="M1666 734.5l12 3.7 12.6 0.2 -12 -3.7z" fill="#e8ff35"/>
<path d="M1641.5 731.2l11.8 3.3 12.7 0 -11.8 -3.3z" fill="#fffe37"/>
<path d="M1702.7 742.4l12.2 4.5 12.4 0.4 -12.2 -4.4z" fill="#cdff32"/>
<path d="M1678 738.2l12.1 4 12.6 0.2 -12.1 -4z" fill="#eaff35"/>
<path d="M1653.3 734.5l12 3.7 12.7 0 -12 -3.7z" fill="#fffc37"/>
<path d="M1628.6 731.6l11.8 3.2 12.9 -0.3 -11.8 -3.3z" fill="#fff037"/>
<path d="M1714.9 746.9l12.4 4.8 12.4 0.4 -12.4 -4.8z" fill="#cbff32"/>
<path d="M1690.1 742.2l12.3 4.5 12.5 0.2 -12.2 -4.5z" fill="#eaff35"/>
<path d="M1665.3 738.2l12.1 4.1 12.7 -0.1 -12.1 -4z" fill="#fffb37"/>
<path d="M1640.4 734.8l12 3.7 12.9 -0.3 -12 -3.7z" fill="#ffee37"/>
<path d="M1615.5 732.1l11.9 3.3 13 -0.6 -11.8 -3.2z" fill="#ffe437"/>
<path d="M1727.3 751.7l12.6 5.3 12.3 0.3 -12.5 -5.2z" fill="#c8fe32"/>
<path d="M1702.4 746.7l12.4 4.9 12.5 0.1 -12.4 -4.8z" fill="#e7ff35"/>
<path d="M1677.4 742.3l12.3 4.5 12.7 -0.1 -12.3 -4.5z" fill="#fffb37"/>
<path d="M1652.4 738.5l12.1 4.1 12.9 -0.3 -12.1 -4.1z" fill="#ffed37"/>
<path d="M1627.4 735.4l11.9 3.7 13.1 -0.6 -12 -3.7z" fill="#ffe137"/>
<path d="M1602.3 733l11.8 3.2 13.3 -0.8 -11.9 -3.3z" fill="#ffd837"/>
<path d="M1739.9 757l12.6 5.7 12.4 0.3 -12.7 -5.7z" fill="#c3fe31"/>
<path d="M1714.8 751.6l12.5 5.3 12.6 0.1 -12.6 -5.3z" fill="#e1ff34"/>
<path d="M1689.7 746.8l12.4 4.9 12.7 -0.1 -12.4 -4.9z" fill="#fffc37"/>
<path d="M1664.5 742.6l12.3 4.5 12.9 -0.3 -12.3 -4.5z" fill="#ffed37"/>
<path d="M1639.3 739.1l12.2 4 13 -0.5 -12.1 -4.1z" fill="#ffe037"/>
<path d="M1614.1 736.2l12 3.7 13.2 -0.8 -11.9 -3.7z" fill="#ffd537"/>
<path d="M1589 734.1l11.8 3.2 13.3 -1.1 -11.8 -3.2z" fill="#ffcd37"/>
<path d="M1752.5 762.7l12.8 6.1 12.4 0.2 -12.8 -6z" fill="#bcfd31"/>
<path d="M1727.3 756.9l12.7 5.7 12.5 0.1 -12.6 -5.7z" fill="#d9ff33"/>
<path d="M1702.1 751.7l12.5 5.3 12.7 -0.1 -12.5 -5.3z" fill="#ffff37"/>
<path d="M1676.8 747.1l12.4 4.9 12.9 -0.3 -12.4 -4.9z" fill="#ffee37"/>
<path d="M1651.5 743.1l12.2 4.6 13.1 -0.6 -12.3 -4.5z" fill="#ffe037"/>
<path d="M1626.1 739.9l12.1 4.1 13.3 -0.9 -12.2 -4z" fill="#ffd337"/>
<path d="M1600.8 737.3l11.9 3.7 13.4 -1.1 -12 -3.7z" fill="#ffca37"/>
<path d="M1575.4 735.5l11.8 3.2 13.6 -1.4 -11.8 -3.2z" fill="#ffc337"/>
<path d="M1765.3 768.8l13 6.5 12.3 0.1 -12.9 -6.4z" fill="#b4fd31"/>
<path d="M1740 762.6l12.8 6.2 12.5 0 -12.8 -6.1z" fill="#d0ff32"/>
<path d="M1714.6 757l12.7 5.8 12.7 -0.2 -12.7 -5.7z" fill="#f7ff36"/>
<path d="M1689.2 752l12.5 5.4 12.9 -0.4 -12.5 -5.3z" fill="#fff137"/>
<path d="M1663.7 747.7l12.4 4.9 13.1 -0.6 -12.4 -4.9z" fill="#ffe137"/>
<path d="M1638.2 744l12.3 4.5 13.2 -0.8 -12.2 -4.6z" fill="#ffd337"/>
<path d="M1612.7 741l12.1 4.1 13.4 -1.1 -12.1 -4.1z" fill="#ffc837"/>
<path d="M1587.2 738.7l12 3.6 13.5 -1.3 -11.9 -3.7z" fill="#ffc037"/>
<path d="M1561.7 737.2l11.8 3.1 13.7 -1.6 -11.8 -3.2z" fill="#ffba37"/>
<path d="M1778.3 775.3l13 6.9 12.3 0 -13 -6.8z" fill="#abfc31"/>
<path d="M1752.8 768.8l13 6.6 12.5 -0.1 -13 -6.5z" fill="#c8fe31"/>
<path d="M1727.3 762.8l12.8 6.2 12.7 -0.2 -12.8 -6.2z" fill="#ecff35"/>
<path d="M1701.7 757.4l12.7 5.8 12.9 -0.4 -12.7 -5.8z" fill="#fff537"/>
<path d="M1676.1 752.6l12.6 5.4 13 -0.6 -12.5 -5.4z" fill="#ffe437"/>
<path d="M1650.5 748.5l12.4 5 13.2 -0.9 -12.4 -4.9z" fill="#ffd537"/>
<path d="M1624.8 745.1l12.3 4.5 13.4 -1.1 -12.3 -4.5z" fill="#ffc837"/>
<path d="M1599.2 742.3l12.1 4.1 13.5 -1.3 -12.1 -4.1z" fill="#ffbe37"/>
<path d="M1547.9 739.1l11.8 3.2 13.8 -2 -11.8 -3.1z" fill="#ffb337"/>
<path d="M1573.5 740.3l12 3.7 13.7 -1.7 -12 -3.6z" fill="#ffb737"/>
<path d="M1791.3 782.2l13.2 7.4 12.3 -0.1 -13.2 -7.3z" fill="#9ffb30"/>
<path d="M1765.8 775.4l13.1 7 12.4 -0.2 -13 -6.9z" fill="#befd31"/>
<path d="M1740.1 769l13 6.7 12.7 -0.3 -13 -6.6z" fill="#dfff33"/>
<path d="M1714.4 763.2l12.9 6.3 12.8 -0.5 -12.8 -6.2z" fill="#fffb37"/>
<path d="M1688.7 758l12.7 5.9 13 -0.7 -12.7 -5.8z" fill="#ffe837"/>
<path d="M1662.9 753.5l12.6 5.4 13.2 -0.9 -12.6 -5.4z" fill="#ffd737"/>
<path d="M1637.1 749.6l12.4 5 13.4 -1.1 -12.4 -5z" fill="#ffc937"/>
<path d="M1804.5 789.6l13.4 7.8 12.3 -0.2 -13.4 -7.7z" fill="#93fa30"/>
<path d="M1611.3 746.4l12.3 4.6 13.5 -1.4 -12.3 -4.5z" fill="#ffbe37"/>
<path d="M1533.9 741.4l11.7 3.1 14.1 -2.2 -11.8 -3.2z" fill="#ffac37"/>
<path d="M1585.5 744l12.1 4.1 13.7 -1.7 -12.1 -4.1z" fill="#ffb537"/>
<path d="M1559.7 742.3l11.9 3.6 13.9 -1.9 -12 -3.7z" fill="#ffaf37"/>
<path d="M1778.9 782.4l13.2 7.4 12.4 -0.2 -13.2 -7.4z" fill="#b2fd31"/>
<path d="M1753.1 775.7l13.1 7.1 12.7 -0.4 -13.1 -7z" fill="#d0ff32"/>
<path d="M1727.3 769.5l13 6.7 12.8 -0.5 -13 -6.7z" fill="#faff37"/>
<path d="M1701.4 763.9l12.9 6.3 13 -0.7 -12.9 -6.3z" fill="#ffed37"/>
<path d="M1675.5 758.9l12.7 5.9 13.2 -0.9 -12.7 -5.9z" fill="#ffdc37"/>
<path d="M1817.9 797.4l13.5 8.2 12.2 -0.3 -13.4 -8.1z" fill="#86fa2f"/>
<path d="M1649.5 754.6l12.6 5.5 13.4 -1.2 -12.6 -5.4z" fill="#ffcc37"/>
<path d="M1623.6 751l12.4 5 13.5 -1.4 -12.4 -5z" fill="#ffbf37"/>
<path d="M1597.6 748.1l12.2 4.5 13.8 -1.6 -12.3 -4.6z" fill="#ffb537"/>
<path d="M1519.7 744l11.7 3.1 14.2 -2.6 -11.7 -3.1z" fill="#ffa637"/>
<path d="M1792.1 789.8l13.3 8 12.5 -0.4 -13.4 -7.8z" fill="#a5fb30"/>
<path d="M1571.6 745.9l12.1 4.1 13.9 -1.9 -12.1 -4.1z" fill="#ffad37"/>
<path d="M1545.6 744.5l11.9 3.6 14.1 -2.2 -11.9 -3.6z" fill="#ffa837"/>
<path d="M1766.2 782.8l13.2 7.5 12.7 -0.5 -13.2 -7.4z" fill="#c4fe31"/>
<path d="M1740.3 776.2l13.1 7.2 12.8 -0.6 -13.1 -7.1z" fill="#eaff35"/>
<path d="M1714.3 770.2l12.9 6.8 13.1 -0.8 -13 -6.7z" fill="#fff437"/>
<path d="M1831.4 805.6l13.6 8.7 12.2 -0.4 -13.6 -8.6z" fill="#77f92f"/>
<path d="M1688.2 764.8l12.9 6.4 13.2 -1 -12.9 -6.3z" fill="#ffe137"/>
<path d="M1662.1 760.1l12.7 5.9 13.4 -1.2 -12.7 -5.9z" fill="#ffd037"/>
<path d="M1805.4 797.8l13.5 8.3 12.5 -0.5 -13.5 -8.2z" fill="#96fa30"/>
<path d="M1636 756l12.5 5.5 13.6 -1.4 -12.6 -5.5z" fill="#ffc237"/>
<path d="M1609.8 752.6l12.4 5 13.8 -1.6 -12.4 -5z" fill="#ffb637"/>
<path d="M1505.3 746.8l11.8 3.1 14.3 -2.8 -11.7 -3.1z" fill="#ffa137"/>
<path d="M1583.7 750l12.2 4.5 13.9 -1.9 -12.2 -4.5z" fill="#ffad37"/>
<path d="M1531.4 747.1l11.9 3.5 14.2 -2.5 -11.9 -3.6z" fill="#ffa237"/>
<path d="M1557.5 748.1l12.1 4.1 14.1 -2.2 -12.1 -4.1z" fill="#ffa637"/>
<path d="M1779.4 790.3l13.4 8.1 12.6 -0.6 -13.3 -8z" fill="#b7fd31"/>
<path d="M1753.4 783.4l13.2 7.7 12.8 -0.8 -13.2 -7.5z" fill="#d8ff32"/>
<path d="M1727.2 777l13.2 7.3 13 -0.9 -13.1 -7.2z" fill="#fffd37"/>
<path d="M1845 814.3l13.7 9.2 12.2 -0.6 -13.7 -9z" fill="#67f92e"/>
<path d="M1701.1 771.2l13 6.8 13.1 -1 -12.9 -6.8z" fill="#ffe837"/>
<path d="M1818.9 806.1l13.7 8.9 12.4 -0.7 -13.6 -8.7z" fill="#88fa2f"/>
<path d="M1674.8 766l12.9 6.4 13.4 -1.2 -12.9 -6.4z" fill="#ffd637"/>
<path d="M1648.5 761.5l12.8 5.9 13.5 -1.4 -12.7 -5.9z" fill="#ffc637"/>
<path d="M1622.2 757.6l12.6 5.5 13.7 -1.6 -12.5 -5.5z" fill="#ffb837"/>
<path d="M1792.8 798.4l13.5 8.5 12.6 -0.8 -13.5 -8.3z" fill="#a8fc30"/>
<path d="M1490.8 750l11.7 3 14.6 -3.1 -11.8 -3.1z" fill="#ff9d37"/>
<path d="M1595.9 754.5l12.4 5.1 13.9 -2 -12.4 -5z" fill="#ffae37"/>
<path d="M1517.1 749.9l11.8 3.5 14.4 -2.8 -11.9 -3.5z" fill="#ff9d37"/>
<path d="M1569.6 752.2l12.3 4.5 14 -2.2 -12.2 -4.5z" fill="#ffa637"/>
<path d="M1543.3 750.6l12.1 4.1 14.2 -2.5 -12.1 -4.1z" fill="#ffa037"/>
<path d="M1766.6 791.1l13.4 8.1 12.8 -0.8 -13.4 -8.1z" fill="#c8fe31"/>
<path d="M1858.7 823.5l13.8 9.6 12.2 -0.8 -13.8 -9.4z" fill="#55f82e"/>
<path d="M1740.4 784.3l13.2 7.7 13 -0.9 -13.2 -7.7z" fill="#f1ff35"/>
<path d="M1714.1 778l13.1 7.4 13.2 -1.1 -13.2 -7.3z" fill="#fff037"/>
<path d="M1832.6 815l13.7 9.3 12.4 -0.8 -13.7 -9.2z" fill="#77f92e"/>
<path d="M1687.7 772.4l13 6.9 13.4 -1.3 -13 -6.8z" fill="#ffdc37"/>
<path d="M1661.3 767.4l12.8 6.5 13.6 -1.5 -12.9 -6.4z" fill="#ffcb37"/>
<path d="M1806.3 806.9l13.7 8.9 12.6 -0.8 -13.7 -8.9z" fill="#97fa2f"/>
<path d="M1634.8 763.1l12.7 6 13.8 -1.7 -12.8 -5.9z" fill="#ffbc37"/>
<path d="M1476.2 753.5l11.6 3 14.7 -3.5 -11.7 -3z" fill="#ff9937"/>
<path d="M1608.3 759.6l12.6 5.5 13.9 -2 -12.6 -5.5z" fill="#ffb037"/>
<path d="M1502.5 753l11.9 3.6 14.5 -3.2 -11.8 -3.5z" fill="#ff9937"/>
<path d="M1581.9 756.7l12.4 5.1 14 -2.2 -12.4 -5.1z" fill="#ffa637"/>
<path d="M1528.9 753.4l12.1 4.1 14.4 -2.8 -12.1 -4.1z" fill="#ff9a37"/>
<path d="M1780 799.2l13.6 8.6 12.7 -0.9 -13.5 -8.5z" fill="#b9fd30"/>
<path d="M1555.4 754.7l12.2 4.5 14.3 -2.5 -12.3 -4.5z" fill="#ff9f37"/>
<path d="M1872.5 833.1l14 10.1 12.2 -1 -14 -9.9z" fill="#48f832"/>
<path d="M1753.6 792l13.5 8.2 12.9 -1 -13.4 -8.1z" fill="#dbff32"/>
<path d="M1727.2 785.4l13.3 7.8 13.1 -1.2 -13.2 -7.7z" fill="#fffa37"/>
<path d="M1846.3 824.3l13.9 9.7 12.3 -0.9 -13.8 -9.6z" fill="#65f92e"/>
<path d="M1700.7 779.3l13.1 7.4 13.4 -1.3 -13.1 -7.4z" fill="#ffe537"/>
<path d="M1820 815.8l13.8 9.5 12.5 -1 -13.7 -9.3z" fill="#87fa2f"/>
<path d="M1674.1 773.9l13 6.9 13.6 -1.5 -13 -6.9z" fill="#ffd237"/>
<path d="M1647.5 769.1l12.9 6.5 13.7 -1.7 -12.8 -6.5z" fill="#ffc137"/>
<path d="M1793.6 807.8l13.6 9.1 12.8 -1.1 -13.7 -8.9z" fill="#a8fc30"/>
<path d="M1461.3 757.2l11.6 3 14.9 -3.7 -11.6 -3z" fill="#ff9737"/>
<path d="M1620.9 765.1l12.7 6 13.9 -2 -12.7 -6z" fill="#ffb437"/>
<path d="M1487.8 756.5l11.8 3.5 14.8 -3.4 -11.9 -3.6z" fill="#ff9537"/>
<path d="M1886.5 843.2l14.1 10.5 12.2 -1.1 -14.1 -10.4z" fill="#3cf738"/>
<path d="M1594.3 761.8l12.5 5.5 14.1 -2.2 -12.6 -5.5z" fill="#ffa937"/>
<path d="M1514.4 756.6l12 4 14.6 -3.1 -12.1 -4.1z" fill="#ff9637"/>
<path d="M1567.6 759.2l12.4 5.1 14.3 -2.5 -12.4 -5.1z" fill="#ffa037"/>
<path d="M1541 757.5l12.2 4.5 14.4 -2.8 -12.2 -4.5z" fill="#ff9a37"/>
<path d="M1767.1 800.2l13.5 8.7 13 -1.1 -13.6 -8.6z" fill="#c8fe31"/>
<path d="M1860.2 834l14 10.3 12.3 -1.1 -14 -10.1z" fill="#52f82d"/>
<path d="M1740.5 793.2l13.4 8.3 13.2 -1.3 -13.5 -8.2z" fill="#f3ff35"/>
<path d="M1713.8 786.7l13.3 7.9 13.4 -1.4 -13.3 -7.8z" fill="#ffef37"/>
<path d="M1833.8 825.3l13.9 9.9 12.5 -1.2 -13.9 -9.7z" fill="#74f92e"/>
<path d="M1687.1 780.8l13.2 7.5 13.5 -1.6 -13.1 -7.4z" fill="#ffda37"/>
<path d="M1807.2 816.9l13.8 9.6 12.8 -1.2 -13.8 -9.5z" fill="#95fa2f"/>
<path d="M1660.4 775.6l13 7 13.7 -1.8 -13 -6.9z" fill="#ffc837"/>
<path d="M1900.6 853.7l14.3 11 12.1 -1.3 -14.2 -10.8z" fill="#2ff63e"/>
<path d="M1633.6 771.1l12.9 6.5 13.9 -2 -12.9 -6.5z" fill="#ffb937"/>
<path d="M1446.3 761.4l11.6 2.9 15 -4.1 -11.6 -3z" fill="#ff9537"/>
<path d="M1606.8 767.3l12.7 6.1 14.1 -2.3 -12.7 -6z" fill="#ffac37"/>
<path d="M1472.9 760.2l11.8 3.5 14.9 -3.7 -11.8 -3.5z" fill="#ff9237"/>
<path d="M1780.6 808.9l13.7 9.2 12.9 -1.2 -13.6 -9.1z" fill="#b7fd30"/>
<path d="M1580 764.3l12.5 5.5 14.3 -2.5 -12.5 -5.5z" fill="#ffa237"/>
<path d="M1499.6 760l12 4 14.8 -3.4 -12 -4z" fill="#ff9237"/>
<path d="M1553.2 762l12.4 5.1 14.4 -2.8 -12.4 -5.1z" fill="#ff9a37"/>
<path d="M1526.4 760.6l12.2 4.5 14.6 -3.1 -12.2 -4.5z" fill="#ff9537"/>
<path d="M1874.2 844.3l14.2 10.7 12.2 -1.3 -14.1 -10.5z" fill="#45f733"/>
<path d="M1753.9 801.5l13.6 8.8 13.1 -1.4 -13.5 -8.7z" fill="#dbff32"/>
<path d="M1847.7 835.2l14 10.4 12.5 -1.3 -14 -10.3z" fill="#60f92d"/>
<path d="M1727.1 794.6l13.5 8.4 13.3 -1.5 -13.4 -8.3z" fill="#fffa37"/>
<path d="M1700.3 788.3l13.3 8 13.5 -1.7 -13.3 -7.9z" fill="#ffe437"/>
<path d="M1821 826.5l14 10 12.7 -1.3 -13.9 -9.9z" fill="#83fa2e"/>
<path d="M1914.9 864.7l14.3 11.5 12.1 -1.5 -14.3 -11.3z" fill="#25f64c"/>
<path d="M1673.4 782.6l13.2 7.5 13.7 -1.8 -13.2 -7.5z" fill="#ffd037"/>
<path d="M1646.5 777.6l13 7.1 13.9 -2.1 -13 -7z" fill="#ffbf37"/>
<path d="M1794.3 818.1l13.8 9.7 12.9 -1.3 -13.8 -9.6z" fill="#a4fb2f"/>
<path d="M1431.1 765.8l11.6 2.9 15.2 -4.4 -11.6 -2.9z" fill="#ff9537"/>
<path d="M1888.4 855l14.2 11.2 12.3 -1.5 -14.3 -11z" fill="#38f739"/>
<path d="M1619.5 773.4l12.9 6.5 14.1 -2.3 -12.9 -6.5z" fill="#ffb137"/>
<path d="M1457.9 764.3l11.8 3.5 15 -4.1 -11.8 -3.5z" fill="#ff9137"/>
<path d="M1592.5 769.8l12.8 6.1 14.2 -2.5 -12.7 -6.1z" fill="#ffa537"/>
<path d="M1484.7 763.7l12 4 14.9 -3.7 -12 -4z" fill="#ff8f37"/>
<path d="M1565.6 767.1l12.5 5.5 14.4 -2.8 -12.5 -5.5z" fill="#ff9c37"/>
<path d="M1511.6 764l12.2 4.5 14.8 -3.4 -12.2 -4.5z" fill="#ff9137"/>
<path d="M1767.5 810.3l13.7 9.3 13.1 -1.5 -13.7 -9.2z" fill="#c6fe30"/>
<path d="M1538.6 765.1l12.4 5 14.6 -3 -12.4 -5.1z" fill="#ff9537"/>
<path d="M1861.7 845.6l14.2 10.9 12.5 -1.5 -14.2 -10.7z" fill="#4df82e"/>
<path d="M1740.6 803l13.6 8.9 13.3 -1.6 -13.6 -8.8z" fill="#f1ff34"/>
<path d="M1835 836.5l14 10.6 12.7 -1.5 -14 -10.4z" fill="#6ef92d"/>
<path d="M1713.6 796.3l13.5 8.4 13.5 -1.7 -13.5 -8.4z" fill="#ffef37"/>
<path d="M1686.6 790.1l13.3 8.1 13.7 -1.9 -13.3 -8z" fill="#ffda37"/>
<path d="M1808.1 827.8l14 10.3 12.9 -1.6 -14 -10z" fill="#90fa2e"/>
<path d="M1902.6 866.2l14.4 11.7 12.2 -1.7 -14.3 -11.5z" fill="#2af641"/>
<path d="M1659.5 784.7l13.2 7.5 13.9 -2.1 -13.2 -7.5z" fill="#ffc737"/>
<path d="M1415.8 770.6l11.5 2.9 15.4 -4.8 -11.6 -2.9z" fill="#ff9537"/>
<path d="M1632.4 779.9l13 7.1 14.1 -2.3 -13 -7.1z" fill="#ffb737"/>
<path d="M1442.7 768.7l11.7 3.5 15.3 -4.4 -11.8 -3.5z" fill="#ff9037"/>
<path d="M1781.2 819.6l13.8 9.9 13.1 -1.7 -13.8 -9.7z" fill="#b3fd2f"/>
<path d="M1605.3 775.9l12.8 6.6 14.3 -2.6 -12.9 -6.5z" fill="#ffaa37"/>
<path d="M1875.9 856.5l14.3 11.4 12.4 -1.7 -14.2 -11.2z" fill="#40f735"/>
<path d="M1469.7 767.8l11.9 3.9 15.1 -4 -12 -4z" fill="#ff8d37"/>
<path d="M1578.1 772.6l12.7 6.1 14.5 -2.8 -12.8 -6.1z" fill="#ff9f37"/>
<path d="M1496.7 767.7l12.2 4.5 14.9 -3.7 -12.2 -4.5z" fill="#ff8e37"/>
<path d="M1551 770.1l12.5 5.6 14.6 -3.1 -12.5 -5.5z" fill="#ff9737"/>
<path d="M1523.8 768.5l12.4 5 14.8 -3.4 -12.4 -5z" fill="#ff9137"/>
<path d="M1754.2 811.9l13.7 9.4 13.3 -1.7 -13.7 -9.3z" fill="#d5ff31"/>
<path d="M1849 847.1l14.2 11.1 12.7 -1.7 -14.2 -10.9z" fill="#59f82c"/>
<path d="M1727.1 804.7l13.6 9 13.5 -1.8 -13.6 -8.9z" fill="#fffc36"/>
<path d="M1699.9 798.2l13.5 8.5 13.7 -2 -13.5 -8.4z" fill="#ffe537"/>
<path d="M1822.1 838.1l14.1 10.7 12.8 -1.7 -14 -10.6z" fill="#7cf92d"/>
<path d="M1672.7 792.2l13.3 8.1 13.9 -2.1 -13.3 -8.1z" fill="#ffd137"/>
<path d="M1400.3 775.7l11.5 2.9 15.5 -5.1 -11.5 -2.9z" fill="#ff9637"/>
<path d="M1795 829.5l14 10.3 13.1 -1.7 -14 -10.3z" fill="#9efb2e"/>
<path d="M1890.2 867.9l14.4 11.9 12.4 -1.9 -14.4 -11.7z" fill="#31f63c"/>
<path d="M1645.4 787l13.2 7.6 14.1 -2.4 -13.2 -7.5z" fill="#ffbf37"/>
<path d="M1427.3 773.5l11.7 3.4 15.4 -4.7 -11.7 -3.5z" fill="#ff9037"/>
<path d="M1618.1 782.5l13.1 7.1 14.2 -2.6 -13 -7.1z" fill="#ffb037"/>
<path d="M1454.4 772.2l11.9 3.9 15.3 -4.4 -11.9 -3.9z" fill="#ff8c37"/>
<path d="M1590.8 778.7l12.9 6.6 14.4 -2.8 -12.8 -6.6z" fill="#ffa437"/>
<path d="M1767.9 821.3l13.9 10 13.2 -1.8 -13.8 -9.9z" fill="#c1fe2f"/>
<path d="M1481.6 771.7l12.1 4.5 15.2 -4 -12.2 -4.5z" fill="#ff8b37"/>
<path d="M1563.5 775.7l12.7 6.1 14.6 -3.1 -12.7 -6.1z" fill="#ff9a37"/>
<path d="M1863.2 858.2l14.4 11.6 12.6 -1.9 -14.3 -11.4z" fill="#47f730"/>
<path d="M1508.9 772.2l12.3 5 15 -3.7 -12.4 -5z" fill="#ff8e37"/>
<path d="M1536.2 773.5l12.5 5.6 14.8 -3.4 -12.5 -5.6z" fill="#ff9337"/>
<path d="M1740.7 813.7l13.7 9.5 13.5 -1.9 -13.7 -9.4z" fill="#eaff33"/>
<path d="M1836.2 848.8l14.2 11.2 12.8 -1.8 -14.2 -11.1z" fill="#66f92d"/>
<path d="M1713.4 806.7l13.6 9.1 13.7 -2.1 -13.6 -9z" fill="#fff236"/>
<path d="M1686 800.3l13.5 8.6 13.9 -2.2 -13.5 -8.5z" fill="#ffdc37"/>
<path d="M1809 839.8l14.2 10.9 13 -1.9 -14.1 -10.7z" fill="#89fa2d"/>
<path d="M1658.6 794.6l13.3 8.1 14.1 -2.4 -13.3 -8.1z" fill="#ffc837"/>
<path d="M1411.8 778.6l11.6 3.3 15.6 -5 -11.7 -3.4z" fill="#ff9137"/>
<path d="M1631.2 789.6l13.1 7.6 14.3 -2.6 -13.2 -7.6z" fill="#ffb837"/>
<path d="M1781.8 831.3l14 10.4 13.2 -1.9 -14 -10.3z" fill="#abfc2f"/>
<path d="M1877.6 869.8l14.4 12.1 12.6 -2.1 -14.4 -11.9z" fill="#38f738"/>
<path d="M1439 776.9l11.9 3.9 15.4 -4.7 -11.9 -3.9z" fill="#ff8c37"/>
<path d="M1603.7 785.3l13 7.1 14.5 -2.8 -13.1 -7.1z" fill="#ffaa37"/>
<path d="M1576.2 781.8l12.8 6.6 14.7 -3.1 -12.9 -6.6z" fill="#ff9f37"/>
<path d="M1466.3 776.1l12.1 4.5 15.3 -4.4 -12.1 -4.5z" fill="#ff8937"/>
<path d="M1548.7 779.1l12.7 6.1 14.8 -3.4 -12.7 -6.1z" fill="#ff9637"/>
<path d="M1493.7 776.2l12.3 5 15.2 -4 -12.3 -5z" fill="#ff8a37"/>
<path d="M1754.4 823.2l13.9 10.1 13.5 -2 -13.9 -10z" fill="#cdff30"/>
<path d="M1521.2 777.2l12.5 5.6 15 -3.7 -12.5 -5.6z" fill="#ff8f37"/>
<path d="M1850.4 860l14.4 11.8 12.8 -2 -14.4 -11.6z" fill="#4ef82c"/>
<path d="M1727 815.8l13.8 9.6 13.6 -2.2 -13.7 -9.5z" fill="#fdff35"/>
<path d="M1823.2 850.7l14.2 11.4 13 -2.1 -14.2 -11.2z" fill="#72f92d"/>
<path d="M1699.5 808.9l13.6 9.2 13.9 -2.3 -13.6 -9.1z" fill="#ffe937"/>
<path d="M1671.9 802.7l13.5 8.7 14.1 -2.5 -13.5 -8.6z" fill="#ffd437"/>
<path d="M1795.8 841.7l14.1 11 13.3 -2 -14.2 -10.9z" fill="#95fa2e"/>
<path d="M1644.3 797.2l13.4 8.2 14.2 -2.7 -13.3 -8.1z" fill="#ffc137"/>
<path d="M1616.7 792.4l13.2 7.7 14.4 -2.9 -13.1 -7.6z" fill="#ffb237"/>
<path d="M1423.4 781.9l11.9 3.9 15.6 -5 -11.9 -3.9z" fill="#ff8d37"/>
<path d="M1768.3 833.3l14.1 10.6 13.4 -2.2 -14 -10.4z" fill="#b8fd2f"/>
<path d="M1864.8 871.8l14.4 12.3 12.8 -2.2 -14.4 -12.1z" fill="#3ff733"/>
<path d="M1589 788.4l13.1 7.2 14.6 -3.2 -13 -7.1z" fill="#ffa537"/>
<path d="M1450.9 780.8l12.1 4.4 15.4 -4.6 -12.1 -4.5z" fill="#ff8837"/>
<path d="M1561.4 785.2l12.8 6.6 14.8 -3.4 -12.8 -6.6z" fill="#ff9a37"/>
<path d="M1478.4 780.6l12.3 5 15.3 -4.4 -12.3 -5z" fill="#ff8837"/>
<path d="M1533.7 782.8l12.7 6.1 15 -3.7 -12.7 -6.1z" fill="#ff9237"/>
<path d="M1506 781.2l12.5 5.6 15.2 -4 -12.5 -5.6z" fill="#ff8c37"/>
<path d="M1740.8 825.4l13.9 10.2 13.6 -2.3 -13.9 -10.1z" fill="#deff31"/>
<path d="M1837.4 862.1l14.4 11.9 13 -2.2 -14.4 -11.8z" fill="#5af82c"/>
<path d="M1713.1 818.1l13.8 9.7 13.9 -2.4 -13.8 -9.6z" fill="#fff736"/>
<path d="M1809.9 852.7l14.3 11.6 13.2 -2.2 -14.2 -11.4z" fill="#7efa2d"/>
<path d="M1685.4 811.4l13.7 9.2 14 -2.5 -13.6 -9.2z" fill="#ffe037"/>
<path d="M1657.7 805.4l13.5 8.7 14.2 -2.7 -13.5 -8.7z" fill="#ffcc37"/>
<path d="M1782.4 843.9l14.1 11.1 13.4 -2.3 -14.1 -11z" fill="#a1fb2e"/>
<path d="M1629.9 800.1l13.3 8.2 14.5 -2.9 -13.4 -8.2z" fill="#ffbb37"/>
<path d="M1602.1 795.6l13.1 7.7 14.7 -3.2 -13.2 -7.7z" fill="#ffac37"/>
<path d="M1435.3 785.8l12 4.4 15.7 -5 -12.1 -4.4z" fill="#ff8937"/>
<path d="M1754.7 835.6l14 10.7 13.7 -2.4 -14.1 -10.6z" fill="#c4fe2f"/>
<path d="M1574.2 791.8l13 7.2 14.9 -3.4 -13.1 -7.2z" fill="#ffa037"/>
<path d="M1463 785.2l12.2 5 15.5 -4.6 -12.3 -5z" fill="#ff8737"/>
<path d="M1851.8 874l14.5 12.5 12.9 -2.4 -14.4 -12.3z" fill="#46f72f"/>
<path d="M1546.4 788.9l12.8 6.6 15 -3.7 -12.8 -6.6z" fill="#ff9637"/>
<path d="M1490.7 785.6l12.5 5.5 15.3 -4.3 -12.5 -5.6z" fill="#ff8937"/>
<path d="M1518.5 786.8l12.7 6.1 15.2 -4 -12.7 -6.1z" fill="#ff8f37"/>
<path d="M1726.9 827.8l14 10.2 13.8 -2.4 -13.9 -10.2z" fill="#f0ff33"/>
<path d="M1824.2 864.3l14.4 12.1 13.2 -2.4 -14.4 -11.9z" fill="#66f92c"/>
<path d="M1699.1 820.6l13.8 9.8 14 -2.6 -13.8 -9.7z" fill="#ffee36"/>
<path d="M1671.2 814.1l13.6 9.3 14.3 -2.8 -13.7 -9.2z" fill="#ffd937"/>
<path d="M1796.5 855l14.3 11.7 13.4 -2.4 -14.3 -11.6z" fill="#89fa2d"/>
<path d="M1643.2 808.3l13.5 8.8 14.5 -3 -13.5 -8.7z" fill="#ffc537"/>
<path d="M1768.7 846.3l14.2 11.2 13.6 -2.5 -14.1 -11.1z" fill="#adfc2e"/>
<path d="M1615.2 803.3l13.4 8.2 14.6 -3.2 -13.3 -8.2z" fill="#ffb537"/>
<path d="M1587.2 799l13.2 7.7 14.8 -3.4 -13.1 -7.7z" fill="#ffa737"/>
<path d="M1447.3 790.2l12.2 5 15.7 -5 -12.2 -5z" fill="#ff8737"/>
<path d="M1559.2 795.5l13 7.2 15 -3.7 -13 -7.2z" fill="#ff9c37"/>
<path d="M1475.2 790.2l12.4 5.5 15.6 -4.6 -12.5 -5.5z" fill="#ff8837"/>
<path d="M1531.2 792.9l12.8 6.6 15.2 -4 -12.8 -6.6z" fill="#ff9337"/>
<path d="M1740.9 838l14 10.8 13.8 -2.5 -14 -10.7z" fill="#cfff2f"/>
<path d="M1503.2 791.1l12.6 6.1 15.4 -4.3 -12.7 -6.1z" fill="#ff8d37"/>
<path d="M1838.6 876.4l14.6 12.6 13.1 -2.5 -14.5 -12.5z" fill="#4df82c"/>
<path d="M1712.9 830.4l13.9 10.3 14.1 -2.7 -14 -10.2z" fill="#fffe35"/>
<path d="M1810.8 866.7l14.5 12.3 13.3 -2.6 -14.4 -12.1z" fill="#71f92c"/>
<path d="M1684.8 823.4l13.9 9.9 14.2 -2.9 -13.8 -9.8z" fill="#ffe736"/>
<path d="M1656.7 817.1l13.7 9.4 14.4 -3.1 -13.6 -9.3z" fill="#ffd237"/>
<path d="M1782.9 857.5l14.4 11.8 13.5 -2.6 -14.3 -11.7z" fill="#94fa2d"/>
<path d="M1628.6 811.5l13.5 8.9 14.6 -3.3 -13.5 -8.8z" fill="#ffbf37"/>
<path d="M1600.4 806.7l13.4 8.3 14.8 -3.5 -13.4 -8.2z" fill="#ffb037"/>
<path d="M1754.9 848.8l14.2 11.4 13.8 -2.7 -14.2 -11.2z" fill="#b8fd2e"/>
<path d="M1572.2 802.7l13.2 7.7 15 -3.7 -13.2 -7.7z" fill="#ffa337"/>
<path d="M1544 799.5l13 7.2 15.2 -4 -13 -7.2z" fill="#ff9937"/>
<path d="M1459.5 795.2l12.4 5.5 15.7 -5 -12.4 -5.5z" fill="#ff8837"/>
<path d="M1515.8 797.2l12.8 6.6 15.4 -4.3 -12.8 -6.6z" fill="#ff9137"/>
<path d="M1487.6 795.7l12.6 6.1 15.6 -4.6 -12.6 -6.1z" fill="#ff8b37"/>
<path d="M1726.8 840.7l14.1 11 14 -2.9 -14 -10.8z" fill="#dfff31"/>
<path d="M1825.3 879l14.5 12.8 13.4 -2.8 -14.6 -12.6z" fill="#56f82b"/>
<path d="M1698.7 833.3l13.9 10.4 14.2 -3 -13.9 -10.3z" fill="#fff635"/>
<path d="M1797.3 869.3l14.4 12.4 13.6 -2.7 -14.5 -12.3z" fill="#7bf92c"/>
<path d="M1670.4 826.5l13.8 9.9 14.5 -3.1 -13.9 -9.9z" fill="#ffe036"/>
<path d="M1642.1 820.4l13.7 9.3 14.6 -3.2 -13.7 -9.4z" fill="#ffcb37"/>
<path d="M1769.1 860.2l14.4 12 13.8 -2.9 -14.4 -11.8z" fill="#9ffb2d"/>
<path d="M1613.8 815l13.5 8.9 14.8 -3.5 -13.5 -8.9z" fill="#ffba37"/>
<path d="M1585.4 810.4l13.3 8.4 15.1 -3.8 -13.4 -8.3z" fill="#ffac37"/>
<path d="M1740.9 851.7l14.3 11.4 13.9 -2.9 -14.2 -11.4z" fill="#c2fe2e"/>
<path d="M1557 806.7l13.2 7.8 15.2 -4.1 -13.2 -7.7z" fill="#ffa037"/>
<path d="M1528.6 803.8l13 7.2 15.4 -4.3 -13 -7.2z" fill="#ff9637"/>
<path d="M1471.9 800.7l12.6 6 15.7 -4.9 -12.6 -6.1z" fill="#ff8b37"/>
<path d="M1500.2 801.8l12.8 6.6 15.6 -4.6 -12.8 -6.6z" fill="#ff9037"/>
<path d="M1712.6 843.7l14.1 11 14.2 -3 -14.1 -11z" fill="#eeff32"/>
<path d="M1811.7 881.7l14.6 13 13.5 -2.9 -14.5 -12.8z" fill="#60f92b"/>
<path d="M1684.2 836.4l14 10.5 14.4 -3.2 -13.9 -10.4z" fill="#ffef35"/>
<path d="M1783.5 872.2l14.5 12.5 13.7 -3 -14.4 -12.4z" fill="#85fa2c"/>
<path d="M1655.8 829.7l13.8 10 14.6 -3.3 -13.8 -9.9z" fill="#ffd937"/>
<path d="M1627.3 823.9l13.6 9.4 14.9 -3.6 -13.7 -9.3z" fill="#ffc637"/>
<path d="M1755.2 863.1l14.3 12.1 14 -3 -14.4 -12z" fill="#a9fc2d"/>
<path d="M1598.7 818.8l13.5 8.9 15.1 -3.8 -13.5 -8.9z" fill="#ffb637"/>
<path d="M1570.2 814.5l13.3 8.3 15.2 -4 -13.3 -8.4z" fill="#ffa837"/>
<path d="M1541.6 811l13.1 7.8 15.5 -4.3 -13.2 -7.8z" fill="#ff9d37"/>
<path d="M1726.7 854.7l14.3 11.6 14.2 -3.2 -14.3 -11.4z" fill="#ccff2e"/>
<path d="M1513 808.4l13 7.2 15.6 -4.6 -13 -7.2z" fill="#ff9537"/>
<path d="M1484.5 806.7l12.8 6.6 15.7 -4.9 -12.8 -6.6z" fill="#ff8f37"/>
<path d="M1698.2 846.9l14.1 11 14.4 -3.2 -14.1 -11z" fill="#fcff34"/>
<path d="M1798 884.7l14.6 13.1 13.7 -3.1 -14.6 -13z" fill="#6af92b"/>
<path d="M1669.6 839.7l14 10.6 14.6 -3.4 -14 -10.5z" fill="#ffe936"/>
<path d="M1640.9 833.3l13.9 10 14.8 -3.6 -13.8 -10z" fill="#ffd437"/>
<path d="M1769.5 875.2l14.6 12.6 13.9 -3.1 -14.5 -12.5z" fill="#8efa2c"/>
<path d="M1612.2 827.7l13.7 9.4 15 -3.8 -13.6 -9.4z" fill="#ffc137"/>
<path d="M1741 866.3l14.4 12.1 14.1 -3.2 -14.3 -12.1z" fill="#b2fd2d"/>
<path d="M1583.5 822.8l13.5 8.9 15.2 -4 -13.5 -8.9z" fill="#ffb237"/>
<path d="M1554.7 818.8l13.4 8.3 15.4 -4.3 -13.3 -8.3z" fill="#ffa537"/>
<path d="M1526 815.6l13.1 7.8 15.6 -4.6 -13.1 -7.8z" fill="#ff9b37"/>
<path d="M1497.3 813.3l12.9 7.2 15.8 -4.9 -13 -7.2z" fill="#ff9437"/>
<path d="M1712.3 857.9l14.3 11.7 14.4 -3.3 -14.3 -11.6z" fill="#d7ff2f"/>
<path d="M1683.6 850.3l14.1 11.1 14.6 -3.5 -14.1 -11z" fill="#fffa34"/>
<path d="M1784.1 887.8l14.6 13.3 13.9 -3.3 -14.6 -13.1z" fill="#73f92b"/>
<path d="M1654.8 843.3l14 10.7 14.8 -3.7 -14 -10.6z" fill="#ffe336"/>
<path d="M1625.9 837.1l13.9 10.1 15 -3.9 -13.9 -10z" fill="#ffcf37"/>
<path d="M1755.4 878.4l14.5 12.8 14.2 -3.4 -14.6 -12.6z" fill="#97fa2c"/>
<path d="M1597 831.7l13.7 9.5 15.2 -4.1 -13.7 -9.4z" fill="#ffbe37"/>
<path d="M1568.1 827.1l13.5 9 15.4 -4.4 -13.5 -8.9z" fill="#ffaf37"/>
<path d="M1726.6 869.6l14.4 12.3 14.4 -3.5 -14.4 -12.1z" fill="#bbfd2d"/>
<path d="M1539.1 823.4l13.4 8.3 15.6 -4.6 -13.4 -8.3z" fill="#ffa337"/>
<path d="M1510.2 820.5l13.1 7.8 15.8 -4.9 -13.1 -7.8z" fill="#ff9a37"/>
<path d="M1697.7 861.4l14.3 11.8 14.6 -3.6 -14.3 -11.7z" fill="#e4ff31"/>
<path d="M1668.8 854l14.1 11.2 14.8 -3.8 -14.1 -11.1z" fill="#fff435"/>
<path d="M1769.9 891.2l14.7 13.4 14.1 -3.5 -14.6 -13.3z" fill="#7cf92b"/>
<path d="M1639.8 847.2l14 10.7 15 -3.9 -14 -10.7z" fill="#ffde36"/>
<path d="M1610.7 841.2l13.8 10.1 15.3 -4.1 -13.9 -10.1z" fill="#ffcb37"/>
<path d="M1741 881.9l14.6 12.9 14.3 -3.6 -14.5 -12.8z" fill="#a0fb2c"/>
<path d="M1581.6 836.1l13.7 9.5 15.4 -4.4 -13.7 -9.5z" fill="#ffba37"/>
<path d="M1552.5 831.7l13.5 9 15.6 -4.6 -13.5 -9z" fill="#ffad37"/>
<path d="M1523.3 828.3l13.3 8.4 15.9 -5 -13.4 -8.3z" fill="#ffa237"/>
<path d="M1712 873.2l14.5 12.4 14.5 -3.7 -14.4 -12.3z" fill="#c4fe2d"/>
<path d="M1682.9 865.2l14.4 11.8 14.7 -3.8 -14.3 -11.8z" fill="#f0ff32"/>
<path d="M1653.8 857.9l14.1 11.3 15 -4 -14.1 -11.2z" fill="#ffef35"/>
<path d="M1755.6 894.8l14.7 13.4 14.3 -3.6 -14.7 -13.4z" fill="#84fa2b"/>
<path d="M1624.5 851.3l14.1 10.8 15.2 -4.2 -14 -10.7z" fill="#ffda36"/>
<path d="M1595.3 845.6l13.8 10.2 15.4 -4.5 -13.8 -10.1z" fill="#ffc737"/>
<path d="M1726.5 885.6l14.6 12.9 14.5 -3.7 -14.6 -12.9z" fill="#a8fc2c"/>
<path d="M1566 840.7l13.6 9.6 15.7 -4.7 -13.7 -9.5z" fill="#ffb837"/>
<path d="M1536.6 836.7l13.5 8.9 15.9 -4.9 -13.5 -9z" fill="#ffab37"/>
<path d="M1697.3 877l14.4 12.5 14.8 -3.9 -14.5 -12.4z" fill="#cbff2e"/>
<path d="M1667.9 869.2l14.4 11.9 15 -4.1 -14.4 -11.8z" fill="#faff33"/>
<path d="M1638.6 862.1l14.1 11.3 15.2 -4.2 -14.1 -11.3z" fill="#ffea35"/>
<path d="M1609.1 855.8l14 10.7 15.5 -4.4 -14.1 -10.8z" fill="#ffd637"/>
<path d="M1741.1 898.5l14.7 13.6 14.5 -3.9 -14.7 -13.4z" fill="#8bfa2b"/>
<path d="M1579.6 850.3l13.9 10.1 15.6 -4.6 -13.8 -10.2z" fill="#ffc437"/>
<path d="M1550.1 845.6l13.7 9.6 15.8 -4.9 -13.6 -9.6z" fill="#ffb637"/>
<path d="M1711.7 889.5l14.6 13 14.8 -4 -14.6 -12.9z" fill="#b0fc2c"/>
<path d="M1682.3 881.1l14.5 12.5 14.9 -4.1 -14.4 -12.5z" fill="#d2ff2e"/>
<path d="M1652.7 873.4l14.4 12 15.2 -4.3 -14.4 -11.9z" fill="#fffd34"/>
<path d="M1623.1 866.5l14.2 11.4 15.4 -4.5 -14.1 -11.3z" fill="#ffe635"/>
<path d="M1593.5 860.4l14 10.8 15.6 -4.7 -14 -10.7z" fill="#ffd337"/>
<path d="M1726.3 902.5l14.8 13.7 14.7 -4.1 -14.7 -13.6z" fill="#92fa2b"/>
<path d="M1563.8 855.2l13.8 10.2 15.9 -5 -13.9 -10.1z" fill="#ffc237"/>
<path d="M1696.8 893.6l14.6 13.1 14.9 -4.2 -14.6 -13z" fill="#b7fd2d"/>
<path d="M1667.1 885.4l14.5 12.5 15.2 -4.3 -14.5 -12.5z" fill="#dcff2f"/>
<path d="M1637.3 877.9l14.4 12 15.4 -4.5 -14.4 -12z" fill="#fff934"/>
<path d="M1607.5 871.2l14.2 11.4 15.6 -4.7 -14.2 -11.4z" fill="#ffe336"/>
<path d="M1577.6 865.4l14.1 10.8 15.8 -5 -14 -10.8z" fill="#ffd137"/>
<path d="M1711.4 906.7l14.8 13.8 14.9 -4.3 -14.8 -13.7z" fill="#99fb2b"/>
<path d="M1681.6 897.9l14.6 13.2 15.2 -4.4 -14.6 -13.1z" fill="#bdfd2d"/>
<path d="M1651.7 889.9l14.5 12.6 15.4 -4.6 -14.5 -12.5z" fill="#e5ff30"/>
<path d="M1621.7 882.6l14.4 12.1 15.6 -4.8 -14.4 -12z" fill="#fff534"/>
<path d="M1591.7 876.2l14.2 11.4 15.8 -5 -14.2 -11.4z" fill="#ffe036"/>
<path d="M1696.2 911.1l14.9 13.9 15.1 -4.5 -14.8 -13.8z" fill="#a0fb2b"/>
<path d="M1666.2 902.5l14.7 13.3 15.3 -4.7 -14.6 -13.2z" fill="#c2fe2d"/>
<path d="M1636.1 894.7l14.5 12.7 15.6 -4.9 -14.5 -12.6z" fill="#ecff31"/>
<path d="M1605.9 887.6l14.3 12.1 15.9 -5 -14.4 -12.1z" fill="#fff235"/>
<path d="M1680.9 915.8l14.8 13.9 15.4 -4.7 -14.9 -13.9z" fill="#a5fc2c"/>
<path d="M1650.6 907.4l14.7 13.3 15.6 -4.9 -14.7 -13.3z" fill="#c7fe2d"/>
<path d="M1620.2 899.7l14.6 12.7 15.8 -5 -14.5 -12.7z" fill="#f2ff32"/>
<path d="M1665.3 920.7l14.8 14 15.6 -5 -14.8 -13.9z" fill="#abfc2c"/>
<path d="M1634.8 912.4l14.7 13.4 15.8 -5.1 -14.7 -13.3z" fill="#ccff2d"/>
<path d="M1649.5 925.8l14.9 14 15.7 -5.1 -14.8 -14z" fill="#affc2c"/>
</g></g>
<path d="M1400.3 775.7L1415.8 770.6L1431.1 765.8L1446.3 761.4L1461.3 757.2L1476.2 753.5L1490.8 750L1505.3 746.8L1519.7 744L1533.9 741.4L1547.9 739.1L1561.7 737.2L1575.4 735.5L1589 734.1L1602.3 733L1615.5 732.1L1628.6 731.6L1641.5 731.2L1654.2 731.2L1666.8 731.4L1679.2 731.8M1411.8 778.6L1427.3 773.5L1442.7 768.7L1457.9 764.3L1472.9 760.2L1487.8 756.5L1502.5 753L1517.1 749.9L1531.4 747.1L1545.6 744.5L1559.7 742.3L1573.5 740.3L1587.2 738.7L1600.8 737.3L1614.1 736.2L1627.4 735.4L1640.4 734.8L1653.3 734.5L1666 734.5L1678.6 734.7L1691 735.1M1423.4 781.9L1439 776.9L1454.4 772.2L1469.7 767.8L1484.7 763.7L1499.6 760L1514.4 756.6L1528.9 753.4L1543.3 750.6L1557.5 748.1L1571.6 745.9L1585.5 744L1599.2 742.3L1612.7 741L1626.1 739.9L1639.3 739.1L1652.4 738.5L1665.3 738.2L1678 738.2L1690.6 738.4L1703 738.8M1435.3 785.8L1450.9 780.8L1466.3 776.1L1481.6 771.7L1496.7 767.7L1511.6 764L1526.4 760.6L1541 757.5L1555.4 754.7L1569.6 752.2L1583.7 750L1597.6 748.1L1611.3 746.4L1624.8 745.1L1638.2 744L1651.5 743.1L1664.5 742.6L1677.4 742.3L1690.1 742.2L1702.7 742.4L1715.1 742.9M1447.3 790.2L1463 785.2L1478.4 780.6L1493.7 776.2L1508.9 772.2L1523.8 768.5L1538.6 765.1L1553.2 762L1567.6 759.2L1581.9 756.7L1595.9 754.5L1609.8 752.6L1623.6 751L1637.1 749.6L1650.5 748.5L1663.7 747.7L1676.8 747.1L1689.7 746.8L1702.4 746.7L1714.9 746.9L1727.3 747.3M1459.5 795.2L1475.2 790.2L1490.7 785.6L1506 781.2L1521.2 777.2L1536.2 773.5L1551 770.1L1565.6 767.1L1580 764.3L1594.3 761.8L1608.3 759.6L1622.2 757.6L1636 756L1649.5 754.6L1662.9 753.5L1676.1 752.6L1689.2 752L1702.1 751.7L1714.8 751.6L1727.3 751.7L1739.7 752.1M1471.9 800.7L1487.6 795.7L1503.2 791.1L1518.5 786.8L1533.7 782.8L1548.7 779.1L1563.5 775.7L1578.1 772.6L1592.5 769.8L1606.8 767.3L1620.9 765.1L1634.8 763.1L1648.5 761.5L1662.1 760.1L1675.5 758.9L1688.7 758L1701.7 757.4L1714.6 757L1727.3 756.9L1752.2 757.3M1484.5 806.7L1500.2 801.8L1515.8 797.2L1531.2 792.9L1546.4 788.9L1561.4 785.2L1576.2 781.8L1590.8 778.7L1605.3 775.9L1619.5 773.4L1633.6 771.1L1647.5 769.1L1661.3 767.4L1674.8 766L1688.2 764.8L1701.4 763.9L1727.3 762.8L1740 762.6L1764.9 763M1497.3 813.3L1513 808.4L1528.6 803.8L1544 799.5L1559.2 795.5L1574.2 791.8L1589 788.4L1603.7 785.3L1618.1 782.5L1632.4 779.9L1646.5 777.6L1674.1 773.9L1687.7 772.4L1714.3 770.2L1740.1 769L1752.8 768.8L1777.7 769M1510.2 820.5L1526 815.6L1541.6 811L1557 806.7L1587.2 799L1616.7 792.4L1631.2 789.6L1659.5 784.7L1687.1 780.8L1700.7 779.3L1727.2 777L1753.1 775.7L1765.8 775.4L1790.6 775.4M1523.3 828.3L1554.7 818.8L1570.2 814.5L1600.4 806.7L1629.9 800.1L1644.3 797.2L1672.7 792.2L1700.3 788.3L1713.8 786.7L1740.4 784.3L1766.2 782.8L1778.9 782.4L1803.6 782.2M1536.6 836.7L1568.1 827.1L1583.5 822.8L1613.8 815L1643.2 808.3L1657.7 805.4L1686 800.3L1713.6 796.3L1727.1 794.6L1753.6 792L1779.4 790.3L1792.1 789.8L1816.8 789.5M1550.1 845.6L1581.6 836.1L1597 831.7L1627.3 823.9L1656.7 817.1L1671.2 814.1L1699.5 808.9L1727.1 804.7L1740.6 803L1767.1 800.2L1792.8 798.4L1805.4 797.8L1830.2 797.2M1563.8 855.2L1595.3 845.6L1610.7 841.2L1640.9 833.3L1670.4 826.5L1684.8 823.4L1713.1 818.1L1740.7 813.7L1754.2 811.9L1780.6 808.9L1806.3 806.9L1818.9 806.1L1843.6 805.3M1577.6 865.4L1609.1 855.8L1624.5 851.3L1654.8 843.3L1684.2 836.4L1698.7 833.3L1726.9 827.8L1754.4 823.2L1767.9 821.3L1794.3 818.1L1820 815.8L1832.6 815L1857.2 813.9M1591.7 876.2L1623.1 866.5L1638.6 862.1L1668.8 854L1698.2 846.9L1712.6 843.7L1740.9 838L1768.3 833.3L1781.8 831.3L1808.1 827.8L1833.8 825.3L1846.3 824.3L1870.9 822.9M1605.9 887.6L1637.3 877.9L1652.7 873.4L1682.9 865.2L1712.3 857.9L1726.7 854.7L1754.9 848.8L1782.4 843.9L1795.8 841.7L1822.1 838.1L1847.7 835.2L1860.2 834L1884.7 832.3M1620.2 899.7L1651.7 889.9L1667.1 885.4L1697.3 877L1726.6 869.6L1741 866.3L1769.1 860.2L1796.5 855L1809.9 852.7L1836.2 848.8L1861.7 845.6L1874.2 844.3L1898.7 842.2M1634.8 912.4L1666.2 902.5L1681.6 897.9L1711.7 889.5L1741 881.9L1755.4 878.4L1783.5 872.2L1810.8 866.7L1824.2 864.3L1850.4 860L1875.9 856.5L1888.4 855L1912.8 852.6M1649.5 925.8L1680.9 915.8L1696.2 911.1L1726.3 902.5L1755.6 894.8L1769.9 891.2L1798 884.7L1825.3 879L1838.6 876.4L1864.8 871.8L1890.2 867.9L1902.6 866.2L1927 863.4M1664.4 939.8L1695.7 929.7L1711.1 925L1741.1 916.2L1770.3 908.2L1784.6 904.6L1812.6 897.8L1839.8 891.8L1853.2 889L1879.2 884.1L1904.6 879.8L1917 877.9L1941.3 874.7M1400.3 775.7L1411.8 778.6L1423.4 781.9L1435.3 785.8L1447.3 790.2L1459.5 795.2L1471.9 800.7L1484.5 806.7L1497.3 813.3L1510.2 820.5L1523.3 828.3L1536.6 836.7L1550.1 845.6L1563.8 855.2L1577.6 865.4L1591.7 876.2L1605.9 887.6L1620.2 899.7L1634.8 912.4L1649.5 925.8L1664.4 939.8M1415.8 770.6L1427.3 773.5L1439 776.9L1450.9 780.8L1463 785.2L1475.2 790.2L1487.6 795.7L1500.2 801.8L1513 808.4L1526 815.6L1539.1 823.4L1552.5 831.7L1566 840.7L1579.6 850.3L1593.5 860.4L1607.5 871.2L1621.7 882.6L1636.1 894.7L1650.6 907.4L1665.3 920.7L1680.1 934.7M1431.1 765.8L1442.7 768.7L1454.4 772.2L1466.3 776.1L1478.4 780.6L1490.7 785.6L1503.2 791.1L1515.8 797.2L1528.6 803.8L1541.6 811L1554.7 818.8L1568.1 827.1L1581.6 836.1L1595.3 845.6L1609.1 855.8L1623.1 866.5L1637.3 877.9L1651.7 889.9L1666.2 902.5L1680.9 915.8L1695.7 929.7M1446.3 761.4L1457.9 764.3L1469.7 767.8L1481.6 771.7L1493.7 776.2L1506 781.2L1518.5 786.8L1531.2 792.9L1544 799.5L1557 806.7L1570.2 814.5L1583.5 822.8L1597 831.7L1610.7 841.2L1624.5 851.3L1638.6 862.1L1652.7 873.4L1667.1 885.4L1681.6 897.9L1696.2 911.1L1711.1 925M1461.3 757.2L1472.9 760.2L1484.7 763.7L1496.7 767.7L1508.9 772.2L1521.2 777.2L1533.7 782.8L1546.4 788.9L1559.2 795.5L1572.2 802.7L1585.4 810.4L1598.7 818.8L1612.2 827.7L1625.9 837.1L1639.8 847.2L1653.8 857.9L1667.9 869.2L1682.3 881.1L1696.8 893.6L1711.4 906.7L1726.2 920.5M1476.2 753.5L1487.8 756.5L1499.6 760L1511.6 764L1523.8 768.5L1536.2 773.5L1548.7 779.1L1561.4 785.2L1574.2 791.8L1587.2 799L1600.4 806.7L1613.8 815L1627.3 823.9L1640.9 833.3L1654.8 843.3L1668.8 854L1682.9 865.2L1697.3 877L1711.7 889.5L1726.3 902.5L1741.1 916.2M1490.8 750L1502.5 753L1514.4 756.6L1526.4 760.6L1538.6 765.1L1551 770.1L1563.5 775.7L1576.2 781.8L1589 788.4L1602.1 795.6L1615.2 803.3L1628.6 811.5L1642.1 820.4L1655.8 829.7L1669.6 839.7L1683.6 850.3L1697.7 861.4L1712 873.2L1726.5 885.6L1741.1 898.5L1755.8 912.1M1505.3 746.8L1517.1 749.9L1528.9 753.4L1541 757.5L1553.2 762L1565.6 767.1L1578.1 772.6L1590.8 778.7L1603.7 785.3L1616.7 792.4L1629.9 800.1L1643.2 808.3L1656.7 817.1L1670.4 826.5L1684.2 836.4L1698.2 846.9L1712.3 857.9L1726.6 869.6L1741 881.9L1755.6 894.8L1770.3 908.2M1519.7 744L1531.4 747.1L1543.3 750.6L1555.4 754.7L1567.6 759.2L1580 764.3L1592.5 769.8L1605.3 775.9L1618.1 782.5L1631.2 789.6L1644.3 797.2L1657.7 805.4L1671.2 814.1L1684.8 823.4L1698.7 833.3L1712.6 843.7L1726.7 854.7L1741 866.3L1755.4 878.4L1769.9 891.2L1784.6 904.6M1533.9 741.4L1545.6 744.5L1557.5 748.1L1569.6 752.2L1581.9 756.7L1594.3 761.8L1606.8 767.3L1619.5 773.4L1632.4 779.9L1645.4 787L1658.6 794.6L1671.9 802.7L1685.4 811.4L1699.1 820.6L1712.9 830.4L1726.8 840.7L1740.9 851.7L1755.2 863.1L1769.5 875.2L1784.1 887.8L1798.7 901.1M1547.9 739.1L1559.7 742.3L1571.6 745.9L1583.7 750L1595.9 754.5L1608.3 759.6L1620.9 765.1L1633.6 771.1L1646.5 777.6L1659.5 784.7L1672.7 792.2L1686 800.3L1699.5 808.9L1713.1 818.1L1726.9 827.8L1740.9 838L1754.9 848.8L1769.1 860.2L1783.5 872.2L1798 884.7L1812.6 897.8M1561.7 737.2L1573.5 740.3L1585.5 744L1597.6 748.1L1609.8 752.6L1622.2 757.6L1634.8 763.1L1647.5 769.1L1660.4 775.6L1673.4 782.6L1686.6 790.1L1699.9 798.2L1713.4 806.7L1727 815.8L1740.8 825.4L1754.7 835.6L1768.7 846.3L1782.9 857.5L1797.3 869.3L1811.7 881.7L1826.3 894.7M1575.4 735.5L1587.2 738.7L1599.2 742.3L1611.3 746.4L1623.6 751L1636 756L1648.5 761.5L1661.3 767.4L1674.1 773.9L1687.1 780.8L1700.3 788.3L1713.6 796.3L1727.1 804.7L1740.7 813.7L1754.4 823.2L1768.3 833.3L1782.4 843.9L1796.5 855L1810.8 866.7L1825.3 879L1839.8 891.8M1589 734.1L1600.8 737.3L1612.7 741L1624.8 745.1L1637.1 749.6L1649.5 754.6L1662.1 760.1L1674.8 766L1687.7 772.4L1700.7 779.3L1713.8 786.7L1727.1 794.6L1740.6 803L1754.2 811.9L1767.9 821.3L1781.8 831.3L1795.8 841.7L1809.9 852.7L1824.2 864.3L1838.6 876.4L1853.2 889M1602.3 733L1614.1 736.2L1626.1 739.9L1638.2 744L1650.5 748.5L1662.9 753.5L1675.5 758.9L1688.2 764.8L1701.1 771.2L1714.1 778L1727.2 785.4L1740.5 793.2L1753.9 801.5L1767.5 810.3L1781.2 819.6L1795 829.5L1809 839.8L1823.2 850.7L1837.4 862.1L1851.8 874L1866.3 886.5M1615.5 732.1L1627.4 735.4L1639.3 739.1L1651.5 743.1L1663.7 747.7L1676.1 752.6L1688.7 758L1701.4 763.9L1714.3 770.2L1727.2 777L1740.4 784.3L1753.6 792L1767.1 800.2L1780.6 808.9L1794.3 818.1L1808.1 827.8L1822.1 838.1L1836.2 848.8L1850.4 860L1864.8 871.8L1879.2 884.1M1628.6 731.6L1640.4 734.8L1652.4 738.5L1664.5 742.6L1676.8 747.1L1689.2 752L1701.7 757.4L1714.4 763.2L1727.3 769.5L1740.3 776.2L1753.4 783.4L1766.6 791.1L1780 799.2L1793.6 807.8L1807.2 816.9L1821 826.5L1835 836.5L1849 847.1L1863.2 858.2L1877.6 869.8L1892 881.9M1641.5 731.2L1653.3 734.5L1665.3 738.2L1677.4 742.3L1689.7 746.8L1702.1 751.7L1714.6 757L1727.3 762.8L1740.1 769L1753.1 775.7L1766.2 782.8L1779.4 790.3L1792.8 798.4L1806.3 806.9L1820 815.8L1833.8 825.3L1847.7 835.2L1861.7 845.6L1875.9 856.5L1890.2 867.9L1904.6 879.8M1654.2 731.2L1666 734.5L1678 738.2L1690.1 742.2L1702.4 746.7L1714.8 751.6L1727.3 756.9L1740 762.6L1752.8 768.8L1765.8 775.4L1778.9 782.4L1792.1 789.8L1805.4 797.8L1818.9 806.1L1832.6 815L1846.3 824.3L1860.2 834L1874.2 844.3L1888.4 855L1902.6 866.2L1917 877.9M1666.8 731.4L1678.6 734.7L1690.6 738.4L1702.7 742.4L1714.9 746.9L1727.3 751.7L1739.9 757L1752.5 762.7L1765.3 768.8L1778.3 775.3L1791.3 782.2L1804.5 789.6L1817.9 797.4L1831.4 805.6L1845 814.3L1858.7 823.5L1872.5 833.1L1886.5 843.2L1900.6 853.7L1914.9 864.7L1929.2 876.2M1679.2 731.8L1691 735.1L1703 738.8L1715.1 742.9L1727.3 747.3L1739.7 752.1L1752.2 757.3L1764.9 763L1777.7 769L1790.6 775.4L1803.6 782.2L1816.8 789.5L1830.2 797.2L1843.6 805.3L1857.2 813.9L1870.9 822.9L1884.7 832.3L1898.7 842.2L1912.8 852.6L1927 863.4L1941.3 874.7" fill="none" stroke="#000" stroke-opacity="0.9" stroke-width="1.7" stroke-linejoin="round" stroke-linecap="round"/>
<path d="M1400.3 775.7L1411.8 778.6L1423.4 781.9L1435.3 785.8L1447.3 790.2L1459.5 795.2L1471.9 800.7L1484.5 806.7L1497.3 813.3L1510.2 820.5L1523.3 828.3L1536.6 836.7L1550.1 845.6L1563.8 855.2L1577.6 865.4L1591.7 876.2L1605.9 887.6L1620.2 899.7L1634.8 912.4L1649.5 925.8L1664.4 939.8L1695.7 929.7L1741.1 916.2L1770.3 908.2L1812.6 897.8L1839.8 891.8L1879.2 884.1L1904.6 879.8L1941.3 874.6L1912.8 852.6L1898.7 842.2L1870.9 822.9L1857.2 813.9L1843.6 805.3L1830.2 797.2L1816.8 789.5L1803.6 782.2L1790.6 775.4L1777.7 769L1764.9 763L1752.2 757.3L1739.7 752.1L1727.3 747.3L1715.1 742.9L1703 738.8L1691 735.1L1679.2 731.8L1654.2 731.2L1641.5 731.2L1615.5 732.1L1589 734.1L1575.4 735.5L1547.9 739.1L1519.7 744L1505.3 746.8L1476.2 753.5L1446.3 761.4L1431.1 765.8Z" fill="none" stroke="#000" stroke-opacity="0.7" stroke-width="1.3" stroke-linejoin="round"/>
<circle cx="1399.5" cy="768.2" r="6" fill="#c40000" stroke="#4a0808" stroke-width="1"/>
<path d="M1667 792.2a5.5 5.5 0 0 1 11 0z" fill="#c40000" stroke="#4a0808" stroke-width="0.9"/>
<g font-family="'Liberation Sans',sans-serif" font-size="15.5" fill="#484848">
<text x="1402.6" y="963.9" text-anchor="end">50</text>
<text x="1400" y="919.9" text-anchor="end">60</text>
<text x="1397.5" y="876" text-anchor="end">70</text>
<text x="1394.9" y="832" text-anchor="end">80</text>
<text x="1392.4" y="788.1" text-anchor="end">90</text>
<text x="1389.8" y="744.1" text-anchor="end">100</text>
<text x="1387.3" y="700.2" text-anchor="end">110</text>
<text x="1408.3" y="1067.8" text-anchor="end">0.15</text>
<text x="1458" y="1096" text-anchor="end">0.13</text>
<text x="1507.7" y="1124.3" text-anchor="end">0.11</text>
<text x="1557.4" y="1152.5" text-anchor="end">0.09</text>
<text x="1607.1" y="1180.8" text-anchor="end">0.07</text>
<text x="1656.8" y="1209" text-anchor="end">0.05</text>
<text x="1672.8" y="1209" text-anchor="start">5</text>
<text x="1739.1" y="1175.4" text-anchor="start">4</text>
<text x="1805.4" y="1141.8" text-anchor="start">3</text>
<text x="1871.7" y="1108.1" text-anchor="start">2</text>
<text x="1938" y="1074.5" text-anchor="start">1</text>
</g>
<g font-family="'Liberation Serif',serif" font-weight="bold" fill="#111" text-anchor="middle">
<text x="1341.7" y="652" font-size="35" text-anchor="start">(f)</text>
<text transform="translate(1358.7 876) rotate(-90)" font-size="23.2" textLength="138" lengthAdjust="spacingAndGlyphs" y="7">Cr(VI) removal (%)</text>
<text transform="translate(1490 1150) rotate(30)" font-size="20" textLength="225" lengthAdjust="spacingAndGlyphs" y="6">B: BM-WB addition amount (g)</text>
<text transform="translate(1826 1148) rotate(-25.3)" font-size="20" textLength="133" lengthAdjust="spacingAndGlyphs" y="6">C: reaction time (h)</text>
</g>
</g>
<g id="p_g">
<rect x="406.9" y="1270.7" width="525.1" height="489.2" fill="#fff" stroke="#303030" stroke-width="2.4"/>
<path d="M406.9 1735.9h-11M432.3 1759.9v11M406.9 1662.4h-11M511.1 1759.9v11M406.9 1588.8h-11M589.9 1759.9v11M406.9 1515.3h-11M668.8 1759.9v11M406.9 1441.8h-11M747.6 1759.9v11M406.9 1368.2h-11M826.4 1759.9v11M406.9 1294.7h-11M905.2 1759.9v11" stroke="#3a3a3a" stroke-width="1.6" fill="none"/>
<g font-family="'Liberation Sans',sans-serif" font-size="13.4" fill="#4a4a4a">
<text x="389.9" y="1740.4" text-anchor="end">50</text>
<text x="432.3" y="1789.4" text-anchor="middle">50</text>
<text x="389.9" y="1666.9" text-anchor="end">60</text>
<text x="511.1" y="1789.4" text-anchor="middle">60</text>
<text x="389.9" y="1593.3" text-anchor="end">70</text>
<text x="589.9" y="1789.4" text-anchor="middle">70</text>
<text x="389.9" y="1519.8" text-anchor="end">80</text>
<text x="668.8" y="1789.4" text-anchor="middle">80</text>
<text x="389.9" y="1446.3" text-anchor="end">90</text>
<text x="747.6" y="1789.4" text-anchor="middle">90</text>
<text x="389.9" y="1372.7" text-anchor="end">100</text>
<text x="826.4" y="1789.4" text-anchor="middle">100</text>
<text x="389.9" y="1299.2" text-anchor="end">110</text>
<text x="905.2" y="1789.4" text-anchor="middle">110</text>
</g>
<line x1="432.3" y1="1735.9" x2="905.2" y2="1294.7" stroke="#333" stroke-width="1.6"/>
<g stroke="#202020" stroke-opacity="0.8" stroke-width="1.1">
<rect x="473.5" y="1705.7" width="9" height="9" fill="#000cc5"/>
<rect x="477.5" y="1688" width="9" height="9" fill="#0017d0"/>
<rect x="485.3" y="1673.3" width="9" height="9" fill="#0031e6"/>
<rect x="486.1" y="1691" width="9" height="9" fill="#0033e9"/>
<rect x="499.5" y="1638.7" width="9" height="9" fill="#005df1"/>
<rect x="507.4" y="1627" width="9" height="9" fill="#0075f5"/>
<rect x="518.4" y="1616.7" width="9" height="9" fill="#058af5"/>
<rect x="537.4" y="1686.5" width="9" height="9" fill="#0ab0f3"/>
<rect x="594.9" y="1552" width="9" height="9" fill="#04ed97"/>
<rect x="613.8" y="1534.3" width="9" height="9" fill="#0cec64"/>
<rect x="623.3" y="1531.4" width="9" height="9" fill="#10ec4b"/>
<rect x="638.2" y="1520.4" width="9" height="9" fill="#1beb2d"/>
<rect x="645.3" y="1520.4" width="9" height="9" fill="#24ec27"/>
<rect x="670.6" y="1502" width="9" height="9" fill="#4cee18"/>
<rect x="689.5" y="1476.2" width="9" height="9" fill="#78ef18"/>
<rect x="708.4" y="1470.4" width="9" height="9" fill="#a7f318"/>
<rect x="707.6" y="1464.5" width="9" height="9" fill="#a5f218"/>
<rect x="717.8" y="1460.8" width="9" height="9" fill="#c0f418"/>
<rect x="717.1" y="1456.4" width="9" height="9" fill="#bef418"/>
<rect x="723.4" y="1449.8" width="9" height="9" fill="#d4f51a"/>
<rect x="730.5" y="1446.8" width="9" height="9" fill="#f2f51d"/>
<rect x="732" y="1452.7" width="9" height="9" fill="#f5f31d"/>
<rect x="738.3" y="1467.4" width="9" height="9" fill="#f5e61d"/>
<rect x="739.1" y="1442.4" width="9" height="9" fill="#f5e41d"/>
<rect x="745.4" y="1443.1" width="9" height="9" fill="#f5d71d"/>
<rect x="746.2" y="1435.8" width="9" height="9" fill="#f5d51d"/>
<rect x="751.7" y="1426.2" width="9" height="9" fill="#f5c91d"/>
<rect x="757.3" y="1426.2" width="9" height="9" fill="#f5bd1d"/>
<rect x="768.3" y="1424.8" width="9" height="9" fill="#f5a71d"/>
<rect x="785.6" y="1427" width="9" height="9" fill="#f5841d"/>
<rect x="793.5" y="1403.4" width="9" height="9" fill="#f5711d"/>
<rect x="802.2" y="1401.2" width="9" height="9" fill="#f5581d"/>
<rect x="804.5" y="1400.5" width="9" height="9" fill="#f5511c"/>
<rect x="810.8" y="1392.4" width="9" height="9" fill="#f53f1a"/>
<rect x="810.8" y="1387.3" width="9" height="9" fill="#f53f1a"/>
<rect x="817.2" y="1380.6" width="9" height="9" fill="#f53118"/>
<rect x="821.9" y="1379.2" width="9" height="9" fill="#f52a17"/>
<rect x="821.9" y="1350.5" width="9" height="9" fill="#f52a17"/>
<rect x="821.9" y="1346.1" width="9" height="9" fill="#f52a17"/>
<rect x="821.9" y="1340.2" width="9" height="9" fill="#f52a17"/>
<rect x="821.9" y="1325.5" width="9" height="9" fill="#f52a17"/>
</g>
<g font-family="'Liberation Serif',serif" font-weight="bold" fill="#111" text-anchor="middle">
<text transform="translate(344.6 1498.4) rotate(-90)" font-size="18.7" textLength="76.6" lengthAdjust="spacingAndGlyphs" y="5.6">Predicted</text>
<text transform="translate(666.3 1801.5)" font-size="19.1" textLength="54" lengthAdjust="spacingAndGlyphs" y="5.7">Actual</text>
<text x="587" y="1443.7" font-size="35" text-anchor="start">(g)</text>
</g>
</g>
<g id="p_h">
<rect x="1036.9" y="1267.9" width="530.3" height="495.5" fill="#fff" stroke="#303030" stroke-width="2.4"/>
<path d="M1036.9 1292.6h-12M1036.9 1381.8h-12M1036.9 1470.9h-12M1036.9 1560h-12M1036.9 1649.2h-12M1036.9 1738.7h-12M1062.3 1763.4v12M1182.4 1763.4v12M1300.8 1763.4v12M1420.3 1763.4v12M1539.3 1763.4v12" stroke="#3a3a3a" stroke-width="1.6" fill="none"/>
<g font-family="'Liberation Sans',sans-serif" font-size="13.4" fill="#4a4a4a">
<text x="1021.9" y="1297.1" text-anchor="end">95.9541</text>
<text x="1021.9" y="1386.3" text-anchor="end">87.7438</text>
<text x="1021.9" y="1475.4" text-anchor="end">79.5335</text>
<text x="1021.9" y="1564.5" text-anchor="end">71.3232</text>
<text x="1021.9" y="1653.7" text-anchor="end">63.1129</text>
<text x="1021.9" y="1743.2" text-anchor="end">54.9026</text>
<text x="1062.3" y="1792.9" text-anchor="middle">-0.843</text>
<text x="1182.4" y="1792.9" text-anchor="middle">-0.432</text>
<text x="1300.8" y="1792.9" text-anchor="middle">-0.022</text>
<text x="1420.3" y="1792.9" text-anchor="middle">0.389</text>
<text x="1539.3" y="1792.9" text-anchor="middle">0.799</text>
</g>
<clipPath id="cp_h"><rect x="1034.9" y="1265.9" width="534.3" height="499.5"/></clipPath>
<g clip-path="url(#cp_h)">
<path d="M1036.9 1298.5L1050.5 1300.5L1064.1 1302.5L1077.7 1304.5L1091.3 1306.5L1104.9 1308.6L1118.5 1310.7L1132 1312.8L1145.6 1314.9L1159.2 1317L1172.8 1319.1L1186.4 1321.3L1200 1323.5L1213.6 1325.7L1227.2 1327.9L1240.8 1330.1L1254.4 1332.4L1268 1334.6L1281.6 1336.9L1295.2 1339.2L1308.8 1341.5L1322.4 1343.9L1336 1346.2L1349.6 1348.6L1363.2 1351L1376.8 1353.4L1390.4 1355.8L1404 1358.3L1417.6 1360.7L1431.1 1363.2L1444.7 1365.7L1458.3 1368.2L1471.9 1370.8L1485.5 1373.3L1499.1 1375.9L1512.7 1378.5L1526.3 1381.1L1539.9 1383.7L1553.5 1386.4L1567.1 1389" fill="none" stroke="#3cb043" stroke-width="1.6"/>
<path d="M1046.4 1295.8L1036.9 1298.5L1045.2 1303.8" fill="none" stroke="#3cb043" stroke-width="1.5"/>
<path d="M1557.5 1391.3L1567.1 1389L1559 1383.3" fill="none" stroke="#3cb043" stroke-width="1.5"/>
<path d="M1036.9 1415.8L1050.5 1410.9L1064.1 1406L1077.7 1401.3L1091.3 1396.8L1104.9 1392.3L1118.5 1388L1132 1383.8L1145.6 1379.7L1159.2 1375.8L1172.8 1372L1186.4 1368.3L1200 1364.8L1213.6 1361.4L1227.2 1358.1L1240.8 1355L1254.4 1351.9L1268 1349L1281.6 1346.3L1295.2 1343.7L1308.8 1341.2L1322.4 1338.8L1336 1336.5L1349.6 1334.4L1363.2 1332.5L1376.8 1330.6L1390.4 1328.9L1404 1327.3L1417.6 1325.8L1431.1 1324.5L1444.7 1323.3L1458.3 1322.2L1471.9 1321.3L1485.5 1320.5L1499.1 1319.8L1512.7 1319.3L1526.3 1318.8L1539.9 1318.6L1553.5 1318.4L1567.1 1318.4" fill="none" stroke="#a8a8a8" stroke-width="1.6"/>
<path d="M1044 1409L1036.9 1415.8L1046.7 1416.6" fill="none" stroke="#a8a8a8" stroke-width="1.5"/>
<path d="M1558.1 1322.5L1567.1 1318.4L1558.1 1314.4" fill="none" stroke="#a8a8a8" stroke-width="1.5"/>
<path d="M1036.9 1429.8L1050.5 1423.6L1064.1 1417.7L1077.7 1411.9L1091.3 1406.3L1104.9 1400.9L1118.5 1395.6L1132 1390.6L1145.6 1385.7L1159.2 1381L1172.8 1376.5L1186.4 1372.1L1200 1368L1213.6 1364L1227.2 1360.2L1240.8 1356.6L1254.4 1353.1L1268 1349.8L1281.6 1346.8L1295.2 1343.9L1308.8 1341.1L1322.4 1338.6L1336 1336.2L1349.6 1334.1L1363.2 1332.1L1376.8 1330.2L1390.4 1328.6L1404 1327.1L1417.6 1325.8L1431.1 1324.7L1444.7 1323.8L1458.3 1323.1L1471.9 1322.5L1485.5 1322.1L1499.1 1321.9L1512.7 1321.9L1526.3 1322L1539.9 1322.4L1553.5 1322.9L1567.1 1323.6" fill="none" stroke="#4848ff" stroke-width="1.6"/>
<path d="M1043.5 1422.4L1036.9 1429.8L1046.7 1429.8" fill="none" stroke="#4848ff" stroke-width="1.5"/>
<path d="M1557.9 1327.2L1567.1 1323.6L1558.3 1319.1" fill="none" stroke="#4848ff" stroke-width="1.5"/>
<path d="M1036.9 1388L1050.5 1385.3L1064.1 1382.6L1077.7 1379.9L1091.3 1377.3L1104.9 1374.7L1118.5 1372.2L1132 1369.7L1145.6 1367.3L1159.2 1364.9L1172.8 1362.5L1186.4 1360.2L1200 1357.9L1213.6 1355.7L1227.2 1353.5L1240.8 1351.3L1254.4 1349.2L1268 1347.2L1281.6 1345.1L1295.2 1343.1L1308.8 1341.2L1322.4 1339.3L1336 1337.4L1349.6 1335.6L1363.2 1333.8L1376.8 1332.1L1390.4 1330.4L1404 1328.7L1417.6 1327.1L1431.1 1325.5L1444.7 1324L1458.3 1322.5L1471.9 1321.1L1485.5 1319.7L1499.1 1318.3L1512.7 1317L1526.3 1315.7L1539.9 1314.5L1553.5 1313.3L1567.1 1312.1" fill="none" stroke="#a335a3" stroke-width="1.6"/>
<path d="M1044.9 1382.3L1036.9 1388L1046.5 1390.2" fill="none" stroke="#a335a3" stroke-width="1.5"/>
<path d="M1558.5 1316.9L1567.1 1312.1L1557.8 1308.8" fill="none" stroke="#a335a3" stroke-width="1.5"/>
<path d="M1166.7 1268.6L1177 1272L1187.3 1275.6L1197.5 1279.6L1207.8 1283.9L1218.1 1288.5L1228.3 1293.4L1238.6 1298.5L1248.9 1304L1259.1 1309.8L1269.4 1315.9L1279.7 1322.3L1289.9 1329L1300.2 1336L1310.5 1343.3L1320.7 1350.9L1331 1358.8L1341.3 1367L1351.5 1375.5L1361.8 1384.4L1372.1 1393.5L1382.3 1402.9L1392.6 1412.6L1402.9 1422.6L1413.1 1432.9L1423.4 1443.6L1433.6 1454.5L1443.9 1465.7L1454.2 1477.3L1464.4 1489.1L1474.7 1501.2L1485 1513.7L1495.2 1526.4L1505.5 1539.4L1515.8 1552.8L1526 1566.4L1536.3 1580.4L1546.6 1594.6L1556.8 1609.2L1567.1 1624" fill="none" stroke="#35b5b5" stroke-width="1.6"/>
<path d="M1176.6 1267.7L1166.7 1268.6L1173.9 1275.3" fill="none" stroke="#35b5b5" stroke-width="1.5"/>
<path d="M1558.6 1619L1567.1 1624L1565.3 1614.3" fill="none" stroke="#35b5b5" stroke-width="1.5"/>
</g>
<g font-family="'Liberation Sans',sans-serif" font-size="15" text-anchor="middle">
<text x="1042.1" y="1296.2" fill="#3cb043">A</text>
<text x="1546.2" y="1383.2" fill="#3cb043">A</text>
<text x="1042.1" y="1410.4" fill="#a8a8a8">C</text>
<text x="1548.7" y="1310.1" fill="#a8a8a8">C</text>
<text x="1041.4" y="1426.8" fill="#4848ff">B</text>
<text x="1548.7" y="1318.8" fill="#4848ff">B</text>
<text x="1042.1" y="1382.6" fill="#a335a3">D</text>
<text x="1527.1" y="1309.4" fill="#a335a3">D</text>
<text x="1168.1" y="1291" fill="#35b5b5">E</text>
<text x="1548" y="1620.7" fill="#35b5b5">E</text>
</g>
<circle cx="1307.7" cy="1341.3" r="5" fill="#000"/>
<g font-family="'Liberation Serif',serif" font-weight="bold" fill="#111" text-anchor="middle">
<text transform="translate(1283.4 1253)" font-size="22.3" textLength="123.6" lengthAdjust="spacingAndGlyphs" y="6.7">Perturbation</text>
<text transform="translate(1299.8 1806.5)" font-size="19.1" textLength="376" lengthAdjust="spacingAndGlyphs" y="5.7">Deviation from Reference Point (Coded Units)</text>
<text transform="translate(953.7 1520.3) rotate(-90)" font-size="17.8" textLength="153" lengthAdjust="spacingAndGlyphs" y="5.3">Cr(VI) removal (%)</text>
<text x="1274.7" y="1442" font-size="35" text-anchor="start">(h)</text>
</g>
</g>
</g>
</svg>
</body></html>
